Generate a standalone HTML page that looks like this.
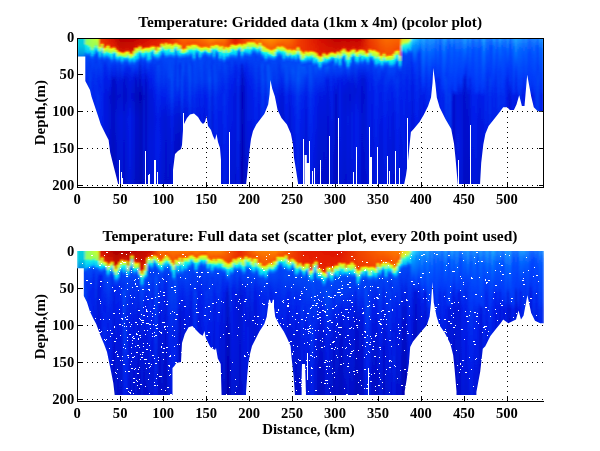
<!DOCTYPE html>
<html><head><meta charset="utf-8"><style>
html,body{margin:0;padding:0;background:#fff;width:600px;height:451px;overflow:hidden}
svg{display:block;will-change:transform}
text{font-family:"Liberation Serif",serif;font-weight:bold;fill:#000}
.t{font-size:14.6px}
.ti{font-size:15.3px}
.l{font-size:15px}
</style></head><body>
<svg width="600" height="451" viewBox="0 0 600 451">
<defs><linearGradient id="a0" gradientUnits="userSpaceOnUse" x1="0" y1="38.0" x2="0" y2="187.0"><stop offset="0.000" stop-color="#00d2dc"/><stop offset="0.054" stop-color="#00c8e1"/><stop offset="0.101" stop-color="#00a0e4"/><stop offset="0.124" stop-color="#0078eb"/><stop offset="0.148" stop-color="#003cfa"/><stop offset="0.188" stop-color="#0334f0"/><stop offset="0.282" stop-color="#042aee"/><stop offset="0.389" stop-color="#0421eb"/><stop offset="0.537" stop-color="#041ce7"/><stop offset="0.718" stop-color="#0419e0"/><stop offset="1.000" stop-color="#0315d7"/></linearGradient><linearGradient id="a1" gradientUnits="userSpaceOnUse" x1="0" y1="38.0" x2="0" y2="187.0"><stop offset="0.000" stop-color="#00d2dc"/><stop offset="0.054" stop-color="#00c8e1"/><stop offset="0.101" stop-color="#00a0e4"/><stop offset="0.124" stop-color="#0078eb"/><stop offset="0.148" stop-color="#003cfa"/><stop offset="0.188" stop-color="#0243f4"/><stop offset="0.282" stop-color="#0339f1"/><stop offset="0.389" stop-color="#0330ef"/><stop offset="0.537" stop-color="#0429ed"/><stop offset="0.718" stop-color="#0421eb"/><stop offset="1.000" stop-color="#041be4"/></linearGradient><linearGradient id="a2" gradientUnits="userSpaceOnUse" x1="0" y1="38.0" x2="0" y2="187.0"><stop offset="0.000" stop-color="#00d2dc"/><stop offset="0.054" stop-color="#00c8e1"/><stop offset="0.101" stop-color="#00a0e4"/><stop offset="0.124" stop-color="#0078eb"/><stop offset="0.148" stop-color="#003cfa"/><stop offset="0.188" stop-color="#032fef"/><stop offset="0.282" stop-color="#0425ec"/><stop offset="0.389" stop-color="#041de9"/><stop offset="0.537" stop-color="#041ae3"/><stop offset="0.718" stop-color="#0317dc"/><stop offset="1.000" stop-color="#0313d2"/></linearGradient><linearGradient id="a3" gradientUnits="userSpaceOnUse" x1="0" y1="38.0" x2="0" y2="187.0"><stop offset="0.000" stop-color="#00d2dc"/><stop offset="0.054" stop-color="#00c8e1"/><stop offset="0.101" stop-color="#00a0e4"/><stop offset="0.124" stop-color="#0078eb"/><stop offset="0.148" stop-color="#003cfa"/><stop offset="0.188" stop-color="#033df2"/><stop offset="0.282" stop-color="#0333f0"/><stop offset="0.389" stop-color="#042aee"/><stop offset="0.537" stop-color="#0423ec"/><stop offset="0.718" stop-color="#041de8"/><stop offset="1.000" stop-color="#0419df"/></linearGradient><linearGradient id="a4" gradientUnits="userSpaceOnUse" x1="0" y1="38.0" x2="0" y2="187.0"><stop offset="0.000" stop-color="#7fff71"/><stop offset="0.038" stop-color="#96ff5a"/><stop offset="0.051" stop-color="#14f0e6"/><stop offset="0.093" stop-color="#00beff"/><stop offset="0.103" stop-color="#0078ff"/><stop offset="0.120" stop-color="#0046f8"/><stop offset="0.295" stop-color="#0427ed"/><stop offset="0.389" stop-color="#0421eb"/><stop offset="0.537" stop-color="#041ce8"/><stop offset="0.718" stop-color="#0419e1"/><stop offset="1.000" stop-color="#0315d7"/></linearGradient><linearGradient id="a5" gradientUnits="userSpaceOnUse" x1="0" y1="38.0" x2="0" y2="187.0"><stop offset="0.000" stop-color="#8eff64"/><stop offset="0.043" stop-color="#96ff5a"/><stop offset="0.056" stop-color="#14f0e6"/><stop offset="0.101" stop-color="#00beff"/><stop offset="0.111" stop-color="#0078ff"/><stop offset="0.127" stop-color="#0046f8"/><stop offset="0.302" stop-color="#0426ed"/><stop offset="0.389" stop-color="#041dea"/><stop offset="0.537" stop-color="#041be4"/><stop offset="0.718" stop-color="#0418dd"/><stop offset="1.000" stop-color="#0314d4"/></linearGradient><linearGradient id="a6" gradientUnits="userSpaceOnUse" x1="0" y1="38.0" x2="0" y2="187.0"><stop offset="0.000" stop-color="#9cff56"/><stop offset="0.054" stop-color="#96ff5a"/><stop offset="0.067" stop-color="#14f0e6"/><stop offset="0.094" stop-color="#00beff"/><stop offset="0.104" stop-color="#0078ff"/><stop offset="0.121" stop-color="#0046f8"/><stop offset="0.174" stop-color="#0334f0"/><stop offset="0.282" stop-color="#023ff3"/><stop offset="0.389" stop-color="#0336f1"/><stop offset="0.537" stop-color="#032fef"/><stop offset="0.718" stop-color="#0427ed"/><stop offset="1.000" stop-color="#041dea"/></linearGradient><linearGradient id="a7" gradientUnits="userSpaceOnUse" x1="0" y1="38.0" x2="0" y2="187.0"><stop offset="0.000" stop-color="#abff49"/><stop offset="0.075" stop-color="#96ff5a"/><stop offset="0.088" stop-color="#14f0e6"/><stop offset="0.118" stop-color="#00beff"/><stop offset="0.128" stop-color="#0078ff"/><stop offset="0.145" stop-color="#0046f8"/><stop offset="0.319" stop-color="#0424ec"/><stop offset="0.389" stop-color="#042cee"/><stop offset="0.537" stop-color="#0426ed"/><stop offset="0.718" stop-color="#041eeb"/><stop offset="1.000" stop-color="#041ae1"/></linearGradient><linearGradient id="a8" gradientUnits="userSpaceOnUse" x1="0" y1="38.0" x2="0" y2="187.0"><stop offset="0.000" stop-color="#baff3c"/><stop offset="0.060" stop-color="#96ff5a"/><stop offset="0.073" stop-color="#14f0e6"/><stop offset="0.103" stop-color="#00beff"/><stop offset="0.113" stop-color="#0078ff"/><stop offset="0.130" stop-color="#0046f8"/><stop offset="0.251" stop-color="#042aee"/><stop offset="0.282" stop-color="#042dee"/><stop offset="0.389" stop-color="#0424ec"/><stop offset="0.537" stop-color="#041eeb"/><stop offset="0.718" stop-color="#041be4"/><stop offset="1.000" stop-color="#0317db"/></linearGradient><linearGradient id="a9" gradientUnits="userSpaceOnUse" x1="0" y1="38.0" x2="0" y2="187.0"><stop offset="0.000" stop-color="#c8ff2e"/><stop offset="0.044" stop-color="#96ff5a"/><stop offset="0.057" stop-color="#14f0e6"/><stop offset="0.080" stop-color="#00beff"/><stop offset="0.090" stop-color="#0078ff"/><stop offset="0.107" stop-color="#0046f8"/><stop offset="0.161" stop-color="#0335f0"/><stop offset="0.188" stop-color="#023ef3"/><stop offset="0.282" stop-color="#0332f0"/><stop offset="0.389" stop-color="#0429ed"/><stop offset="0.537" stop-color="#0424ec"/><stop offset="0.718" stop-color="#041dea"/><stop offset="1.000" stop-color="#0419e0"/></linearGradient><linearGradient id="a10" gradientUnits="userSpaceOnUse" x1="0" y1="38.0" x2="0" y2="187.0"><stop offset="0.000" stop-color="#d7ff21"/><stop offset="0.063" stop-color="#96ff5a"/><stop offset="0.077" stop-color="#14f0e6"/><stop offset="0.090" stop-color="#00beff"/><stop offset="0.100" stop-color="#0078ff"/><stop offset="0.117" stop-color="#0046f8"/><stop offset="0.292" stop-color="#0424ec"/><stop offset="0.389" stop-color="#0331ef"/><stop offset="0.537" stop-color="#042cee"/><stop offset="0.718" stop-color="#0425ec"/><stop offset="1.000" stop-color="#041ce8"/></linearGradient><linearGradient id="a11" gradientUnits="userSpaceOnUse" x1="0" y1="38.0" x2="0" y2="187.0"><stop offset="0.000" stop-color="#eb3c00"/><stop offset="0.047" stop-color="#ed3400"/><stop offset="0.057" stop-color="#ff8c00"/><stop offset="0.063" stop-color="#ebff14"/><stop offset="0.087" stop-color="#96ff64"/><stop offset="0.094" stop-color="#14ffe6"/><stop offset="0.121" stop-color="#00c8ff"/><stop offset="0.134" stop-color="#0078ff"/><stop offset="0.151" stop-color="#0046f8"/><stop offset="0.325" stop-color="#041feb"/><stop offset="0.389" stop-color="#0425ec"/><stop offset="0.537" stop-color="#0422ec"/><stop offset="0.718" stop-color="#041ce8"/><stop offset="1.000" stop-color="#0418de"/></linearGradient><linearGradient id="a12" gradientUnits="userSpaceOnUse" x1="0" y1="38.0" x2="0" y2="187.0"><stop offset="0.000" stop-color="#e73500"/><stop offset="0.028" stop-color="#eb3100"/><stop offset="0.038" stop-color="#ff8c00"/><stop offset="0.044" stop-color="#ebff14"/><stop offset="0.064" stop-color="#96ff64"/><stop offset="0.071" stop-color="#14ffe6"/><stop offset="0.087" stop-color="#00c8ff"/><stop offset="0.101" stop-color="#0078ff"/><stop offset="0.118" stop-color="#0046f8"/><stop offset="0.138" stop-color="#0337f1"/><stop offset="0.188" stop-color="#033df2"/><stop offset="0.282" stop-color="#032fef"/><stop offset="0.389" stop-color="#0426ed"/><stop offset="0.537" stop-color="#0424ec"/><stop offset="0.718" stop-color="#041dea"/><stop offset="1.000" stop-color="#0419e0"/></linearGradient><linearGradient id="a13" gradientUnits="userSpaceOnUse" x1="0" y1="38.0" x2="0" y2="187.0"><stop offset="0.000" stop-color="#e42e00"/><stop offset="0.059" stop-color="#ea2d00"/><stop offset="0.069" stop-color="#ff8c00"/><stop offset="0.076" stop-color="#ebff14"/><stop offset="0.100" stop-color="#96ff64"/><stop offset="0.106" stop-color="#14ffe6"/><stop offset="0.120" stop-color="#00c8ff"/><stop offset="0.134" stop-color="#0078ff"/><stop offset="0.150" stop-color="#0046f8"/><stop offset="0.164" stop-color="#0334f0"/><stop offset="0.188" stop-color="#042aee"/><stop offset="0.282" stop-color="#041de8"/><stop offset="0.389" stop-color="#0419e1"/><stop offset="0.537" stop-color="#0419e0"/><stop offset="0.718" stop-color="#0316d9"/><stop offset="1.000" stop-color="#0312d0"/></linearGradient><linearGradient id="a14" gradientUnits="userSpaceOnUse" x1="0" y1="38.0" x2="0" y2="187.0"><stop offset="0.000" stop-color="#e12800"/><stop offset="0.052" stop-color="#e82a00"/><stop offset="0.062" stop-color="#ff8c00"/><stop offset="0.069" stop-color="#ebff14"/><stop offset="0.088" stop-color="#96ff64"/><stop offset="0.094" stop-color="#14ffe6"/><stop offset="0.111" stop-color="#00c8ff"/><stop offset="0.124" stop-color="#0078ff"/><stop offset="0.141" stop-color="#0046f8"/><stop offset="0.161" stop-color="#0334f0"/><stop offset="0.188" stop-color="#0428ed"/><stop offset="0.282" stop-color="#041be5"/><stop offset="0.389" stop-color="#0418de"/><stop offset="0.537" stop-color="#0418de"/><stop offset="0.718" stop-color="#0316d8"/><stop offset="1.000" stop-color="#0312cf"/></linearGradient><linearGradient id="a15" gradientUnits="userSpaceOnUse" x1="0" y1="38.0" x2="0" y2="187.0"><stop offset="0.000" stop-color="#dd2100"/><stop offset="0.040" stop-color="#e62700"/><stop offset="0.050" stop-color="#ff8c00"/><stop offset="0.057" stop-color="#ebff14"/><stop offset="0.094" stop-color="#96ff64"/><stop offset="0.100" stop-color="#14ffe6"/><stop offset="0.114" stop-color="#00c8ff"/><stop offset="0.128" stop-color="#0078ff"/><stop offset="0.144" stop-color="#0046f8"/><stop offset="0.265" stop-color="#0420eb"/><stop offset="0.389" stop-color="#0317db"/><stop offset="0.537" stop-color="#0418dd"/><stop offset="0.718" stop-color="#0315d7"/><stop offset="1.000" stop-color="#0211cd"/></linearGradient><linearGradient id="a16" gradientUnits="userSpaceOnUse" x1="0" y1="38.0" x2="0" y2="187.0"><stop offset="0.000" stop-color="#da1a00"/><stop offset="0.057" stop-color="#e52300"/><stop offset="0.067" stop-color="#ff8c00"/><stop offset="0.074" stop-color="#ebff14"/><stop offset="0.097" stop-color="#96ff64"/><stop offset="0.104" stop-color="#14ffe6"/><stop offset="0.122" stop-color="#00c8ff"/><stop offset="0.135" stop-color="#0078ff"/><stop offset="0.152" stop-color="#0046f8"/><stop offset="0.326" stop-color="#041ae3"/><stop offset="0.389" stop-color="#0211ce"/><stop offset="0.537" stop-color="#0313d2"/><stop offset="0.718" stop-color="#0210cc"/><stop offset="1.000" stop-color="#020cc2"/></linearGradient><linearGradient id="a17" gradientUnits="userSpaceOnUse" x1="0" y1="38.0" x2="0" y2="187.0"><stop offset="0.000" stop-color="#d71400"/><stop offset="0.059" stop-color="#e32000"/><stop offset="0.069" stop-color="#ff8c00"/><stop offset="0.076" stop-color="#ebff14"/><stop offset="0.103" stop-color="#96ff64"/><stop offset="0.109" stop-color="#14ffe6"/><stop offset="0.136" stop-color="#00c8ff"/><stop offset="0.150" stop-color="#0078ff"/><stop offset="0.167" stop-color="#0046f8"/><stop offset="0.187" stop-color="#032fef"/><stop offset="0.282" stop-color="#0211cc"/><stop offset="0.389" stop-color="#020dc5"/><stop offset="0.537" stop-color="#0210ca"/><stop offset="0.718" stop-color="#020dc4"/><stop offset="1.000" stop-color="#0109bb"/></linearGradient><linearGradient id="a18" gradientUnits="userSpaceOnUse" x1="0" y1="38.0" x2="0" y2="187.0"><stop offset="0.000" stop-color="#ce0f00"/><stop offset="0.053" stop-color="#df1e00"/><stop offset="0.064" stop-color="#ff8c00"/><stop offset="0.070" stop-color="#ebff14"/><stop offset="0.090" stop-color="#96ff64"/><stop offset="0.097" stop-color="#14ffe6"/><stop offset="0.100" stop-color="#00c8ff"/><stop offset="0.114" stop-color="#0078ff"/><stop offset="0.130" stop-color="#0046f8"/><stop offset="0.251" stop-color="#041eeb"/><stop offset="0.282" stop-color="#020ec5"/><stop offset="0.389" stop-color="#010abe"/><stop offset="0.537" stop-color="#020ec5"/><stop offset="0.718" stop-color="#010bbf"/><stop offset="1.000" stop-color="#0107b6"/></linearGradient><linearGradient id="a19" gradientUnits="userSpaceOnUse" x1="0" y1="38.0" x2="0" y2="187.0"><stop offset="0.000" stop-color="#c50a00"/><stop offset="0.068" stop-color="#da1b00"/><stop offset="0.078" stop-color="#ff8c00"/><stop offset="0.084" stop-color="#ebff14"/><stop offset="0.099" stop-color="#96ff64"/><stop offset="0.106" stop-color="#14ffe6"/><stop offset="0.133" stop-color="#00c8ff"/><stop offset="0.146" stop-color="#0078ff"/><stop offset="0.163" stop-color="#0046f8"/><stop offset="0.183" stop-color="#032eef"/><stop offset="0.282" stop-color="#0312d0"/><stop offset="0.389" stop-color="#020fc9"/><stop offset="0.537" stop-color="#0313d2"/><stop offset="0.718" stop-color="#0211cc"/><stop offset="1.000" stop-color="#020dc3"/></linearGradient><linearGradient id="a20" gradientUnits="userSpaceOnUse" x1="0" y1="38.0" x2="0" y2="187.0"><stop offset="0.000" stop-color="#bc0500"/><stop offset="0.080" stop-color="#d61900"/><stop offset="0.090" stop-color="#ff8c00"/><stop offset="0.097" stop-color="#ebff14"/><stop offset="0.122" stop-color="#96ff64"/><stop offset="0.128" stop-color="#14ffe6"/><stop offset="0.140" stop-color="#00c8ff"/><stop offset="0.153" stop-color="#0078ff"/><stop offset="0.170" stop-color="#0046f8"/><stop offset="0.291" stop-color="#0419df"/><stop offset="0.389" stop-color="#0211ce"/><stop offset="0.537" stop-color="#0316d9"/><stop offset="0.718" stop-color="#0314d4"/><stop offset="1.000" stop-color="#0210ca"/></linearGradient><linearGradient id="a21" gradientUnits="userSpaceOnUse" x1="0" y1="38.0" x2="0" y2="187.0"><stop offset="0.000" stop-color="#b40000"/><stop offset="0.085" stop-color="#d21600"/><stop offset="0.095" stop-color="#ff8c00"/><stop offset="0.101" stop-color="#ebff14"/><stop offset="0.116" stop-color="#96ff64"/><stop offset="0.122" stop-color="#14ffe6"/><stop offset="0.127" stop-color="#00c8ff"/><stop offset="0.140" stop-color="#0078ff"/><stop offset="0.157" stop-color="#0046f8"/><stop offset="0.171" stop-color="#0330ef"/><stop offset="0.282" stop-color="#0315d6"/><stop offset="0.389" stop-color="#0211ce"/><stop offset="0.537" stop-color="#0317db"/><stop offset="0.718" stop-color="#0315d6"/><stop offset="1.000" stop-color="#0211cc"/></linearGradient><linearGradient id="a22" gradientUnits="userSpaceOnUse" x1="0" y1="38.0" x2="0" y2="187.0"><stop offset="0.000" stop-color="#b50000"/><stop offset="0.089" stop-color="#d21600"/><stop offset="0.099" stop-color="#ff8c00"/><stop offset="0.106" stop-color="#ebff14"/><stop offset="0.121" stop-color="#96ff64"/><stop offset="0.128" stop-color="#14ffe6"/><stop offset="0.152" stop-color="#00c8ff"/><stop offset="0.166" stop-color="#0078ff"/><stop offset="0.183" stop-color="#0046f8"/><stop offset="0.303" stop-color="#0316d9"/><stop offset="0.389" stop-color="#0313d2"/><stop offset="0.537" stop-color="#0419e0"/><stop offset="0.718" stop-color="#0317db"/><stop offset="1.000" stop-color="#0313d2"/></linearGradient><linearGradient id="a23" gradientUnits="userSpaceOnUse" x1="0" y1="38.0" x2="0" y2="187.0"><stop offset="0.000" stop-color="#b60000"/><stop offset="0.090" stop-color="#d31600"/><stop offset="0.100" stop-color="#ff8c00"/><stop offset="0.107" stop-color="#ebff14"/><stop offset="0.123" stop-color="#96ff64"/><stop offset="0.129" stop-color="#14ffe6"/><stop offset="0.133" stop-color="#00c8ff"/><stop offset="0.146" stop-color="#0078ff"/><stop offset="0.163" stop-color="#0046f8"/><stop offset="0.243" stop-color="#041ce7"/><stop offset="0.282" stop-color="#0210cb"/><stop offset="0.389" stop-color="#020dc3"/><stop offset="0.537" stop-color="#0313d3"/><stop offset="0.718" stop-color="#0211ce"/><stop offset="1.000" stop-color="#020dc5"/></linearGradient><linearGradient id="a24" gradientUnits="userSpaceOnUse" x1="0" y1="38.0" x2="0" y2="187.0"><stop offset="0.000" stop-color="#b70000"/><stop offset="0.082" stop-color="#d31600"/><stop offset="0.092" stop-color="#ff8c00"/><stop offset="0.099" stop-color="#ebff14"/><stop offset="0.127" stop-color="#96ff64"/><stop offset="0.134" stop-color="#14ffe6"/><stop offset="0.137" stop-color="#00c8ff"/><stop offset="0.150" stop-color="#0078ff"/><stop offset="0.167" stop-color="#0046f8"/><stop offset="0.201" stop-color="#0427ed"/><stop offset="0.282" stop-color="#0313d2"/><stop offset="0.389" stop-color="#020fca"/><stop offset="0.537" stop-color="#0317da"/><stop offset="0.718" stop-color="#0315d6"/><stop offset="1.000" stop-color="#0211cc"/></linearGradient><linearGradient id="a25" gradientUnits="userSpaceOnUse" x1="0" y1="38.0" x2="0" y2="187.0"><stop offset="0.000" stop-color="#b90000"/><stop offset="0.080" stop-color="#d41600"/><stop offset="0.090" stop-color="#ff8c00"/><stop offset="0.096" stop-color="#ebff14"/><stop offset="0.114" stop-color="#96ff64"/><stop offset="0.121" stop-color="#14ffe6"/><stop offset="0.131" stop-color="#00c8ff"/><stop offset="0.145" stop-color="#0078ff"/><stop offset="0.162" stop-color="#0046f8"/><stop offset="0.195" stop-color="#0428ed"/><stop offset="0.282" stop-color="#0316d8"/><stop offset="0.389" stop-color="#0312d0"/><stop offset="0.537" stop-color="#041ae1"/><stop offset="0.718" stop-color="#0418dd"/><stop offset="1.000" stop-color="#0314d4"/></linearGradient><linearGradient id="a26" gradientUnits="userSpaceOnUse" x1="0" y1="38.0" x2="0" y2="187.0"><stop offset="0.000" stop-color="#ba0000"/><stop offset="0.094" stop-color="#d51600"/><stop offset="0.104" stop-color="#ff8c00"/><stop offset="0.111" stop-color="#ebff14"/><stop offset="0.133" stop-color="#96ff64"/><stop offset="0.140" stop-color="#14ffe6"/><stop offset="0.154" stop-color="#00c8ff"/><stop offset="0.168" stop-color="#0078ff"/><stop offset="0.184" stop-color="#0046f8"/><stop offset="0.205" stop-color="#0426ed"/><stop offset="0.282" stop-color="#041ae1"/><stop offset="0.389" stop-color="#0316d9"/><stop offset="0.537" stop-color="#041dea"/><stop offset="0.718" stop-color="#041ce6"/><stop offset="1.000" stop-color="#0418dd"/></linearGradient><linearGradient id="a27" gradientUnits="userSpaceOnUse" x1="0" y1="38.0" x2="0" y2="187.0"><stop offset="0.000" stop-color="#bb0000"/><stop offset="0.097" stop-color="#d51600"/><stop offset="0.107" stop-color="#ff8c00"/><stop offset="0.114" stop-color="#ebff14"/><stop offset="0.128" stop-color="#96ff64"/><stop offset="0.135" stop-color="#14ffe6"/><stop offset="0.139" stop-color="#00c8ff"/><stop offset="0.152" stop-color="#0078ff"/><stop offset="0.169" stop-color="#0046f8"/><stop offset="0.290" stop-color="#0316d8"/><stop offset="0.389" stop-color="#0210cc"/><stop offset="0.537" stop-color="#0418dd"/><stop offset="0.718" stop-color="#0316d9"/><stop offset="1.000" stop-color="#0312d0"/></linearGradient><linearGradient id="a28" gradientUnits="userSpaceOnUse" x1="0" y1="38.0" x2="0" y2="187.0"><stop offset="0.000" stop-color="#bc0000"/><stop offset="0.077" stop-color="#d61600"/><stop offset="0.087" stop-color="#ff8c00"/><stop offset="0.093" stop-color="#ebff14"/><stop offset="0.117" stop-color="#96ff64"/><stop offset="0.123" stop-color="#14ffe6"/><stop offset="0.154" stop-color="#00c8ff"/><stop offset="0.167" stop-color="#0078ff"/><stop offset="0.184" stop-color="#0046f8"/><stop offset="0.265" stop-color="#0419df"/><stop offset="0.389" stop-color="#0210ca"/><stop offset="0.537" stop-color="#0317da"/><stop offset="0.718" stop-color="#0315d7"/><stop offset="1.000" stop-color="#0211ce"/></linearGradient><linearGradient id="a29" gradientUnits="userSpaceOnUse" x1="0" y1="38.0" x2="0" y2="187.0"><stop offset="0.000" stop-color="#be0000"/><stop offset="0.057" stop-color="#d71600"/><stop offset="0.067" stop-color="#ff8c00"/><stop offset="0.073" stop-color="#ebff14"/><stop offset="0.100" stop-color="#96ff64"/><stop offset="0.107" stop-color="#14ffe6"/><stop offset="0.139" stop-color="#00c8ff"/><stop offset="0.152" stop-color="#0078ff"/><stop offset="0.169" stop-color="#0046f8"/><stop offset="0.223" stop-color="#0421eb"/><stop offset="0.282" stop-color="#020cc1"/><stop offset="0.389" stop-color="#0108b8"/><stop offset="0.537" stop-color="#020ec7"/><stop offset="0.718" stop-color="#020dc4"/><stop offset="1.000" stop-color="#0109bb"/></linearGradient><linearGradient id="a30" gradientUnits="userSpaceOnUse" x1="0" y1="38.0" x2="0" y2="187.0"><stop offset="0.000" stop-color="#c10200"/><stop offset="0.058" stop-color="#d81700"/><stop offset="0.068" stop-color="#ff8c00"/><stop offset="0.075" stop-color="#ebff14"/><stop offset="0.095" stop-color="#96ff64"/><stop offset="0.101" stop-color="#14ffe6"/><stop offset="0.133" stop-color="#00c8ff"/><stop offset="0.147" stop-color="#0078ff"/><stop offset="0.164" stop-color="#0046f8"/><stop offset="0.284" stop-color="#0317dc"/><stop offset="0.389" stop-color="#010bc0"/><stop offset="0.537" stop-color="#0211cd"/><stop offset="0.718" stop-color="#0210cb"/><stop offset="1.000" stop-color="#020cc3"/></linearGradient><linearGradient id="a31" gradientUnits="userSpaceOnUse" x1="0" y1="38.0" x2="0" y2="187.0"><stop offset="0.000" stop-color="#c50400"/><stop offset="0.046" stop-color="#da1800"/><stop offset="0.056" stop-color="#ff8c00"/><stop offset="0.063" stop-color="#ebff14"/><stop offset="0.083" stop-color="#96ff64"/><stop offset="0.090" stop-color="#14ffe6"/><stop offset="0.093" stop-color="#00c8ff"/><stop offset="0.107" stop-color="#0078ff"/><stop offset="0.123" stop-color="#0046f8"/><stop offset="0.144" stop-color="#0335f0"/><stop offset="0.188" stop-color="#0314d5"/><stop offset="0.282" stop-color="#010abc"/><stop offset="0.389" stop-color="#0005b1"/><stop offset="0.537" stop-color="#010abd"/><stop offset="0.718" stop-color="#010abc"/><stop offset="1.000" stop-color="#0106b4"/></linearGradient><linearGradient id="a32" gradientUnits="userSpaceOnUse" x1="0" y1="38.0" x2="0" y2="187.0"><stop offset="0.000" stop-color="#c80600"/><stop offset="0.065" stop-color="#dc1900"/><stop offset="0.075" stop-color="#ff8c00"/><stop offset="0.082" stop-color="#ebff14"/><stop offset="0.099" stop-color="#96ff64"/><stop offset="0.105" stop-color="#14ffe6"/><stop offset="0.120" stop-color="#00c8ff"/><stop offset="0.134" stop-color="#0078ff"/><stop offset="0.151" stop-color="#0046f8"/><stop offset="0.271" stop-color="#041ae2"/><stop offset="0.389" stop-color="#0106b3"/><stop offset="0.537" stop-color="#010abc"/><stop offset="0.718" stop-color="#010abd"/><stop offset="1.000" stop-color="#0106b5"/></linearGradient><linearGradient id="a33" gradientUnits="userSpaceOnUse" x1="0" y1="38.0" x2="0" y2="187.0"><stop offset="0.000" stop-color="#cc0800"/><stop offset="0.060" stop-color="#de1a00"/><stop offset="0.070" stop-color="#ff8c00"/><stop offset="0.077" stop-color="#ebff14"/><stop offset="0.097" stop-color="#96ff64"/><stop offset="0.103" stop-color="#14ffe6"/><stop offset="0.122" stop-color="#00c8ff"/><stop offset="0.136" stop-color="#0078ff"/><stop offset="0.152" stop-color="#0046f8"/><stop offset="0.166" stop-color="#0332f0"/><stop offset="0.188" stop-color="#0429ed"/><stop offset="0.282" stop-color="#0418de"/><stop offset="0.389" stop-color="#0313d1"/><stop offset="0.537" stop-color="#0315d7"/><stop offset="0.718" stop-color="#0316d9"/><stop offset="1.000" stop-color="#0313d1"/></linearGradient><linearGradient id="a34" gradientUnits="userSpaceOnUse" x1="0" y1="38.0" x2="0" y2="187.0"><stop offset="0.000" stop-color="#cf0a00"/><stop offset="0.056" stop-color="#df1b00"/><stop offset="0.066" stop-color="#ff8c00"/><stop offset="0.072" stop-color="#ebff14"/><stop offset="0.086" stop-color="#96ff64"/><stop offset="0.093" stop-color="#14ffe6"/><stop offset="0.104" stop-color="#00c8ff"/><stop offset="0.118" stop-color="#0078ff"/><stop offset="0.134" stop-color="#0046f8"/><stop offset="0.188" stop-color="#032eef"/><stop offset="0.282" stop-color="#020fc9"/><stop offset="0.389" stop-color="#0109bc"/><stop offset="0.537" stop-color="#010bbf"/><stop offset="0.718" stop-color="#020cc2"/><stop offset="1.000" stop-color="#0109bb"/></linearGradient><linearGradient id="a35" gradientUnits="userSpaceOnUse" x1="0" y1="38.0" x2="0" y2="187.0"><stop offset="0.000" stop-color="#d30c00"/><stop offset="0.056" stop-color="#e11c00"/><stop offset="0.066" stop-color="#ff8c00"/><stop offset="0.073" stop-color="#ebff14"/><stop offset="0.095" stop-color="#96ff64"/><stop offset="0.102" stop-color="#14ffe6"/><stop offset="0.143" stop-color="#00c8ff"/><stop offset="0.156" stop-color="#0078ff"/><stop offset="0.173" stop-color="#0046f8"/><stop offset="0.254" stop-color="#0420eb"/><stop offset="0.282" stop-color="#041ae2"/><stop offset="0.389" stop-color="#0314d3"/><stop offset="0.537" stop-color="#0314d4"/><stop offset="0.718" stop-color="#0316d9"/><stop offset="1.000" stop-color="#0313d1"/></linearGradient><linearGradient id="a36" gradientUnits="userSpaceOnUse" x1="0" y1="38.0" x2="0" y2="187.0"><stop offset="0.000" stop-color="#d70f00"/><stop offset="0.054" stop-color="#e31e00"/><stop offset="0.065" stop-color="#ff8c00"/><stop offset="0.071" stop-color="#ebff14"/><stop offset="0.090" stop-color="#96ff64"/><stop offset="0.096" stop-color="#14ffe6"/><stop offset="0.138" stop-color="#00c8ff"/><stop offset="0.151" stop-color="#0078ff"/><stop offset="0.168" stop-color="#0046f8"/><stop offset="0.181" stop-color="#0332f0"/><stop offset="0.282" stop-color="#041dea"/><stop offset="0.389" stop-color="#0317db"/><stop offset="0.537" stop-color="#0316d9"/><stop offset="0.718" stop-color="#0418de"/><stop offset="1.000" stop-color="#0315d7"/></linearGradient><linearGradient id="a37" gradientUnits="userSpaceOnUse" x1="0" y1="38.0" x2="0" y2="187.0"><stop offset="0.000" stop-color="#d81100"/><stop offset="0.047" stop-color="#e41f00"/><stop offset="0.057" stop-color="#ff8c00"/><stop offset="0.064" stop-color="#ebff14"/><stop offset="0.080" stop-color="#96ff64"/><stop offset="0.086" stop-color="#14ffe6"/><stop offset="0.090" stop-color="#00c8ff"/><stop offset="0.104" stop-color="#0078ff"/><stop offset="0.121" stop-color="#0046f8"/><stop offset="0.174" stop-color="#0334f0"/><stop offset="0.282" stop-color="#041de9"/><stop offset="0.389" stop-color="#0316d9"/><stop offset="0.537" stop-color="#0314d5"/><stop offset="0.718" stop-color="#0316da"/><stop offset="1.000" stop-color="#0313d3"/></linearGradient><linearGradient id="a38" gradientUnits="userSpaceOnUse" x1="0" y1="38.0" x2="0" y2="187.0"><stop offset="0.000" stop-color="#da1400"/><stop offset="0.047" stop-color="#e52000"/><stop offset="0.057" stop-color="#ff8c00"/><stop offset="0.064" stop-color="#ebff14"/><stop offset="0.078" stop-color="#96ff64"/><stop offset="0.085" stop-color="#14ffe6"/><stop offset="0.114" stop-color="#00c8ff"/><stop offset="0.127" stop-color="#0078ff"/><stop offset="0.144" stop-color="#0046f8"/><stop offset="0.198" stop-color="#0332f0"/><stop offset="0.282" stop-color="#0427ed"/><stop offset="0.389" stop-color="#041ae3"/><stop offset="0.537" stop-color="#0317db"/><stop offset="0.718" stop-color="#0419e0"/><stop offset="1.000" stop-color="#0316d9"/></linearGradient><linearGradient id="a39" gradientUnits="userSpaceOnUse" x1="0" y1="38.0" x2="0" y2="187.0"><stop offset="0.000" stop-color="#dc1700"/><stop offset="0.073" stop-color="#e62200"/><stop offset="0.083" stop-color="#ff8c00"/><stop offset="0.089" stop-color="#ebff14"/><stop offset="0.105" stop-color="#96ff64"/><stop offset="0.112" stop-color="#14ffe6"/><stop offset="0.119" stop-color="#00c8ff"/><stop offset="0.133" stop-color="#0078ff"/><stop offset="0.149" stop-color="#0046f8"/><stop offset="0.183" stop-color="#0336f1"/><stop offset="0.282" stop-color="#0330ef"/><stop offset="0.389" stop-color="#041dea"/><stop offset="0.537" stop-color="#0419e0"/><stop offset="0.718" stop-color="#041be4"/><stop offset="1.000" stop-color="#0418dd"/></linearGradient><linearGradient id="a40" gradientUnits="userSpaceOnUse" x1="0" y1="38.0" x2="0" y2="187.0"><stop offset="0.000" stop-color="#dd1a00"/><stop offset="0.049" stop-color="#e62300"/><stop offset="0.059" stop-color="#ff8c00"/><stop offset="0.066" stop-color="#ebff14"/><stop offset="0.094" stop-color="#96ff64"/><stop offset="0.100" stop-color="#14ffe6"/><stop offset="0.123" stop-color="#00c8ff"/><stop offset="0.137" stop-color="#0078ff"/><stop offset="0.154" stop-color="#0046f8"/><stop offset="0.167" stop-color="#0339f1"/><stop offset="0.188" stop-color="#0249f5"/><stop offset="0.282" stop-color="#033df2"/><stop offset="0.389" stop-color="#042bee"/><stop offset="0.537" stop-color="#041de9"/><stop offset="0.718" stop-color="#041feb"/><stop offset="1.000" stop-color="#041be5"/></linearGradient><linearGradient id="a41" gradientUnits="userSpaceOnUse" x1="0" y1="38.0" x2="0" y2="187.0"><stop offset="0.000" stop-color="#df1c00"/><stop offset="0.054" stop-color="#e72400"/><stop offset="0.064" stop-color="#ff8c00"/><stop offset="0.070" stop-color="#ebff14"/><stop offset="0.084" stop-color="#96ff64"/><stop offset="0.091" stop-color="#14ffe6"/><stop offset="0.111" stop-color="#00c8ff"/><stop offset="0.125" stop-color="#0078ff"/><stop offset="0.141" stop-color="#0046f8"/><stop offset="0.155" stop-color="#033bf2"/><stop offset="0.188" stop-color="#023ff3"/><stop offset="0.282" stop-color="#0336f1"/><stop offset="0.389" stop-color="#0424ec"/><stop offset="0.537" stop-color="#0419e0"/><stop offset="0.718" stop-color="#041ae2"/><stop offset="1.000" stop-color="#0317db"/></linearGradient><linearGradient id="a42" gradientUnits="userSpaceOnUse" x1="0" y1="38.0" x2="0" y2="187.0"><stop offset="0.000" stop-color="#e11f00"/><stop offset="0.027" stop-color="#e82600"/><stop offset="0.037" stop-color="#ff8c00"/><stop offset="0.044" stop-color="#ebff14"/><stop offset="0.058" stop-color="#96ff64"/><stop offset="0.065" stop-color="#14ffe6"/><stop offset="0.085" stop-color="#00c8ff"/><stop offset="0.099" stop-color="#0078ff"/><stop offset="0.115" stop-color="#0046f8"/><stop offset="0.169" stop-color="#033cf2"/><stop offset="0.282" stop-color="#0330ef"/><stop offset="0.389" stop-color="#041feb"/><stop offset="0.537" stop-color="#0316d9"/><stop offset="0.718" stop-color="#0316d9"/><stop offset="1.000" stop-color="#0313d1"/></linearGradient><linearGradient id="a43" gradientUnits="userSpaceOnUse" x1="0" y1="38.0" x2="0" y2="187.0"><stop offset="0.000" stop-color="#e22200"/><stop offset="0.038" stop-color="#e92700"/><stop offset="0.048" stop-color="#ff8c00"/><stop offset="0.055" stop-color="#ebff14"/><stop offset="0.070" stop-color="#96ff64"/><stop offset="0.077" stop-color="#14ffe6"/><stop offset="0.093" stop-color="#00c8ff"/><stop offset="0.106" stop-color="#0078ff"/><stop offset="0.123" stop-color="#0046f8"/><stop offset="0.297" stop-color="#0338f1"/><stop offset="0.389" stop-color="#0420eb"/><stop offset="0.537" stop-color="#0315d7"/><stop offset="0.718" stop-color="#0314d5"/><stop offset="1.000" stop-color="#0211cd"/></linearGradient><linearGradient id="a44" gradientUnits="userSpaceOnUse" x1="0" y1="38.0" x2="0" y2="187.0"><stop offset="0.000" stop-color="#e42500"/><stop offset="0.023" stop-color="#ea2900"/><stop offset="0.033" stop-color="#ff8c00"/><stop offset="0.040" stop-color="#ebff14"/><stop offset="0.080" stop-color="#96ff64"/><stop offset="0.087" stop-color="#14ffe6"/><stop offset="0.110" stop-color="#00c8ff"/><stop offset="0.124" stop-color="#0078ff"/><stop offset="0.141" stop-color="#0046f8"/><stop offset="0.194" stop-color="#023ff3"/><stop offset="0.282" stop-color="#042dee"/><stop offset="0.389" stop-color="#041eeb"/><stop offset="0.537" stop-color="#0313d3"/><stop offset="0.718" stop-color="#0211ce"/><stop offset="1.000" stop-color="#020ec6"/></linearGradient><linearGradient id="a45" gradientUnits="userSpaceOnUse" x1="0" y1="38.0" x2="0" y2="187.0"><stop offset="0.000" stop-color="#e62800"/><stop offset="0.034" stop-color="#eb2a00"/><stop offset="0.045" stop-color="#ff8c00"/><stop offset="0.051" stop-color="#ebff14"/><stop offset="0.071" stop-color="#96ff64"/><stop offset="0.078" stop-color="#14ffe6"/><stop offset="0.107" stop-color="#00c8ff"/><stop offset="0.121" stop-color="#0078ff"/><stop offset="0.137" stop-color="#0046f8"/><stop offset="0.258" stop-color="#0242f4"/><stop offset="0.282" stop-color="#0339f1"/><stop offset="0.389" stop-color="#042cee"/><stop offset="0.537" stop-color="#0418dd"/><stop offset="0.718" stop-color="#0315d6"/><stop offset="1.000" stop-color="#0211cd"/></linearGradient><linearGradient id="a46" gradientUnits="userSpaceOnUse" x1="0" y1="38.0" x2="0" y2="187.0"><stop offset="0.000" stop-color="#e93200"/><stop offset="0.028" stop-color="#ec2f00"/><stop offset="0.038" stop-color="#ff8c00"/><stop offset="0.044" stop-color="#ebff14"/><stop offset="0.070" stop-color="#96ff64"/><stop offset="0.076" stop-color="#14ffe6"/><stop offset="0.103" stop-color="#00c8ff"/><stop offset="0.117" stop-color="#0078ff"/><stop offset="0.133" stop-color="#0046f8"/><stop offset="0.254" stop-color="#0246f5"/><stop offset="0.282" stop-color="#0337f1"/><stop offset="0.389" stop-color="#042bee"/><stop offset="0.537" stop-color="#0317da"/><stop offset="0.718" stop-color="#0313d1"/><stop offset="1.000" stop-color="#020fc9"/></linearGradient><linearGradient id="a47" gradientUnits="userSpaceOnUse" x1="0" y1="38.0" x2="0" y2="187.0"><stop offset="0.000" stop-color="#ec3c00"/><stop offset="0.039" stop-color="#ee3400"/><stop offset="0.049" stop-color="#ff8c00"/><stop offset="0.056" stop-color="#ebff14"/><stop offset="0.091" stop-color="#96ff64"/><stop offset="0.098" stop-color="#14ffe6"/><stop offset="0.105" stop-color="#00c8ff"/><stop offset="0.118" stop-color="#0078ff"/><stop offset="0.135" stop-color="#0046f8"/><stop offset="0.189" stop-color="#0244f4"/><stop offset="0.282" stop-color="#014ff7"/><stop offset="0.389" stop-color="#0244f4"/><stop offset="0.537" stop-color="#0422ec"/><stop offset="0.718" stop-color="#041be4"/><stop offset="1.000" stop-color="#0317db"/></linearGradient><linearGradient id="a48" gradientUnits="userSpaceOnUse" x1="0" y1="38.0" x2="0" y2="187.0"><stop offset="0.000" stop-color="#f04600"/><stop offset="0.031" stop-color="#f03900"/><stop offset="0.041" stop-color="#ff8c00"/><stop offset="0.048" stop-color="#ebff14"/><stop offset="0.069" stop-color="#96ff64"/><stop offset="0.076" stop-color="#14ffe6"/><stop offset="0.110" stop-color="#00c8ff"/><stop offset="0.124" stop-color="#0078ff"/><stop offset="0.141" stop-color="#0046f8"/><stop offset="0.194" stop-color="#0245f4"/><stop offset="0.282" stop-color="#0336f1"/><stop offset="0.389" stop-color="#042bee"/><stop offset="0.537" stop-color="#0316d9"/><stop offset="0.718" stop-color="#0211cc"/><stop offset="1.000" stop-color="#020dc3"/></linearGradient><linearGradient id="a49" gradientUnits="userSpaceOnUse" x1="0" y1="38.0" x2="0" y2="187.0"><stop offset="0.000" stop-color="#f35000"/><stop offset="0.024" stop-color="#f13e00"/><stop offset="0.034" stop-color="#ff8c00"/><stop offset="0.041" stop-color="#ebff14"/><stop offset="0.056" stop-color="#96ff64"/><stop offset="0.063" stop-color="#14ffe6"/><stop offset="0.074" stop-color="#00c8ff"/><stop offset="0.088" stop-color="#0078ff"/><stop offset="0.105" stop-color="#0046f8"/><stop offset="0.125" stop-color="#0241f3"/><stop offset="0.188" stop-color="#042dee"/><stop offset="0.282" stop-color="#0334f0"/><stop offset="0.389" stop-color="#0429ed"/><stop offset="0.537" stop-color="#0315d6"/><stop offset="0.718" stop-color="#020fc9"/><stop offset="1.000" stop-color="#010bc0"/></linearGradient><linearGradient id="a50" gradientUnits="userSpaceOnUse" x1="0" y1="38.0" x2="0" y2="187.0"><stop offset="0.000" stop-color="#f65a00"/><stop offset="0.033" stop-color="#f34300"/><stop offset="0.043" stop-color="#ff8c00"/><stop offset="0.050" stop-color="#ebff14"/><stop offset="0.082" stop-color="#96ff64"/><stop offset="0.089" stop-color="#14ffe6"/><stop offset="0.107" stop-color="#00c8ff"/><stop offset="0.120" stop-color="#0078ff"/><stop offset="0.137" stop-color="#0046f8"/><stop offset="0.311" stop-color="#024cf6"/><stop offset="0.389" stop-color="#0429ed"/><stop offset="0.537" stop-color="#0315d7"/><stop offset="0.718" stop-color="#020fc9"/><stop offset="1.000" stop-color="#010bc0"/></linearGradient><linearGradient id="a51" gradientUnits="userSpaceOnUse" x1="0" y1="38.0" x2="0" y2="187.0"><stop offset="0.000" stop-color="#fa6400"/><stop offset="0.037" stop-color="#f54800"/><stop offset="0.047" stop-color="#ff8c00"/><stop offset="0.053" stop-color="#ebff14"/><stop offset="0.071" stop-color="#96ff64"/><stop offset="0.077" stop-color="#14ffe6"/><stop offset="0.114" stop-color="#00c8ff"/><stop offset="0.127" stop-color="#0078ff"/><stop offset="0.144" stop-color="#0046f8"/><stop offset="0.158" stop-color="#0243f4"/><stop offset="0.188" stop-color="#041eeb"/><stop offset="0.282" stop-color="#0425ec"/><stop offset="0.389" stop-color="#041ce8"/><stop offset="0.537" stop-color="#0210cb"/><stop offset="0.718" stop-color="#010abd"/><stop offset="1.000" stop-color="#0106b3"/></linearGradient><linearGradient id="a52" gradientUnits="userSpaceOnUse" x1="0" y1="38.0" x2="0" y2="187.0"><stop offset="0.000" stop-color="#fa6500"/><stop offset="0.064" stop-color="#f54900"/><stop offset="0.074" stop-color="#ff8c00"/><stop offset="0.081" stop-color="#ebff14"/><stop offset="0.098" stop-color="#96ff64"/><stop offset="0.104" stop-color="#14ffe6"/><stop offset="0.108" stop-color="#00c8ff"/><stop offset="0.121" stop-color="#0078ff"/><stop offset="0.138" stop-color="#0046f8"/><stop offset="0.151" stop-color="#0242f4"/><stop offset="0.188" stop-color="#0249f5"/><stop offset="0.282" stop-color="#014ff7"/><stop offset="0.389" stop-color="#0244f4"/><stop offset="0.537" stop-color="#0425ec"/><stop offset="0.718" stop-color="#041ae3"/><stop offset="1.000" stop-color="#0316da"/></linearGradient><linearGradient id="a53" gradientUnits="userSpaceOnUse" x1="0" y1="38.0" x2="0" y2="187.0"><stop offset="0.000" stop-color="#fa6600"/><stop offset="0.064" stop-color="#f54900"/><stop offset="0.074" stop-color="#ff8c00"/><stop offset="0.081" stop-color="#ebff14"/><stop offset="0.099" stop-color="#96ff64"/><stop offset="0.106" stop-color="#14ffe6"/><stop offset="0.109" stop-color="#00c8ff"/><stop offset="0.123" stop-color="#0078ff"/><stop offset="0.139" stop-color="#0046f8"/><stop offset="0.220" stop-color="#0246f5"/><stop offset="0.282" stop-color="#042cee"/><stop offset="0.389" stop-color="#0421eb"/><stop offset="0.537" stop-color="#0314d3"/><stop offset="0.718" stop-color="#020ec6"/><stop offset="1.000" stop-color="#010abd"/></linearGradient><linearGradient id="a54" gradientUnits="userSpaceOnUse" x1="0" y1="38.0" x2="0" y2="187.0"><stop offset="0.000" stop-color="#fa6700"/><stop offset="0.059" stop-color="#f54a00"/><stop offset="0.069" stop-color="#ff8c00"/><stop offset="0.076" stop-color="#ebff14"/><stop offset="0.093" stop-color="#96ff64"/><stop offset="0.099" stop-color="#14ffe6"/><stop offset="0.103" stop-color="#00c8ff"/><stop offset="0.116" stop-color="#0078ff"/><stop offset="0.133" stop-color="#0046f8"/><stop offset="0.146" stop-color="#0241f3"/><stop offset="0.188" stop-color="#0332f0"/><stop offset="0.282" stop-color="#0335f0"/><stop offset="0.389" stop-color="#0429ed"/><stop offset="0.537" stop-color="#0317dc"/><stop offset="0.718" stop-color="#0312cf"/><stop offset="1.000" stop-color="#020ec6"/></linearGradient><linearGradient id="a55" gradientUnits="userSpaceOnUse" x1="0" y1="38.0" x2="0" y2="187.0"><stop offset="0.000" stop-color="#fa6800"/><stop offset="0.039" stop-color="#f54a00"/><stop offset="0.049" stop-color="#ff8c00"/><stop offset="0.056" stop-color="#ebff14"/><stop offset="0.079" stop-color="#96ff64"/><stop offset="0.085" stop-color="#14ffe6"/><stop offset="0.107" stop-color="#00c8ff"/><stop offset="0.120" stop-color="#0078ff"/><stop offset="0.137" stop-color="#0046f8"/><stop offset="0.217" stop-color="#0245f4"/><stop offset="0.282" stop-color="#0336f1"/><stop offset="0.389" stop-color="#0428ed"/><stop offset="0.537" stop-color="#0418dd"/><stop offset="0.718" stop-color="#0313d1"/><stop offset="1.000" stop-color="#020fc8"/></linearGradient><linearGradient id="a56" gradientUnits="userSpaceOnUse" x1="0" y1="38.0" x2="0" y2="187.0"><stop offset="0.000" stop-color="#fa6900"/><stop offset="0.044" stop-color="#f54b00"/><stop offset="0.054" stop-color="#ff8c00"/><stop offset="0.061" stop-color="#ebff14"/><stop offset="0.075" stop-color="#96ff64"/><stop offset="0.082" stop-color="#14ffe6"/><stop offset="0.097" stop-color="#00c8ff"/><stop offset="0.111" stop-color="#0078ff"/><stop offset="0.128" stop-color="#0046f8"/><stop offset="0.161" stop-color="#0241f3"/><stop offset="0.188" stop-color="#0150f7"/><stop offset="0.282" stop-color="#0151f7"/><stop offset="0.389" stop-color="#0242f4"/><stop offset="0.537" stop-color="#042bee"/><stop offset="0.718" stop-color="#041eeb"/><stop offset="1.000" stop-color="#041ae1"/></linearGradient><linearGradient id="a57" gradientUnits="userSpaceOnUse" x1="0" y1="38.0" x2="0" y2="187.0"><stop offset="0.000" stop-color="#fa6a00"/><stop offset="0.035" stop-color="#f54b00"/><stop offset="0.045" stop-color="#ff8c00"/><stop offset="0.052" stop-color="#ebff14"/><stop offset="0.073" stop-color="#96ff64"/><stop offset="0.079" stop-color="#14ffe6"/><stop offset="0.100" stop-color="#00c8ff"/><stop offset="0.113" stop-color="#0078ff"/><stop offset="0.130" stop-color="#0046f8"/><stop offset="0.150" stop-color="#0241f3"/><stop offset="0.188" stop-color="#0330ef"/><stop offset="0.282" stop-color="#0330ef"/><stop offset="0.389" stop-color="#041feb"/><stop offset="0.537" stop-color="#0316d9"/><stop offset="0.718" stop-color="#0312cf"/><stop offset="1.000" stop-color="#020dc5"/></linearGradient><linearGradient id="a58" gradientUnits="userSpaceOnUse" x1="0" y1="38.0" x2="0" y2="187.0"><stop offset="0.000" stop-color="#fa6b00"/><stop offset="0.034" stop-color="#f54c00"/><stop offset="0.044" stop-color="#ff8c00"/><stop offset="0.051" stop-color="#ebff14"/><stop offset="0.079" stop-color="#96ff64"/><stop offset="0.086" stop-color="#14ffe6"/><stop offset="0.130" stop-color="#00c8ff"/><stop offset="0.144" stop-color="#0078ff"/><stop offset="0.161" stop-color="#0046f8"/><stop offset="0.281" stop-color="#0242f4"/><stop offset="0.389" stop-color="#0333f0"/><stop offset="0.537" stop-color="#0420eb"/><stop offset="0.718" stop-color="#041ae3"/><stop offset="1.000" stop-color="#0316d9"/></linearGradient><linearGradient id="a59" gradientUnits="userSpaceOnUse" x1="0" y1="38.0" x2="0" y2="187.0"><stop offset="0.000" stop-color="#fa6c00"/><stop offset="0.035" stop-color="#f54c00"/><stop offset="0.045" stop-color="#ff8c00"/><stop offset="0.052" stop-color="#ebff14"/><stop offset="0.067" stop-color="#96ff64"/><stop offset="0.074" stop-color="#14ffe6"/><stop offset="0.090" stop-color="#00c8ff"/><stop offset="0.103" stop-color="#0078ff"/><stop offset="0.120" stop-color="#0046f8"/><stop offset="0.294" stop-color="#0240f3"/><stop offset="0.389" stop-color="#0425ec"/><stop offset="0.537" stop-color="#041ae2"/><stop offset="0.718" stop-color="#0316d9"/><stop offset="1.000" stop-color="#0312cf"/></linearGradient><linearGradient id="a60" gradientUnits="userSpaceOnUse" x1="0" y1="38.0" x2="0" y2="187.0"><stop offset="0.000" stop-color="#fa6d00"/><stop offset="0.044" stop-color="#f54d00"/><stop offset="0.054" stop-color="#ff8c00"/><stop offset="0.061" stop-color="#ebff14"/><stop offset="0.075" stop-color="#96ff64"/><stop offset="0.082" stop-color="#14ffe6"/><stop offset="0.088" stop-color="#00c8ff"/><stop offset="0.101" stop-color="#0078ff"/><stop offset="0.118" stop-color="#0046f8"/><stop offset="0.131" stop-color="#023ff3"/><stop offset="0.188" stop-color="#023ff3"/><stop offset="0.282" stop-color="#033cf2"/><stop offset="0.389" stop-color="#0425ec"/><stop offset="0.537" stop-color="#041ae3"/><stop offset="0.718" stop-color="#0316da"/><stop offset="1.000" stop-color="#0312d1"/></linearGradient><linearGradient id="a61" gradientUnits="userSpaceOnUse" x1="0" y1="38.0" x2="0" y2="187.0"><stop offset="0.000" stop-color="#fa6e00"/><stop offset="0.051" stop-color="#f54d00"/><stop offset="0.061" stop-color="#ff8c00"/><stop offset="0.068" stop-color="#ebff14"/><stop offset="0.084" stop-color="#96ff64"/><stop offset="0.091" stop-color="#14ffe6"/><stop offset="0.123" stop-color="#00c8ff"/><stop offset="0.136" stop-color="#0078ff"/><stop offset="0.153" stop-color="#0046f8"/><stop offset="0.186" stop-color="#0245f4"/><stop offset="0.282" stop-color="#0336f1"/><stop offset="0.389" stop-color="#041dea"/><stop offset="0.537" stop-color="#0418dd"/><stop offset="0.718" stop-color="#0314d5"/><stop offset="1.000" stop-color="#0210cc"/></linearGradient><linearGradient id="a62" gradientUnits="userSpaceOnUse" x1="0" y1="38.0" x2="0" y2="187.0"><stop offset="0.000" stop-color="#fa7400"/><stop offset="0.054" stop-color="#f55000"/><stop offset="0.064" stop-color="#ff8c00"/><stop offset="0.071" stop-color="#ebff14"/><stop offset="0.092" stop-color="#96ff64"/><stop offset="0.098" stop-color="#14ffe6"/><stop offset="0.102" stop-color="#00c8ff"/><stop offset="0.115" stop-color="#0078ff"/><stop offset="0.132" stop-color="#0046f8"/><stop offset="0.253" stop-color="#0246f5"/><stop offset="0.282" stop-color="#0244f4"/><stop offset="0.389" stop-color="#042aee"/><stop offset="0.537" stop-color="#041de9"/><stop offset="0.718" stop-color="#0419e1"/><stop offset="1.000" stop-color="#0315d8"/></linearGradient><linearGradient id="a63" gradientUnits="userSpaceOnUse" x1="0" y1="38.0" x2="0" y2="187.0"><stop offset="0.000" stop-color="#fb7b00"/><stop offset="0.050" stop-color="#f55400"/><stop offset="0.060" stop-color="#ff8c00"/><stop offset="0.067" stop-color="#ebff14"/><stop offset="0.081" stop-color="#96ff64"/><stop offset="0.087" stop-color="#14ffe6"/><stop offset="0.091" stop-color="#00c8ff"/><stop offset="0.104" stop-color="#0078ff"/><stop offset="0.121" stop-color="#0046f8"/><stop offset="0.154" stop-color="#0241f3"/><stop offset="0.188" stop-color="#0338f1"/><stop offset="0.282" stop-color="#0334f0"/><stop offset="0.389" stop-color="#041ce7"/><stop offset="0.537" stop-color="#0317db"/><stop offset="0.718" stop-color="#0314d3"/><stop offset="1.000" stop-color="#0210ca"/></linearGradient><linearGradient id="a64" gradientUnits="userSpaceOnUse" x1="0" y1="38.0" x2="0" y2="187.0"><stop offset="0.000" stop-color="#fc8200"/><stop offset="0.048" stop-color="#f65700"/><stop offset="0.058" stop-color="#ff8c00"/><stop offset="0.065" stop-color="#ebff14"/><stop offset="0.079" stop-color="#96ff64"/><stop offset="0.086" stop-color="#14ffe6"/><stop offset="0.089" stop-color="#00c8ff"/><stop offset="0.102" stop-color="#0078ff"/><stop offset="0.119" stop-color="#0046f8"/><stop offset="0.132" stop-color="#023ff3"/><stop offset="0.188" stop-color="#033df2"/><stop offset="0.282" stop-color="#0338f1"/><stop offset="0.389" stop-color="#041eeb"/><stop offset="0.537" stop-color="#0419e0"/><stop offset="0.718" stop-color="#0316d8"/><stop offset="1.000" stop-color="#0312cf"/></linearGradient><linearGradient id="a65" gradientUnits="userSpaceOnUse" x1="0" y1="38.0" x2="0" y2="187.0"><stop offset="0.000" stop-color="#fd8800"/><stop offset="0.054" stop-color="#f65a00"/><stop offset="0.064" stop-color="#ff8c00"/><stop offset="0.071" stop-color="#ebff14"/><stop offset="0.092" stop-color="#96ff64"/><stop offset="0.098" stop-color="#14ffe6"/><stop offset="0.102" stop-color="#00c8ff"/><stop offset="0.115" stop-color="#0078ff"/><stop offset="0.132" stop-color="#0046f8"/><stop offset="0.145" stop-color="#0240f3"/><stop offset="0.188" stop-color="#0244f4"/><stop offset="0.282" stop-color="#023ff3"/><stop offset="0.389" stop-color="#0425ec"/><stop offset="0.537" stop-color="#041ce7"/><stop offset="0.718" stop-color="#0419df"/><stop offset="1.000" stop-color="#0315d6"/></linearGradient><linearGradient id="a66" gradientUnits="userSpaceOnUse" x1="0" y1="38.0" x2="0" y2="187.0"><stop offset="0.000" stop-color="#fe8f00"/><stop offset="0.055" stop-color="#f75e00"/><stop offset="0.065" stop-color="#ff8c00"/><stop offset="0.072" stop-color="#ebff14"/><stop offset="0.095" stop-color="#96ff64"/><stop offset="0.102" stop-color="#14ffe6"/><stop offset="0.105" stop-color="#00c8ff"/><stop offset="0.119" stop-color="#0078ff"/><stop offset="0.136" stop-color="#0046f8"/><stop offset="0.189" stop-color="#0242f4"/><stop offset="0.282" stop-color="#0155f8"/><stop offset="0.389" stop-color="#033cf2"/><stop offset="0.537" stop-color="#0330ef"/><stop offset="0.718" stop-color="#0428ed"/><stop offset="1.000" stop-color="#041dea"/></linearGradient><linearGradient id="a67" gradientUnits="userSpaceOnUse" x1="0" y1="38.0" x2="0" y2="187.0"><stop offset="0.000" stop-color="#ff9600"/><stop offset="0.039" stop-color="#f76100"/><stop offset="0.049" stop-color="#ff8c00"/><stop offset="0.056" stop-color="#ebff14"/><stop offset="0.069" stop-color="#96ff64"/><stop offset="0.076" stop-color="#14ffe6"/><stop offset="0.080" stop-color="#00c8ff"/><stop offset="0.094" stop-color="#0078ff"/><stop offset="0.111" stop-color="#0046f8"/><stop offset="0.131" stop-color="#033df2"/><stop offset="0.188" stop-color="#032eef"/><stop offset="0.282" stop-color="#0428ed"/><stop offset="0.389" stop-color="#0419df"/><stop offset="0.537" stop-color="#0314d5"/><stop offset="0.718" stop-color="#0211ce"/><stop offset="1.000" stop-color="#020dc5"/></linearGradient><linearGradient id="a68" gradientUnits="userSpaceOnUse" x1="0" y1="38.0" x2="0" y2="187.0"><stop offset="0.000" stop-color="#fe9100"/><stop offset="0.042" stop-color="#f75f00"/><stop offset="0.052" stop-color="#ff8c00"/><stop offset="0.059" stop-color="#ebff14"/><stop offset="0.074" stop-color="#96ff64"/><stop offset="0.080" stop-color="#14ffe6"/><stop offset="0.119" stop-color="#00c8ff"/><stop offset="0.133" stop-color="#0078ff"/><stop offset="0.150" stop-color="#0046f8"/><stop offset="0.163" stop-color="#023ef3"/><stop offset="0.188" stop-color="#0249f5"/><stop offset="0.282" stop-color="#0242f4"/><stop offset="0.389" stop-color="#042dee"/><stop offset="0.537" stop-color="#0422ec"/><stop offset="0.718" stop-color="#041ce8"/><stop offset="1.000" stop-color="#0418de"/></linearGradient><linearGradient id="a69" gradientUnits="userSpaceOnUse" x1="0" y1="38.0" x2="0" y2="187.0"><stop offset="0.000" stop-color="#fd8c00"/><stop offset="0.034" stop-color="#f65c00"/><stop offset="0.044" stop-color="#ff8c00"/><stop offset="0.050" stop-color="#ebff14"/><stop offset="0.066" stop-color="#96ff64"/><stop offset="0.073" stop-color="#14ffe6"/><stop offset="0.084" stop-color="#00c8ff"/><stop offset="0.098" stop-color="#0078ff"/><stop offset="0.114" stop-color="#0046f8"/><stop offset="0.195" stop-color="#033cf2"/><stop offset="0.282" stop-color="#0246f5"/><stop offset="0.389" stop-color="#0333f0"/><stop offset="0.537" stop-color="#0429ed"/><stop offset="0.718" stop-color="#0421eb"/><stop offset="1.000" stop-color="#041be5"/></linearGradient><linearGradient id="a70" gradientUnits="userSpaceOnUse" x1="0" y1="38.0" x2="0" y2="187.0"><stop offset="0.000" stop-color="#fc8800"/><stop offset="0.038" stop-color="#f65a00"/><stop offset="0.048" stop-color="#ff8c00"/><stop offset="0.054" stop-color="#ebff14"/><stop offset="0.079" stop-color="#96ff64"/><stop offset="0.085" stop-color="#14ffe6"/><stop offset="0.089" stop-color="#00c8ff"/><stop offset="0.102" stop-color="#0078ff"/><stop offset="0.119" stop-color="#0046f8"/><stop offset="0.152" stop-color="#033bf2"/><stop offset="0.188" stop-color="#033df2"/><stop offset="0.282" stop-color="#0335f0"/><stop offset="0.389" stop-color="#0424ec"/><stop offset="0.537" stop-color="#041ce8"/><stop offset="0.718" stop-color="#0419e1"/><stop offset="1.000" stop-color="#0315d8"/></linearGradient><linearGradient id="a71" gradientUnits="userSpaceOnUse" x1="0" y1="38.0" x2="0" y2="187.0"><stop offset="0.000" stop-color="#fb8300"/><stop offset="0.048" stop-color="#f55800"/><stop offset="0.058" stop-color="#ff8c00"/><stop offset="0.065" stop-color="#ebff14"/><stop offset="0.091" stop-color="#96ff64"/><stop offset="0.097" stop-color="#14ffe6"/><stop offset="0.131" stop-color="#00c8ff"/><stop offset="0.144" stop-color="#0078ff"/><stop offset="0.161" stop-color="#0046f8"/><stop offset="0.242" stop-color="#0335f0"/><stop offset="0.282" stop-color="#0335f0"/><stop offset="0.389" stop-color="#0426ed"/><stop offset="0.537" stop-color="#041dea"/><stop offset="0.718" stop-color="#041ae3"/><stop offset="1.000" stop-color="#0316da"/></linearGradient><linearGradient id="a72" gradientUnits="userSpaceOnUse" x1="0" y1="38.0" x2="0" y2="187.0"><stop offset="0.000" stop-color="#fb7e00"/><stop offset="0.042" stop-color="#f55500"/><stop offset="0.052" stop-color="#ff8c00"/><stop offset="0.059" stop-color="#ebff14"/><stop offset="0.080" stop-color="#96ff64"/><stop offset="0.087" stop-color="#14ffe6"/><stop offset="0.114" stop-color="#00c8ff"/><stop offset="0.127" stop-color="#0078ff"/><stop offset="0.144" stop-color="#0046f8"/><stop offset="0.158" stop-color="#0339f1"/><stop offset="0.188" stop-color="#0334f0"/><stop offset="0.282" stop-color="#042bee"/><stop offset="0.389" stop-color="#041dea"/><stop offset="0.537" stop-color="#041ae3"/><stop offset="0.718" stop-color="#0317dc"/><stop offset="1.000" stop-color="#0313d3"/></linearGradient><linearGradient id="a73" gradientUnits="userSpaceOnUse" x1="0" y1="38.0" x2="0" y2="187.0"><stop offset="0.000" stop-color="#fa7a00"/><stop offset="0.062" stop-color="#f55300"/><stop offset="0.073" stop-color="#ff8c00"/><stop offset="0.079" stop-color="#ebff14"/><stop offset="0.098" stop-color="#96ff64"/><stop offset="0.105" stop-color="#14ffe6"/><stop offset="0.139" stop-color="#00c8ff"/><stop offset="0.152" stop-color="#0078ff"/><stop offset="0.169" stop-color="#0046f8"/><stop offset="0.343" stop-color="#0424ec"/><stop offset="0.389" stop-color="#0333f0"/><stop offset="0.537" stop-color="#042bee"/><stop offset="0.718" stop-color="#0424ec"/><stop offset="1.000" stop-color="#041ce6"/></linearGradient><linearGradient id="a74" gradientUnits="userSpaceOnUse" x1="0" y1="38.0" x2="0" y2="187.0"><stop offset="0.000" stop-color="#f76e00"/><stop offset="0.048" stop-color="#f34d00"/><stop offset="0.058" stop-color="#ff8c00"/><stop offset="0.065" stop-color="#ebff14"/><stop offset="0.079" stop-color="#96ff64"/><stop offset="0.086" stop-color="#14ffe6"/><stop offset="0.117" stop-color="#00c8ff"/><stop offset="0.131" stop-color="#0078ff"/><stop offset="0.147" stop-color="#0046f8"/><stop offset="0.161" stop-color="#0337f1"/><stop offset="0.188" stop-color="#0241f3"/><stop offset="0.282" stop-color="#0336f1"/><stop offset="0.389" stop-color="#042aee"/><stop offset="0.537" stop-color="#0424ec"/><stop offset="0.718" stop-color="#041dea"/><stop offset="1.000" stop-color="#0419e0"/></linearGradient><linearGradient id="a75" gradientUnits="userSpaceOnUse" x1="0" y1="38.0" x2="0" y2="187.0"><stop offset="0.000" stop-color="#f15a00"/><stop offset="0.055" stop-color="#f04300"/><stop offset="0.066" stop-color="#ff8c00"/><stop offset="0.072" stop-color="#ebff14"/><stop offset="0.097" stop-color="#96ff64"/><stop offset="0.104" stop-color="#14ffe6"/><stop offset="0.119" stop-color="#00c8ff"/><stop offset="0.132" stop-color="#0078ff"/><stop offset="0.149" stop-color="#0046f8"/><stop offset="0.162" stop-color="#0336f1"/><stop offset="0.188" stop-color="#0337f1"/><stop offset="0.282" stop-color="#042bee"/><stop offset="0.389" stop-color="#0420eb"/><stop offset="0.537" stop-color="#041de8"/><stop offset="0.718" stop-color="#041ae2"/><stop offset="1.000" stop-color="#0316d8"/></linearGradient><linearGradient id="a76" gradientUnits="userSpaceOnUse" x1="0" y1="38.0" x2="0" y2="187.0"><stop offset="0.000" stop-color="#eb4600"/><stop offset="0.047" stop-color="#ed3900"/><stop offset="0.057" stop-color="#ff8c00"/><stop offset="0.064" stop-color="#ebff14"/><stop offset="0.090" stop-color="#96ff64"/><stop offset="0.096" stop-color="#14ffe6"/><stop offset="0.104" stop-color="#00c8ff"/><stop offset="0.118" stop-color="#0078ff"/><stop offset="0.135" stop-color="#0046f8"/><stop offset="0.155" stop-color="#0336f1"/><stop offset="0.188" stop-color="#0331ef"/><stop offset="0.282" stop-color="#0424ec"/><stop offset="0.389" stop-color="#041ce7"/><stop offset="0.537" stop-color="#041be4"/><stop offset="0.718" stop-color="#0418de"/><stop offset="1.000" stop-color="#0314d4"/></linearGradient><linearGradient id="a77" gradientUnits="userSpaceOnUse" x1="0" y1="38.0" x2="0" y2="187.0"><stop offset="0.000" stop-color="#e53200"/><stop offset="0.033" stop-color="#ea2f00"/><stop offset="0.043" stop-color="#ff8c00"/><stop offset="0.050" stop-color="#ebff14"/><stop offset="0.071" stop-color="#96ff64"/><stop offset="0.077" stop-color="#14ffe6"/><stop offset="0.107" stop-color="#00c8ff"/><stop offset="0.120" stop-color="#0078ff"/><stop offset="0.137" stop-color="#0046f8"/><stop offset="0.312" stop-color="#041feb"/><stop offset="0.389" stop-color="#041ae3"/><stop offset="0.537" stop-color="#041ae2"/><stop offset="0.718" stop-color="#0317dc"/><stop offset="1.000" stop-color="#0313d3"/></linearGradient><linearGradient id="a78" gradientUnits="userSpaceOnUse" x1="0" y1="38.0" x2="0" y2="187.0"><stop offset="0.000" stop-color="#df1e00"/><stop offset="0.037" stop-color="#e72500"/><stop offset="0.047" stop-color="#ff8c00"/><stop offset="0.053" stop-color="#ebff14"/><stop offset="0.073" stop-color="#96ff64"/><stop offset="0.079" stop-color="#14ffe6"/><stop offset="0.105" stop-color="#00c8ff"/><stop offset="0.118" stop-color="#0078ff"/><stop offset="0.135" stop-color="#0046f8"/><stop offset="0.155" stop-color="#0335f0"/><stop offset="0.188" stop-color="#042dee"/><stop offset="0.282" stop-color="#041dea"/><stop offset="0.389" stop-color="#0419e0"/><stop offset="0.537" stop-color="#0419e1"/><stop offset="0.718" stop-color="#0317dc"/><stop offset="1.000" stop-color="#0313d2"/></linearGradient><linearGradient id="a79" gradientUnits="userSpaceOnUse" x1="0" y1="38.0" x2="0" y2="187.0"><stop offset="0.000" stop-color="#de1a00"/><stop offset="0.039" stop-color="#e72300"/><stop offset="0.049" stop-color="#ff8c00"/><stop offset="0.056" stop-color="#ebff14"/><stop offset="0.081" stop-color="#96ff64"/><stop offset="0.088" stop-color="#14ffe6"/><stop offset="0.111" stop-color="#00c8ff"/><stop offset="0.125" stop-color="#0078ff"/><stop offset="0.141" stop-color="#0046f8"/><stop offset="0.161" stop-color="#0334f0"/><stop offset="0.188" stop-color="#0423ec"/><stop offset="0.282" stop-color="#0419e0"/><stop offset="0.389" stop-color="#0315d6"/><stop offset="0.537" stop-color="#0316d9"/><stop offset="0.718" stop-color="#0314d3"/><stop offset="1.000" stop-color="#0210ca"/></linearGradient><linearGradient id="a80" gradientUnits="userSpaceOnUse" x1="0" y1="38.0" x2="0" y2="187.0"><stop offset="0.000" stop-color="#e22600"/><stop offset="0.035" stop-color="#e92900"/><stop offset="0.045" stop-color="#ff8c00"/><stop offset="0.052" stop-color="#ebff14"/><stop offset="0.068" stop-color="#96ff64"/><stop offset="0.075" stop-color="#14ffe6"/><stop offset="0.078" stop-color="#00c8ff"/><stop offset="0.092" stop-color="#0078ff"/><stop offset="0.108" stop-color="#0046f8"/><stop offset="0.229" stop-color="#0428ed"/><stop offset="0.282" stop-color="#0331ef"/><stop offset="0.389" stop-color="#0425ec"/><stop offset="0.537" stop-color="#042aee"/><stop offset="0.718" stop-color="#0424ec"/><stop offset="1.000" stop-color="#041ce7"/></linearGradient><linearGradient id="a81" gradientUnits="userSpaceOnUse" x1="0" y1="38.0" x2="0" y2="187.0"><stop offset="0.000" stop-color="#e63200"/><stop offset="0.029" stop-color="#eb2f00"/><stop offset="0.039" stop-color="#ff8c00"/><stop offset="0.046" stop-color="#ebff14"/><stop offset="0.060" stop-color="#96ff64"/><stop offset="0.066" stop-color="#14ffe6"/><stop offset="0.072" stop-color="#00c8ff"/><stop offset="0.085" stop-color="#0078ff"/><stop offset="0.102" stop-color="#0046f8"/><stop offset="0.276" stop-color="#041eeb"/><stop offset="0.389" stop-color="#0313d3"/><stop offset="0.537" stop-color="#0315d7"/><stop offset="0.718" stop-color="#0313d2"/><stop offset="1.000" stop-color="#020fc9"/></linearGradient><linearGradient id="a82" gradientUnits="userSpaceOnUse" x1="0" y1="38.0" x2="0" y2="187.0"><stop offset="0.000" stop-color="#ea3e00"/><stop offset="0.038" stop-color="#ed3500"/><stop offset="0.048" stop-color="#ff8c00"/><stop offset="0.055" stop-color="#ebff14"/><stop offset="0.088" stop-color="#96ff64"/><stop offset="0.094" stop-color="#14ffe6"/><stop offset="0.113" stop-color="#00c8ff"/><stop offset="0.126" stop-color="#0078ff"/><stop offset="0.143" stop-color="#0046f8"/><stop offset="0.163" stop-color="#0334f0"/><stop offset="0.188" stop-color="#0210cc"/><stop offset="0.282" stop-color="#0109bb"/><stop offset="0.389" stop-color="#0005b1"/><stop offset="0.537" stop-color="#0107b5"/><stop offset="0.718" stop-color="#0004b0"/><stop offset="1.000" stop-color="#0000a7"/></linearGradient><linearGradient id="a83" gradientUnits="userSpaceOnUse" x1="0" y1="38.0" x2="0" y2="187.0"><stop offset="0.000" stop-color="#ee4a00"/><stop offset="0.028" stop-color="#ef3b00"/><stop offset="0.038" stop-color="#ff8c00"/><stop offset="0.045" stop-color="#ebff14"/><stop offset="0.069" stop-color="#96ff64"/><stop offset="0.076" stop-color="#14ffe6"/><stop offset="0.089" stop-color="#00c8ff"/><stop offset="0.102" stop-color="#0078ff"/><stop offset="0.119" stop-color="#0046f8"/><stop offset="0.199" stop-color="#032eef"/><stop offset="0.282" stop-color="#0313d3"/><stop offset="0.389" stop-color="#020fc9"/><stop offset="0.537" stop-color="#0210cb"/><stop offset="0.718" stop-color="#020ec6"/><stop offset="1.000" stop-color="#010abd"/></linearGradient><linearGradient id="a84" gradientUnits="userSpaceOnUse" x1="0" y1="38.0" x2="0" y2="187.0"><stop offset="0.000" stop-color="#f15500"/><stop offset="0.030" stop-color="#f04100"/><stop offset="0.040" stop-color="#ff8c00"/><stop offset="0.047" stop-color="#ebff14"/><stop offset="0.071" stop-color="#96ff64"/><stop offset="0.078" stop-color="#14ffe6"/><stop offset="0.092" stop-color="#00c8ff"/><stop offset="0.106" stop-color="#0078ff"/><stop offset="0.123" stop-color="#0046f8"/><stop offset="0.156" stop-color="#0335f0"/><stop offset="0.188" stop-color="#0421eb"/><stop offset="0.282" stop-color="#0419e0"/><stop offset="0.389" stop-color="#0315d6"/><stop offset="0.537" stop-color="#0315d6"/><stop offset="0.718" stop-color="#0313d1"/><stop offset="1.000" stop-color="#020ec7"/></linearGradient><linearGradient id="a85" gradientUnits="userSpaceOnUse" x1="0" y1="38.0" x2="0" y2="187.0"><stop offset="0.000" stop-color="#f46000"/><stop offset="0.017" stop-color="#f24600"/><stop offset="0.027" stop-color="#ff8c00"/><stop offset="0.034" stop-color="#ebff14"/><stop offset="0.055" stop-color="#96ff64"/><stop offset="0.062" stop-color="#14ffe6"/><stop offset="0.095" stop-color="#00c8ff"/><stop offset="0.108" stop-color="#0078ff"/><stop offset="0.125" stop-color="#0046f8"/><stop offset="0.158" stop-color="#0336f1"/><stop offset="0.188" stop-color="#032fef"/><stop offset="0.282" stop-color="#0420eb"/><stop offset="0.389" stop-color="#041ae3"/><stop offset="0.537" stop-color="#041ae2"/><stop offset="0.718" stop-color="#0317dc"/><stop offset="1.000" stop-color="#0313d3"/></linearGradient><linearGradient id="a86" gradientUnits="userSpaceOnUse" x1="0" y1="38.0" x2="0" y2="187.0"><stop offset="0.000" stop-color="#f66b00"/><stop offset="0.017" stop-color="#f34c00"/><stop offset="0.027" stop-color="#ff8c00"/><stop offset="0.034" stop-color="#ebff14"/><stop offset="0.073" stop-color="#96ff64"/><stop offset="0.079" stop-color="#14ffe6"/><stop offset="0.101" stop-color="#00c8ff"/><stop offset="0.114" stop-color="#0078ff"/><stop offset="0.131" stop-color="#0046f8"/><stop offset="0.211" stop-color="#0330ef"/><stop offset="0.282" stop-color="#0422ec"/><stop offset="0.389" stop-color="#041be4"/><stop offset="0.537" stop-color="#041ae1"/><stop offset="0.718" stop-color="#0317db"/><stop offset="1.000" stop-color="#0313d2"/></linearGradient><linearGradient id="a87" gradientUnits="userSpaceOnUse" x1="0" y1="38.0" x2="0" y2="187.0"><stop offset="0.000" stop-color="#f97600"/><stop offset="0.017" stop-color="#f45100"/><stop offset="0.027" stop-color="#ff8c00"/><stop offset="0.034" stop-color="#ebff14"/><stop offset="0.057" stop-color="#96ff64"/><stop offset="0.063" stop-color="#14ffe6"/><stop offset="0.079" stop-color="#00c8ff"/><stop offset="0.092" stop-color="#0078ff"/><stop offset="0.109" stop-color="#0046f8"/><stop offset="0.189" stop-color="#0334f0"/><stop offset="0.282" stop-color="#0424ec"/><stop offset="0.389" stop-color="#041ce6"/><stop offset="0.537" stop-color="#041ae2"/><stop offset="0.718" stop-color="#0317db"/><stop offset="1.000" stop-color="#0313d2"/></linearGradient><linearGradient id="a88" gradientUnits="userSpaceOnUse" x1="0" y1="38.0" x2="0" y2="187.0"><stop offset="0.000" stop-color="#fc8100"/><stop offset="0.017" stop-color="#f65700"/><stop offset="0.027" stop-color="#ff8c00"/><stop offset="0.034" stop-color="#ebff14"/><stop offset="0.059" stop-color="#96ff64"/><stop offset="0.066" stop-color="#14ffe6"/><stop offset="0.073" stop-color="#00c8ff"/><stop offset="0.086" stop-color="#0078ff"/><stop offset="0.103" stop-color="#0046f8"/><stop offset="0.278" stop-color="#042bee"/><stop offset="0.389" stop-color="#0420eb"/><stop offset="0.537" stop-color="#041ce7"/><stop offset="0.718" stop-color="#0419e1"/><stop offset="1.000" stop-color="#0315d7"/></linearGradient><linearGradient id="a89" gradientUnits="userSpaceOnUse" x1="0" y1="38.0" x2="0" y2="187.0"><stop offset="0.000" stop-color="#ff8c00"/><stop offset="0.028" stop-color="#f75c00"/><stop offset="0.038" stop-color="#ff8c00"/><stop offset="0.045" stop-color="#ebff14"/><stop offset="0.062" stop-color="#96ff64"/><stop offset="0.069" stop-color="#14ffe6"/><stop offset="0.081" stop-color="#00c8ff"/><stop offset="0.094" stop-color="#0078ff"/><stop offset="0.111" stop-color="#0046f8"/><stop offset="0.125" stop-color="#033af2"/><stop offset="0.188" stop-color="#0243f4"/><stop offset="0.282" stop-color="#0339f1"/><stop offset="0.389" stop-color="#042dee"/><stop offset="0.537" stop-color="#0425ec"/><stop offset="0.718" stop-color="#041eeb"/><stop offset="1.000" stop-color="#041ae1"/></linearGradient><linearGradient id="a90" gradientUnits="userSpaceOnUse" x1="0" y1="38.0" x2="0" y2="187.0"><stop offset="0.000" stop-color="#ff8d00"/><stop offset="0.037" stop-color="#f75d00"/><stop offset="0.047" stop-color="#ff8c00"/><stop offset="0.053" stop-color="#ebff14"/><stop offset="0.071" stop-color="#96ff64"/><stop offset="0.078" stop-color="#14ffe6"/><stop offset="0.090" stop-color="#00c8ff"/><stop offset="0.104" stop-color="#0078ff"/><stop offset="0.121" stop-color="#0046f8"/><stop offset="0.201" stop-color="#0336f1"/><stop offset="0.282" stop-color="#032fef"/><stop offset="0.389" stop-color="#0421eb"/><stop offset="0.537" stop-color="#041ce7"/><stop offset="0.718" stop-color="#0419e0"/><stop offset="1.000" stop-color="#0315d6"/></linearGradient><linearGradient id="a91" gradientUnits="userSpaceOnUse" x1="0" y1="38.0" x2="0" y2="187.0"><stop offset="0.000" stop-color="#ff8e00"/><stop offset="0.018" stop-color="#f75d00"/><stop offset="0.029" stop-color="#ff8c00"/><stop offset="0.035" stop-color="#ebff14"/><stop offset="0.055" stop-color="#96ff64"/><stop offset="0.062" stop-color="#14ffe6"/><stop offset="0.072" stop-color="#00c8ff"/><stop offset="0.085" stop-color="#0078ff"/><stop offset="0.102" stop-color="#0046f8"/><stop offset="0.182" stop-color="#0338f1"/><stop offset="0.282" stop-color="#042bee"/><stop offset="0.389" stop-color="#041de9"/><stop offset="0.537" stop-color="#041ae2"/><stop offset="0.718" stop-color="#0317db"/><stop offset="1.000" stop-color="#0313d2"/></linearGradient><linearGradient id="a92" gradientUnits="userSpaceOnUse" x1="0" y1="38.0" x2="0" y2="187.0"><stop offset="0.000" stop-color="#ff9000"/><stop offset="0.038" stop-color="#f75e00"/><stop offset="0.048" stop-color="#ff8c00"/><stop offset="0.055" stop-color="#ebff14"/><stop offset="0.085" stop-color="#96ff64"/><stop offset="0.092" stop-color="#14ffe6"/><stop offset="0.102" stop-color="#00c8ff"/><stop offset="0.115" stop-color="#0078ff"/><stop offset="0.132" stop-color="#0046f8"/><stop offset="0.145" stop-color="#033bf2"/><stop offset="0.188" stop-color="#0150f7"/><stop offset="0.282" stop-color="#0247f5"/><stop offset="0.389" stop-color="#0338f1"/><stop offset="0.537" stop-color="#032fef"/><stop offset="0.718" stop-color="#0427ed"/><stop offset="1.000" stop-color="#041de9"/></linearGradient><linearGradient id="a93" gradientUnits="userSpaceOnUse" x1="0" y1="38.0" x2="0" y2="187.0"><stop offset="0.000" stop-color="#ff9100"/><stop offset="0.045" stop-color="#f75f00"/><stop offset="0.055" stop-color="#ff8c00"/><stop offset="0.062" stop-color="#ebff14"/><stop offset="0.091" stop-color="#96ff64"/><stop offset="0.097" stop-color="#14ffe6"/><stop offset="0.111" stop-color="#00c8ff"/><stop offset="0.125" stop-color="#0078ff"/><stop offset="0.142" stop-color="#0046f8"/><stop offset="0.222" stop-color="#0339f1"/><stop offset="0.282" stop-color="#0244f4"/><stop offset="0.389" stop-color="#0333f0"/><stop offset="0.537" stop-color="#042aee"/><stop offset="0.718" stop-color="#0422ec"/><stop offset="1.000" stop-color="#041be5"/></linearGradient><linearGradient id="a94" gradientUnits="userSpaceOnUse" x1="0" y1="38.0" x2="0" y2="187.0"><stop offset="0.000" stop-color="#ff9300"/><stop offset="0.056" stop-color="#f76000"/><stop offset="0.066" stop-color="#ff8c00"/><stop offset="0.073" stop-color="#ebff14"/><stop offset="0.092" stop-color="#96ff64"/><stop offset="0.099" stop-color="#14ffe6"/><stop offset="0.132" stop-color="#00c8ff"/><stop offset="0.145" stop-color="#0078ff"/><stop offset="0.162" stop-color="#0046f8"/><stop offset="0.175" stop-color="#033cf2"/><stop offset="0.282" stop-color="#0330ef"/><stop offset="0.389" stop-color="#041eeb"/><stop offset="0.537" stop-color="#041ae3"/><stop offset="0.718" stop-color="#0317dc"/><stop offset="1.000" stop-color="#0313d2"/></linearGradient><linearGradient id="a95" gradientUnits="userSpaceOnUse" x1="0" y1="38.0" x2="0" y2="187.0"><stop offset="0.000" stop-color="#ff9400"/><stop offset="0.062" stop-color="#f76000"/><stop offset="0.072" stop-color="#ff8c00"/><stop offset="0.079" stop-color="#ebff14"/><stop offset="0.093" stop-color="#96ff64"/><stop offset="0.100" stop-color="#14ffe6"/><stop offset="0.115" stop-color="#00c8ff"/><stop offset="0.128" stop-color="#0078ff"/><stop offset="0.145" stop-color="#0046f8"/><stop offset="0.165" stop-color="#033df2"/><stop offset="0.188" stop-color="#0159f9"/><stop offset="0.282" stop-color="#0152f8"/><stop offset="0.389" stop-color="#023ef3"/><stop offset="0.537" stop-color="#0334f0"/><stop offset="0.718" stop-color="#042cee"/><stop offset="1.000" stop-color="#0421eb"/></linearGradient><linearGradient id="a96" gradientUnits="userSpaceOnUse" x1="0" y1="38.0" x2="0" y2="187.0"><stop offset="0.000" stop-color="#ff9600"/><stop offset="0.069" stop-color="#f76100"/><stop offset="0.079" stop-color="#ff8c00"/><stop offset="0.086" stop-color="#ebff14"/><stop offset="0.104" stop-color="#96ff64"/><stop offset="0.111" stop-color="#14ffe6"/><stop offset="0.119" stop-color="#00c8ff"/><stop offset="0.133" stop-color="#0078ff"/><stop offset="0.149" stop-color="#0046f8"/><stop offset="0.169" stop-color="#023ef3"/><stop offset="0.282" stop-color="#014ff7"/><stop offset="0.389" stop-color="#033af2"/><stop offset="0.537" stop-color="#0330ef"/><stop offset="0.718" stop-color="#0428ed"/><stop offset="1.000" stop-color="#041dea"/></linearGradient><linearGradient id="a97" gradientUnits="userSpaceOnUse" x1="0" y1="38.0" x2="0" y2="187.0"><stop offset="0.000" stop-color="#fe9200"/><stop offset="0.071" stop-color="#f75f00"/><stop offset="0.081" stop-color="#ff8c00"/><stop offset="0.088" stop-color="#ebff14"/><stop offset="0.108" stop-color="#96ff64"/><stop offset="0.115" stop-color="#14ffe6"/><stop offset="0.123" stop-color="#00c8ff"/><stop offset="0.137" stop-color="#0078ff"/><stop offset="0.153" stop-color="#0046f8"/><stop offset="0.234" stop-color="#0241f3"/><stop offset="0.282" stop-color="#023ef3"/><stop offset="0.389" stop-color="#0427ed"/><stop offset="0.537" stop-color="#041dea"/><stop offset="0.718" stop-color="#041ae3"/><stop offset="1.000" stop-color="#0316d9"/></linearGradient><linearGradient id="a98" gradientUnits="userSpaceOnUse" x1="0" y1="38.0" x2="0" y2="187.0"><stop offset="0.000" stop-color="#fe8e00"/><stop offset="0.065" stop-color="#f75d00"/><stop offset="0.075" stop-color="#ff8c00"/><stop offset="0.081" stop-color="#ebff14"/><stop offset="0.117" stop-color="#96ff64"/><stop offset="0.123" stop-color="#14ffe6"/><stop offset="0.127" stop-color="#00c8ff"/><stop offset="0.140" stop-color="#0078ff"/><stop offset="0.157" stop-color="#0046f8"/><stop offset="0.177" stop-color="#0242f4"/><stop offset="0.282" stop-color="#032fef"/><stop offset="0.389" stop-color="#041be4"/><stop offset="0.537" stop-color="#0317db"/><stop offset="0.718" stop-color="#0314d4"/><stop offset="1.000" stop-color="#0210ca"/></linearGradient><linearGradient id="a99" gradientUnits="userSpaceOnUse" x1="0" y1="38.0" x2="0" y2="187.0"><stop offset="0.000" stop-color="#fd8a00"/><stop offset="0.059" stop-color="#f65b00"/><stop offset="0.069" stop-color="#ff8c00"/><stop offset="0.076" stop-color="#ebff14"/><stop offset="0.090" stop-color="#96ff64"/><stop offset="0.097" stop-color="#14ffe6"/><stop offset="0.117" stop-color="#00c8ff"/><stop offset="0.131" stop-color="#0078ff"/><stop offset="0.147" stop-color="#0046f8"/><stop offset="0.201" stop-color="#0245f4"/><stop offset="0.282" stop-color="#033bf2"/><stop offset="0.389" stop-color="#0420eb"/><stop offset="0.537" stop-color="#041be4"/><stop offset="0.718" stop-color="#0418dd"/><stop offset="1.000" stop-color="#0314d3"/></linearGradient><linearGradient id="a100" gradientUnits="userSpaceOnUse" x1="0" y1="38.0" x2="0" y2="187.0"><stop offset="0.000" stop-color="#fd8600"/><stop offset="0.045" stop-color="#f65900"/><stop offset="0.055" stop-color="#ff8c00"/><stop offset="0.061" stop-color="#ebff14"/><stop offset="0.075" stop-color="#96ff64"/><stop offset="0.082" stop-color="#14ffe6"/><stop offset="0.096" stop-color="#00c8ff"/><stop offset="0.109" stop-color="#0078ff"/><stop offset="0.126" stop-color="#0046f8"/><stop offset="0.139" stop-color="#0240f3"/><stop offset="0.188" stop-color="#033af2"/><stop offset="0.282" stop-color="#0333f0"/><stop offset="0.389" stop-color="#041be5"/><stop offset="0.537" stop-color="#0317db"/><stop offset="0.718" stop-color="#0314d4"/><stop offset="1.000" stop-color="#0210cb"/></linearGradient><linearGradient id="a101" gradientUnits="userSpaceOnUse" x1="0" y1="38.0" x2="0" y2="187.0"><stop offset="0.000" stop-color="#fc8200"/><stop offset="0.050" stop-color="#f65700"/><stop offset="0.060" stop-color="#ff8c00"/><stop offset="0.067" stop-color="#ebff14"/><stop offset="0.082" stop-color="#96ff64"/><stop offset="0.089" stop-color="#14ffe6"/><stop offset="0.097" stop-color="#00c8ff"/><stop offset="0.110" stop-color="#0078ff"/><stop offset="0.127" stop-color="#0046f8"/><stop offset="0.147" stop-color="#0243f4"/><stop offset="0.188" stop-color="#0335f0"/><stop offset="0.282" stop-color="#042dee"/><stop offset="0.389" stop-color="#0418df"/><stop offset="0.537" stop-color="#0314d5"/><stop offset="0.718" stop-color="#0211ce"/><stop offset="1.000" stop-color="#020dc4"/></linearGradient><linearGradient id="a102" gradientUnits="userSpaceOnUse" x1="0" y1="38.0" x2="0" y2="187.0"><stop offset="0.000" stop-color="#fc7e00"/><stop offset="0.044" stop-color="#f65500"/><stop offset="0.054" stop-color="#ff8c00"/><stop offset="0.061" stop-color="#ebff14"/><stop offset="0.087" stop-color="#96ff64"/><stop offset="0.093" stop-color="#14ffe6"/><stop offset="0.106" stop-color="#00c8ff"/><stop offset="0.120" stop-color="#0078ff"/><stop offset="0.136" stop-color="#0046f8"/><stop offset="0.190" stop-color="#024af6"/><stop offset="0.282" stop-color="#0428ed"/><stop offset="0.389" stop-color="#0316d9"/><stop offset="0.537" stop-color="#0312cf"/><stop offset="0.718" stop-color="#020fc8"/><stop offset="1.000" stop-color="#010bbe"/></linearGradient><linearGradient id="a103" gradientUnits="userSpaceOnUse" x1="0" y1="38.0" x2="0" y2="187.0"><stop offset="0.000" stop-color="#fb7a00"/><stop offset="0.052" stop-color="#f55300"/><stop offset="0.062" stop-color="#ff8c00"/><stop offset="0.068" stop-color="#ebff14"/><stop offset="0.085" stop-color="#96ff64"/><stop offset="0.092" stop-color="#14ffe6"/><stop offset="0.133" stop-color="#00c8ff"/><stop offset="0.146" stop-color="#0078ff"/><stop offset="0.163" stop-color="#0046f8"/><stop offset="0.177" stop-color="#024af6"/><stop offset="0.282" stop-color="#0330ef"/><stop offset="0.389" stop-color="#0419df"/><stop offset="0.537" stop-color="#0314d5"/><stop offset="0.718" stop-color="#0211ce"/><stop offset="1.000" stop-color="#020dc4"/></linearGradient><linearGradient id="a104" gradientUnits="userSpaceOnUse" x1="0" y1="38.0" x2="0" y2="187.0"><stop offset="0.000" stop-color="#fb7600"/><stop offset="0.063" stop-color="#f55100"/><stop offset="0.073" stop-color="#ff8c00"/><stop offset="0.080" stop-color="#ebff14"/><stop offset="0.094" stop-color="#96ff64"/><stop offset="0.101" stop-color="#14ffe6"/><stop offset="0.112" stop-color="#00c8ff"/><stop offset="0.126" stop-color="#0078ff"/><stop offset="0.142" stop-color="#0046f8"/><stop offset="0.163" stop-color="#0248f5"/><stop offset="0.188" stop-color="#0151f7"/><stop offset="0.282" stop-color="#0249f5"/><stop offset="0.389" stop-color="#0428ed"/><stop offset="0.537" stop-color="#041dea"/><stop offset="0.718" stop-color="#041ae3"/><stop offset="1.000" stop-color="#0316d9"/></linearGradient><linearGradient id="a105" gradientUnits="userSpaceOnUse" x1="0" y1="38.0" x2="0" y2="187.0"><stop offset="0.000" stop-color="#fa7200"/><stop offset="0.069" stop-color="#f54f00"/><stop offset="0.079" stop-color="#ff8c00"/><stop offset="0.086" stop-color="#ebff14"/><stop offset="0.115" stop-color="#96ff64"/><stop offset="0.122" stop-color="#14ffe6"/><stop offset="0.126" stop-color="#00c8ff"/><stop offset="0.140" stop-color="#0078ff"/><stop offset="0.157" stop-color="#0046f8"/><stop offset="0.277" stop-color="#0246f5"/><stop offset="0.389" stop-color="#0421eb"/><stop offset="0.537" stop-color="#041ae3"/><stop offset="0.718" stop-color="#0317dc"/><stop offset="1.000" stop-color="#0313d3"/></linearGradient><linearGradient id="a106" gradientUnits="userSpaceOnUse" x1="0" y1="38.0" x2="0" y2="187.0"><stop offset="0.000" stop-color="#fa6e00"/><stop offset="0.065" stop-color="#f54d00"/><stop offset="0.075" stop-color="#ff8c00"/><stop offset="0.082" stop-color="#ebff14"/><stop offset="0.100" stop-color="#96ff64"/><stop offset="0.106" stop-color="#14ffe6"/><stop offset="0.110" stop-color="#00c8ff"/><stop offset="0.123" stop-color="#0078ff"/><stop offset="0.140" stop-color="#0046f8"/><stop offset="0.173" stop-color="#024df6"/><stop offset="0.282" stop-color="#0331ef"/><stop offset="0.389" stop-color="#0418df"/><stop offset="0.537" stop-color="#0314d4"/><stop offset="0.718" stop-color="#0211cd"/><stop offset="1.000" stop-color="#020dc4"/></linearGradient><linearGradient id="a107" gradientUnits="userSpaceOnUse" x1="0" y1="38.0" x2="0" y2="187.0"><stop offset="0.000" stop-color="#f86400"/><stop offset="0.075" stop-color="#f44800"/><stop offset="0.085" stop-color="#ff8c00"/><stop offset="0.092" stop-color="#ebff14"/><stop offset="0.112" stop-color="#96ff64"/><stop offset="0.119" stop-color="#14ffe6"/><stop offset="0.132" stop-color="#00c8ff"/><stop offset="0.145" stop-color="#0078ff"/><stop offset="0.162" stop-color="#0046f8"/><stop offset="0.215" stop-color="#0152f8"/><stop offset="0.282" stop-color="#0244f4"/><stop offset="0.389" stop-color="#0423ec"/><stop offset="0.537" stop-color="#041be4"/><stop offset="0.718" stop-color="#0418de"/><stop offset="1.000" stop-color="#0314d4"/></linearGradient><linearGradient id="a108" gradientUnits="userSpaceOnUse" x1="0" y1="38.0" x2="0" y2="187.0"><stop offset="0.000" stop-color="#f65a00"/><stop offset="0.067" stop-color="#f34300"/><stop offset="0.077" stop-color="#ff8c00"/><stop offset="0.084" stop-color="#ebff14"/><stop offset="0.109" stop-color="#96ff64"/><stop offset="0.116" stop-color="#14ffe6"/><stop offset="0.120" stop-color="#00c8ff"/><stop offset="0.133" stop-color="#0078ff"/><stop offset="0.150" stop-color="#0046f8"/><stop offset="0.230" stop-color="#0151f7"/><stop offset="0.282" stop-color="#0245f4"/><stop offset="0.389" stop-color="#0424ec"/><stop offset="0.537" stop-color="#041ce6"/><stop offset="0.718" stop-color="#0419df"/><stop offset="1.000" stop-color="#0315d6"/></linearGradient><linearGradient id="a109" gradientUnits="userSpaceOnUse" x1="0" y1="38.0" x2="0" y2="187.0"><stop offset="0.000" stop-color="#f45000"/><stop offset="0.074" stop-color="#f23e00"/><stop offset="0.084" stop-color="#ff8c00"/><stop offset="0.091" stop-color="#ebff14"/><stop offset="0.107" stop-color="#96ff64"/><stop offset="0.113" stop-color="#14ffe6"/><stop offset="0.135" stop-color="#00c8ff"/><stop offset="0.149" stop-color="#0078ff"/><stop offset="0.166" stop-color="#0046f8"/><stop offset="0.286" stop-color="#0243f4"/><stop offset="0.389" stop-color="#032fef"/><stop offset="0.537" stop-color="#0423ec"/><stop offset="0.718" stop-color="#041de8"/><stop offset="1.000" stop-color="#0419df"/></linearGradient><linearGradient id="a110" gradientUnits="userSpaceOnUse" x1="0" y1="38.0" x2="0" y2="187.0"><stop offset="0.000" stop-color="#f24600"/><stop offset="0.051" stop-color="#f13900"/><stop offset="0.061" stop-color="#ff8c00"/><stop offset="0.068" stop-color="#ebff14"/><stop offset="0.087" stop-color="#96ff64"/><stop offset="0.093" stop-color="#14ffe6"/><stop offset="0.110" stop-color="#00c8ff"/><stop offset="0.123" stop-color="#0078ff"/><stop offset="0.140" stop-color="#0046f8"/><stop offset="0.194" stop-color="#0154f8"/><stop offset="0.282" stop-color="#0158f9"/><stop offset="0.389" stop-color="#0339f1"/><stop offset="0.537" stop-color="#042dee"/><stop offset="0.718" stop-color="#0425ec"/><stop offset="1.000" stop-color="#041ce8"/></linearGradient><linearGradient id="a111" gradientUnits="userSpaceOnUse" x1="0" y1="38.0" x2="0" y2="187.0"><stop offset="0.000" stop-color="#f03c00"/><stop offset="0.072" stop-color="#f03400"/><stop offset="0.082" stop-color="#ff8c00"/><stop offset="0.089" stop-color="#ebff14"/><stop offset="0.109" stop-color="#96ff64"/><stop offset="0.115" stop-color="#14ffe6"/><stop offset="0.132" stop-color="#00c8ff"/><stop offset="0.145" stop-color="#0078ff"/><stop offset="0.162" stop-color="#0046f8"/><stop offset="0.182" stop-color="#0153f8"/><stop offset="0.282" stop-color="#024af6"/><stop offset="0.389" stop-color="#042cee"/><stop offset="0.537" stop-color="#0420eb"/><stop offset="0.718" stop-color="#041ce6"/><stop offset="1.000" stop-color="#0418dd"/></linearGradient><linearGradient id="a112" gradientUnits="userSpaceOnUse" x1="0" y1="38.0" x2="0" y2="187.0"><stop offset="0.000" stop-color="#ed3700"/><stop offset="0.083" stop-color="#ee3200"/><stop offset="0.093" stop-color="#ff8c00"/><stop offset="0.100" stop-color="#ebff14"/><stop offset="0.142" stop-color="#96ff64"/><stop offset="0.149" stop-color="#14ffe6"/><stop offset="0.152" stop-color="#00c8ff"/><stop offset="0.165" stop-color="#0078ff"/><stop offset="0.182" stop-color="#0046f8"/><stop offset="0.196" stop-color="#0155f8"/><stop offset="0.282" stop-color="#0242f4"/><stop offset="0.389" stop-color="#0426ed"/><stop offset="0.537" stop-color="#041ce8"/><stop offset="0.718" stop-color="#0419e1"/><stop offset="1.000" stop-color="#0315d7"/></linearGradient><linearGradient id="a113" gradientUnits="userSpaceOnUse" x1="0" y1="38.0" x2="0" y2="187.0"><stop offset="0.000" stop-color="#eb3300"/><stop offset="0.094" stop-color="#ed3000"/><stop offset="0.104" stop-color="#ff8c00"/><stop offset="0.110" stop-color="#ebff14"/><stop offset="0.133" stop-color="#96ff64"/><stop offset="0.139" stop-color="#14ffe6"/><stop offset="0.148" stop-color="#00c8ff"/><stop offset="0.161" stop-color="#0078ff"/><stop offset="0.178" stop-color="#0046f8"/><stop offset="0.198" stop-color="#0156f9"/><stop offset="0.282" stop-color="#023ff3"/><stop offset="0.389" stop-color="#0424ec"/><stop offset="0.537" stop-color="#041ce6"/><stop offset="0.718" stop-color="#0419df"/><stop offset="1.000" stop-color="#0315d6"/></linearGradient><linearGradient id="a114" gradientUnits="userSpaceOnUse" x1="0" y1="38.0" x2="0" y2="187.0"><stop offset="0.000" stop-color="#e82e00"/><stop offset="0.079" stop-color="#ec2d00"/><stop offset="0.089" stop-color="#ff8c00"/><stop offset="0.096" stop-color="#ebff14"/><stop offset="0.115" stop-color="#96ff64"/><stop offset="0.122" stop-color="#14ffe6"/><stop offset="0.146" stop-color="#00c8ff"/><stop offset="0.160" stop-color="#0078ff"/><stop offset="0.176" stop-color="#0046f8"/><stop offset="0.230" stop-color="#014ef7"/><stop offset="0.282" stop-color="#032eef"/><stop offset="0.389" stop-color="#041ae3"/><stop offset="0.537" stop-color="#0316d9"/><stop offset="0.718" stop-color="#0313d2"/><stop offset="1.000" stop-color="#020fc9"/></linearGradient><linearGradient id="a115" gradientUnits="userSpaceOnUse" x1="0" y1="38.0" x2="0" y2="187.0"><stop offset="0.000" stop-color="#e62a00"/><stop offset="0.086" stop-color="#eb2b00"/><stop offset="0.096" stop-color="#ff8c00"/><stop offset="0.103" stop-color="#ebff14"/><stop offset="0.121" stop-color="#96ff64"/><stop offset="0.128" stop-color="#14ffe6"/><stop offset="0.137" stop-color="#00c8ff"/><stop offset="0.150" stop-color="#0078ff"/><stop offset="0.167" stop-color="#0046f8"/><stop offset="0.341" stop-color="#042cee"/><stop offset="0.389" stop-color="#0424ec"/><stop offset="0.537" stop-color="#041ce7"/><stop offset="0.718" stop-color="#0419e0"/><stop offset="1.000" stop-color="#0315d7"/></linearGradient><linearGradient id="a116" gradientUnits="userSpaceOnUse" x1="0" y1="38.0" x2="0" y2="187.0"><stop offset="0.000" stop-color="#e32500"/><stop offset="0.080" stop-color="#e92900"/><stop offset="0.090" stop-color="#ff8c00"/><stop offset="0.097" stop-color="#ebff14"/><stop offset="0.119" stop-color="#96ff64"/><stop offset="0.126" stop-color="#14ffe6"/><stop offset="0.142" stop-color="#00c8ff"/><stop offset="0.156" stop-color="#0078ff"/><stop offset="0.173" stop-color="#0046f8"/><stop offset="0.186" stop-color="#0158f9"/><stop offset="0.282" stop-color="#024bf6"/><stop offset="0.389" stop-color="#0334f0"/><stop offset="0.537" stop-color="#042aee"/><stop offset="0.718" stop-color="#0423ec"/><stop offset="1.000" stop-color="#041be5"/></linearGradient><linearGradient id="a117" gradientUnits="userSpaceOnUse" x1="0" y1="38.0" x2="0" y2="187.0"><stop offset="0.000" stop-color="#e12100"/><stop offset="0.081" stop-color="#e82700"/><stop offset="0.091" stop-color="#ff8c00"/><stop offset="0.098" stop-color="#ebff14"/><stop offset="0.113" stop-color="#96ff64"/><stop offset="0.120" stop-color="#14ffe6"/><stop offset="0.131" stop-color="#00c8ff"/><stop offset="0.144" stop-color="#0078ff"/><stop offset="0.161" stop-color="#0046f8"/><stop offset="0.242" stop-color="#0245f4"/><stop offset="0.282" stop-color="#0242f4"/><stop offset="0.389" stop-color="#042dee"/><stop offset="0.537" stop-color="#0423ec"/><stop offset="0.718" stop-color="#041de9"/><stop offset="1.000" stop-color="#0419df"/></linearGradient><linearGradient id="a118" gradientUnits="userSpaceOnUse" x1="0" y1="38.0" x2="0" y2="187.0"><stop offset="0.000" stop-color="#de1c00"/><stop offset="0.084" stop-color="#e72400"/><stop offset="0.094" stop-color="#ff8c00"/><stop offset="0.100" stop-color="#ebff14"/><stop offset="0.127" stop-color="#96ff64"/><stop offset="0.134" stop-color="#14ffe6"/><stop offset="0.162" stop-color="#00c8ff"/><stop offset="0.175" stop-color="#0078ff"/><stop offset="0.192" stop-color="#0046f8"/><stop offset="0.272" stop-color="#0338f1"/><stop offset="0.389" stop-color="#0424ec"/><stop offset="0.537" stop-color="#041ce8"/><stop offset="0.718" stop-color="#041ae1"/><stop offset="1.000" stop-color="#0315d8"/></linearGradient><linearGradient id="a119" gradientUnits="userSpaceOnUse" x1="0" y1="38.0" x2="0" y2="187.0"><stop offset="0.000" stop-color="#dc1800"/><stop offset="0.091" stop-color="#e62200"/><stop offset="0.101" stop-color="#ff8c00"/><stop offset="0.108" stop-color="#ebff14"/><stop offset="0.128" stop-color="#96ff64"/><stop offset="0.135" stop-color="#14ffe6"/><stop offset="0.154" stop-color="#00c8ff"/><stop offset="0.167" stop-color="#0078ff"/><stop offset="0.184" stop-color="#0046f8"/><stop offset="0.198" stop-color="#0159f9"/><stop offset="0.282" stop-color="#0332f0"/><stop offset="0.389" stop-color="#041feb"/><stop offset="0.537" stop-color="#041be4"/><stop offset="0.718" stop-color="#0418dd"/><stop offset="1.000" stop-color="#0314d4"/></linearGradient><linearGradient id="a120" gradientUnits="userSpaceOnUse" x1="0" y1="38.0" x2="0" y2="187.0"><stop offset="0.000" stop-color="#d91300"/><stop offset="0.108" stop-color="#e42000"/><stop offset="0.118" stop-color="#ff8c00"/><stop offset="0.125" stop-color="#ebff14"/><stop offset="0.139" stop-color="#96ff64"/><stop offset="0.146" stop-color="#14ffe6"/><stop offset="0.165" stop-color="#00c8ff"/><stop offset="0.178" stop-color="#0078ff"/><stop offset="0.195" stop-color="#0046f8"/><stop offset="0.316" stop-color="#042cee"/><stop offset="0.389" stop-color="#041be4"/><stop offset="0.537" stop-color="#0317dc"/><stop offset="0.718" stop-color="#0314d5"/><stop offset="1.000" stop-color="#0210cc"/></linearGradient><linearGradient id="a121" gradientUnits="userSpaceOnUse" x1="0" y1="38.0" x2="0" y2="187.0"><stop offset="0.000" stop-color="#d70f00"/><stop offset="0.116" stop-color="#e31e00"/><stop offset="0.126" stop-color="#ff8c00"/><stop offset="0.133" stop-color="#ebff14"/><stop offset="0.157" stop-color="#96ff64"/><stop offset="0.164" stop-color="#14ffe6"/><stop offset="0.191" stop-color="#00c8ff"/><stop offset="0.204" stop-color="#0078ff"/><stop offset="0.221" stop-color="#0046f8"/><stop offset="0.302" stop-color="#042dee"/><stop offset="0.389" stop-color="#0419df"/><stop offset="0.537" stop-color="#0316d8"/><stop offset="0.718" stop-color="#0313d1"/><stop offset="1.000" stop-color="#020fc8"/></linearGradient><linearGradient id="a122" gradientUnits="userSpaceOnUse" x1="0" y1="38.0" x2="0" y2="187.0"><stop offset="0.000" stop-color="#d30d00"/><stop offset="0.112" stop-color="#e11d00"/><stop offset="0.122" stop-color="#ff8c00"/><stop offset="0.128" stop-color="#ebff14"/><stop offset="0.153" stop-color="#96ff64"/><stop offset="0.160" stop-color="#14ffe6"/><stop offset="0.163" stop-color="#00c8ff"/><stop offset="0.176" stop-color="#0078ff"/><stop offset="0.193" stop-color="#0046f8"/><stop offset="0.274" stop-color="#0332f0"/><stop offset="0.389" stop-color="#041ae2"/><stop offset="0.537" stop-color="#0317da"/><stop offset="0.718" stop-color="#0314d3"/><stop offset="1.000" stop-color="#0210ca"/></linearGradient><linearGradient id="a123" gradientUnits="userSpaceOnUse" x1="0" y1="38.0" x2="0" y2="187.0"><stop offset="0.000" stop-color="#d00b00"/><stop offset="0.093" stop-color="#e01c00"/><stop offset="0.103" stop-color="#ff8c00"/><stop offset="0.110" stop-color="#ebff14"/><stop offset="0.128" stop-color="#96ff64"/><stop offset="0.135" stop-color="#14ffe6"/><stop offset="0.154" stop-color="#00c8ff"/><stop offset="0.168" stop-color="#0078ff"/><stop offset="0.185" stop-color="#0046f8"/><stop offset="0.265" stop-color="#0333f0"/><stop offset="0.389" stop-color="#0418de"/><stop offset="0.537" stop-color="#0315d7"/><stop offset="0.718" stop-color="#0312d0"/><stop offset="1.000" stop-color="#020ec6"/></linearGradient><linearGradient id="a124" gradientUnits="userSpaceOnUse" x1="0" y1="38.0" x2="0" y2="187.0"><stop offset="0.000" stop-color="#cd0900"/><stop offset="0.105" stop-color="#de1b00"/><stop offset="0.115" stop-color="#ff8c00"/><stop offset="0.122" stop-color="#ebff14"/><stop offset="0.135" stop-color="#96ff64"/><stop offset="0.142" stop-color="#14ffe6"/><stop offset="0.159" stop-color="#00c8ff"/><stop offset="0.172" stop-color="#0078ff"/><stop offset="0.189" stop-color="#0046f8"/><stop offset="0.202" stop-color="#0158f9"/><stop offset="0.282" stop-color="#041feb"/><stop offset="0.389" stop-color="#0419e0"/><stop offset="0.537" stop-color="#0316d9"/><stop offset="0.718" stop-color="#0313d2"/><stop offset="1.000" stop-color="#020fc9"/></linearGradient><linearGradient id="a125" gradientUnits="userSpaceOnUse" x1="0" y1="38.0" x2="0" y2="187.0"><stop offset="0.000" stop-color="#c90700"/><stop offset="0.103" stop-color="#dc1a00"/><stop offset="0.113" stop-color="#ff8c00"/><stop offset="0.120" stop-color="#ebff14"/><stop offset="0.137" stop-color="#96ff64"/><stop offset="0.144" stop-color="#14ffe6"/><stop offset="0.150" stop-color="#00c8ff"/><stop offset="0.164" stop-color="#0078ff"/><stop offset="0.180" stop-color="#0046f8"/><stop offset="0.194" stop-color="#015bfa"/><stop offset="0.282" stop-color="#0419df"/><stop offset="0.389" stop-color="#0314d4"/><stop offset="0.537" stop-color="#0211ce"/><stop offset="0.718" stop-color="#020ec7"/><stop offset="1.000" stop-color="#010abe"/></linearGradient><linearGradient id="a126" gradientUnits="userSpaceOnUse" x1="0" y1="38.0" x2="0" y2="187.0"><stop offset="0.000" stop-color="#c60500"/><stop offset="0.092" stop-color="#db1900"/><stop offset="0.102" stop-color="#ff8c00"/><stop offset="0.109" stop-color="#ebff14"/><stop offset="0.124" stop-color="#96ff64"/><stop offset="0.131" stop-color="#14ffe6"/><stop offset="0.143" stop-color="#00c8ff"/><stop offset="0.157" stop-color="#0078ff"/><stop offset="0.173" stop-color="#0046f8"/><stop offset="0.294" stop-color="#0429ed"/><stop offset="0.389" stop-color="#041ae3"/><stop offset="0.537" stop-color="#0418dd"/><stop offset="0.718" stop-color="#0315d7"/><stop offset="1.000" stop-color="#0211cd"/></linearGradient><linearGradient id="a127" gradientUnits="userSpaceOnUse" x1="0" y1="38.0" x2="0" y2="187.0"><stop offset="0.000" stop-color="#c30300"/><stop offset="0.087" stop-color="#d91800"/><stop offset="0.097" stop-color="#ff8c00"/><stop offset="0.104" stop-color="#ebff14"/><stop offset="0.123" stop-color="#96ff64"/><stop offset="0.130" stop-color="#14ffe6"/><stop offset="0.133" stop-color="#00c8ff"/><stop offset="0.146" stop-color="#0078ff"/><stop offset="0.163" stop-color="#0046f8"/><stop offset="0.284" stop-color="#0429ed"/><stop offset="0.389" stop-color="#041ce7"/><stop offset="0.537" stop-color="#041ae2"/><stop offset="0.718" stop-color="#0317db"/><stop offset="1.000" stop-color="#0313d2"/></linearGradient><linearGradient id="a128" gradientUnits="userSpaceOnUse" x1="0" y1="38.0" x2="0" y2="187.0"><stop offset="0.000" stop-color="#bf0100"/><stop offset="0.092" stop-color="#d71700"/><stop offset="0.102" stop-color="#ff8c00"/><stop offset="0.108" stop-color="#ebff14"/><stop offset="0.122" stop-color="#96ff64"/><stop offset="0.129" stop-color="#14ffe6"/><stop offset="0.132" stop-color="#00c8ff"/><stop offset="0.146" stop-color="#0078ff"/><stop offset="0.162" stop-color="#0046f8"/><stop offset="0.176" stop-color="#0158f9"/><stop offset="0.282" stop-color="#041be5"/><stop offset="0.389" stop-color="#0317db"/><stop offset="0.537" stop-color="#0315d6"/><stop offset="0.718" stop-color="#0312d0"/><stop offset="1.000" stop-color="#020ec7"/></linearGradient><linearGradient id="a129" gradientUnits="userSpaceOnUse" x1="0" y1="38.0" x2="0" y2="187.0"><stop offset="0.000" stop-color="#be0000"/><stop offset="0.095" stop-color="#d71600"/><stop offset="0.105" stop-color="#ff8c00"/><stop offset="0.112" stop-color="#ebff14"/><stop offset="0.132" stop-color="#96ff64"/><stop offset="0.138" stop-color="#14ffe6"/><stop offset="0.161" stop-color="#00c8ff"/><stop offset="0.175" stop-color="#0078ff"/><stop offset="0.191" stop-color="#0046f8"/><stop offset="0.312" stop-color="#0421eb"/><stop offset="0.389" stop-color="#020ec7"/><stop offset="0.537" stop-color="#020dc3"/><stop offset="0.718" stop-color="#010abe"/><stop offset="1.000" stop-color="#0106b4"/></linearGradient><linearGradient id="a130" gradientUnits="userSpaceOnUse" x1="0" y1="38.0" x2="0" y2="187.0"><stop offset="0.000" stop-color="#be0000"/><stop offset="0.082" stop-color="#d71600"/><stop offset="0.092" stop-color="#ff8c00"/><stop offset="0.099" stop-color="#ebff14"/><stop offset="0.113" stop-color="#96ff64"/><stop offset="0.120" stop-color="#14ffe6"/><stop offset="0.137" stop-color="#00c8ff"/><stop offset="0.151" stop-color="#0078ff"/><stop offset="0.167" stop-color="#0046f8"/><stop offset="0.248" stop-color="#0331ef"/><stop offset="0.282" stop-color="#0418df"/><stop offset="0.389" stop-color="#0314d5"/><stop offset="0.537" stop-color="#0314d3"/><stop offset="0.718" stop-color="#0211ce"/><stop offset="1.000" stop-color="#020dc5"/></linearGradient><linearGradient id="a131" gradientUnits="userSpaceOnUse" x1="0" y1="38.0" x2="0" y2="187.0"><stop offset="0.000" stop-color="#bf0000"/><stop offset="0.091" stop-color="#d71600"/><stop offset="0.101" stop-color="#ff8c00"/><stop offset="0.108" stop-color="#ebff14"/><stop offset="0.135" stop-color="#96ff64"/><stop offset="0.142" stop-color="#14ffe6"/><stop offset="0.176" stop-color="#00c8ff"/><stop offset="0.189" stop-color="#0078ff"/><stop offset="0.206" stop-color="#0046f8"/><stop offset="0.286" stop-color="#041feb"/><stop offset="0.389" stop-color="#041ce7"/><stop offset="0.537" stop-color="#041ce7"/><stop offset="0.718" stop-color="#041ae3"/><stop offset="1.000" stop-color="#0316da"/></linearGradient><linearGradient id="a132" gradientUnits="userSpaceOnUse" x1="0" y1="38.0" x2="0" y2="187.0"><stop offset="0.000" stop-color="#bf0000"/><stop offset="0.073" stop-color="#d71600"/><stop offset="0.083" stop-color="#ff8c00"/><stop offset="0.089" stop-color="#ebff14"/><stop offset="0.117" stop-color="#96ff64"/><stop offset="0.123" stop-color="#14ffe6"/><stop offset="0.127" stop-color="#00c8ff"/><stop offset="0.140" stop-color="#0078ff"/><stop offset="0.157" stop-color="#0046f8"/><stop offset="0.211" stop-color="#0244f4"/><stop offset="0.282" stop-color="#041ae3"/><stop offset="0.389" stop-color="#0316da"/><stop offset="0.537" stop-color="#0317dc"/><stop offset="0.718" stop-color="#0316d9"/><stop offset="1.000" stop-color="#0312cf"/></linearGradient><linearGradient id="a133" gradientUnits="userSpaceOnUse" x1="0" y1="38.0" x2="0" y2="187.0"><stop offset="0.000" stop-color="#bf0000"/><stop offset="0.063" stop-color="#d71600"/><stop offset="0.073" stop-color="#ff8c00"/><stop offset="0.080" stop-color="#ebff14"/><stop offset="0.102" stop-color="#96ff64"/><stop offset="0.109" stop-color="#14ffe6"/><stop offset="0.116" stop-color="#00c8ff"/><stop offset="0.129" stop-color="#0078ff"/><stop offset="0.146" stop-color="#0046f8"/><stop offset="0.321" stop-color="#0419e1"/><stop offset="0.389" stop-color="#0314d5"/><stop offset="0.537" stop-color="#0316d9"/><stop offset="0.718" stop-color="#0315d6"/><stop offset="1.000" stop-color="#0211cd"/></linearGradient><linearGradient id="a134" gradientUnits="userSpaceOnUse" x1="0" y1="38.0" x2="0" y2="187.0"><stop offset="0.000" stop-color="#c00000"/><stop offset="0.078" stop-color="#d81600"/><stop offset="0.088" stop-color="#ff8c00"/><stop offset="0.095" stop-color="#ebff14"/><stop offset="0.113" stop-color="#96ff64"/><stop offset="0.120" stop-color="#14ffe6"/><stop offset="0.152" stop-color="#00c8ff"/><stop offset="0.165" stop-color="#0078ff"/><stop offset="0.182" stop-color="#0046f8"/><stop offset="0.262" stop-color="#041de9"/><stop offset="0.389" stop-color="#0312d0"/><stop offset="0.537" stop-color="#0315d6"/><stop offset="0.718" stop-color="#0314d4"/><stop offset="1.000" stop-color="#0210cb"/></linearGradient><linearGradient id="a135" gradientUnits="userSpaceOnUse" x1="0" y1="38.0" x2="0" y2="187.0"><stop offset="0.000" stop-color="#c00000"/><stop offset="0.085" stop-color="#d81600"/><stop offset="0.095" stop-color="#ff8c00"/><stop offset="0.102" stop-color="#ebff14"/><stop offset="0.143" stop-color="#96ff64"/><stop offset="0.150" stop-color="#14ffe6"/><stop offset="0.186" stop-color="#00c8ff"/><stop offset="0.200" stop-color="#0078ff"/><stop offset="0.216" stop-color="#0046f8"/><stop offset="0.297" stop-color="#0418dd"/><stop offset="0.389" stop-color="#0316d9"/><stop offset="0.537" stop-color="#041ae2"/><stop offset="0.718" stop-color="#0419e1"/><stop offset="1.000" stop-color="#0315d8"/></linearGradient><linearGradient id="a136" gradientUnits="userSpaceOnUse" x1="0" y1="38.0" x2="0" y2="187.0"><stop offset="0.000" stop-color="#c10000"/><stop offset="0.082" stop-color="#d81600"/><stop offset="0.092" stop-color="#ff8c00"/><stop offset="0.098" stop-color="#ebff14"/><stop offset="0.125" stop-color="#96ff64"/><stop offset="0.132" stop-color="#14ffe6"/><stop offset="0.159" stop-color="#00c8ff"/><stop offset="0.173" stop-color="#0078ff"/><stop offset="0.190" stop-color="#0046f8"/><stop offset="0.310" stop-color="#0316d9"/><stop offset="0.389" stop-color="#0210cc"/><stop offset="0.537" stop-color="#0315d6"/><stop offset="0.718" stop-color="#0314d5"/><stop offset="1.000" stop-color="#0211cc"/></linearGradient><linearGradient id="a137" gradientUnits="userSpaceOnUse" x1="0" y1="38.0" x2="0" y2="187.0"><stop offset="0.000" stop-color="#c10000"/><stop offset="0.071" stop-color="#d81600"/><stop offset="0.081" stop-color="#ff8c00"/><stop offset="0.087" stop-color="#ebff14"/><stop offset="0.107" stop-color="#96ff64"/><stop offset="0.114" stop-color="#14ffe6"/><stop offset="0.122" stop-color="#00c8ff"/><stop offset="0.135" stop-color="#0078ff"/><stop offset="0.152" stop-color="#0046f8"/><stop offset="0.186" stop-color="#033cf2"/><stop offset="0.282" stop-color="#041ae3"/><stop offset="0.389" stop-color="#0316da"/><stop offset="0.537" stop-color="#041be6"/><stop offset="0.718" stop-color="#041be5"/><stop offset="1.000" stop-color="#0317dc"/></linearGradient><linearGradient id="a138" gradientUnits="userSpaceOnUse" x1="0" y1="38.0" x2="0" y2="187.0"><stop offset="0.000" stop-color="#c10000"/><stop offset="0.067" stop-color="#d81600"/><stop offset="0.077" stop-color="#ff8c00"/><stop offset="0.084" stop-color="#ebff14"/><stop offset="0.102" stop-color="#96ff64"/><stop offset="0.109" stop-color="#14ffe6"/><stop offset="0.118" stop-color="#00c8ff"/><stop offset="0.131" stop-color="#0078ff"/><stop offset="0.148" stop-color="#0046f8"/><stop offset="0.322" stop-color="#0314d5"/><stop offset="0.389" stop-color="#0313d3"/><stop offset="0.537" stop-color="#0419df"/><stop offset="0.718" stop-color="#0418df"/><stop offset="1.000" stop-color="#0314d5"/></linearGradient><linearGradient id="a139" gradientUnits="userSpaceOnUse" x1="0" y1="38.0" x2="0" y2="187.0"><stop offset="0.000" stop-color="#c20000"/><stop offset="0.085" stop-color="#d91600"/><stop offset="0.095" stop-color="#ff8c00"/><stop offset="0.102" stop-color="#ebff14"/><stop offset="0.119" stop-color="#96ff64"/><stop offset="0.126" stop-color="#14ffe6"/><stop offset="0.151" stop-color="#00c8ff"/><stop offset="0.164" stop-color="#0078ff"/><stop offset="0.181" stop-color="#0046f8"/><stop offset="0.355" stop-color="#0314d4"/><stop offset="0.389" stop-color="#0418de"/><stop offset="0.537" stop-color="#041dea"/><stop offset="0.718" stop-color="#041de9"/><stop offset="1.000" stop-color="#0419e0"/></linearGradient><linearGradient id="a140" gradientUnits="userSpaceOnUse" x1="0" y1="38.0" x2="0" y2="187.0"><stop offset="0.000" stop-color="#c20000"/><stop offset="0.080" stop-color="#d91600"/><stop offset="0.090" stop-color="#ff8c00"/><stop offset="0.097" stop-color="#ebff14"/><stop offset="0.124" stop-color="#96ff64"/><stop offset="0.131" stop-color="#14ffe6"/><stop offset="0.156" stop-color="#00c8ff"/><stop offset="0.169" stop-color="#0078ff"/><stop offset="0.186" stop-color="#0046f8"/><stop offset="0.220" stop-color="#0429ed"/><stop offset="0.282" stop-color="#041ae3"/><stop offset="0.389" stop-color="#0317db"/><stop offset="0.537" stop-color="#041be5"/><stop offset="0.718" stop-color="#041be4"/><stop offset="1.000" stop-color="#0317db"/></linearGradient><linearGradient id="a141" gradientUnits="userSpaceOnUse" x1="0" y1="38.0" x2="0" y2="187.0"><stop offset="0.000" stop-color="#c30000"/><stop offset="0.070" stop-color="#d91600"/><stop offset="0.080" stop-color="#ff8c00"/><stop offset="0.087" stop-color="#ebff14"/><stop offset="0.105" stop-color="#96ff64"/><stop offset="0.112" stop-color="#14ffe6"/><stop offset="0.116" stop-color="#00c8ff"/><stop offset="0.129" stop-color="#0078ff"/><stop offset="0.146" stop-color="#0046f8"/><stop offset="0.267" stop-color="#041ae3"/><stop offset="0.389" stop-color="#0315d8"/><stop offset="0.537" stop-color="#0419e0"/><stop offset="0.718" stop-color="#0419df"/><stop offset="1.000" stop-color="#0315d6"/></linearGradient><linearGradient id="a142" gradientUnits="userSpaceOnUse" x1="0" y1="38.0" x2="0" y2="187.0"><stop offset="0.000" stop-color="#cb0c00"/><stop offset="0.070" stop-color="#dd1c00"/><stop offset="0.080" stop-color="#ff8c00"/><stop offset="0.087" stop-color="#ebff14"/><stop offset="0.117" stop-color="#96ff64"/><stop offset="0.124" stop-color="#14ffe6"/><stop offset="0.149" stop-color="#00c8ff"/><stop offset="0.163" stop-color="#0078ff"/><stop offset="0.179" stop-color="#0046f8"/><stop offset="0.200" stop-color="#0332f0"/><stop offset="0.282" stop-color="#0313d2"/><stop offset="0.389" stop-color="#020fca"/><stop offset="0.537" stop-color="#0312d1"/><stop offset="0.718" stop-color="#0211ce"/><stop offset="1.000" stop-color="#020dc5"/></linearGradient><linearGradient id="a143" gradientUnits="userSpaceOnUse" x1="0" y1="38.0" x2="0" y2="187.0"><stop offset="0.000" stop-color="#d31800"/><stop offset="0.075" stop-color="#e12200"/><stop offset="0.085" stop-color="#ff8c00"/><stop offset="0.092" stop-color="#ebff14"/><stop offset="0.112" stop-color="#96ff64"/><stop offset="0.118" stop-color="#14ffe6"/><stop offset="0.135" stop-color="#00c8ff"/><stop offset="0.148" stop-color="#0078ff"/><stop offset="0.165" stop-color="#0046f8"/><stop offset="0.199" stop-color="#0332f0"/><stop offset="0.282" stop-color="#0314d5"/><stop offset="0.389" stop-color="#0211cd"/><stop offset="0.537" stop-color="#0313d2"/><stop offset="0.718" stop-color="#0312cf"/><stop offset="1.000" stop-color="#020ec6"/></linearGradient><linearGradient id="a144" gradientUnits="userSpaceOnUse" x1="0" y1="38.0" x2="0" y2="187.0"><stop offset="0.000" stop-color="#db2400"/><stop offset="0.091" stop-color="#e52800"/><stop offset="0.102" stop-color="#ff8c00"/><stop offset="0.108" stop-color="#ebff14"/><stop offset="0.122" stop-color="#96ff64"/><stop offset="0.128" stop-color="#14ffe6"/><stop offset="0.137" stop-color="#00c8ff"/><stop offset="0.150" stop-color="#0078ff"/><stop offset="0.167" stop-color="#0046f8"/><stop offset="0.201" stop-color="#0332f0"/><stop offset="0.282" stop-color="#0418dd"/><stop offset="0.389" stop-color="#0314d5"/><stop offset="0.537" stop-color="#0315d8"/><stop offset="0.718" stop-color="#0314d4"/><stop offset="1.000" stop-color="#0210cb"/></linearGradient><linearGradient id="a145" gradientUnits="userSpaceOnUse" x1="0" y1="38.0" x2="0" y2="187.0"><stop offset="0.000" stop-color="#e33000"/><stop offset="0.090" stop-color="#e92e00"/><stop offset="0.100" stop-color="#ff8c00"/><stop offset="0.107" stop-color="#ebff14"/><stop offset="0.123" stop-color="#96ff64"/><stop offset="0.129" stop-color="#14ffe6"/><stop offset="0.155" stop-color="#00c8ff"/><stop offset="0.169" stop-color="#0078ff"/><stop offset="0.186" stop-color="#0046f8"/><stop offset="0.239" stop-color="#0428ed"/><stop offset="0.282" stop-color="#0420eb"/><stop offset="0.389" stop-color="#041be5"/><stop offset="0.537" stop-color="#041be5"/><stop offset="0.718" stop-color="#0419e1"/><stop offset="1.000" stop-color="#0315d7"/></linearGradient><linearGradient id="a146" gradientUnits="userSpaceOnUse" x1="0" y1="38.0" x2="0" y2="187.0"><stop offset="0.000" stop-color="#eb3c00"/><stop offset="0.066" stop-color="#ed3400"/><stop offset="0.077" stop-color="#ff8c00"/><stop offset="0.083" stop-color="#ebff14"/><stop offset="0.100" stop-color="#96ff64"/><stop offset="0.106" stop-color="#14ffe6"/><stop offset="0.122" stop-color="#00c8ff"/><stop offset="0.135" stop-color="#0078ff"/><stop offset="0.152" stop-color="#0046f8"/><stop offset="0.186" stop-color="#0336f1"/><stop offset="0.282" stop-color="#0425ec"/><stop offset="0.389" stop-color="#041de9"/><stop offset="0.537" stop-color="#041ce8"/><stop offset="0.718" stop-color="#041ae3"/><stop offset="1.000" stop-color="#0316d9"/></linearGradient><linearGradient id="a147" gradientUnits="userSpaceOnUse" x1="0" y1="38.0" x2="0" y2="187.0"><stop offset="0.000" stop-color="#ed4200"/><stop offset="0.075" stop-color="#ee3700"/><stop offset="0.085" stop-color="#ff8c00"/><stop offset="0.092" stop-color="#ebff14"/><stop offset="0.116" stop-color="#96ff64"/><stop offset="0.123" stop-color="#14ffe6"/><stop offset="0.126" stop-color="#00c8ff"/><stop offset="0.140" stop-color="#0078ff"/><stop offset="0.156" stop-color="#0046f8"/><stop offset="0.176" stop-color="#0337f1"/><stop offset="0.282" stop-color="#041de9"/><stop offset="0.389" stop-color="#041ae2"/><stop offset="0.537" stop-color="#0418df"/><stop offset="0.718" stop-color="#0316d9"/><stop offset="1.000" stop-color="#0312d0"/></linearGradient><linearGradient id="a148" gradientUnits="userSpaceOnUse" x1="0" y1="38.0" x2="0" y2="187.0"><stop offset="0.000" stop-color="#ef4900"/><stop offset="0.071" stop-color="#ef3b00"/><stop offset="0.081" stop-color="#ff8c00"/><stop offset="0.088" stop-color="#ebff14"/><stop offset="0.120" stop-color="#96ff64"/><stop offset="0.126" stop-color="#14ffe6"/><stop offset="0.142" stop-color="#00c8ff"/><stop offset="0.155" stop-color="#0078ff"/><stop offset="0.172" stop-color="#0046f8"/><stop offset="0.346" stop-color="#041feb"/><stop offset="0.389" stop-color="#041eeb"/><stop offset="0.537" stop-color="#041ce7"/><stop offset="0.718" stop-color="#0419e0"/><stop offset="1.000" stop-color="#0315d7"/></linearGradient><linearGradient id="a149" gradientUnits="userSpaceOnUse" x1="0" y1="38.0" x2="0" y2="187.0"><stop offset="0.000" stop-color="#f15000"/><stop offset="0.079" stop-color="#f03e00"/><stop offset="0.089" stop-color="#ff8c00"/><stop offset="0.096" stop-color="#ebff14"/><stop offset="0.135" stop-color="#96ff64"/><stop offset="0.142" stop-color="#14ffe6"/><stop offset="0.172" stop-color="#00c8ff"/><stop offset="0.185" stop-color="#0078ff"/><stop offset="0.202" stop-color="#0046f8"/><stop offset="0.215" stop-color="#0331ef"/><stop offset="0.282" stop-color="#0334f0"/><stop offset="0.389" stop-color="#042bee"/><stop offset="0.537" stop-color="#0425ec"/><stop offset="0.718" stop-color="#041eeb"/><stop offset="1.000" stop-color="#041ae1"/></linearGradient><linearGradient id="a150" gradientUnits="userSpaceOnUse" x1="0" y1="38.0" x2="0" y2="187.0"><stop offset="0.000" stop-color="#f35600"/><stop offset="0.085" stop-color="#f14100"/><stop offset="0.095" stop-color="#ff8c00"/><stop offset="0.101" stop-color="#ebff14"/><stop offset="0.123" stop-color="#96ff64"/><stop offset="0.130" stop-color="#14ffe6"/><stop offset="0.165" stop-color="#00c8ff"/><stop offset="0.178" stop-color="#0078ff"/><stop offset="0.195" stop-color="#0046f8"/><stop offset="0.316" stop-color="#0424ec"/><stop offset="0.389" stop-color="#0423ec"/><stop offset="0.537" stop-color="#041dea"/><stop offset="0.718" stop-color="#041ae3"/><stop offset="1.000" stop-color="#0316da"/></linearGradient><linearGradient id="a151" gradientUnits="userSpaceOnUse" x1="0" y1="38.0" x2="0" y2="187.0"><stop offset="0.000" stop-color="#f55d00"/><stop offset="0.108" stop-color="#f24500"/><stop offset="0.118" stop-color="#ff8c00"/><stop offset="0.125" stop-color="#ebff14"/><stop offset="0.141" stop-color="#96ff64"/><stop offset="0.148" stop-color="#14ffe6"/><stop offset="0.161" stop-color="#00c8ff"/><stop offset="0.174" stop-color="#0078ff"/><stop offset="0.191" stop-color="#0046f8"/><stop offset="0.312" stop-color="#0425ec"/><stop offset="0.389" stop-color="#041de9"/><stop offset="0.537" stop-color="#041ae3"/><stop offset="0.718" stop-color="#0317dc"/><stop offset="1.000" stop-color="#0313d3"/></linearGradient><linearGradient id="a152" gradientUnits="userSpaceOnUse" x1="0" y1="38.0" x2="0" y2="187.0"><stop offset="0.000" stop-color="#f76400"/><stop offset="0.109" stop-color="#f34800"/><stop offset="0.119" stop-color="#ff8c00"/><stop offset="0.126" stop-color="#ebff14"/><stop offset="0.152" stop-color="#96ff64"/><stop offset="0.159" stop-color="#14ffe6"/><stop offset="0.178" stop-color="#00c8ff"/><stop offset="0.191" stop-color="#0078ff"/><stop offset="0.208" stop-color="#0046f8"/><stop offset="0.228" stop-color="#032fef"/><stop offset="0.282" stop-color="#0421eb"/><stop offset="0.389" stop-color="#041ce6"/><stop offset="0.537" stop-color="#0419e0"/><stop offset="0.718" stop-color="#0316d9"/><stop offset="1.000" stop-color="#0312d0"/></linearGradient><linearGradient id="a153" gradientUnits="userSpaceOnUse" x1="0" y1="38.0" x2="0" y2="187.0"><stop offset="0.000" stop-color="#f96a00"/><stop offset="0.093" stop-color="#f44b00"/><stop offset="0.103" stop-color="#ff8c00"/><stop offset="0.109" stop-color="#ebff14"/><stop offset="0.129" stop-color="#96ff64"/><stop offset="0.136" stop-color="#14ffe6"/><stop offset="0.157" stop-color="#00c8ff"/><stop offset="0.170" stop-color="#0078ff"/><stop offset="0.187" stop-color="#0046f8"/><stop offset="0.241" stop-color="#042dee"/><stop offset="0.282" stop-color="#032fef"/><stop offset="0.389" stop-color="#0426ed"/><stop offset="0.537" stop-color="#041feb"/><stop offset="0.718" stop-color="#041be5"/><stop offset="1.000" stop-color="#0317dc"/></linearGradient><linearGradient id="a154" gradientUnits="userSpaceOnUse" x1="0" y1="38.0" x2="0" y2="187.0"><stop offset="0.000" stop-color="#fa6d00"/><stop offset="0.112" stop-color="#f54d00"/><stop offset="0.122" stop-color="#ff8c00"/><stop offset="0.129" stop-color="#ebff14"/><stop offset="0.148" stop-color="#96ff64"/><stop offset="0.155" stop-color="#14ffe6"/><stop offset="0.160" stop-color="#00c8ff"/><stop offset="0.173" stop-color="#0078ff"/><stop offset="0.190" stop-color="#0046f8"/><stop offset="0.204" stop-color="#0332f0"/><stop offset="0.282" stop-color="#0333f0"/><stop offset="0.389" stop-color="#042aee"/><stop offset="0.537" stop-color="#0422ec"/><stop offset="0.718" stop-color="#041ce8"/><stop offset="1.000" stop-color="#0418df"/></linearGradient><linearGradient id="a155" gradientUnits="userSpaceOnUse" x1="0" y1="38.0" x2="0" y2="187.0"><stop offset="0.000" stop-color="#fa6c00"/><stop offset="0.109" stop-color="#f54c00"/><stop offset="0.119" stop-color="#ff8c00"/><stop offset="0.126" stop-color="#ebff14"/><stop offset="0.146" stop-color="#96ff64"/><stop offset="0.153" stop-color="#14ffe6"/><stop offset="0.156" stop-color="#00c8ff"/><stop offset="0.169" stop-color="#0078ff"/><stop offset="0.186" stop-color="#0046f8"/><stop offset="0.361" stop-color="#0422ec"/><stop offset="0.389" stop-color="#041ce6"/><stop offset="0.537" stop-color="#0419e0"/><stop offset="0.718" stop-color="#0316d9"/><stop offset="1.000" stop-color="#0312d0"/></linearGradient><linearGradient id="a156" gradientUnits="userSpaceOnUse" x1="0" y1="38.0" x2="0" y2="187.0"><stop offset="0.000" stop-color="#fa6b00"/><stop offset="0.107" stop-color="#f54c00"/><stop offset="0.117" stop-color="#ff8c00"/><stop offset="0.124" stop-color="#ebff14"/><stop offset="0.147" stop-color="#96ff64"/><stop offset="0.154" stop-color="#14ffe6"/><stop offset="0.175" stop-color="#00c8ff"/><stop offset="0.188" stop-color="#0078ff"/><stop offset="0.205" stop-color="#0046f8"/><stop offset="0.326" stop-color="#0425ec"/><stop offset="0.389" stop-color="#0421eb"/><stop offset="0.537" stop-color="#041ce7"/><stop offset="0.718" stop-color="#0419e0"/><stop offset="1.000" stop-color="#0315d7"/></linearGradient><linearGradient id="a157" gradientUnits="userSpaceOnUse" x1="0" y1="38.0" x2="0" y2="187.0"><stop offset="0.000" stop-color="#fa6900"/><stop offset="0.107" stop-color="#f54b00"/><stop offset="0.117" stop-color="#ff8c00"/><stop offset="0.124" stop-color="#ebff14"/><stop offset="0.145" stop-color="#96ff64"/><stop offset="0.151" stop-color="#14ffe6"/><stop offset="0.175" stop-color="#00c8ff"/><stop offset="0.189" stop-color="#0078ff"/><stop offset="0.205" stop-color="#0046f8"/><stop offset="0.286" stop-color="#0428ed"/><stop offset="0.389" stop-color="#041ce8"/><stop offset="0.537" stop-color="#0419e1"/><stop offset="0.718" stop-color="#0316da"/><stop offset="1.000" stop-color="#0312d1"/></linearGradient><linearGradient id="a158" gradientUnits="userSpaceOnUse" x1="0" y1="38.0" x2="0" y2="187.0"><stop offset="0.000" stop-color="#fa6800"/><stop offset="0.093" stop-color="#f54a00"/><stop offset="0.103" stop-color="#ff8c00"/><stop offset="0.109" stop-color="#ebff14"/><stop offset="0.136" stop-color="#96ff64"/><stop offset="0.142" stop-color="#14ffe6"/><stop offset="0.169" stop-color="#00c8ff"/><stop offset="0.183" stop-color="#0078ff"/><stop offset="0.200" stop-color="#0046f8"/><stop offset="0.374" stop-color="#0421eb"/><stop offset="0.537" stop-color="#0317db"/><stop offset="0.718" stop-color="#0314d4"/><stop offset="1.000" stop-color="#0210cb"/></linearGradient><linearGradient id="a159" gradientUnits="userSpaceOnUse" x1="0" y1="38.0" x2="0" y2="187.0"><stop offset="0.000" stop-color="#fa6700"/><stop offset="0.077" stop-color="#f54a00"/><stop offset="0.087" stop-color="#ff8c00"/><stop offset="0.093" stop-color="#ebff14"/><stop offset="0.112" stop-color="#96ff64"/><stop offset="0.119" stop-color="#14ffe6"/><stop offset="0.149" stop-color="#00c8ff"/><stop offset="0.162" stop-color="#0078ff"/><stop offset="0.179" stop-color="#0046f8"/><stop offset="0.260" stop-color="#042bee"/><stop offset="0.282" stop-color="#0332f0"/><stop offset="0.389" stop-color="#0429ed"/><stop offset="0.537" stop-color="#0422ec"/><stop offset="0.718" stop-color="#041ce7"/><stop offset="1.000" stop-color="#0418de"/></linearGradient><linearGradient id="a160" gradientUnits="userSpaceOnUse" x1="0" y1="38.0" x2="0" y2="187.0"><stop offset="0.000" stop-color="#fa6600"/><stop offset="0.073" stop-color="#f54900"/><stop offset="0.083" stop-color="#ff8c00"/><stop offset="0.090" stop-color="#ebff14"/><stop offset="0.109" stop-color="#96ff64"/><stop offset="0.115" stop-color="#14ffe6"/><stop offset="0.138" stop-color="#00c8ff"/><stop offset="0.152" stop-color="#0078ff"/><stop offset="0.168" stop-color="#0046f8"/><stop offset="0.222" stop-color="#032fef"/><stop offset="0.282" stop-color="#0338f1"/><stop offset="0.389" stop-color="#032fef"/><stop offset="0.537" stop-color="#0427ed"/><stop offset="0.718" stop-color="#0420eb"/><stop offset="1.000" stop-color="#041ae3"/></linearGradient><linearGradient id="a161" gradientUnits="userSpaceOnUse" x1="0" y1="38.0" x2="0" y2="187.0"><stop offset="0.000" stop-color="#fa6500"/><stop offset="0.108" stop-color="#f54900"/><stop offset="0.118" stop-color="#ff8c00"/><stop offset="0.125" stop-color="#ebff14"/><stop offset="0.152" stop-color="#96ff64"/><stop offset="0.159" stop-color="#14ffe6"/><stop offset="0.182" stop-color="#00c8ff"/><stop offset="0.195" stop-color="#0078ff"/><stop offset="0.212" stop-color="#0046f8"/><stop offset="0.232" stop-color="#032eef"/><stop offset="0.282" stop-color="#0427ed"/><stop offset="0.389" stop-color="#041eeb"/><stop offset="0.537" stop-color="#041be4"/><stop offset="0.718" stop-color="#0418dd"/><stop offset="1.000" stop-color="#0314d4"/></linearGradient><linearGradient id="a162" gradientUnits="userSpaceOnUse" x1="0" y1="38.0" x2="0" y2="187.0"><stop offset="0.000" stop-color="#ffc814"/><stop offset="0.038" stop-color="#c8ff3c"/><stop offset="0.058" stop-color="#28fadc"/><stop offset="0.086" stop-color="#00beff"/><stop offset="0.096" stop-color="#0078ff"/><stop offset="0.113" stop-color="#0046f8"/><stop offset="0.234" stop-color="#042dee"/><stop offset="0.282" stop-color="#0429ed"/><stop offset="0.389" stop-color="#0420eb"/><stop offset="0.537" stop-color="#041ce6"/><stop offset="0.718" stop-color="#0419df"/><stop offset="1.000" stop-color="#0315d6"/></linearGradient><linearGradient id="a163" gradientUnits="userSpaceOnUse" x1="0" y1="38.0" x2="0" y2="187.0"><stop offset="0.000" stop-color="#f7d320"/><stop offset="0.030" stop-color="#c8ff3c"/><stop offset="0.050" stop-color="#28fadc"/><stop offset="0.080" stop-color="#00beff"/><stop offset="0.090" stop-color="#0078ff"/><stop offset="0.107" stop-color="#0046f8"/><stop offset="0.120" stop-color="#0241f3"/><stop offset="0.188" stop-color="#033af2"/><stop offset="0.282" stop-color="#032fef"/><stop offset="0.389" stop-color="#0426ed"/><stop offset="0.537" stop-color="#041feb"/><stop offset="0.718" stop-color="#041be5"/><stop offset="1.000" stop-color="#0317db"/></linearGradient><linearGradient id="a164" gradientUnits="userSpaceOnUse" x1="0" y1="38.0" x2="0" y2="187.0"><stop offset="0.000" stop-color="#efde2c"/><stop offset="0.028" stop-color="#c8ff3c"/><stop offset="0.048" stop-color="#28fadc"/><stop offset="0.093" stop-color="#00beff"/><stop offset="0.103" stop-color="#0078ff"/><stop offset="0.120" stop-color="#0046f8"/><stop offset="0.240" stop-color="#042dee"/><stop offset="0.282" stop-color="#0423ec"/><stop offset="0.389" stop-color="#041ce8"/><stop offset="0.537" stop-color="#041ae1"/><stop offset="0.718" stop-color="#0317db"/><stop offset="1.000" stop-color="#0313d1"/></linearGradient><linearGradient id="a165" gradientUnits="userSpaceOnUse" x1="0" y1="38.0" x2="0" y2="187.0"><stop offset="0.000" stop-color="#e7e938"/><stop offset="0.025" stop-color="#c8ff3c"/><stop offset="0.045" stop-color="#28fadc"/><stop offset="0.068" stop-color="#00beff"/><stop offset="0.078" stop-color="#0078ff"/><stop offset="0.095" stop-color="#0046f8"/><stop offset="0.148" stop-color="#033cf2"/><stop offset="0.188" stop-color="#0330ef"/><stop offset="0.282" stop-color="#0424ec"/><stop offset="0.389" stop-color="#041de9"/><stop offset="0.537" stop-color="#041ae2"/><stop offset="0.718" stop-color="#0317db"/><stop offset="1.000" stop-color="#0313d2"/></linearGradient><linearGradient id="a166" gradientUnits="userSpaceOnUse" x1="0" y1="38.0" x2="0" y2="187.0"><stop offset="0.000" stop-color="#dff444"/><stop offset="0.013" stop-color="#c8ff3c"/><stop offset="0.033" stop-color="#28fadc"/><stop offset="0.080" stop-color="#00beff"/><stop offset="0.090" stop-color="#0078ff"/><stop offset="0.107" stop-color="#0046f8"/><stop offset="0.161" stop-color="#0339f1"/><stop offset="0.188" stop-color="#033af2"/><stop offset="0.282" stop-color="#032fef"/><stop offset="0.389" stop-color="#0426ed"/><stop offset="0.537" stop-color="#041feb"/><stop offset="0.718" stop-color="#041be5"/><stop offset="1.000" stop-color="#0317db"/></linearGradient><linearGradient id="a167" gradientUnits="userSpaceOnUse" x1="0" y1="38.0" x2="0" y2="187.0"><stop offset="0.000" stop-color="#3cebff"/><stop offset="0.053" stop-color="#00a0ff"/><stop offset="0.104" stop-color="#003cfa"/><stop offset="0.188" stop-color="#0420eb"/><stop offset="0.282" stop-color="#041ae3"/><stop offset="0.389" stop-color="#0317db"/><stop offset="0.537" stop-color="#0314d5"/><stop offset="0.718" stop-color="#0211ce"/><stop offset="1.000" stop-color="#020dc4"/></linearGradient><linearGradient id="a168" gradientUnits="userSpaceOnUse" x1="0" y1="38.0" x2="0" y2="187.0"><stop offset="0.000" stop-color="#32d9ff"/><stop offset="0.053" stop-color="#0096ff"/><stop offset="0.174" stop-color="#003cfa"/><stop offset="0.282" stop-color="#0423ec"/><stop offset="0.389" stop-color="#041ce7"/><stop offset="0.537" stop-color="#0419e1"/><stop offset="0.718" stop-color="#0316da"/><stop offset="1.000" stop-color="#0312d1"/></linearGradient><linearGradient id="a169" gradientUnits="userSpaceOnUse" x1="0" y1="38.0" x2="0" y2="187.0"><stop offset="0.000" stop-color="#28c7ff"/><stop offset="0.049" stop-color="#008cff"/><stop offset="0.169" stop-color="#003cfa"/><stop offset="0.282" stop-color="#032fef"/><stop offset="0.389" stop-color="#0426ed"/><stop offset="0.537" stop-color="#041feb"/><stop offset="0.718" stop-color="#041be5"/><stop offset="1.000" stop-color="#0317db"/></linearGradient><linearGradient id="a170" gradientUnits="userSpaceOnUse" x1="0" y1="38.0" x2="0" y2="187.0"><stop offset="0.000" stop-color="#1eb5ff"/><stop offset="0.065" stop-color="#0082ff"/><stop offset="0.109" stop-color="#003cfa"/><stop offset="0.188" stop-color="#023ef3"/><stop offset="0.282" stop-color="#0332f0"/><stop offset="0.389" stop-color="#0429ed"/><stop offset="0.537" stop-color="#0422ec"/><stop offset="0.718" stop-color="#041ce7"/><stop offset="1.000" stop-color="#0418de"/></linearGradient><linearGradient id="a171" gradientUnits="userSpaceOnUse" x1="0" y1="38.0" x2="0" y2="187.0"><stop offset="0.000" stop-color="#14a3ff"/><stop offset="0.049" stop-color="#0078ff"/><stop offset="0.093" stop-color="#003cfa"/><stop offset="0.188" stop-color="#0428ed"/><stop offset="0.282" stop-color="#041de9"/><stop offset="0.389" stop-color="#041ae2"/><stop offset="0.537" stop-color="#0317db"/><stop offset="0.718" stop-color="#0314d4"/><stop offset="1.000" stop-color="#0210cb"/></linearGradient><linearGradient id="a172" gradientUnits="userSpaceOnUse" x1="0" y1="38.0" x2="0" y2="187.0"><stop offset="0.000" stop-color="#1f9fff"/><stop offset="0.096" stop-color="#0067ff"/><stop offset="0.294" stop-color="#0037f8"/><stop offset="0.389" stop-color="#041eeb"/><stop offset="0.537" stop-color="#041be4"/><stop offset="0.718" stop-color="#0418dd"/><stop offset="1.000" stop-color="#0314d4"/></linearGradient><linearGradient id="a173" gradientUnits="userSpaceOnUse" x1="0" y1="38.0" x2="0" y2="187.0"><stop offset="0.000" stop-color="#22aeff"/><stop offset="0.105" stop-color="#0071ff"/><stop offset="0.310" stop-color="#0037f8"/><stop offset="0.389" stop-color="#041ae2"/><stop offset="0.537" stop-color="#0317db"/><stop offset="0.718" stop-color="#0314d4"/><stop offset="1.000" stop-color="#0210cb"/></linearGradient><linearGradient id="a174" gradientUnits="userSpaceOnUse" x1="0" y1="38.0" x2="0" y2="187.0"><stop offset="0.000" stop-color="#1c8eff"/><stop offset="0.086" stop-color="#005cff"/><stop offset="0.199" stop-color="#0037f8"/><stop offset="0.282" stop-color="#042aee"/><stop offset="0.389" stop-color="#0421eb"/><stop offset="0.537" stop-color="#041ce7"/><stop offset="0.718" stop-color="#0419e0"/><stop offset="1.000" stop-color="#0315d7"/></linearGradient><linearGradient id="a175" gradientUnits="userSpaceOnUse" x1="0" y1="38.0" x2="0" y2="187.0"><stop offset="0.000" stop-color="#1c8fff"/><stop offset="0.111" stop-color="#005dff"/><stop offset="0.272" stop-color="#0037f8"/><stop offset="0.389" stop-color="#0428ed"/><stop offset="0.537" stop-color="#0420eb"/><stop offset="0.718" stop-color="#041ce6"/><stop offset="1.000" stop-color="#0418dd"/></linearGradient><linearGradient id="a176" gradientUnits="userSpaceOnUse" x1="0" y1="38.0" x2="0" y2="187.0"><stop offset="0.000" stop-color="#1f9cff"/><stop offset="0.109" stop-color="#0065ff"/><stop offset="0.293" stop-color="#0037f8"/><stop offset="0.389" stop-color="#0427ed"/><stop offset="0.537" stop-color="#041feb"/><stop offset="0.718" stop-color="#041be5"/><stop offset="1.000" stop-color="#0317dc"/></linearGradient><linearGradient id="a177" gradientUnits="userSpaceOnUse" x1="0" y1="38.0" x2="0" y2="187.0"><stop offset="0.000" stop-color="#1d92ff"/><stop offset="0.098" stop-color="#005fff"/><stop offset="0.207" stop-color="#0037f8"/><stop offset="0.282" stop-color="#0422ec"/><stop offset="0.389" stop-color="#041ce7"/><stop offset="0.537" stop-color="#0419e0"/><stop offset="0.718" stop-color="#0316d9"/><stop offset="1.000" stop-color="#0312d0"/></linearGradient><linearGradient id="a178" gradientUnits="userSpaceOnUse" x1="0" y1="38.0" x2="0" y2="187.0"><stop offset="0.000" stop-color="#1f9eff"/><stop offset="0.082" stop-color="#0067ff"/><stop offset="0.228" stop-color="#0037f8"/><stop offset="0.282" stop-color="#041eeb"/><stop offset="0.389" stop-color="#041ae3"/><stop offset="0.537" stop-color="#0317dc"/><stop offset="0.718" stop-color="#0314d5"/><stop offset="1.000" stop-color="#0210cc"/></linearGradient><linearGradient id="a179" gradientUnits="userSpaceOnUse" x1="0" y1="38.0" x2="0" y2="187.0"><stop offset="0.000" stop-color="#1671ff"/><stop offset="0.100" stop-color="#0049ff"/><stop offset="0.201" stop-color="#0037f8"/><stop offset="0.282" stop-color="#032eef"/><stop offset="0.389" stop-color="#0425ec"/><stop offset="0.537" stop-color="#041eeb"/><stop offset="0.718" stop-color="#041be4"/><stop offset="1.000" stop-color="#0317da"/></linearGradient><linearGradient id="a180" gradientUnits="userSpaceOnUse" x1="0" y1="38.0" x2="0" y2="187.0"><stop offset="0.000" stop-color="#1d92ff"/><stop offset="0.109" stop-color="#005fff"/><stop offset="0.252" stop-color="#0037f8"/><stop offset="0.282" stop-color="#0420eb"/><stop offset="0.389" stop-color="#041be5"/><stop offset="0.537" stop-color="#0418de"/><stop offset="0.718" stop-color="#0315d7"/><stop offset="1.000" stop-color="#0211ce"/></linearGradient><linearGradient id="a181" gradientUnits="userSpaceOnUse" x1="0" y1="38.0" x2="0" y2="187.0"><stop offset="0.000" stop-color="#156cff"/><stop offset="0.065" stop-color="#0046ff"/><stop offset="0.212" stop-color="#0037f8"/><stop offset="0.282" stop-color="#042bee"/><stop offset="0.389" stop-color="#0422ec"/><stop offset="0.537" stop-color="#041ce8"/><stop offset="0.718" stop-color="#0419e1"/><stop offset="1.000" stop-color="#0315d7"/></linearGradient><linearGradient id="a182" gradientUnits="userSpaceOnUse" x1="0" y1="38.0" x2="0" y2="187.0"><stop offset="0.000" stop-color="#1a82ff"/><stop offset="0.111" stop-color="#0054ff"/><stop offset="0.301" stop-color="#0037f8"/><stop offset="0.389" stop-color="#0427ed"/><stop offset="0.537" stop-color="#0420eb"/><stop offset="0.718" stop-color="#041be5"/><stop offset="1.000" stop-color="#0317dc"/></linearGradient><linearGradient id="a183" gradientUnits="userSpaceOnUse" x1="0" y1="38.0" x2="0" y2="187.0"><stop offset="0.000" stop-color="#20a0ff"/><stop offset="0.113" stop-color="#0068ff"/><stop offset="0.333" stop-color="#0037f8"/><stop offset="0.389" stop-color="#0420eb"/><stop offset="0.537" stop-color="#041ce6"/><stop offset="0.718" stop-color="#0419df"/><stop offset="1.000" stop-color="#0315d6"/></linearGradient><linearGradient id="a184" gradientUnits="userSpaceOnUse" x1="0" y1="38.0" x2="0" y2="187.0"><stop offset="0.000" stop-color="#20a0ff"/><stop offset="0.065" stop-color="#0068ff"/><stop offset="0.247" stop-color="#0037f8"/><stop offset="0.282" stop-color="#0247f5"/><stop offset="0.389" stop-color="#023ef3"/><stop offset="0.537" stop-color="#0337f1"/><stop offset="0.718" stop-color="#032fef"/><stop offset="1.000" stop-color="#0424ec"/></linearGradient><linearGradient id="a185" gradientUnits="userSpaceOnUse" x1="0" y1="38.0" x2="0" y2="187.0"><stop offset="0.000" stop-color="#156cff"/><stop offset="0.113" stop-color="#0046ff"/><stop offset="0.295" stop-color="#0037f8"/><stop offset="0.389" stop-color="#032fef"/><stop offset="0.537" stop-color="#0428ed"/><stop offset="0.718" stop-color="#0420eb"/><stop offset="1.000" stop-color="#041be4"/></linearGradient><linearGradient id="a186" gradientUnits="userSpaceOnUse" x1="0" y1="38.0" x2="0" y2="187.0"><stop offset="0.000" stop-color="#1b87ff"/><stop offset="0.054" stop-color="#0057ff"/><stop offset="0.357" stop-color="#0037f8"/><stop offset="0.389" stop-color="#0240f3"/><stop offset="0.537" stop-color="#033af2"/><stop offset="0.718" stop-color="#0334f0"/><stop offset="1.000" stop-color="#0429ed"/></linearGradient><linearGradient id="a187" gradientUnits="userSpaceOnUse" x1="0" y1="38.0" x2="0" y2="187.0"><stop offset="0.000" stop-color="#1f9bff"/><stop offset="0.075" stop-color="#0065ff"/><stop offset="0.293" stop-color="#0037f8"/><stop offset="0.389" stop-color="#0419e0"/><stop offset="0.537" stop-color="#0317dc"/><stop offset="0.718" stop-color="#0315d8"/><stop offset="1.000" stop-color="#0211ce"/></linearGradient><linearGradient id="a188" gradientUnits="userSpaceOnUse" x1="0" y1="38.0" x2="0" y2="187.0"><stop offset="0.000" stop-color="#187aff"/><stop offset="0.058" stop-color="#004fff"/><stop offset="0.346" stop-color="#0037f8"/><stop offset="0.389" stop-color="#020ec6"/><stop offset="0.537" stop-color="#020dc4"/><stop offset="0.718" stop-color="#020cc2"/><stop offset="1.000" stop-color="#0108b9"/></linearGradient><linearGradient id="a189" gradientUnits="userSpaceOnUse" x1="0" y1="38.0" x2="0" y2="187.0"><stop offset="0.000" stop-color="#1a86ff"/><stop offset="0.098" stop-color="#0057ff"/><stop offset="0.353" stop-color="#0037f8"/><stop offset="0.389" stop-color="#0316da"/><stop offset="0.537" stop-color="#0316da"/><stop offset="0.718" stop-color="#0317db"/><stop offset="1.000" stop-color="#0313d2"/></linearGradient><linearGradient id="a190" gradientUnits="userSpaceOnUse" x1="0" y1="38.0" x2="0" y2="187.0"><stop offset="0.000" stop-color="#1a85ff"/><stop offset="0.103" stop-color="#0057ff"/><stop offset="0.263" stop-color="#0037f8"/><stop offset="0.389" stop-color="#0418df"/><stop offset="0.537" stop-color="#0419e0"/><stop offset="0.718" stop-color="#041ae3"/><stop offset="1.000" stop-color="#0317db"/></linearGradient><linearGradient id="a191" gradientUnits="userSpaceOnUse" x1="0" y1="38.0" x2="0" y2="187.0"><stop offset="0.000" stop-color="#187aff"/><stop offset="0.101" stop-color="#004fff"/><stop offset="0.297" stop-color="#0037f8"/><stop offset="0.389" stop-color="#0315d7"/><stop offset="0.537" stop-color="#0316d9"/><stop offset="0.718" stop-color="#0418dd"/><stop offset="1.000" stop-color="#0314d5"/></linearGradient><linearGradient id="a192" gradientUnits="userSpaceOnUse" x1="0" y1="38.0" x2="0" y2="187.0"><stop offset="0.000" stop-color="#1a86ff"/><stop offset="0.092" stop-color="#0057ff"/><stop offset="0.299" stop-color="#0037f8"/><stop offset="0.389" stop-color="#0316d8"/><stop offset="0.537" stop-color="#0316da"/><stop offset="0.718" stop-color="#0418dd"/><stop offset="1.000" stop-color="#0314d5"/></linearGradient><linearGradient id="a193" gradientUnits="userSpaceOnUse" x1="0" y1="38.0" x2="0" y2="187.0"><stop offset="0.000" stop-color="#1f9bff"/><stop offset="0.093" stop-color="#0064ff"/><stop offset="0.240" stop-color="#0037f8"/><stop offset="0.282" stop-color="#0314d4"/><stop offset="0.389" stop-color="#020fc8"/><stop offset="0.537" stop-color="#020fc8"/><stop offset="0.718" stop-color="#020fc8"/><stop offset="1.000" stop-color="#010bc0"/></linearGradient><linearGradient id="a194" gradientUnits="userSpaceOnUse" x1="0" y1="38.0" x2="0" y2="187.0"><stop offset="0.000" stop-color="#20a4ff"/><stop offset="0.083" stop-color="#006aff"/><stop offset="0.191" stop-color="#0037f8"/><stop offset="0.282" stop-color="#0317dc"/><stop offset="0.389" stop-color="#0312d1"/><stop offset="0.537" stop-color="#0211ce"/><stop offset="0.718" stop-color="#0211cc"/><stop offset="1.000" stop-color="#020dc4"/></linearGradient><linearGradient id="a195" gradientUnits="userSpaceOnUse" x1="0" y1="38.0" x2="0" y2="187.0"><stop offset="0.000" stop-color="#1671ff"/><stop offset="0.079" stop-color="#0049ff"/><stop offset="0.311" stop-color="#0037f8"/><stop offset="0.389" stop-color="#0313d2"/><stop offset="0.537" stop-color="#0211ce"/><stop offset="0.718" stop-color="#0210ca"/><stop offset="1.000" stop-color="#020cc1"/></linearGradient><linearGradient id="a196" gradientUnits="userSpaceOnUse" x1="0" y1="38.0" x2="0" y2="187.0"><stop offset="0.000" stop-color="#20a3ff"/><stop offset="0.072" stop-color="#006aff"/><stop offset="0.248" stop-color="#0037f8"/><stop offset="0.282" stop-color="#041ce7"/><stop offset="0.389" stop-color="#0418dd"/><stop offset="0.537" stop-color="#0315d8"/><stop offset="0.718" stop-color="#0313d2"/><stop offset="1.000" stop-color="#020fc9"/></linearGradient><linearGradient id="a197" gradientUnits="userSpaceOnUse" x1="0" y1="38.0" x2="0" y2="187.0"><stop offset="0.000" stop-color="#156aff"/><stop offset="0.109" stop-color="#0045ff"/><stop offset="0.293" stop-color="#0037f8"/><stop offset="0.389" stop-color="#0423ec"/><stop offset="0.537" stop-color="#041de9"/><stop offset="0.718" stop-color="#041ae2"/><stop offset="1.000" stop-color="#0316d9"/></linearGradient><linearGradient id="a198" gradientUnits="userSpaceOnUse" x1="0" y1="38.0" x2="0" y2="187.0"><stop offset="0.000" stop-color="#1776ff"/><stop offset="0.083" stop-color="#004dff"/><stop offset="0.279" stop-color="#0037f8"/><stop offset="0.389" stop-color="#0422ec"/><stop offset="0.537" stop-color="#041ce8"/><stop offset="0.718" stop-color="#041ae1"/><stop offset="1.000" stop-color="#0316d8"/></linearGradient><linearGradient id="a199" gradientUnits="userSpaceOnUse" x1="0" y1="38.0" x2="0" y2="187.0"><stop offset="0.000" stop-color="#1c8dff"/><stop offset="0.081" stop-color="#005bff"/><stop offset="0.360" stop-color="#0037f8"/><stop offset="0.389" stop-color="#0426ed"/><stop offset="0.537" stop-color="#041eeb"/><stop offset="0.718" stop-color="#041be4"/><stop offset="1.000" stop-color="#0317db"/></linearGradient><linearGradient id="a200" gradientUnits="userSpaceOnUse" x1="0" y1="38.0" x2="0" y2="187.0"><stop offset="0.000" stop-color="#197eff"/><stop offset="0.091" stop-color="#0052ff"/><stop offset="0.351" stop-color="#0037f8"/><stop offset="0.389" stop-color="#041ce8"/><stop offset="0.537" stop-color="#0419e1"/><stop offset="0.718" stop-color="#0316da"/><stop offset="1.000" stop-color="#0312d0"/></linearGradient><linearGradient id="a201" gradientUnits="userSpaceOnUse" x1="0" y1="38.0" x2="0" y2="187.0"><stop offset="0.000" stop-color="#156dff"/><stop offset="0.091" stop-color="#0047ff"/><stop offset="0.301" stop-color="#0037f8"/><stop offset="0.389" stop-color="#041be5"/><stop offset="0.537" stop-color="#0418de"/><stop offset="0.718" stop-color="#0315d7"/><stop offset="1.000" stop-color="#0211ce"/></linearGradient><linearGradient id="a202" gradientUnits="userSpaceOnUse" x1="0" y1="38.0" x2="0" y2="187.0"><stop offset="0.000" stop-color="#1d94ff"/><stop offset="0.065" stop-color="#0060ff"/><stop offset="0.365" stop-color="#0037f8"/><stop offset="0.389" stop-color="#041dea"/><stop offset="0.537" stop-color="#041ae3"/><stop offset="0.718" stop-color="#0317dc"/><stop offset="1.000" stop-color="#0313d3"/></linearGradient><linearGradient id="a203" gradientUnits="userSpaceOnUse" x1="0" y1="38.0" x2="0" y2="187.0"><stop offset="0.000" stop-color="#22aeff"/><stop offset="0.107" stop-color="#0071ff"/><stop offset="0.325" stop-color="#0037f8"/><stop offset="0.389" stop-color="#041de8"/><stop offset="0.537" stop-color="#041ae1"/><stop offset="0.718" stop-color="#0317da"/><stop offset="1.000" stop-color="#0313d1"/></linearGradient><linearGradient id="a204" gradientUnits="userSpaceOnUse" x1="0" y1="38.0" x2="0" y2="187.0"><stop offset="0.000" stop-color="#197fff"/><stop offset="0.090" stop-color="#0053ff"/><stop offset="0.249" stop-color="#0037f8"/><stop offset="0.282" stop-color="#033bf2"/><stop offset="0.389" stop-color="#032eef"/><stop offset="0.537" stop-color="#0426ed"/><stop offset="0.718" stop-color="#041eeb"/><stop offset="1.000" stop-color="#041ae1"/></linearGradient><linearGradient id="a205" gradientUnits="userSpaceOnUse" x1="0" y1="38.0" x2="0" y2="187.0"><stop offset="0.000" stop-color="#1777ff"/><stop offset="0.116" stop-color="#004dff"/><stop offset="0.229" stop-color="#0037f8"/><stop offset="0.282" stop-color="#0429ed"/><stop offset="0.389" stop-color="#041de9"/><stop offset="0.537" stop-color="#041ae2"/><stop offset="0.718" stop-color="#0317db"/><stop offset="1.000" stop-color="#0313d2"/></linearGradient><linearGradient id="a206" gradientUnits="userSpaceOnUse" x1="0" y1="38.0" x2="0" y2="187.0"><stop offset="0.000" stop-color="#197dff"/><stop offset="0.064" stop-color="#0051ff"/><stop offset="0.248" stop-color="#0037f8"/><stop offset="0.282" stop-color="#0244f4"/><stop offset="0.389" stop-color="#0336f1"/><stop offset="0.537" stop-color="#032eef"/><stop offset="0.718" stop-color="#0426ed"/><stop offset="1.000" stop-color="#041de9"/></linearGradient><linearGradient id="a207" gradientUnits="userSpaceOnUse" x1="0" y1="38.0" x2="0" y2="187.0"><stop offset="0.000" stop-color="#156dff"/><stop offset="0.064" stop-color="#0047ff"/><stop offset="0.283" stop-color="#0037f8"/><stop offset="0.389" stop-color="#041feb"/><stop offset="0.537" stop-color="#041be4"/><stop offset="0.718" stop-color="#0418de"/><stop offset="1.000" stop-color="#0314d4"/></linearGradient><linearGradient id="a208" gradientUnits="userSpaceOnUse" x1="0" y1="38.0" x2="0" y2="187.0"><stop offset="0.000" stop-color="#22adff"/><stop offset="0.062" stop-color="#0070ff"/><stop offset="0.291" stop-color="#0037f8"/><stop offset="0.389" stop-color="#042dee"/><stop offset="0.537" stop-color="#0425ec"/><stop offset="0.718" stop-color="#041dea"/><stop offset="1.000" stop-color="#0419e1"/></linearGradient><linearGradient id="a209" gradientUnits="userSpaceOnUse" x1="0" y1="38.0" x2="0" y2="187.0"><stop offset="0.000" stop-color="#1879ff"/><stop offset="0.107" stop-color="#004eff"/><stop offset="0.202" stop-color="#0037f8"/><stop offset="0.282" stop-color="#042bee"/><stop offset="0.389" stop-color="#041dea"/><stop offset="0.537" stop-color="#041ae3"/><stop offset="0.718" stop-color="#0317dc"/><stop offset="1.000" stop-color="#0313d2"/></linearGradient><linearGradient id="a210" gradientUnits="userSpaceOnUse" x1="0" y1="38.0" x2="0" y2="187.0"><stop offset="0.000" stop-color="#187cff"/><stop offset="0.082" stop-color="#0051ff"/><stop offset="0.363" stop-color="#0037f8"/><stop offset="0.389" stop-color="#0334f0"/><stop offset="0.537" stop-color="#042bee"/><stop offset="0.718" stop-color="#0424ec"/><stop offset="1.000" stop-color="#041ce6"/></linearGradient><linearGradient id="a211" gradientUnits="userSpaceOnUse" x1="0" y1="38.0" x2="0" y2="187.0"><stop offset="0.000" stop-color="#21a7ff"/><stop offset="0.077" stop-color="#006dff"/><stop offset="0.228" stop-color="#0037f8"/><stop offset="0.282" stop-color="#033af2"/><stop offset="0.389" stop-color="#042cee"/><stop offset="0.537" stop-color="#0424ec"/><stop offset="0.718" stop-color="#041de9"/><stop offset="1.000" stop-color="#0419df"/></linearGradient><linearGradient id="a212" gradientUnits="userSpaceOnUse" x1="0" y1="38.0" x2="0" y2="187.0"><stop offset="0.000" stop-color="#1b87ff"/><stop offset="0.060" stop-color="#0058ff"/><stop offset="0.327" stop-color="#0037f8"/><stop offset="0.389" stop-color="#042bee"/><stop offset="0.537" stop-color="#0423ec"/><stop offset="0.718" stop-color="#041de8"/><stop offset="1.000" stop-color="#0419df"/></linearGradient><linearGradient id="a213" gradientUnits="userSpaceOnUse" x1="0" y1="38.0" x2="0" y2="187.0"><stop offset="0.000" stop-color="#1a85ff"/><stop offset="0.085" stop-color="#0056ff"/><stop offset="0.299" stop-color="#0037f8"/><stop offset="0.389" stop-color="#032fef"/><stop offset="0.537" stop-color="#0427ed"/><stop offset="0.718" stop-color="#041feb"/><stop offset="1.000" stop-color="#041ae3"/></linearGradient><linearGradient id="a214" gradientUnits="userSpaceOnUse" x1="0" y1="38.0" x2="0" y2="187.0"><stop offset="0.000" stop-color="#1776ff"/><stop offset="0.089" stop-color="#004dff"/><stop offset="0.245" stop-color="#0037f8"/><stop offset="0.282" stop-color="#042dee"/><stop offset="0.389" stop-color="#0420eb"/><stop offset="0.537" stop-color="#041be5"/><stop offset="0.718" stop-color="#0418de"/><stop offset="1.000" stop-color="#0314d5"/></linearGradient><linearGradient id="a215" gradientUnits="userSpaceOnUse" x1="0" y1="38.0" x2="0" y2="187.0"><stop offset="0.000" stop-color="#20a1ff"/><stop offset="0.084" stop-color="#0069ff"/><stop offset="0.203" stop-color="#0037f8"/><stop offset="0.282" stop-color="#0420eb"/><stop offset="0.389" stop-color="#0419e1"/><stop offset="0.537" stop-color="#0316da"/><stop offset="0.718" stop-color="#0313d3"/><stop offset="1.000" stop-color="#020fca"/></linearGradient><linearGradient id="a216" gradientUnits="userSpaceOnUse" x1="0" y1="38.0" x2="0" y2="187.0"><stop offset="0.000" stop-color="#1468ff"/><stop offset="0.055" stop-color="#0044ff"/><stop offset="0.288" stop-color="#0037f8"/><stop offset="0.389" stop-color="#0312d0"/><stop offset="0.537" stop-color="#020fc9"/><stop offset="0.718" stop-color="#020cc2"/><stop offset="1.000" stop-color="#0108b9"/></linearGradient><linearGradient id="a217" gradientUnits="userSpaceOnUse" x1="0" y1="38.0" x2="0" y2="187.0"><stop offset="0.000" stop-color="#1a86ff"/><stop offset="0.096" stop-color="#0057ff"/><stop offset="0.197" stop-color="#0037f8"/><stop offset="0.282" stop-color="#042dee"/><stop offset="0.389" stop-color="#041feb"/><stop offset="0.537" stop-color="#041be5"/><stop offset="0.718" stop-color="#0418de"/><stop offset="1.000" stop-color="#0314d5"/></linearGradient><linearGradient id="a218" gradientUnits="userSpaceOnUse" x1="0" y1="38.0" x2="0" y2="187.0"><stop offset="0.000" stop-color="#1f9dff"/><stop offset="0.071" stop-color="#0066ff"/><stop offset="0.360" stop-color="#0037f8"/><stop offset="0.389" stop-color="#041be5"/><stop offset="0.537" stop-color="#0418de"/><stop offset="0.718" stop-color="#0315d7"/><stop offset="1.000" stop-color="#0211cd"/></linearGradient><linearGradient id="a219" gradientUnits="userSpaceOnUse" x1="0" y1="38.0" x2="0" y2="187.0"><stop offset="0.000" stop-color="#22adff"/><stop offset="0.117" stop-color="#0070ff"/><stop offset="0.212" stop-color="#0037f8"/><stop offset="0.282" stop-color="#0421eb"/><stop offset="0.389" stop-color="#041ae2"/><stop offset="0.537" stop-color="#0317db"/><stop offset="0.718" stop-color="#0314d4"/><stop offset="1.000" stop-color="#0210cb"/></linearGradient><linearGradient id="a220" gradientUnits="userSpaceOnUse" x1="0" y1="38.0" x2="0" y2="187.0"><stop offset="0.000" stop-color="#1e96ff"/><stop offset="0.097" stop-color="#0061ff"/><stop offset="0.344" stop-color="#0037f8"/><stop offset="0.389" stop-color="#041ce7"/><stop offset="0.537" stop-color="#0419e0"/><stop offset="0.718" stop-color="#0316d9"/><stop offset="1.000" stop-color="#0312d0"/></linearGradient><linearGradient id="a221" gradientUnits="userSpaceOnUse" x1="0" y1="38.0" x2="0" y2="187.0"><stop offset="0.000" stop-color="#1f9eff"/><stop offset="0.077" stop-color="#0067ff"/><stop offset="0.292" stop-color="#0037f8"/><stop offset="0.389" stop-color="#0336f1"/><stop offset="0.537" stop-color="#032eef"/><stop offset="0.718" stop-color="#0426ed"/><stop offset="1.000" stop-color="#041de9"/></linearGradient><linearGradient id="a222" gradientUnits="userSpaceOnUse" x1="0" y1="38.0" x2="0" y2="187.0"><stop offset="0.000" stop-color="#1c90ff"/><stop offset="0.085" stop-color="#005eff"/><stop offset="0.314" stop-color="#0037f8"/><stop offset="0.389" stop-color="#041ae3"/><stop offset="0.537" stop-color="#0317dc"/><stop offset="0.718" stop-color="#0314d5"/><stop offset="1.000" stop-color="#0210cc"/></linearGradient><linearGradient id="a223" gradientUnits="userSpaceOnUse" x1="0" y1="38.0" x2="0" y2="187.0"><stop offset="0.000" stop-color="#197eff"/><stop offset="0.116" stop-color="#0052ff"/><stop offset="0.253" stop-color="#0037f8"/><stop offset="0.282" stop-color="#0429ed"/><stop offset="0.389" stop-color="#041eeb"/><stop offset="0.537" stop-color="#041be4"/><stop offset="0.718" stop-color="#0418dd"/><stop offset="1.000" stop-color="#0314d3"/></linearGradient><linearGradient id="a224" gradientUnits="userSpaceOnUse" x1="0" y1="38.0" x2="0" y2="187.0"><stop offset="0.000" stop-color="#1e99ff"/><stop offset="0.075" stop-color="#0063ff"/><stop offset="0.327" stop-color="#0037f8"/><stop offset="0.389" stop-color="#041ce7"/><stop offset="0.537" stop-color="#0419e0"/><stop offset="0.718" stop-color="#0316d9"/><stop offset="1.000" stop-color="#0312d0"/></linearGradient><linearGradient id="a225" gradientUnits="userSpaceOnUse" x1="0" y1="38.0" x2="0" y2="187.0"><stop offset="0.000" stop-color="#1775ff"/><stop offset="0.108" stop-color="#004cff"/><stop offset="0.260" stop-color="#0037f8"/><stop offset="0.282" stop-color="#032fef"/><stop offset="0.389" stop-color="#0424ec"/><stop offset="0.537" stop-color="#041de9"/><stop offset="0.718" stop-color="#041ae2"/><stop offset="1.000" stop-color="#0316d9"/></linearGradient><linearGradient id="a226" gradientUnits="userSpaceOnUse" x1="0" y1="38.0" x2="0" y2="187.0"><stop offset="0.000" stop-color="#156dff"/><stop offset="0.106" stop-color="#0047ff"/><stop offset="0.356" stop-color="#0037f8"/><stop offset="0.389" stop-color="#0316da"/><stop offset="0.537" stop-color="#0314d3"/><stop offset="0.718" stop-color="#0211cc"/><stop offset="1.000" stop-color="#020dc3"/></linearGradient><linearGradient id="a227" gradientUnits="userSpaceOnUse" x1="0" y1="38.0" x2="0" y2="187.0"><stop offset="0.000" stop-color="#1a83ff"/><stop offset="0.079" stop-color="#0055ff"/><stop offset="0.273" stop-color="#0037f8"/><stop offset="0.389" stop-color="#0419df"/><stop offset="0.537" stop-color="#0316d8"/><stop offset="0.718" stop-color="#0313d1"/><stop offset="1.000" stop-color="#020fc8"/></linearGradient><linearGradient id="a228" gradientUnits="userSpaceOnUse" x1="0" y1="38.0" x2="0" y2="187.0"><stop offset="0.000" stop-color="#1980ff"/><stop offset="0.117" stop-color="#0053ff"/><stop offset="0.342" stop-color="#0037f8"/><stop offset="0.389" stop-color="#0423ec"/><stop offset="0.537" stop-color="#041de8"/><stop offset="0.718" stop-color="#041ae1"/><stop offset="1.000" stop-color="#0316d8"/></linearGradient><linearGradient id="a229" gradientUnits="userSpaceOnUse" x1="0" y1="38.0" x2="0" y2="187.0"><stop offset="0.000" stop-color="#1c90ff"/><stop offset="0.062" stop-color="#005eff"/><stop offset="0.298" stop-color="#0037f8"/><stop offset="0.389" stop-color="#0335f0"/><stop offset="0.537" stop-color="#032eef"/><stop offset="0.718" stop-color="#0426ed"/><stop offset="1.000" stop-color="#041de8"/></linearGradient><linearGradient id="a230" gradientUnits="userSpaceOnUse" x1="0" y1="38.0" x2="0" y2="187.0"><stop offset="0.000" stop-color="#1569ff"/><stop offset="0.071" stop-color="#0044ff"/><stop offset="0.202" stop-color="#0037f8"/><stop offset="0.282" stop-color="#0249f5"/><stop offset="0.389" stop-color="#023ff3"/><stop offset="0.537" stop-color="#0337f1"/><stop offset="0.718" stop-color="#032fef"/><stop offset="1.000" stop-color="#0425ec"/></linearGradient><linearGradient id="a231" gradientUnits="userSpaceOnUse" x1="0" y1="38.0" x2="0" y2="187.0"><stop offset="0.000" stop-color="#20a4ff"/><stop offset="0.075" stop-color="#006bff"/><stop offset="0.296" stop-color="#0037f8"/><stop offset="0.389" stop-color="#0424ec"/><stop offset="0.537" stop-color="#041dea"/><stop offset="0.718" stop-color="#041ae3"/><stop offset="1.000" stop-color="#0316da"/></linearGradient><linearGradient id="a232" gradientUnits="userSpaceOnUse" x1="0" y1="38.0" x2="0" y2="187.0"><stop offset="0.000" stop-color="#197fff"/><stop offset="0.093" stop-color="#0053ff"/><stop offset="0.341" stop-color="#0037f8"/><stop offset="0.389" stop-color="#0423ec"/><stop offset="0.537" stop-color="#041de8"/><stop offset="0.718" stop-color="#041ae2"/><stop offset="1.000" stop-color="#0316d8"/></linearGradient><linearGradient id="a233" gradientUnits="userSpaceOnUse" x1="0" y1="38.0" x2="0" y2="187.0"><stop offset="0.000" stop-color="#22aaff"/><stop offset="0.105" stop-color="#006fff"/><stop offset="0.283" stop-color="#0037f8"/><stop offset="0.389" stop-color="#0420eb"/><stop offset="0.537" stop-color="#041ce6"/><stop offset="0.718" stop-color="#0419df"/><stop offset="1.000" stop-color="#0315d6"/></linearGradient><linearGradient id="b0" gradientUnits="userSpaceOnUse" x1="0" y1="38.0" x2="0" y2="187.0"><stop offset="0.000" stop-color="#00d2dc"/><stop offset="0.054" stop-color="#00c8e1"/><stop offset="0.101" stop-color="#00a0e4"/><stop offset="0.124" stop-color="#0078eb"/><stop offset="0.148" stop-color="#003cfa"/><stop offset="0.188" stop-color="#0335f0"/><stop offset="0.282" stop-color="#042bee"/><stop offset="0.389" stop-color="#0421eb"/><stop offset="0.537" stop-color="#041be4"/><stop offset="0.718" stop-color="#0316da"/><stop offset="1.000" stop-color="#0210cc"/></linearGradient><linearGradient id="b1" gradientUnits="userSpaceOnUse" x1="0" y1="38.0" x2="0" y2="187.0"><stop offset="0.000" stop-color="#00d2dc"/><stop offset="0.054" stop-color="#00c8e1"/><stop offset="0.101" stop-color="#00a0e4"/><stop offset="0.124" stop-color="#0078eb"/><stop offset="0.148" stop-color="#003cfa"/><stop offset="0.188" stop-color="#0152f8"/><stop offset="0.282" stop-color="#0248f5"/><stop offset="0.389" stop-color="#023ff3"/><stop offset="0.537" stop-color="#0334f0"/><stop offset="0.718" stop-color="#0429ed"/><stop offset="1.000" stop-color="#041ce6"/></linearGradient><linearGradient id="b2" gradientUnits="userSpaceOnUse" x1="0" y1="38.0" x2="0" y2="187.0"><stop offset="0.000" stop-color="#00d2dc"/><stop offset="0.054" stop-color="#00c8e1"/><stop offset="0.101" stop-color="#00a0e4"/><stop offset="0.124" stop-color="#0078eb"/><stop offset="0.148" stop-color="#003cfa"/><stop offset="0.188" stop-color="#024df6"/><stop offset="0.282" stop-color="#0244f4"/><stop offset="0.389" stop-color="#033bf2"/><stop offset="0.537" stop-color="#0331ef"/><stop offset="0.718" stop-color="#0425ec"/><stop offset="1.000" stop-color="#041ae3"/></linearGradient><linearGradient id="b3" gradientUnits="userSpaceOnUse" x1="0" y1="38.0" x2="0" y2="187.0"><stop offset="0.000" stop-color="#00d2dc"/><stop offset="0.054" stop-color="#00c8e1"/><stop offset="0.101" stop-color="#00a0e4"/><stop offset="0.124" stop-color="#0078eb"/><stop offset="0.148" stop-color="#003cfa"/><stop offset="0.188" stop-color="#024af6"/><stop offset="0.282" stop-color="#0242f4"/><stop offset="0.389" stop-color="#033af2"/><stop offset="0.537" stop-color="#0330ef"/><stop offset="0.718" stop-color="#0424ec"/><stop offset="1.000" stop-color="#041ae2"/></linearGradient><linearGradient id="b4" gradientUnits="userSpaceOnUse" x1="0" y1="38.0" x2="0" y2="187.0"><stop offset="0.000" stop-color="#7fff71"/><stop offset="0.053" stop-color="#96ff5a"/><stop offset="0.066" stop-color="#14f0e6"/><stop offset="0.111" stop-color="#00beff"/><stop offset="0.121" stop-color="#0078ff"/><stop offset="0.138" stop-color="#0046f8"/><stop offset="0.205" stop-color="#0428ed"/><stop offset="0.282" stop-color="#033bf2"/><stop offset="0.389" stop-color="#0333f0"/><stop offset="0.537" stop-color="#0429ed"/><stop offset="0.718" stop-color="#041dea"/><stop offset="1.000" stop-color="#0317dc"/></linearGradient><linearGradient id="b5" gradientUnits="userSpaceOnUse" x1="0" y1="38.0" x2="0" y2="187.0"><stop offset="0.000" stop-color="#8eff64"/><stop offset="0.048" stop-color="#96ff5a"/><stop offset="0.062" stop-color="#14f0e6"/><stop offset="0.103" stop-color="#00beff"/><stop offset="0.113" stop-color="#0078ff"/><stop offset="0.130" stop-color="#0046f8"/><stop offset="0.372" stop-color="#041dea"/><stop offset="0.537" stop-color="#0422ec"/><stop offset="0.718" stop-color="#041be4"/><stop offset="1.000" stop-color="#0315d6"/></linearGradient><linearGradient id="b6" gradientUnits="userSpaceOnUse" x1="0" y1="38.0" x2="0" y2="187.0"><stop offset="0.000" stop-color="#9cff56"/><stop offset="0.054" stop-color="#96ff5a"/><stop offset="0.067" stop-color="#14f0e6"/><stop offset="0.100" stop-color="#00beff"/><stop offset="0.110" stop-color="#0078ff"/><stop offset="0.127" stop-color="#0046f8"/><stop offset="0.288" stop-color="#0421eb"/><stop offset="0.389" stop-color="#042dee"/><stop offset="0.537" stop-color="#0423ec"/><stop offset="0.718" stop-color="#041be5"/><stop offset="1.000" stop-color="#0315d6"/></linearGradient><linearGradient id="b7" gradientUnits="userSpaceOnUse" x1="0" y1="38.0" x2="0" y2="187.0"><stop offset="0.000" stop-color="#abff49"/><stop offset="0.052" stop-color="#96ff5a"/><stop offset="0.066" stop-color="#14f0e6"/><stop offset="0.095" stop-color="#00beff"/><stop offset="0.105" stop-color="#0078ff"/><stop offset="0.122" stop-color="#0046f8"/><stop offset="0.283" stop-color="#0420eb"/><stop offset="0.389" stop-color="#0424ec"/><stop offset="0.537" stop-color="#041ce7"/><stop offset="0.718" stop-color="#0418dd"/><stop offset="1.000" stop-color="#0312cf"/></linearGradient><linearGradient id="b8" gradientUnits="userSpaceOnUse" x1="0" y1="38.0" x2="0" y2="187.0"><stop offset="0.000" stop-color="#baff3c"/><stop offset="0.046" stop-color="#96ff5a"/><stop offset="0.059" stop-color="#14f0e6"/><stop offset="0.092" stop-color="#00beff"/><stop offset="0.102" stop-color="#0078ff"/><stop offset="0.119" stop-color="#0046f8"/><stop offset="0.159" stop-color="#0422ec"/><stop offset="0.188" stop-color="#041de8"/><stop offset="0.282" stop-color="#041de8"/><stop offset="0.389" stop-color="#041be5"/><stop offset="0.537" stop-color="#0317dc"/><stop offset="0.718" stop-color="#0313d2"/><stop offset="1.000" stop-color="#020dc3"/></linearGradient><linearGradient id="b9" gradientUnits="userSpaceOnUse" x1="0" y1="38.0" x2="0" y2="187.0"><stop offset="0.000" stop-color="#c8ff2e"/><stop offset="0.057" stop-color="#96ff5a"/><stop offset="0.070" stop-color="#14f0e6"/><stop offset="0.104" stop-color="#00beff"/><stop offset="0.114" stop-color="#0078ff"/><stop offset="0.131" stop-color="#0046f8"/><stop offset="0.480" stop-color="#041ae3"/><stop offset="0.537" stop-color="#0314d4"/><stop offset="0.718" stop-color="#0210ca"/><stop offset="1.000" stop-color="#0109bc"/></linearGradient><linearGradient id="b10" gradientUnits="userSpaceOnUse" x1="0" y1="38.0" x2="0" y2="187.0"><stop offset="0.000" stop-color="#d7ff21"/><stop offset="0.058" stop-color="#96ff5a"/><stop offset="0.071" stop-color="#14f0e6"/><stop offset="0.103" stop-color="#00beff"/><stop offset="0.113" stop-color="#0078ff"/><stop offset="0.130" stop-color="#0046f8"/><stop offset="0.197" stop-color="#041dea"/><stop offset="0.282" stop-color="#0316d9"/><stop offset="0.389" stop-color="#0315d6"/><stop offset="0.537" stop-color="#0211ce"/><stop offset="0.718" stop-color="#020dc4"/><stop offset="1.000" stop-color="#0107b5"/></linearGradient><linearGradient id="b11" gradientUnits="userSpaceOnUse" x1="0" y1="38.0" x2="0" y2="187.0"><stop offset="0.000" stop-color="#dc1400"/><stop offset="0.051" stop-color="#e62000"/><stop offset="0.061" stop-color="#ff8c00"/><stop offset="0.068" stop-color="#ebff14"/><stop offset="0.091" stop-color="#96ff64"/><stop offset="0.098" stop-color="#14ffe6"/><stop offset="0.112" stop-color="#00c8ff"/><stop offset="0.125" stop-color="#0078ff"/><stop offset="0.142" stop-color="#0046f8"/><stop offset="0.169" stop-color="#041dea"/><stop offset="0.282" stop-color="#041be6"/><stop offset="0.389" stop-color="#041ae3"/><stop offset="0.537" stop-color="#0317db"/><stop offset="0.718" stop-color="#0312d1"/><stop offset="1.000" stop-color="#020cc2"/></linearGradient><linearGradient id="b12" gradientUnits="userSpaceOnUse" x1="0" y1="38.0" x2="0" y2="187.0"><stop offset="0.000" stop-color="#d51100"/><stop offset="0.032" stop-color="#e21f00"/><stop offset="0.042" stop-color="#ff8c00"/><stop offset="0.048" stop-color="#ebff14"/><stop offset="0.081" stop-color="#96ff64"/><stop offset="0.087" stop-color="#14ffe6"/><stop offset="0.114" stop-color="#00c8ff"/><stop offset="0.127" stop-color="#0078ff"/><stop offset="0.144" stop-color="#0046f8"/><stop offset="0.171" stop-color="#041eeb"/><stop offset="0.282" stop-color="#0424ec"/><stop offset="0.389" stop-color="#0421eb"/><stop offset="0.537" stop-color="#041be5"/><stop offset="0.718" stop-color="#0317db"/><stop offset="1.000" stop-color="#0211cc"/></linearGradient><linearGradient id="b13" gradientUnits="userSpaceOnUse" x1="0" y1="38.0" x2="0" y2="187.0"><stop offset="0.000" stop-color="#cf0f00"/><stop offset="0.060" stop-color="#df1e00"/><stop offset="0.070" stop-color="#ff8c00"/><stop offset="0.076" stop-color="#ebff14"/><stop offset="0.093" stop-color="#96ff64"/><stop offset="0.100" stop-color="#14ffe6"/><stop offset="0.105" stop-color="#00c8ff"/><stop offset="0.118" stop-color="#0078ff"/><stop offset="0.135" stop-color="#0046f8"/><stop offset="0.376" stop-color="#041de9"/><stop offset="0.537" stop-color="#042bee"/><stop offset="0.718" stop-color="#041feb"/><stop offset="1.000" stop-color="#0418de"/></linearGradient><linearGradient id="b14" gradientUnits="userSpaceOnUse" x1="0" y1="38.0" x2="0" y2="187.0"><stop offset="0.000" stop-color="#c90c00"/><stop offset="0.065" stop-color="#dc1c00"/><stop offset="0.075" stop-color="#ff8c00"/><stop offset="0.082" stop-color="#ebff14"/><stop offset="0.097" stop-color="#96ff64"/><stop offset="0.104" stop-color="#14ffe6"/><stop offset="0.109" stop-color="#00c8ff"/><stop offset="0.122" stop-color="#0078ff"/><stop offset="0.139" stop-color="#0046f8"/><stop offset="0.381" stop-color="#041de9"/><stop offset="0.537" stop-color="#0426ed"/><stop offset="0.718" stop-color="#041ce8"/><stop offset="1.000" stop-color="#0316d9"/></linearGradient><linearGradient id="b15" gradientUnits="userSpaceOnUse" x1="0" y1="38.0" x2="0" y2="187.0"><stop offset="0.000" stop-color="#c30a00"/><stop offset="0.088" stop-color="#d91b00"/><stop offset="0.098" stop-color="#ff8c00"/><stop offset="0.104" stop-color="#ebff14"/><stop offset="0.126" stop-color="#96ff64"/><stop offset="0.133" stop-color="#14ffe6"/><stop offset="0.153" stop-color="#00c8ff"/><stop offset="0.166" stop-color="#0078ff"/><stop offset="0.183" stop-color="#0046f8"/><stop offset="0.532" stop-color="#0419e0"/><stop offset="0.718" stop-color="#041ae3"/><stop offset="1.000" stop-color="#0314d5"/></linearGradient><linearGradient id="b16" gradientUnits="userSpaceOnUse" x1="0" y1="38.0" x2="0" y2="187.0"><stop offset="0.000" stop-color="#bc0700"/><stop offset="0.074" stop-color="#d61a00"/><stop offset="0.084" stop-color="#ff8c00"/><stop offset="0.091" stop-color="#ebff14"/><stop offset="0.111" stop-color="#96ff64"/><stop offset="0.118" stop-color="#14ffe6"/><stop offset="0.131" stop-color="#00c8ff"/><stop offset="0.144" stop-color="#0078ff"/><stop offset="0.161" stop-color="#0046f8"/><stop offset="0.402" stop-color="#041ce8"/><stop offset="0.537" stop-color="#0423ec"/><stop offset="0.718" stop-color="#041be5"/><stop offset="1.000" stop-color="#0315d7"/></linearGradient><linearGradient id="b17" gradientUnits="userSpaceOnUse" x1="0" y1="38.0" x2="0" y2="187.0"><stop offset="0.000" stop-color="#b60500"/><stop offset="0.062" stop-color="#d31900"/><stop offset="0.072" stop-color="#ff8c00"/><stop offset="0.079" stop-color="#ebff14"/><stop offset="0.094" stop-color="#96ff64"/><stop offset="0.101" stop-color="#14ffe6"/><stop offset="0.112" stop-color="#00c8ff"/><stop offset="0.126" stop-color="#0078ff"/><stop offset="0.142" stop-color="#0046f8"/><stop offset="0.183" stop-color="#0427ed"/><stop offset="0.282" stop-color="#042cee"/><stop offset="0.389" stop-color="#0426ed"/><stop offset="0.537" stop-color="#041de9"/><stop offset="0.718" stop-color="#0418df"/><stop offset="1.000" stop-color="#0312d0"/></linearGradient><linearGradient id="b18" gradientUnits="userSpaceOnUse" x1="0" y1="38.0" x2="0" y2="187.0"><stop offset="0.000" stop-color="#b00200"/><stop offset="0.089" stop-color="#d01700"/><stop offset="0.099" stop-color="#ff8c00"/><stop offset="0.106" stop-color="#ebff14"/><stop offset="0.135" stop-color="#96ff64"/><stop offset="0.142" stop-color="#14ffe6"/><stop offset="0.145" stop-color="#00c8ff"/><stop offset="0.159" stop-color="#0078ff"/><stop offset="0.176" stop-color="#0046f8"/><stop offset="0.243" stop-color="#0426ed"/><stop offset="0.282" stop-color="#0419e0"/><stop offset="0.389" stop-color="#0316d9"/><stop offset="0.537" stop-color="#0312d0"/><stop offset="0.718" stop-color="#020ec6"/><stop offset="1.000" stop-color="#0108b8"/></linearGradient><linearGradient id="b19" gradientUnits="userSpaceOnUse" x1="0" y1="38.0" x2="0" y2="187.0"><stop offset="0.000" stop-color="#aa0000"/><stop offset="0.110" stop-color="#cd1600"/><stop offset="0.120" stop-color="#ff8c00"/><stop offset="0.127" stop-color="#ebff14"/><stop offset="0.158" stop-color="#96ff64"/><stop offset="0.165" stop-color="#14ffe6"/><stop offset="0.184" stop-color="#00c8ff"/><stop offset="0.197" stop-color="#0078ff"/><stop offset="0.214" stop-color="#0046f8"/><stop offset="0.241" stop-color="#0427ed"/><stop offset="0.282" stop-color="#042aee"/><stop offset="0.389" stop-color="#0422ec"/><stop offset="0.537" stop-color="#041be5"/><stop offset="0.718" stop-color="#0317db"/><stop offset="1.000" stop-color="#0211cd"/></linearGradient><linearGradient id="b20" gradientUnits="userSpaceOnUse" x1="0" y1="38.0" x2="0" y2="187.0"><stop offset="0.000" stop-color="#ab0000"/><stop offset="0.082" stop-color="#cd1600"/><stop offset="0.092" stop-color="#ff8c00"/><stop offset="0.099" stop-color="#ebff14"/><stop offset="0.130" stop-color="#96ff64"/><stop offset="0.136" stop-color="#14ffe6"/><stop offset="0.173" stop-color="#00c8ff"/><stop offset="0.186" stop-color="#0078ff"/><stop offset="0.203" stop-color="#0046f8"/><stop offset="0.230" stop-color="#042aee"/><stop offset="0.282" stop-color="#0423ec"/><stop offset="0.389" stop-color="#041ce8"/><stop offset="0.537" stop-color="#0418df"/><stop offset="0.718" stop-color="#0314d5"/><stop offset="1.000" stop-color="#020ec6"/></linearGradient><linearGradient id="b21" gradientUnits="userSpaceOnUse" x1="0" y1="38.0" x2="0" y2="187.0"><stop offset="0.000" stop-color="#ad0100"/><stop offset="0.064" stop-color="#ce1700"/><stop offset="0.074" stop-color="#ff8c00"/><stop offset="0.081" stop-color="#ebff14"/><stop offset="0.108" stop-color="#96ff64"/><stop offset="0.115" stop-color="#14ffe6"/><stop offset="0.126" stop-color="#00c8ff"/><stop offset="0.139" stop-color="#0078ff"/><stop offset="0.156" stop-color="#0046f8"/><stop offset="0.183" stop-color="#032fef"/><stop offset="0.282" stop-color="#0429ed"/><stop offset="0.389" stop-color="#0420eb"/><stop offset="0.537" stop-color="#041ae3"/><stop offset="0.718" stop-color="#0316d9"/><stop offset="1.000" stop-color="#0210cb"/></linearGradient><linearGradient id="b22" gradientUnits="userSpaceOnUse" x1="0" y1="38.0" x2="0" y2="187.0"><stop offset="0.000" stop-color="#af0100"/><stop offset="0.050" stop-color="#cf1700"/><stop offset="0.060" stop-color="#ff8c00"/><stop offset="0.067" stop-color="#ebff14"/><stop offset="0.092" stop-color="#96ff64"/><stop offset="0.098" stop-color="#14ffe6"/><stop offset="0.112" stop-color="#00c8ff"/><stop offset="0.126" stop-color="#0078ff"/><stop offset="0.142" stop-color="#0046f8"/><stop offset="0.384" stop-color="#041dea"/><stop offset="0.537" stop-color="#0419e0"/><stop offset="0.718" stop-color="#0315d6"/><stop offset="1.000" stop-color="#020ec7"/></linearGradient><linearGradient id="b23" gradientUnits="userSpaceOnUse" x1="0" y1="38.0" x2="0" y2="187.0"><stop offset="0.000" stop-color="#b10200"/><stop offset="0.060" stop-color="#d01700"/><stop offset="0.070" stop-color="#ff8c00"/><stop offset="0.076" stop-color="#ebff14"/><stop offset="0.094" stop-color="#96ff64"/><stop offset="0.101" stop-color="#14ffe6"/><stop offset="0.137" stop-color="#00c8ff"/><stop offset="0.151" stop-color="#0078ff"/><stop offset="0.167" stop-color="#0046f8"/><stop offset="0.235" stop-color="#042cee"/><stop offset="0.282" stop-color="#014ef7"/><stop offset="0.389" stop-color="#0243f4"/><stop offset="0.537" stop-color="#0339f1"/><stop offset="0.718" stop-color="#042dee"/><stop offset="1.000" stop-color="#041dea"/></linearGradient><linearGradient id="b24" gradientUnits="userSpaceOnUse" x1="0" y1="38.0" x2="0" y2="187.0"><stop offset="0.000" stop-color="#b20200"/><stop offset="0.055" stop-color="#d11700"/><stop offset="0.065" stop-color="#ff8c00"/><stop offset="0.072" stop-color="#ebff14"/><stop offset="0.091" stop-color="#96ff64"/><stop offset="0.098" stop-color="#14ffe6"/><stop offset="0.117" stop-color="#00c8ff"/><stop offset="0.130" stop-color="#0078ff"/><stop offset="0.147" stop-color="#0046f8"/><stop offset="0.496" stop-color="#041ae2"/><stop offset="0.537" stop-color="#0336f1"/><stop offset="0.718" stop-color="#042aee"/><stop offset="1.000" stop-color="#041ce7"/></linearGradient><linearGradient id="b25" gradientUnits="userSpaceOnUse" x1="0" y1="38.0" x2="0" y2="187.0"><stop offset="0.000" stop-color="#b40300"/><stop offset="0.089" stop-color="#d21800"/><stop offset="0.099" stop-color="#ff8c00"/><stop offset="0.106" stop-color="#ebff14"/><stop offset="0.133" stop-color="#96ff64"/><stop offset="0.140" stop-color="#14ffe6"/><stop offset="0.153" stop-color="#00c8ff"/><stop offset="0.166" stop-color="#0078ff"/><stop offset="0.183" stop-color="#0046f8"/><stop offset="0.532" stop-color="#0419e0"/><stop offset="0.718" stop-color="#041feb"/><stop offset="1.000" stop-color="#0418dd"/></linearGradient><linearGradient id="b26" gradientUnits="userSpaceOnUse" x1="0" y1="38.0" x2="0" y2="187.0"><stop offset="0.000" stop-color="#b60400"/><stop offset="0.058" stop-color="#d31800"/><stop offset="0.068" stop-color="#ff8c00"/><stop offset="0.075" stop-color="#ebff14"/><stop offset="0.096" stop-color="#96ff64"/><stop offset="0.102" stop-color="#14ffe6"/><stop offset="0.106" stop-color="#00c8ff"/><stop offset="0.119" stop-color="#0078ff"/><stop offset="0.136" stop-color="#0046f8"/><stop offset="0.297" stop-color="#0425ec"/><stop offset="0.389" stop-color="#041de8"/><stop offset="0.537" stop-color="#0419df"/><stop offset="0.718" stop-color="#0314d5"/><stop offset="1.000" stop-color="#020ec7"/></linearGradient><linearGradient id="b27" gradientUnits="userSpaceOnUse" x1="0" y1="38.0" x2="0" y2="187.0"><stop offset="0.000" stop-color="#b80400"/><stop offset="0.020" stop-color="#d41800"/><stop offset="0.030" stop-color="#ff8c00"/><stop offset="0.037" stop-color="#ebff14"/><stop offset="0.052" stop-color="#96ff64"/><stop offset="0.058" stop-color="#14ffe6"/><stop offset="0.093" stop-color="#00c8ff"/><stop offset="0.106" stop-color="#0078ff"/><stop offset="0.123" stop-color="#0046f8"/><stop offset="0.472" stop-color="#041be4"/><stop offset="0.537" stop-color="#041eeb"/><stop offset="0.718" stop-color="#0419e1"/><stop offset="1.000" stop-color="#0313d3"/></linearGradient><linearGradient id="b28" gradientUnits="userSpaceOnUse" x1="0" y1="38.0" x2="0" y2="187.0"><stop offset="0.000" stop-color="#b90500"/><stop offset="0.063" stop-color="#d41900"/><stop offset="0.073" stop-color="#ff8c00"/><stop offset="0.080" stop-color="#ebff14"/><stop offset="0.113" stop-color="#96ff64"/><stop offset="0.119" stop-color="#14ffe6"/><stop offset="0.135" stop-color="#00c8ff"/><stop offset="0.148" stop-color="#0078ff"/><stop offset="0.165" stop-color="#0046f8"/><stop offset="0.192" stop-color="#0332f0"/><stop offset="0.282" stop-color="#0423ec"/><stop offset="0.389" stop-color="#041be6"/><stop offset="0.537" stop-color="#0317dc"/><stop offset="0.718" stop-color="#0313d2"/><stop offset="1.000" stop-color="#020dc4"/></linearGradient><linearGradient id="b29" gradientUnits="userSpaceOnUse" x1="0" y1="38.0" x2="0" y2="187.0"><stop offset="0.000" stop-color="#bb0500"/><stop offset="0.073" stop-color="#d51900"/><stop offset="0.083" stop-color="#ff8c00"/><stop offset="0.090" stop-color="#ebff14"/><stop offset="0.113" stop-color="#96ff64"/><stop offset="0.120" stop-color="#14ffe6"/><stop offset="0.126" stop-color="#00c8ff"/><stop offset="0.140" stop-color="#0078ff"/><stop offset="0.157" stop-color="#0046f8"/><stop offset="0.506" stop-color="#041ae2"/><stop offset="0.537" stop-color="#0420eb"/><stop offset="0.718" stop-color="#041ae3"/><stop offset="1.000" stop-color="#0314d4"/></linearGradient><linearGradient id="b30" gradientUnits="userSpaceOnUse" x1="0" y1="38.0" x2="0" y2="187.0"><stop offset="0.000" stop-color="#bd0600"/><stop offset="0.069" stop-color="#d61900"/><stop offset="0.079" stop-color="#ff8c00"/><stop offset="0.086" stop-color="#ebff14"/><stop offset="0.108" stop-color="#96ff64"/><stop offset="0.114" stop-color="#14ffe6"/><stop offset="0.132" stop-color="#00c8ff"/><stop offset="0.145" stop-color="#0078ff"/><stop offset="0.162" stop-color="#0046f8"/><stop offset="0.189" stop-color="#0332f0"/><stop offset="0.282" stop-color="#041de9"/><stop offset="0.389" stop-color="#0419df"/><stop offset="0.537" stop-color="#0315d6"/><stop offset="0.718" stop-color="#0210cc"/><stop offset="1.000" stop-color="#010abe"/></linearGradient><linearGradient id="b31" gradientUnits="userSpaceOnUse" x1="0" y1="38.0" x2="0" y2="187.0"><stop offset="0.000" stop-color="#bf0700"/><stop offset="0.121" stop-color="#d71a00"/><stop offset="0.131" stop-color="#ff8c00"/><stop offset="0.137" stop-color="#ebff14"/><stop offset="0.155" stop-color="#96ff64"/><stop offset="0.162" stop-color="#14ffe6"/><stop offset="0.165" stop-color="#00c8ff"/><stop offset="0.178" stop-color="#0078ff"/><stop offset="0.195" stop-color="#0046f8"/><stop offset="0.437" stop-color="#041be6"/><stop offset="0.537" stop-color="#0317db"/><stop offset="0.718" stop-color="#0313d1"/><stop offset="1.000" stop-color="#020dc3"/></linearGradient><linearGradient id="b32" gradientUnits="userSpaceOnUse" x1="0" y1="38.0" x2="0" y2="187.0"><stop offset="0.000" stop-color="#c00700"/><stop offset="0.139" stop-color="#d81a00"/><stop offset="0.149" stop-color="#ff8c00"/><stop offset="0.156" stop-color="#ebff14"/><stop offset="0.174" stop-color="#96ff64"/><stop offset="0.181" stop-color="#14ffe6"/><stop offset="0.219" stop-color="#00c8ff"/><stop offset="0.232" stop-color="#0078ff"/><stop offset="0.249" stop-color="#0046f8"/><stop offset="0.598" stop-color="#0418dd"/><stop offset="0.718" stop-color="#0419e0"/><stop offset="1.000" stop-color="#0313d1"/></linearGradient><linearGradient id="b33" gradientUnits="userSpaceOnUse" x1="0" y1="38.0" x2="0" y2="187.0"><stop offset="0.000" stop-color="#c20800"/><stop offset="0.117" stop-color="#d91a00"/><stop offset="0.127" stop-color="#ff8c00"/><stop offset="0.134" stop-color="#ebff14"/><stop offset="0.158" stop-color="#96ff64"/><stop offset="0.165" stop-color="#14ffe6"/><stop offset="0.174" stop-color="#00c8ff"/><stop offset="0.188" stop-color="#0078ff"/><stop offset="0.204" stop-color="#0046f8"/><stop offset="0.366" stop-color="#041feb"/><stop offset="0.389" stop-color="#041be6"/><stop offset="0.537" stop-color="#0317dc"/><stop offset="0.718" stop-color="#0313d2"/><stop offset="1.000" stop-color="#020dc4"/></linearGradient><linearGradient id="b34" gradientUnits="userSpaceOnUse" x1="0" y1="38.0" x2="0" y2="187.0"><stop offset="0.000" stop-color="#c40800"/><stop offset="0.081" stop-color="#da1a00"/><stop offset="0.091" stop-color="#ff8c00"/><stop offset="0.098" stop-color="#ebff14"/><stop offset="0.132" stop-color="#96ff64"/><stop offset="0.139" stop-color="#14ffe6"/><stop offset="0.163" stop-color="#00c8ff"/><stop offset="0.177" stop-color="#0078ff"/><stop offset="0.193" stop-color="#0046f8"/><stop offset="0.301" stop-color="#0425ec"/><stop offset="0.389" stop-color="#041dea"/><stop offset="0.537" stop-color="#0419e1"/><stop offset="0.718" stop-color="#0315d7"/><stop offset="1.000" stop-color="#020fc8"/></linearGradient><linearGradient id="b35" gradientUnits="userSpaceOnUse" x1="0" y1="38.0" x2="0" y2="187.0"><stop offset="0.000" stop-color="#c60900"/><stop offset="0.036" stop-color="#db1b00"/><stop offset="0.046" stop-color="#ff8c00"/><stop offset="0.053" stop-color="#ebff14"/><stop offset="0.079" stop-color="#96ff64"/><stop offset="0.086" stop-color="#14ffe6"/><stop offset="0.089" stop-color="#00c8ff"/><stop offset="0.103" stop-color="#0078ff"/><stop offset="0.119" stop-color="#0046f8"/><stop offset="0.361" stop-color="#041feb"/><stop offset="0.389" stop-color="#0420eb"/><stop offset="0.537" stop-color="#041be4"/><stop offset="0.718" stop-color="#0316d9"/><stop offset="1.000" stop-color="#0210cb"/></linearGradient><linearGradient id="b36" gradientUnits="userSpaceOnUse" x1="0" y1="38.0" x2="0" y2="187.0"><stop offset="0.000" stop-color="#c80a00"/><stop offset="0.029" stop-color="#dc1b00"/><stop offset="0.039" stop-color="#ff8c00"/><stop offset="0.046" stop-color="#ebff14"/><stop offset="0.061" stop-color="#96ff64"/><stop offset="0.067" stop-color="#14ffe6"/><stop offset="0.090" stop-color="#00c8ff"/><stop offset="0.103" stop-color="#0078ff"/><stop offset="0.120" stop-color="#0046f8"/><stop offset="0.147" stop-color="#0337f1"/><stop offset="0.188" stop-color="#0243f4"/><stop offset="0.282" stop-color="#0337f1"/><stop offset="0.389" stop-color="#042cee"/><stop offset="0.537" stop-color="#0422ec"/><stop offset="0.718" stop-color="#041be4"/><stop offset="1.000" stop-color="#0314d5"/></linearGradient><linearGradient id="b37" gradientUnits="userSpaceOnUse" x1="0" y1="38.0" x2="0" y2="187.0"><stop offset="0.000" stop-color="#d21e00"/><stop offset="0.040" stop-color="#e12500"/><stop offset="0.050" stop-color="#ff8c00"/><stop offset="0.057" stop-color="#ebff14"/><stop offset="0.079" stop-color="#96ff64"/><stop offset="0.085" stop-color="#14ffe6"/><stop offset="0.101" stop-color="#00c8ff"/><stop offset="0.114" stop-color="#0078ff"/><stop offset="0.131" stop-color="#0046f8"/><stop offset="0.292" stop-color="#0426ed"/><stop offset="0.389" stop-color="#041feb"/><stop offset="0.537" stop-color="#041ae3"/><stop offset="0.718" stop-color="#0316d9"/><stop offset="1.000" stop-color="#0210ca"/></linearGradient><linearGradient id="b38" gradientUnits="userSpaceOnUse" x1="0" y1="38.0" x2="0" y2="187.0"><stop offset="0.000" stop-color="#dc3200"/><stop offset="0.019" stop-color="#e62f00"/><stop offset="0.029" stop-color="#ff8c00"/><stop offset="0.036" stop-color="#ebff14"/><stop offset="0.052" stop-color="#96ff64"/><stop offset="0.058" stop-color="#14ffe6"/><stop offset="0.062" stop-color="#00c8ff"/><stop offset="0.075" stop-color="#0078ff"/><stop offset="0.092" stop-color="#0046f8"/><stop offset="0.333" stop-color="#0422ec"/><stop offset="0.389" stop-color="#0428ed"/><stop offset="0.537" stop-color="#041eeb"/><stop offset="0.718" stop-color="#0419e1"/><stop offset="1.000" stop-color="#0313d2"/></linearGradient><linearGradient id="b39" gradientUnits="userSpaceOnUse" x1="0" y1="38.0" x2="0" y2="187.0"><stop offset="0.000" stop-color="#e64600"/><stop offset="0.025" stop-color="#eb3900"/><stop offset="0.035" stop-color="#ff8c00"/><stop offset="0.042" stop-color="#ebff14"/><stop offset="0.065" stop-color="#96ff64"/><stop offset="0.071" stop-color="#14ffe6"/><stop offset="0.081" stop-color="#00c8ff"/><stop offset="0.094" stop-color="#0078ff"/><stop offset="0.111" stop-color="#0046f8"/><stop offset="0.138" stop-color="#0338f1"/><stop offset="0.188" stop-color="#0156f9"/><stop offset="0.282" stop-color="#024af6"/><stop offset="0.389" stop-color="#023ff3"/><stop offset="0.537" stop-color="#0335f0"/><stop offset="0.718" stop-color="#0429ed"/><stop offset="1.000" stop-color="#041ce6"/></linearGradient><linearGradient id="b40" gradientUnits="userSpaceOnUse" x1="0" y1="38.0" x2="0" y2="187.0"><stop offset="0.000" stop-color="#f05a00"/><stop offset="0.042" stop-color="#f04300"/><stop offset="0.052" stop-color="#ff8c00"/><stop offset="0.058" stop-color="#ebff14"/><stop offset="0.078" stop-color="#96ff64"/><stop offset="0.085" stop-color="#14ffe6"/><stop offset="0.099" stop-color="#00c8ff"/><stop offset="0.112" stop-color="#0078ff"/><stop offset="0.129" stop-color="#0046f8"/><stop offset="0.478" stop-color="#041ae3"/><stop offset="0.537" stop-color="#0419df"/><stop offset="0.718" stop-color="#0314d5"/><stop offset="1.000" stop-color="#020ec7"/></linearGradient><linearGradient id="b41" gradientUnits="userSpaceOnUse" x1="0" y1="38.0" x2="0" y2="187.0"><stop offset="0.000" stop-color="#fa6e00"/><stop offset="0.059" stop-color="#f54d00"/><stop offset="0.069" stop-color="#ff8c00"/><stop offset="0.075" stop-color="#ebff14"/><stop offset="0.092" stop-color="#96ff64"/><stop offset="0.099" stop-color="#14ffe6"/><stop offset="0.113" stop-color="#00c8ff"/><stop offset="0.127" stop-color="#0078ff"/><stop offset="0.143" stop-color="#0046f8"/><stop offset="0.184" stop-color="#0333f0"/><stop offset="0.282" stop-color="#041dea"/><stop offset="0.389" stop-color="#0419e0"/><stop offset="0.537" stop-color="#0315d7"/><stop offset="0.718" stop-color="#0211cd"/><stop offset="1.000" stop-color="#010bbf"/></linearGradient><linearGradient id="b42" gradientUnits="userSpaceOnUse" x1="0" y1="38.0" x2="0" y2="187.0"><stop offset="0.000" stop-color="#fa6e00"/><stop offset="0.054" stop-color="#f54d00"/><stop offset="0.064" stop-color="#ff8c00"/><stop offset="0.071" stop-color="#ebff14"/><stop offset="0.092" stop-color="#96ff64"/><stop offset="0.099" stop-color="#14ffe6"/><stop offset="0.123" stop-color="#00c8ff"/><stop offset="0.137" stop-color="#0078ff"/><stop offset="0.153" stop-color="#0046f8"/><stop offset="0.395" stop-color="#041de9"/><stop offset="0.537" stop-color="#041ae2"/><stop offset="0.718" stop-color="#0316d8"/><stop offset="1.000" stop-color="#020fca"/></linearGradient><linearGradient id="b43" gradientUnits="userSpaceOnUse" x1="0" y1="38.0" x2="0" y2="187.0"><stop offset="0.000" stop-color="#fa6f00"/><stop offset="0.038" stop-color="#f54e00"/><stop offset="0.048" stop-color="#ff8c00"/><stop offset="0.054" stop-color="#ebff14"/><stop offset="0.074" stop-color="#96ff64"/><stop offset="0.081" stop-color="#14ffe6"/><stop offset="0.084" stop-color="#00c8ff"/><stop offset="0.097" stop-color="#0078ff"/><stop offset="0.114" stop-color="#0046f8"/><stop offset="0.154" stop-color="#0336f1"/><stop offset="0.188" stop-color="#042dee"/><stop offset="0.282" stop-color="#0421eb"/><stop offset="0.389" stop-color="#041be4"/><stop offset="0.537" stop-color="#0317db"/><stop offset="0.718" stop-color="#0312d1"/><stop offset="1.000" stop-color="#020cc2"/></linearGradient><linearGradient id="b44" gradientUnits="userSpaceOnUse" x1="0" y1="38.0" x2="0" y2="187.0"><stop offset="0.000" stop-color="#fa7000"/><stop offset="0.017" stop-color="#f54e00"/><stop offset="0.027" stop-color="#ff8c00"/><stop offset="0.034" stop-color="#ebff14"/><stop offset="0.062" stop-color="#96ff64"/><stop offset="0.069" stop-color="#14ffe6"/><stop offset="0.099" stop-color="#00c8ff"/><stop offset="0.113" stop-color="#0078ff"/><stop offset="0.130" stop-color="#0046f8"/><stop offset="0.170" stop-color="#0335f0"/><stop offset="0.282" stop-color="#041ae2"/><stop offset="0.389" stop-color="#0316d8"/><stop offset="0.537" stop-color="#0312cf"/><stop offset="0.718" stop-color="#020dc5"/><stop offset="1.000" stop-color="#0107b7"/></linearGradient><linearGradient id="b45" gradientUnits="userSpaceOnUse" x1="0" y1="38.0" x2="0" y2="187.0"><stop offset="0.000" stop-color="#fa7000"/><stop offset="0.030" stop-color="#f54e00"/><stop offset="0.040" stop-color="#ff8c00"/><stop offset="0.047" stop-color="#ebff14"/><stop offset="0.064" stop-color="#96ff64"/><stop offset="0.070" stop-color="#14ffe6"/><stop offset="0.080" stop-color="#00c8ff"/><stop offset="0.094" stop-color="#0078ff"/><stop offset="0.111" stop-color="#0046f8"/><stop offset="0.218" stop-color="#032fef"/><stop offset="0.282" stop-color="#0332f0"/><stop offset="0.389" stop-color="#0427ed"/><stop offset="0.537" stop-color="#041dea"/><stop offset="0.718" stop-color="#0419df"/><stop offset="1.000" stop-color="#0313d1"/></linearGradient><linearGradient id="b46" gradientUnits="userSpaceOnUse" x1="0" y1="38.0" x2="0" y2="187.0"><stop offset="0.000" stop-color="#fa7100"/><stop offset="0.047" stop-color="#f54f00"/><stop offset="0.057" stop-color="#ff8c00"/><stop offset="0.063" stop-color="#ebff14"/><stop offset="0.081" stop-color="#96ff64"/><stop offset="0.088" stop-color="#14ffe6"/><stop offset="0.091" stop-color="#00c8ff"/><stop offset="0.105" stop-color="#0078ff"/><stop offset="0.122" stop-color="#0046f8"/><stop offset="0.148" stop-color="#0337f1"/><stop offset="0.188" stop-color="#0246f5"/><stop offset="0.282" stop-color="#033bf2"/><stop offset="0.389" stop-color="#0330ef"/><stop offset="0.537" stop-color="#0425ec"/><stop offset="0.718" stop-color="#041ce7"/><stop offset="1.000" stop-color="#0316d9"/></linearGradient><linearGradient id="b47" gradientUnits="userSpaceOnUse" x1="0" y1="38.0" x2="0" y2="187.0"><stop offset="0.000" stop-color="#fb7200"/><stop offset="0.066" stop-color="#f54f00"/><stop offset="0.076" stop-color="#ff8c00"/><stop offset="0.082" stop-color="#ebff14"/><stop offset="0.099" stop-color="#96ff64"/><stop offset="0.105" stop-color="#14ffe6"/><stop offset="0.131" stop-color="#00c8ff"/><stop offset="0.145" stop-color="#0078ff"/><stop offset="0.161" stop-color="#0046f8"/><stop offset="0.229" stop-color="#032eef"/><stop offset="0.282" stop-color="#0241f3"/><stop offset="0.389" stop-color="#0336f1"/><stop offset="0.537" stop-color="#042cee"/><stop offset="0.718" stop-color="#0420eb"/><stop offset="1.000" stop-color="#0418de"/></linearGradient><linearGradient id="b48" gradientUnits="userSpaceOnUse" x1="0" y1="38.0" x2="0" y2="187.0"><stop offset="0.000" stop-color="#fb7200"/><stop offset="0.081" stop-color="#f54f00"/><stop offset="0.091" stop-color="#ff8c00"/><stop offset="0.097" stop-color="#ebff14"/><stop offset="0.124" stop-color="#96ff64"/><stop offset="0.131" stop-color="#14ffe6"/><stop offset="0.173" stop-color="#00c8ff"/><stop offset="0.186" stop-color="#0078ff"/><stop offset="0.203" stop-color="#0046f8"/><stop offset="0.552" stop-color="#0419df"/><stop offset="0.718" stop-color="#0423ec"/><stop offset="1.000" stop-color="#0419e1"/></linearGradient><linearGradient id="b49" gradientUnits="userSpaceOnUse" x1="0" y1="38.0" x2="0" y2="187.0"><stop offset="0.000" stop-color="#fb7300"/><stop offset="0.046" stop-color="#f55000"/><stop offset="0.056" stop-color="#ff8c00"/><stop offset="0.063" stop-color="#ebff14"/><stop offset="0.087" stop-color="#96ff64"/><stop offset="0.093" stop-color="#14ffe6"/><stop offset="0.097" stop-color="#00c8ff"/><stop offset="0.110" stop-color="#0078ff"/><stop offset="0.127" stop-color="#0046f8"/><stop offset="0.167" stop-color="#0335f0"/><stop offset="0.188" stop-color="#024cf6"/><stop offset="0.282" stop-color="#0241f3"/><stop offset="0.389" stop-color="#0336f1"/><stop offset="0.537" stop-color="#042bee"/><stop offset="0.718" stop-color="#0420eb"/><stop offset="1.000" stop-color="#0418de"/></linearGradient><linearGradient id="b50" gradientUnits="userSpaceOnUse" x1="0" y1="38.0" x2="0" y2="187.0"><stop offset="0.000" stop-color="#fb7400"/><stop offset="0.054" stop-color="#f55000"/><stop offset="0.064" stop-color="#ff8c00"/><stop offset="0.071" stop-color="#ebff14"/><stop offset="0.098" stop-color="#96ff64"/><stop offset="0.104" stop-color="#14ffe6"/><stop offset="0.135" stop-color="#00c8ff"/><stop offset="0.148" stop-color="#0078ff"/><stop offset="0.165" stop-color="#0046f8"/><stop offset="0.192" stop-color="#0332f0"/><stop offset="0.282" stop-color="#042bee"/><stop offset="0.389" stop-color="#0420eb"/><stop offset="0.537" stop-color="#041ae3"/><stop offset="0.718" stop-color="#0316d9"/><stop offset="1.000" stop-color="#0210cb"/></linearGradient><linearGradient id="b51" gradientUnits="userSpaceOnUse" x1="0" y1="38.0" x2="0" y2="187.0"><stop offset="0.000" stop-color="#fb7400"/><stop offset="0.032" stop-color="#f55000"/><stop offset="0.042" stop-color="#ff8c00"/><stop offset="0.049" stop-color="#ebff14"/><stop offset="0.070" stop-color="#96ff64"/><stop offset="0.076" stop-color="#14ffe6"/><stop offset="0.091" stop-color="#00c8ff"/><stop offset="0.104" stop-color="#0078ff"/><stop offset="0.121" stop-color="#0046f8"/><stop offset="0.363" stop-color="#041feb"/><stop offset="0.389" stop-color="#0312d1"/><stop offset="0.537" stop-color="#020ec7"/><stop offset="0.718" stop-color="#010abd"/><stop offset="1.000" stop-color="#0004af"/></linearGradient><linearGradient id="b52" gradientUnits="userSpaceOnUse" x1="0" y1="38.0" x2="0" y2="187.0"><stop offset="0.000" stop-color="#fb7500"/><stop offset="0.059" stop-color="#f55100"/><stop offset="0.069" stop-color="#ff8c00"/><stop offset="0.076" stop-color="#ebff14"/><stop offset="0.091" stop-color="#96ff64"/><stop offset="0.098" stop-color="#14ffe6"/><stop offset="0.129" stop-color="#00c8ff"/><stop offset="0.142" stop-color="#0078ff"/><stop offset="0.159" stop-color="#0046f8"/><stop offset="0.226" stop-color="#032eef"/><stop offset="0.282" stop-color="#0421eb"/><stop offset="0.389" stop-color="#041be4"/><stop offset="0.537" stop-color="#0317db"/><stop offset="0.718" stop-color="#0313d1"/><stop offset="1.000" stop-color="#020cc3"/></linearGradient><linearGradient id="b53" gradientUnits="userSpaceOnUse" x1="0" y1="38.0" x2="0" y2="187.0"><stop offset="0.000" stop-color="#fc7600"/><stop offset="0.034" stop-color="#f65100"/><stop offset="0.044" stop-color="#ff8c00"/><stop offset="0.051" stop-color="#ebff14"/><stop offset="0.071" stop-color="#96ff64"/><stop offset="0.078" stop-color="#14ffe6"/><stop offset="0.108" stop-color="#00c8ff"/><stop offset="0.121" stop-color="#0078ff"/><stop offset="0.138" stop-color="#0046f8"/><stop offset="0.299" stop-color="#0425ec"/><stop offset="0.389" stop-color="#0317dc"/><stop offset="0.537" stop-color="#0313d3"/><stop offset="0.718" stop-color="#020fc8"/><stop offset="1.000" stop-color="#0109ba"/></linearGradient><linearGradient id="b54" gradientUnits="userSpaceOnUse" x1="0" y1="38.0" x2="0" y2="187.0"><stop offset="0.000" stop-color="#fc7600"/><stop offset="0.035" stop-color="#f65100"/><stop offset="0.045" stop-color="#ff8c00"/><stop offset="0.052" stop-color="#ebff14"/><stop offset="0.066" stop-color="#96ff64"/><stop offset="0.072" stop-color="#14ffe6"/><stop offset="0.113" stop-color="#00c8ff"/><stop offset="0.127" stop-color="#0078ff"/><stop offset="0.144" stop-color="#0046f8"/><stop offset="0.385" stop-color="#041dea"/><stop offset="0.537" stop-color="#0317db"/><stop offset="0.718" stop-color="#0313d1"/><stop offset="1.000" stop-color="#020cc3"/></linearGradient><linearGradient id="b55" gradientUnits="userSpaceOnUse" x1="0" y1="38.0" x2="0" y2="187.0"><stop offset="0.000" stop-color="#fc7700"/><stop offset="0.035" stop-color="#f65200"/><stop offset="0.045" stop-color="#ff8c00"/><stop offset="0.052" stop-color="#ebff14"/><stop offset="0.071" stop-color="#96ff64"/><stop offset="0.078" stop-color="#14ffe6"/><stop offset="0.091" stop-color="#00c8ff"/><stop offset="0.105" stop-color="#0078ff"/><stop offset="0.121" stop-color="#0046f8"/><stop offset="0.470" stop-color="#041be4"/><stop offset="0.537" stop-color="#041be4"/><stop offset="0.718" stop-color="#0316da"/><stop offset="1.000" stop-color="#0210cb"/></linearGradient><linearGradient id="b56" gradientUnits="userSpaceOnUse" x1="0" y1="38.0" x2="0" y2="187.0"><stop offset="0.000" stop-color="#fc7800"/><stop offset="0.021" stop-color="#f65200"/><stop offset="0.031" stop-color="#ff8c00"/><stop offset="0.038" stop-color="#ebff14"/><stop offset="0.054" stop-color="#96ff64"/><stop offset="0.061" stop-color="#14ffe6"/><stop offset="0.086" stop-color="#00c8ff"/><stop offset="0.100" stop-color="#0078ff"/><stop offset="0.117" stop-color="#0046f8"/><stop offset="0.278" stop-color="#0427ed"/><stop offset="0.389" stop-color="#0418de"/><stop offset="0.537" stop-color="#0314d5"/><stop offset="0.718" stop-color="#0210cb"/><stop offset="1.000" stop-color="#010abc"/></linearGradient><linearGradient id="b57" gradientUnits="userSpaceOnUse" x1="0" y1="38.0" x2="0" y2="187.0"><stop offset="0.000" stop-color="#fc7800"/><stop offset="0.017" stop-color="#f65200"/><stop offset="0.027" stop-color="#ff8c00"/><stop offset="0.034" stop-color="#ebff14"/><stop offset="0.052" stop-color="#96ff64"/><stop offset="0.059" stop-color="#14ffe6"/><stop offset="0.062" stop-color="#00c8ff"/><stop offset="0.075" stop-color="#0078ff"/><stop offset="0.092" stop-color="#0046f8"/><stop offset="0.253" stop-color="#042aee"/><stop offset="0.282" stop-color="#041eeb"/><stop offset="0.389" stop-color="#041ae1"/><stop offset="0.537" stop-color="#0316d8"/><stop offset="0.718" stop-color="#0211ce"/><stop offset="1.000" stop-color="#010bbf"/></linearGradient><linearGradient id="b58" gradientUnits="userSpaceOnUse" x1="0" y1="38.0" x2="0" y2="187.0"><stop offset="0.000" stop-color="#fc7900"/><stop offset="0.027" stop-color="#f65300"/><stop offset="0.037" stop-color="#ff8c00"/><stop offset="0.043" stop-color="#ebff14"/><stop offset="0.069" stop-color="#96ff64"/><stop offset="0.076" stop-color="#14ffe6"/><stop offset="0.079" stop-color="#00c8ff"/><stop offset="0.092" stop-color="#0078ff"/><stop offset="0.109" stop-color="#0046f8"/><stop offset="0.176" stop-color="#0334f0"/><stop offset="0.282" stop-color="#033bf2"/><stop offset="0.389" stop-color="#0330ef"/><stop offset="0.537" stop-color="#0426ed"/><stop offset="0.718" stop-color="#041ce8"/><stop offset="1.000" stop-color="#0316d9"/></linearGradient><linearGradient id="b59" gradientUnits="userSpaceOnUse" x1="0" y1="38.0" x2="0" y2="187.0"><stop offset="0.000" stop-color="#fd7a00"/><stop offset="0.038" stop-color="#f65300"/><stop offset="0.048" stop-color="#ff8c00"/><stop offset="0.055" stop-color="#ebff14"/><stop offset="0.076" stop-color="#96ff64"/><stop offset="0.083" stop-color="#14ffe6"/><stop offset="0.119" stop-color="#00c8ff"/><stop offset="0.132" stop-color="#0078ff"/><stop offset="0.149" stop-color="#0046f8"/><stop offset="0.256" stop-color="#042aee"/><stop offset="0.282" stop-color="#033df2"/><stop offset="0.389" stop-color="#0332f0"/><stop offset="0.537" stop-color="#0428ed"/><stop offset="0.718" stop-color="#041de9"/><stop offset="1.000" stop-color="#0317db"/></linearGradient><linearGradient id="b60" gradientUnits="userSpaceOnUse" x1="0" y1="38.0" x2="0" y2="187.0"><stop offset="0.000" stop-color="#fd7a00"/><stop offset="0.035" stop-color="#f65300"/><stop offset="0.045" stop-color="#ff8c00"/><stop offset="0.052" stop-color="#ebff14"/><stop offset="0.072" stop-color="#96ff64"/><stop offset="0.078" stop-color="#14ffe6"/><stop offset="0.089" stop-color="#00c8ff"/><stop offset="0.103" stop-color="#0078ff"/><stop offset="0.120" stop-color="#0046f8"/><stop offset="0.227" stop-color="#032eef"/><stop offset="0.282" stop-color="#041eeb"/><stop offset="0.389" stop-color="#041ae2"/><stop offset="0.537" stop-color="#0316d8"/><stop offset="0.718" stop-color="#0211ce"/><stop offset="1.000" stop-color="#010bc0"/></linearGradient><linearGradient id="b61" gradientUnits="userSpaceOnUse" x1="0" y1="38.0" x2="0" y2="187.0"><stop offset="0.000" stop-color="#fd7b00"/><stop offset="0.021" stop-color="#f65400"/><stop offset="0.031" stop-color="#ff8c00"/><stop offset="0.038" stop-color="#ebff14"/><stop offset="0.054" stop-color="#96ff64"/><stop offset="0.061" stop-color="#14ffe6"/><stop offset="0.073" stop-color="#00c8ff"/><stop offset="0.086" stop-color="#0078ff"/><stop offset="0.103" stop-color="#0046f8"/><stop offset="0.170" stop-color="#0335f0"/><stop offset="0.282" stop-color="#0422ec"/><stop offset="0.389" stop-color="#041be5"/><stop offset="0.537" stop-color="#0317db"/><stop offset="0.718" stop-color="#0313d1"/><stop offset="1.000" stop-color="#020dc3"/></linearGradient><linearGradient id="b62" gradientUnits="userSpaceOnUse" x1="0" y1="38.0" x2="0" y2="187.0"><stop offset="0.000" stop-color="#fd7c00"/><stop offset="0.017" stop-color="#f65400"/><stop offset="0.027" stop-color="#ff8c00"/><stop offset="0.034" stop-color="#ebff14"/><stop offset="0.056" stop-color="#96ff64"/><stop offset="0.063" stop-color="#14ffe6"/><stop offset="0.068" stop-color="#00c8ff"/><stop offset="0.082" stop-color="#0078ff"/><stop offset="0.098" stop-color="#0046f8"/><stop offset="0.125" stop-color="#0339f1"/><stop offset="0.188" stop-color="#0332f0"/><stop offset="0.282" stop-color="#0426ed"/><stop offset="0.389" stop-color="#041de9"/><stop offset="0.537" stop-color="#0419df"/><stop offset="0.718" stop-color="#0314d5"/><stop offset="1.000" stop-color="#020ec7"/></linearGradient><linearGradient id="b63" gradientUnits="userSpaceOnUse" x1="0" y1="38.0" x2="0" y2="187.0"><stop offset="0.000" stop-color="#fd7c00"/><stop offset="0.017" stop-color="#f65400"/><stop offset="0.027" stop-color="#ff8c00"/><stop offset="0.034" stop-color="#ebff14"/><stop offset="0.057" stop-color="#96ff64"/><stop offset="0.064" stop-color="#14ffe6"/><stop offset="0.080" stop-color="#00c8ff"/><stop offset="0.093" stop-color="#0078ff"/><stop offset="0.110" stop-color="#0046f8"/><stop offset="0.352" stop-color="#0420eb"/><stop offset="0.389" stop-color="#0425ec"/><stop offset="0.537" stop-color="#041ce8"/><stop offset="0.718" stop-color="#0418de"/><stop offset="1.000" stop-color="#0312cf"/></linearGradient><linearGradient id="b64" gradientUnits="userSpaceOnUse" x1="0" y1="38.0" x2="0" y2="187.0"><stop offset="0.000" stop-color="#fd7d00"/><stop offset="0.017" stop-color="#f65500"/><stop offset="0.027" stop-color="#ff8c00"/><stop offset="0.034" stop-color="#ebff14"/><stop offset="0.055" stop-color="#96ff64"/><stop offset="0.062" stop-color="#14ffe6"/><stop offset="0.068" stop-color="#00c8ff"/><stop offset="0.081" stop-color="#0078ff"/><stop offset="0.098" stop-color="#0046f8"/><stop offset="0.259" stop-color="#0429ed"/><stop offset="0.282" stop-color="#0337f1"/><stop offset="0.389" stop-color="#042cee"/><stop offset="0.537" stop-color="#0422ec"/><stop offset="0.718" stop-color="#041be4"/><stop offset="1.000" stop-color="#0315d6"/></linearGradient><linearGradient id="b65" gradientUnits="userSpaceOnUse" x1="0" y1="38.0" x2="0" y2="187.0"><stop offset="0.000" stop-color="#fe7e00"/><stop offset="0.037" stop-color="#f75500"/><stop offset="0.048" stop-color="#ff8c00"/><stop offset="0.054" stop-color="#ebff14"/><stop offset="0.085" stop-color="#96ff64"/><stop offset="0.092" stop-color="#14ffe6"/><stop offset="0.110" stop-color="#00c8ff"/><stop offset="0.123" stop-color="#0078ff"/><stop offset="0.140" stop-color="#0046f8"/><stop offset="0.180" stop-color="#0333f0"/><stop offset="0.282" stop-color="#0330ef"/><stop offset="0.389" stop-color="#0425ec"/><stop offset="0.537" stop-color="#041ce8"/><stop offset="0.718" stop-color="#0418de"/><stop offset="1.000" stop-color="#0312cf"/></linearGradient><linearGradient id="b66" gradientUnits="userSpaceOnUse" x1="0" y1="38.0" x2="0" y2="187.0"><stop offset="0.000" stop-color="#fe7e00"/><stop offset="0.047" stop-color="#f75500"/><stop offset="0.057" stop-color="#ff8c00"/><stop offset="0.064" stop-color="#ebff14"/><stop offset="0.079" stop-color="#96ff64"/><stop offset="0.085" stop-color="#14ffe6"/><stop offset="0.089" stop-color="#00c8ff"/><stop offset="0.102" stop-color="#0078ff"/><stop offset="0.119" stop-color="#0046f8"/><stop offset="0.468" stop-color="#041be4"/><stop offset="0.537" stop-color="#041ae3"/><stop offset="0.718" stop-color="#0316d9"/><stop offset="1.000" stop-color="#0210ca"/></linearGradient><linearGradient id="b67" gradientUnits="userSpaceOnUse" x1="0" y1="38.0" x2="0" y2="187.0"><stop offset="0.000" stop-color="#fe7f00"/><stop offset="0.054" stop-color="#f75600"/><stop offset="0.064" stop-color="#ff8c00"/><stop offset="0.071" stop-color="#ebff14"/><stop offset="0.086" stop-color="#96ff64"/><stop offset="0.092" stop-color="#14ffe6"/><stop offset="0.125" stop-color="#00c8ff"/><stop offset="0.138" stop-color="#0078ff"/><stop offset="0.155" stop-color="#0046f8"/><stop offset="0.182" stop-color="#0333f0"/><stop offset="0.282" stop-color="#0335f0"/><stop offset="0.389" stop-color="#042aee"/><stop offset="0.537" stop-color="#0420eb"/><stop offset="0.718" stop-color="#041ae3"/><stop offset="1.000" stop-color="#0314d5"/></linearGradient><linearGradient id="b68" gradientUnits="userSpaceOnUse" x1="0" y1="38.0" x2="0" y2="187.0"><stop offset="0.000" stop-color="#fe8000"/><stop offset="0.039" stop-color="#f75600"/><stop offset="0.050" stop-color="#ff8c00"/><stop offset="0.056" stop-color="#ebff14"/><stop offset="0.081" stop-color="#96ff64"/><stop offset="0.088" stop-color="#14ffe6"/><stop offset="0.104" stop-color="#00c8ff"/><stop offset="0.117" stop-color="#0078ff"/><stop offset="0.134" stop-color="#0046f8"/><stop offset="0.241" stop-color="#042bee"/><stop offset="0.282" stop-color="#041de9"/><stop offset="0.389" stop-color="#0419e0"/><stop offset="0.537" stop-color="#0315d7"/><stop offset="0.718" stop-color="#0211cd"/><stop offset="1.000" stop-color="#010bbf"/></linearGradient><linearGradient id="b69" gradientUnits="userSpaceOnUse" x1="0" y1="38.0" x2="0" y2="187.0"><stop offset="0.000" stop-color="#fe8000"/><stop offset="0.055" stop-color="#f75600"/><stop offset="0.065" stop-color="#ff8c00"/><stop offset="0.072" stop-color="#ebff14"/><stop offset="0.088" stop-color="#96ff64"/><stop offset="0.095" stop-color="#14ffe6"/><stop offset="0.099" stop-color="#00c8ff"/><stop offset="0.112" stop-color="#0078ff"/><stop offset="0.129" stop-color="#0046f8"/><stop offset="0.371" stop-color="#041de9"/><stop offset="0.537" stop-color="#041dea"/><stop offset="0.718" stop-color="#0419e0"/><stop offset="1.000" stop-color="#0313d2"/></linearGradient><linearGradient id="b70" gradientUnits="userSpaceOnUse" x1="0" y1="38.0" x2="0" y2="187.0"><stop offset="0.000" stop-color="#fe8100"/><stop offset="0.039" stop-color="#f75700"/><stop offset="0.049" stop-color="#ff8c00"/><stop offset="0.055" stop-color="#ebff14"/><stop offset="0.080" stop-color="#96ff64"/><stop offset="0.086" stop-color="#14ffe6"/><stop offset="0.108" stop-color="#00c8ff"/><stop offset="0.121" stop-color="#0078ff"/><stop offset="0.138" stop-color="#0046f8"/><stop offset="0.205" stop-color="#032fef"/><stop offset="0.282" stop-color="#0330ef"/><stop offset="0.389" stop-color="#0426ed"/><stop offset="0.537" stop-color="#041dea"/><stop offset="0.718" stop-color="#0419e0"/><stop offset="1.000" stop-color="#0313d2"/></linearGradient><linearGradient id="b71" gradientUnits="userSpaceOnUse" x1="0" y1="38.0" x2="0" y2="187.0"><stop offset="0.000" stop-color="#ff8200"/><stop offset="0.041" stop-color="#f75700"/><stop offset="0.051" stop-color="#ff8c00"/><stop offset="0.057" stop-color="#ebff14"/><stop offset="0.082" stop-color="#96ff64"/><stop offset="0.088" stop-color="#14ffe6"/><stop offset="0.103" stop-color="#00c8ff"/><stop offset="0.116" stop-color="#0078ff"/><stop offset="0.133" stop-color="#0046f8"/><stop offset="0.482" stop-color="#0419e1"/><stop offset="0.537" stop-color="#0419e0"/><stop offset="0.718" stop-color="#0315d7"/><stop offset="1.000" stop-color="#020fc8"/></linearGradient><linearGradient id="b72" gradientUnits="userSpaceOnUse" x1="0" y1="38.0" x2="0" y2="187.0"><stop offset="0.000" stop-color="#fc7900"/><stop offset="0.044" stop-color="#f65300"/><stop offset="0.054" stop-color="#ff8c00"/><stop offset="0.061" stop-color="#ebff14"/><stop offset="0.082" stop-color="#96ff64"/><stop offset="0.089" stop-color="#14ffe6"/><stop offset="0.111" stop-color="#00c8ff"/><stop offset="0.125" stop-color="#0078ff"/><stop offset="0.141" stop-color="#0046f8"/><stop offset="0.182" stop-color="#0331ef"/><stop offset="0.282" stop-color="#041de9"/><stop offset="0.389" stop-color="#0419e0"/><stop offset="0.537" stop-color="#0316d9"/><stop offset="0.718" stop-color="#0312d1"/><stop offset="1.000" stop-color="#020cc3"/></linearGradient><linearGradient id="b73" gradientUnits="userSpaceOnUse" x1="0" y1="38.0" x2="0" y2="187.0"><stop offset="0.000" stop-color="#fa7000"/><stop offset="0.057" stop-color="#f54e00"/><stop offset="0.067" stop-color="#ff8c00"/><stop offset="0.074" stop-color="#ebff14"/><stop offset="0.104" stop-color="#96ff64"/><stop offset="0.111" stop-color="#14ffe6"/><stop offset="0.117" stop-color="#00c8ff"/><stop offset="0.130" stop-color="#0078ff"/><stop offset="0.147" stop-color="#0046f8"/><stop offset="0.174" stop-color="#0331ef"/><stop offset="0.282" stop-color="#0421eb"/><stop offset="0.389" stop-color="#041be5"/><stop offset="0.537" stop-color="#0419df"/><stop offset="0.718" stop-color="#0315d7"/><stop offset="1.000" stop-color="#020fc9"/></linearGradient><linearGradient id="b74" gradientUnits="userSpaceOnUse" x1="0" y1="38.0" x2="0" y2="187.0"><stop offset="0.000" stop-color="#f76700"/><stop offset="0.066" stop-color="#f34a00"/><stop offset="0.076" stop-color="#ff8c00"/><stop offset="0.082" stop-color="#ebff14"/><stop offset="0.106" stop-color="#96ff64"/><stop offset="0.113" stop-color="#14ffe6"/><stop offset="0.123" stop-color="#00c8ff"/><stop offset="0.136" stop-color="#0078ff"/><stop offset="0.153" stop-color="#0046f8"/><stop offset="0.260" stop-color="#0420eb"/><stop offset="0.282" stop-color="#0317db"/><stop offset="0.389" stop-color="#0313d3"/><stop offset="0.537" stop-color="#0211ce"/><stop offset="0.718" stop-color="#020ec6"/><stop offset="1.000" stop-color="#0108b9"/></linearGradient><linearGradient id="b75" gradientUnits="userSpaceOnUse" x1="0" y1="38.0" x2="0" y2="187.0"><stop offset="0.000" stop-color="#f55e00"/><stop offset="0.076" stop-color="#f24500"/><stop offset="0.086" stop-color="#ff8c00"/><stop offset="0.093" stop-color="#ebff14"/><stop offset="0.117" stop-color="#96ff64"/><stop offset="0.124" stop-color="#14ffe6"/><stop offset="0.158" stop-color="#00c8ff"/><stop offset="0.171" stop-color="#0078ff"/><stop offset="0.188" stop-color="#0046f8"/><stop offset="0.215" stop-color="#0426ed"/><stop offset="0.282" stop-color="#020ec6"/><stop offset="0.389" stop-color="#010bbe"/><stop offset="0.537" stop-color="#0109ba"/><stop offset="0.718" stop-color="#0106b4"/><stop offset="1.000" stop-color="#0000a6"/></linearGradient><linearGradient id="b76" gradientUnits="userSpaceOnUse" x1="0" y1="38.0" x2="0" y2="187.0"><stop offset="0.000" stop-color="#f25500"/><stop offset="0.071" stop-color="#f14100"/><stop offset="0.081" stop-color="#ff8c00"/><stop offset="0.088" stop-color="#ebff14"/><stop offset="0.107" stop-color="#96ff64"/><stop offset="0.114" stop-color="#14ffe6"/><stop offset="0.127" stop-color="#00c8ff"/><stop offset="0.140" stop-color="#0078ff"/><stop offset="0.157" stop-color="#0046f8"/><stop offset="0.506" stop-color="#0317db"/><stop offset="0.537" stop-color="#0312d0"/><stop offset="0.718" stop-color="#0210ca"/><stop offset="1.000" stop-color="#010abc"/></linearGradient><linearGradient id="b77" gradientUnits="userSpaceOnUse" x1="0" y1="38.0" x2="0" y2="187.0"><stop offset="0.000" stop-color="#f04c00"/><stop offset="0.062" stop-color="#f03c00"/><stop offset="0.072" stop-color="#ff8c00"/><stop offset="0.078" stop-color="#ebff14"/><stop offset="0.108" stop-color="#96ff64"/><stop offset="0.115" stop-color="#14ffe6"/><stop offset="0.136" stop-color="#00c8ff"/><stop offset="0.149" stop-color="#0078ff"/><stop offset="0.166" stop-color="#0046f8"/><stop offset="0.274" stop-color="#041be4"/><stop offset="0.389" stop-color="#041de9"/><stop offset="0.537" stop-color="#041ce6"/><stop offset="0.718" stop-color="#041ae1"/><stop offset="1.000" stop-color="#0314d4"/></linearGradient><linearGradient id="b78" gradientUnits="userSpaceOnUse" x1="0" y1="38.0" x2="0" y2="187.0"><stop offset="0.000" stop-color="#ed4300"/><stop offset="0.042" stop-color="#ee3800"/><stop offset="0.052" stop-color="#ff8c00"/><stop offset="0.059" stop-color="#ebff14"/><stop offset="0.078" stop-color="#96ff64"/><stop offset="0.085" stop-color="#14ffe6"/><stop offset="0.099" stop-color="#00c8ff"/><stop offset="0.112" stop-color="#0078ff"/><stop offset="0.129" stop-color="#0046f8"/><stop offset="0.156" stop-color="#0332f0"/><stop offset="0.188" stop-color="#0330ef"/><stop offset="0.282" stop-color="#041ce7"/><stop offset="0.389" stop-color="#0419e0"/><stop offset="0.537" stop-color="#0418df"/><stop offset="0.718" stop-color="#0317da"/><stop offset="1.000" stop-color="#0211cd"/></linearGradient><linearGradient id="b79" gradientUnits="userSpaceOnUse" x1="0" y1="38.0" x2="0" y2="187.0"><stop offset="0.000" stop-color="#eb3a00"/><stop offset="0.051" stop-color="#ed3300"/><stop offset="0.061" stop-color="#ff8c00"/><stop offset="0.068" stop-color="#ebff14"/><stop offset="0.091" stop-color="#96ff64"/><stop offset="0.097" stop-color="#14ffe6"/><stop offset="0.109" stop-color="#00c8ff"/><stop offset="0.122" stop-color="#0078ff"/><stop offset="0.139" stop-color="#0046f8"/><stop offset="0.300" stop-color="#0418de"/><stop offset="0.389" stop-color="#0418dd"/><stop offset="0.537" stop-color="#0418dd"/><stop offset="0.718" stop-color="#0316d9"/><stop offset="1.000" stop-color="#0210cc"/></linearGradient><linearGradient id="b80" gradientUnits="userSpaceOnUse" x1="0" y1="38.0" x2="0" y2="187.0"><stop offset="0.000" stop-color="#e83100"/><stop offset="0.037" stop-color="#ec2f00"/><stop offset="0.048" stop-color="#ff8c00"/><stop offset="0.054" stop-color="#ebff14"/><stop offset="0.083" stop-color="#96ff64"/><stop offset="0.090" stop-color="#14ffe6"/><stop offset="0.108" stop-color="#00c8ff"/><stop offset="0.121" stop-color="#0078ff"/><stop offset="0.138" stop-color="#0046f8"/><stop offset="0.380" stop-color="#0316d8"/><stop offset="0.537" stop-color="#0317db"/><stop offset="0.718" stop-color="#0315d8"/><stop offset="1.000" stop-color="#0210cb"/></linearGradient><linearGradient id="b81" gradientUnits="userSpaceOnUse" x1="0" y1="38.0" x2="0" y2="187.0"><stop offset="0.000" stop-color="#e62800"/><stop offset="0.032" stop-color="#eb2a00"/><stop offset="0.042" stop-color="#ff8c00"/><stop offset="0.049" stop-color="#ebff14"/><stop offset="0.072" stop-color="#96ff64"/><stop offset="0.079" stop-color="#14ffe6"/><stop offset="0.099" stop-color="#00c8ff"/><stop offset="0.112" stop-color="#0078ff"/><stop offset="0.129" stop-color="#0046f8"/><stop offset="0.156" stop-color="#0335f0"/><stop offset="0.188" stop-color="#0421eb"/><stop offset="0.282" stop-color="#0315d6"/><stop offset="0.389" stop-color="#0312cf"/><stop offset="0.537" stop-color="#0312cf"/><stop offset="0.718" stop-color="#0210cc"/><stop offset="1.000" stop-color="#010bbf"/></linearGradient><linearGradient id="b82" gradientUnits="userSpaceOnUse" x1="0" y1="38.0" x2="0" y2="187.0"><stop offset="0.000" stop-color="#e83200"/><stop offset="0.049" stop-color="#ec2f00"/><stop offset="0.059" stop-color="#ff8c00"/><stop offset="0.065" stop-color="#ebff14"/><stop offset="0.092" stop-color="#96ff64"/><stop offset="0.098" stop-color="#14ffe6"/><stop offset="0.116" stop-color="#00c8ff"/><stop offset="0.129" stop-color="#0078ff"/><stop offset="0.146" stop-color="#0046f8"/><stop offset="0.307" stop-color="#0317dc"/><stop offset="0.389" stop-color="#0316d9"/><stop offset="0.537" stop-color="#0316d9"/><stop offset="0.718" stop-color="#0315d6"/><stop offset="1.000" stop-color="#020fc9"/></linearGradient><linearGradient id="b83" gradientUnits="userSpaceOnUse" x1="0" y1="38.0" x2="0" y2="187.0"><stop offset="0.000" stop-color="#eb3c00"/><stop offset="0.041" stop-color="#ed3400"/><stop offset="0.051" stop-color="#ff8c00"/><stop offset="0.057" stop-color="#ebff14"/><stop offset="0.100" stop-color="#96ff64"/><stop offset="0.107" stop-color="#14ffe6"/><stop offset="0.132" stop-color="#00c8ff"/><stop offset="0.146" stop-color="#0078ff"/><stop offset="0.163" stop-color="#0046f8"/><stop offset="0.270" stop-color="#0419e1"/><stop offset="0.389" stop-color="#041be4"/><stop offset="0.537" stop-color="#041ae3"/><stop offset="0.718" stop-color="#0419e0"/><stop offset="1.000" stop-color="#0313d3"/></linearGradient><linearGradient id="b84" gradientUnits="userSpaceOnUse" x1="0" y1="38.0" x2="0" y2="187.0"><stop offset="0.000" stop-color="#ed4600"/><stop offset="0.025" stop-color="#ee3900"/><stop offset="0.035" stop-color="#ff8c00"/><stop offset="0.042" stop-color="#ebff14"/><stop offset="0.057" stop-color="#96ff64"/><stop offset="0.064" stop-color="#14ffe6"/><stop offset="0.094" stop-color="#00c8ff"/><stop offset="0.108" stop-color="#0078ff"/><stop offset="0.125" stop-color="#0046f8"/><stop offset="0.165" stop-color="#033af2"/><stop offset="0.188" stop-color="#0339f1"/><stop offset="0.282" stop-color="#041de8"/><stop offset="0.389" stop-color="#0419e1"/><stop offset="0.537" stop-color="#0419e0"/><stop offset="0.718" stop-color="#0317dc"/><stop offset="1.000" stop-color="#0211ce"/></linearGradient><linearGradient id="b85" gradientUnits="userSpaceOnUse" x1="0" y1="38.0" x2="0" y2="187.0"><stop offset="0.000" stop-color="#f05000"/><stop offset="0.040" stop-color="#f03e00"/><stop offset="0.050" stop-color="#ff8c00"/><stop offset="0.056" stop-color="#ebff14"/><stop offset="0.072" stop-color="#96ff64"/><stop offset="0.079" stop-color="#14ffe6"/><stop offset="0.102" stop-color="#00c8ff"/><stop offset="0.115" stop-color="#0078ff"/><stop offset="0.132" stop-color="#0046f8"/><stop offset="0.481" stop-color="#0316da"/><stop offset="0.537" stop-color="#041de9"/><stop offset="0.718" stop-color="#041be4"/><stop offset="1.000" stop-color="#0315d6"/></linearGradient><linearGradient id="b86" gradientUnits="userSpaceOnUse" x1="0" y1="38.0" x2="0" y2="187.0"><stop offset="0.000" stop-color="#f25a00"/><stop offset="0.034" stop-color="#f14300"/><stop offset="0.044" stop-color="#ff8c00"/><stop offset="0.051" stop-color="#ebff14"/><stop offset="0.068" stop-color="#96ff64"/><stop offset="0.075" stop-color="#14ffe6"/><stop offset="0.096" stop-color="#00c8ff"/><stop offset="0.110" stop-color="#0078ff"/><stop offset="0.126" stop-color="#0046f8"/><stop offset="0.167" stop-color="#023ff3"/><stop offset="0.188" stop-color="#0332f0"/><stop offset="0.282" stop-color="#041ae2"/><stop offset="0.389" stop-color="#0317da"/><stop offset="0.537" stop-color="#0315d7"/><stop offset="0.718" stop-color="#0313d1"/><stop offset="1.000" stop-color="#020dc4"/></linearGradient><linearGradient id="b87" gradientUnits="userSpaceOnUse" x1="0" y1="38.0" x2="0" y2="187.0"><stop offset="0.000" stop-color="#f56400"/><stop offset="0.057" stop-color="#f24800"/><stop offset="0.067" stop-color="#ff8c00"/><stop offset="0.074" stop-color="#ebff14"/><stop offset="0.093" stop-color="#96ff64"/><stop offset="0.099" stop-color="#14ffe6"/><stop offset="0.122" stop-color="#00c8ff"/><stop offset="0.136" stop-color="#0078ff"/><stop offset="0.153" stop-color="#0046f8"/><stop offset="0.502" stop-color="#0317dc"/><stop offset="0.537" stop-color="#0418de"/><stop offset="0.718" stop-color="#0315d7"/><stop offset="1.000" stop-color="#020fca"/></linearGradient><linearGradient id="b88" gradientUnits="userSpaceOnUse" x1="0" y1="38.0" x2="0" y2="187.0"><stop offset="0.000" stop-color="#f76e00"/><stop offset="0.039" stop-color="#f34d00"/><stop offset="0.049" stop-color="#ff8c00"/><stop offset="0.056" stop-color="#ebff14"/><stop offset="0.103" stop-color="#96ff64"/><stop offset="0.109" stop-color="#14ffe6"/><stop offset="0.132" stop-color="#00c8ff"/><stop offset="0.145" stop-color="#0078ff"/><stop offset="0.162" stop-color="#0046f8"/><stop offset="0.229" stop-color="#042aee"/><stop offset="0.282" stop-color="#041be4"/><stop offset="0.389" stop-color="#0317db"/><stop offset="0.537" stop-color="#0315d6"/><stop offset="0.718" stop-color="#0211ce"/><stop offset="1.000" stop-color="#020cc1"/></linearGradient><linearGradient id="b89" gradientUnits="userSpaceOnUse" x1="0" y1="38.0" x2="0" y2="187.0"><stop offset="0.000" stop-color="#fa7800"/><stop offset="0.040" stop-color="#f55200"/><stop offset="0.050" stop-color="#ff8c00"/><stop offset="0.057" stop-color="#ebff14"/><stop offset="0.077" stop-color="#96ff64"/><stop offset="0.083" stop-color="#14ffe6"/><stop offset="0.108" stop-color="#00c8ff"/><stop offset="0.122" stop-color="#0078ff"/><stop offset="0.138" stop-color="#0046f8"/><stop offset="0.165" stop-color="#0244f4"/><stop offset="0.188" stop-color="#0333f0"/><stop offset="0.282" stop-color="#041be5"/><stop offset="0.389" stop-color="#0317db"/><stop offset="0.537" stop-color="#0314d5"/><stop offset="0.718" stop-color="#0211cd"/><stop offset="1.000" stop-color="#010bbf"/></linearGradient><linearGradient id="b90" gradientUnits="userSpaceOnUse" x1="0" y1="38.0" x2="0" y2="187.0"><stop offset="0.000" stop-color="#fa7900"/><stop offset="0.071" stop-color="#f55300"/><stop offset="0.081" stop-color="#ff8c00"/><stop offset="0.088" stop-color="#ebff14"/><stop offset="0.102" stop-color="#96ff64"/><stop offset="0.109" stop-color="#14ffe6"/><stop offset="0.122" stop-color="#00c8ff"/><stop offset="0.136" stop-color="#0078ff"/><stop offset="0.152" stop-color="#0046f8"/><stop offset="0.179" stop-color="#0240f3"/><stop offset="0.282" stop-color="#0422ec"/><stop offset="0.389" stop-color="#041be5"/><stop offset="0.537" stop-color="#0418de"/><stop offset="0.718" stop-color="#0314d5"/><stop offset="1.000" stop-color="#020ec7"/></linearGradient><linearGradient id="b91" gradientUnits="userSpaceOnUse" x1="0" y1="38.0" x2="0" y2="187.0"><stop offset="0.000" stop-color="#fb7a00"/><stop offset="0.068" stop-color="#f55300"/><stop offset="0.078" stop-color="#ff8c00"/><stop offset="0.085" stop-color="#ebff14"/><stop offset="0.109" stop-color="#96ff64"/><stop offset="0.116" stop-color="#14ffe6"/><stop offset="0.153" stop-color="#00c8ff"/><stop offset="0.167" stop-color="#0078ff"/><stop offset="0.183" stop-color="#0046f8"/><stop offset="0.251" stop-color="#0429ed"/><stop offset="0.282" stop-color="#0427ed"/><stop offset="0.389" stop-color="#041de9"/><stop offset="0.537" stop-color="#041ae1"/><stop offset="0.718" stop-color="#0316d8"/><stop offset="1.000" stop-color="#0210ca"/></linearGradient><linearGradient id="b92" gradientUnits="userSpaceOnUse" x1="0" y1="38.0" x2="0" y2="187.0"><stop offset="0.000" stop-color="#fb7b00"/><stop offset="0.089" stop-color="#f55400"/><stop offset="0.099" stop-color="#ff8c00"/><stop offset="0.106" stop-color="#ebff14"/><stop offset="0.120" stop-color="#96ff64"/><stop offset="0.126" stop-color="#14ffe6"/><stop offset="0.155" stop-color="#00c8ff"/><stop offset="0.169" stop-color="#0078ff"/><stop offset="0.186" stop-color="#0046f8"/><stop offset="0.293" stop-color="#0424ec"/><stop offset="0.389" stop-color="#0428ed"/><stop offset="0.537" stop-color="#041eeb"/><stop offset="0.718" stop-color="#041ae2"/><stop offset="1.000" stop-color="#0314d3"/></linearGradient><linearGradient id="b93" gradientUnits="userSpaceOnUse" x1="0" y1="38.0" x2="0" y2="187.0"><stop offset="0.000" stop-color="#fc7c00"/><stop offset="0.090" stop-color="#f65400"/><stop offset="0.100" stop-color="#ff8c00"/><stop offset="0.107" stop-color="#ebff14"/><stop offset="0.122" stop-color="#96ff64"/><stop offset="0.129" stop-color="#14ffe6"/><stop offset="0.148" stop-color="#00c8ff"/><stop offset="0.161" stop-color="#0078ff"/><stop offset="0.178" stop-color="#0046f8"/><stop offset="0.339" stop-color="#0420eb"/><stop offset="0.389" stop-color="#042cee"/><stop offset="0.537" stop-color="#0421eb"/><stop offset="0.718" stop-color="#041be4"/><stop offset="1.000" stop-color="#0315d6"/></linearGradient><linearGradient id="b94" gradientUnits="userSpaceOnUse" x1="0" y1="38.0" x2="0" y2="187.0"><stop offset="0.000" stop-color="#fc7d00"/><stop offset="0.090" stop-color="#f65500"/><stop offset="0.100" stop-color="#ff8c00"/><stop offset="0.107" stop-color="#ebff14"/><stop offset="0.129" stop-color="#96ff64"/><stop offset="0.136" stop-color="#14ffe6"/><stop offset="0.170" stop-color="#00c8ff"/><stop offset="0.184" stop-color="#0078ff"/><stop offset="0.201" stop-color="#0046f8"/><stop offset="0.268" stop-color="#0429ed"/><stop offset="0.389" stop-color="#041ae3"/><stop offset="0.537" stop-color="#0316da"/><stop offset="0.718" stop-color="#0312d0"/><stop offset="1.000" stop-color="#020cc2"/></linearGradient><linearGradient id="b95" gradientUnits="userSpaceOnUse" x1="0" y1="38.0" x2="0" y2="187.0"><stop offset="0.000" stop-color="#fd7e00"/><stop offset="0.079" stop-color="#f65500"/><stop offset="0.089" stop-color="#ff8c00"/><stop offset="0.096" stop-color="#ebff14"/><stop offset="0.117" stop-color="#96ff64"/><stop offset="0.123" stop-color="#14ffe6"/><stop offset="0.133" stop-color="#00c8ff"/><stop offset="0.146" stop-color="#0078ff"/><stop offset="0.163" stop-color="#0046f8"/><stop offset="0.230" stop-color="#0331ef"/><stop offset="0.282" stop-color="#0336f1"/><stop offset="0.389" stop-color="#042bee"/><stop offset="0.537" stop-color="#0420eb"/><stop offset="0.718" stop-color="#041ae3"/><stop offset="1.000" stop-color="#0314d4"/></linearGradient><linearGradient id="b96" gradientUnits="userSpaceOnUse" x1="0" y1="38.0" x2="0" y2="187.0"><stop offset="0.000" stop-color="#fd7f00"/><stop offset="0.069" stop-color="#f65600"/><stop offset="0.079" stop-color="#ff8c00"/><stop offset="0.086" stop-color="#ebff14"/><stop offset="0.105" stop-color="#96ff64"/><stop offset="0.112" stop-color="#14ffe6"/><stop offset="0.118" stop-color="#00c8ff"/><stop offset="0.132" stop-color="#0078ff"/><stop offset="0.148" stop-color="#0046f8"/><stop offset="0.189" stop-color="#033df2"/><stop offset="0.282" stop-color="#041de9"/><stop offset="0.389" stop-color="#0418df"/><stop offset="0.537" stop-color="#0314d5"/><stop offset="0.718" stop-color="#0210cb"/><stop offset="1.000" stop-color="#010abc"/></linearGradient><linearGradient id="b97" gradientUnits="userSpaceOnUse" x1="0" y1="38.0" x2="0" y2="187.0"><stop offset="0.000" stop-color="#fe8000"/><stop offset="0.081" stop-color="#f75600"/><stop offset="0.091" stop-color="#ff8c00"/><stop offset="0.097" stop-color="#ebff14"/><stop offset="0.118" stop-color="#96ff64"/><stop offset="0.125" stop-color="#14ffe6"/><stop offset="0.129" stop-color="#00c8ff"/><stop offset="0.142" stop-color="#0078ff"/><stop offset="0.159" stop-color="#0046f8"/><stop offset="0.186" stop-color="#023ef3"/><stop offset="0.282" stop-color="#0422ec"/><stop offset="0.389" stop-color="#041be4"/><stop offset="0.537" stop-color="#0316da"/><stop offset="0.718" stop-color="#0312d0"/><stop offset="1.000" stop-color="#020cc1"/></linearGradient><linearGradient id="b98" gradientUnits="userSpaceOnUse" x1="0" y1="38.0" x2="0" y2="187.0"><stop offset="0.000" stop-color="#fe8100"/><stop offset="0.058" stop-color="#f75700"/><stop offset="0.068" stop-color="#ff8c00"/><stop offset="0.074" stop-color="#ebff14"/><stop offset="0.103" stop-color="#96ff64"/><stop offset="0.110" stop-color="#14ffe6"/><stop offset="0.126" stop-color="#00c8ff"/><stop offset="0.139" stop-color="#0078ff"/><stop offset="0.156" stop-color="#0046f8"/><stop offset="0.317" stop-color="#0425ec"/><stop offset="0.389" stop-color="#041eeb"/><stop offset="0.537" stop-color="#0419e1"/><stop offset="0.718" stop-color="#0315d7"/><stop offset="1.000" stop-color="#020fc8"/></linearGradient><linearGradient id="b99" gradientUnits="userSpaceOnUse" x1="0" y1="38.0" x2="0" y2="187.0"><stop offset="0.000" stop-color="#ff8200"/><stop offset="0.056" stop-color="#f75700"/><stop offset="0.066" stop-color="#ff8c00"/><stop offset="0.073" stop-color="#ebff14"/><stop offset="0.092" stop-color="#96ff64"/><stop offset="0.099" stop-color="#14ffe6"/><stop offset="0.116" stop-color="#00c8ff"/><stop offset="0.129" stop-color="#0078ff"/><stop offset="0.146" stop-color="#0046f8"/><stop offset="0.173" stop-color="#0242f4"/><stop offset="0.282" stop-color="#042aee"/><stop offset="0.389" stop-color="#041eeb"/><stop offset="0.537" stop-color="#0419e0"/><stop offset="0.718" stop-color="#0315d6"/><stop offset="1.000" stop-color="#020ec7"/></linearGradient><linearGradient id="b100" gradientUnits="userSpaceOnUse" x1="0" y1="38.0" x2="0" y2="187.0"><stop offset="0.000" stop-color="#fd7a00"/><stop offset="0.026" stop-color="#f65300"/><stop offset="0.036" stop-color="#ff8c00"/><stop offset="0.043" stop-color="#ebff14"/><stop offset="0.067" stop-color="#96ff64"/><stop offset="0.074" stop-color="#14ffe6"/><stop offset="0.088" stop-color="#00c8ff"/><stop offset="0.101" stop-color="#0078ff"/><stop offset="0.118" stop-color="#0046f8"/><stop offset="0.279" stop-color="#042aee"/><stop offset="0.389" stop-color="#0425ec"/><stop offset="0.537" stop-color="#041ce6"/><stop offset="0.718" stop-color="#0317dc"/><stop offset="1.000" stop-color="#0211ce"/></linearGradient><linearGradient id="b101" gradientUnits="userSpaceOnUse" x1="0" y1="38.0" x2="0" y2="187.0"><stop offset="0.000" stop-color="#fb7300"/><stop offset="0.030" stop-color="#f55000"/><stop offset="0.040" stop-color="#ff8c00"/><stop offset="0.047" stop-color="#ebff14"/><stop offset="0.063" stop-color="#96ff64"/><stop offset="0.069" stop-color="#14ffe6"/><stop offset="0.073" stop-color="#00c8ff"/><stop offset="0.086" stop-color="#0078ff"/><stop offset="0.103" stop-color="#0046f8"/><stop offset="0.344" stop-color="#0423ec"/><stop offset="0.389" stop-color="#0422ec"/><stop offset="0.537" stop-color="#041be4"/><stop offset="0.718" stop-color="#0316da"/><stop offset="1.000" stop-color="#0210cb"/></linearGradient><linearGradient id="b102" gradientUnits="userSpaceOnUse" x1="0" y1="38.0" x2="0" y2="187.0"><stop offset="0.000" stop-color="#f96c00"/><stop offset="0.028" stop-color="#f44c00"/><stop offset="0.038" stop-color="#ff8c00"/><stop offset="0.044" stop-color="#ebff14"/><stop offset="0.068" stop-color="#96ff64"/><stop offset="0.075" stop-color="#14ffe6"/><stop offset="0.078" stop-color="#00c8ff"/><stop offset="0.092" stop-color="#0078ff"/><stop offset="0.108" stop-color="#0046f8"/><stop offset="0.457" stop-color="#041be6"/><stop offset="0.537" stop-color="#0315d7"/><stop offset="0.718" stop-color="#0211cd"/><stop offset="1.000" stop-color="#010bbe"/></linearGradient><linearGradient id="b103" gradientUnits="userSpaceOnUse" x1="0" y1="38.0" x2="0" y2="187.0"><stop offset="0.000" stop-color="#f76500"/><stop offset="0.031" stop-color="#f34900"/><stop offset="0.041" stop-color="#ff8c00"/><stop offset="0.048" stop-color="#ebff14"/><stop offset="0.065" stop-color="#96ff64"/><stop offset="0.072" stop-color="#14ffe6"/><stop offset="0.101" stop-color="#00c8ff"/><stop offset="0.115" stop-color="#0078ff"/><stop offset="0.132" stop-color="#0046f8"/><stop offset="0.199" stop-color="#023ff3"/><stop offset="0.282" stop-color="#0331ef"/><stop offset="0.389" stop-color="#0425ec"/><stop offset="0.537" stop-color="#041be6"/><stop offset="0.718" stop-color="#0317db"/><stop offset="1.000" stop-color="#0211cc"/></linearGradient><linearGradient id="b104" gradientUnits="userSpaceOnUse" x1="0" y1="38.0" x2="0" y2="187.0"><stop offset="0.000" stop-color="#f65e00"/><stop offset="0.017" stop-color="#f34500"/><stop offset="0.027" stop-color="#ff8c00"/><stop offset="0.034" stop-color="#ebff14"/><stop offset="0.051" stop-color="#96ff64"/><stop offset="0.057" stop-color="#14ffe6"/><stop offset="0.096" stop-color="#00c8ff"/><stop offset="0.109" stop-color="#0078ff"/><stop offset="0.126" stop-color="#0046f8"/><stop offset="0.166" stop-color="#0249f5"/><stop offset="0.188" stop-color="#0245f4"/><stop offset="0.282" stop-color="#032fef"/><stop offset="0.389" stop-color="#0422ec"/><stop offset="0.537" stop-color="#041ae3"/><stop offset="0.718" stop-color="#0316d8"/><stop offset="1.000" stop-color="#020fca"/></linearGradient><linearGradient id="b105" gradientUnits="userSpaceOnUse" x1="0" y1="38.0" x2="0" y2="187.0"><stop offset="0.000" stop-color="#f45700"/><stop offset="0.047" stop-color="#f24200"/><stop offset="0.057" stop-color="#ff8c00"/><stop offset="0.064" stop-color="#ebff14"/><stop offset="0.085" stop-color="#96ff64"/><stop offset="0.092" stop-color="#14ffe6"/><stop offset="0.111" stop-color="#00c8ff"/><stop offset="0.124" stop-color="#0078ff"/><stop offset="0.141" stop-color="#0046f8"/><stop offset="0.249" stop-color="#0333f0"/><stop offset="0.282" stop-color="#0422ec"/><stop offset="0.389" stop-color="#041ae3"/><stop offset="0.537" stop-color="#0315d7"/><stop offset="0.718" stop-color="#0211cd"/><stop offset="1.000" stop-color="#010abe"/></linearGradient><linearGradient id="b106" gradientUnits="userSpaceOnUse" x1="0" y1="38.0" x2="0" y2="187.0"><stop offset="0.000" stop-color="#f25000"/><stop offset="0.058" stop-color="#f13e00"/><stop offset="0.068" stop-color="#ff8c00"/><stop offset="0.075" stop-color="#ebff14"/><stop offset="0.093" stop-color="#96ff64"/><stop offset="0.100" stop-color="#14ffe6"/><stop offset="0.114" stop-color="#00c8ff"/><stop offset="0.127" stop-color="#0078ff"/><stop offset="0.144" stop-color="#0046f8"/><stop offset="0.211" stop-color="#023ef3"/><stop offset="0.282" stop-color="#0429ed"/><stop offset="0.389" stop-color="#041de9"/><stop offset="0.537" stop-color="#0418dd"/><stop offset="0.718" stop-color="#0313d2"/><stop offset="1.000" stop-color="#020dc4"/></linearGradient><linearGradient id="b107" gradientUnits="userSpaceOnUse" x1="0" y1="38.0" x2="0" y2="187.0"><stop offset="0.000" stop-color="#f04800"/><stop offset="0.040" stop-color="#f03a00"/><stop offset="0.050" stop-color="#ff8c00"/><stop offset="0.057" stop-color="#ebff14"/><stop offset="0.071" stop-color="#96ff64"/><stop offset="0.077" stop-color="#14ffe6"/><stop offset="0.086" stop-color="#00c8ff"/><stop offset="0.100" stop-color="#0078ff"/><stop offset="0.116" stop-color="#0046f8"/><stop offset="0.465" stop-color="#041ce6"/><stop offset="0.537" stop-color="#0418df"/><stop offset="0.718" stop-color="#0314d4"/><stop offset="1.000" stop-color="#020ec5"/></linearGradient><linearGradient id="b108" gradientUnits="userSpaceOnUse" x1="0" y1="38.0" x2="0" y2="187.0"><stop offset="0.000" stop-color="#ee4100"/><stop offset="0.050" stop-color="#ef3700"/><stop offset="0.060" stop-color="#ff8c00"/><stop offset="0.067" stop-color="#ebff14"/><stop offset="0.082" stop-color="#96ff64"/><stop offset="0.089" stop-color="#14ffe6"/><stop offset="0.102" stop-color="#00c8ff"/><stop offset="0.116" stop-color="#0078ff"/><stop offset="0.132" stop-color="#0046f8"/><stop offset="0.240" stop-color="#0338f1"/><stop offset="0.282" stop-color="#0332f0"/><stop offset="0.389" stop-color="#0425ec"/><stop offset="0.537" stop-color="#041be4"/><stop offset="0.718" stop-color="#0316d9"/><stop offset="1.000" stop-color="#0210ca"/></linearGradient><linearGradient id="b109" gradientUnits="userSpaceOnUse" x1="0" y1="38.0" x2="0" y2="187.0"><stop offset="0.000" stop-color="#ed3a00"/><stop offset="0.063" stop-color="#ee3300"/><stop offset="0.073" stop-color="#ff8c00"/><stop offset="0.079" stop-color="#ebff14"/><stop offset="0.110" stop-color="#96ff64"/><stop offset="0.117" stop-color="#14ffe6"/><stop offset="0.148" stop-color="#00c8ff"/><stop offset="0.162" stop-color="#0078ff"/><stop offset="0.178" stop-color="#0046f8"/><stop offset="0.205" stop-color="#0243f4"/><stop offset="0.282" stop-color="#042aee"/><stop offset="0.389" stop-color="#041de9"/><stop offset="0.537" stop-color="#0317dc"/><stop offset="0.718" stop-color="#0312d1"/><stop offset="1.000" stop-color="#020cc2"/></linearGradient><linearGradient id="b110" gradientUnits="userSpaceOnUse" x1="0" y1="38.0" x2="0" y2="187.0"><stop offset="0.000" stop-color="#eb3300"/><stop offset="0.085" stop-color="#ed3000"/><stop offset="0.095" stop-color="#ff8c00"/><stop offset="0.101" stop-color="#ebff14"/><stop offset="0.116" stop-color="#96ff64"/><stop offset="0.123" stop-color="#14ffe6"/><stop offset="0.140" stop-color="#00c8ff"/><stop offset="0.154" stop-color="#0078ff"/><stop offset="0.170" stop-color="#0046f8"/><stop offset="0.278" stop-color="#0331ef"/><stop offset="0.389" stop-color="#0422ec"/><stop offset="0.537" stop-color="#0419e1"/><stop offset="0.718" stop-color="#0314d5"/><stop offset="1.000" stop-color="#020ec7"/></linearGradient><linearGradient id="b111" gradientUnits="userSpaceOnUse" x1="0" y1="38.0" x2="0" y2="187.0"><stop offset="0.000" stop-color="#e92c00"/><stop offset="0.071" stop-color="#ec2c00"/><stop offset="0.081" stop-color="#ff8c00"/><stop offset="0.087" stop-color="#ebff14"/><stop offset="0.103" stop-color="#96ff64"/><stop offset="0.110" stop-color="#14ffe6"/><stop offset="0.113" stop-color="#00c8ff"/><stop offset="0.127" stop-color="#0078ff"/><stop offset="0.144" stop-color="#0046f8"/><stop offset="0.211" stop-color="#0243f4"/><stop offset="0.282" stop-color="#032fef"/><stop offset="0.389" stop-color="#0421eb"/><stop offset="0.537" stop-color="#0419df"/><stop offset="0.718" stop-color="#0314d4"/><stop offset="1.000" stop-color="#020ec5"/></linearGradient><linearGradient id="b112" gradientUnits="userSpaceOnUse" x1="0" y1="38.0" x2="0" y2="187.0"><stop offset="0.000" stop-color="#e72500"/><stop offset="0.087" stop-color="#eb2900"/><stop offset="0.097" stop-color="#ff8c00"/><stop offset="0.103" stop-color="#ebff14"/><stop offset="0.122" stop-color="#96ff64"/><stop offset="0.128" stop-color="#14ffe6"/><stop offset="0.132" stop-color="#00c8ff"/><stop offset="0.145" stop-color="#0078ff"/><stop offset="0.162" stop-color="#0046f8"/><stop offset="0.323" stop-color="#042dee"/><stop offset="0.389" stop-color="#0338f1"/><stop offset="0.537" stop-color="#0427ed"/><stop offset="0.718" stop-color="#041ce7"/><stop offset="1.000" stop-color="#0316d9"/></linearGradient><linearGradient id="b113" gradientUnits="userSpaceOnUse" x1="0" y1="38.0" x2="0" y2="187.0"><stop offset="0.000" stop-color="#e61e00"/><stop offset="0.094" stop-color="#eb2500"/><stop offset="0.104" stop-color="#ff8c00"/><stop offset="0.110" stop-color="#ebff14"/><stop offset="0.133" stop-color="#96ff64"/><stop offset="0.140" stop-color="#14ffe6"/><stop offset="0.154" stop-color="#00c8ff"/><stop offset="0.168" stop-color="#0078ff"/><stop offset="0.185" stop-color="#0046f8"/><stop offset="0.225" stop-color="#023ff3"/><stop offset="0.282" stop-color="#0338f1"/><stop offset="0.389" stop-color="#042aee"/><stop offset="0.537" stop-color="#041ce6"/><stop offset="0.718" stop-color="#0317da"/><stop offset="1.000" stop-color="#0210cc"/></linearGradient><linearGradient id="b114" gradientUnits="userSpaceOnUse" x1="0" y1="38.0" x2="0" y2="187.0"><stop offset="0.000" stop-color="#e51d00"/><stop offset="0.075" stop-color="#ea2500"/><stop offset="0.085" stop-color="#ff8c00"/><stop offset="0.092" stop-color="#ebff14"/><stop offset="0.118" stop-color="#96ff64"/><stop offset="0.125" stop-color="#14ffe6"/><stop offset="0.128" stop-color="#00c8ff"/><stop offset="0.141" stop-color="#0078ff"/><stop offset="0.158" stop-color="#0046f8"/><stop offset="0.507" stop-color="#041be4"/><stop offset="0.537" stop-color="#0427ed"/><stop offset="0.718" stop-color="#041ce7"/><stop offset="1.000" stop-color="#0316d8"/></linearGradient><linearGradient id="b115" gradientUnits="userSpaceOnUse" x1="0" y1="38.0" x2="0" y2="187.0"><stop offset="0.000" stop-color="#e41c00"/><stop offset="0.074" stop-color="#ea2400"/><stop offset="0.085" stop-color="#ff8c00"/><stop offset="0.091" stop-color="#ebff14"/><stop offset="0.113" stop-color="#96ff64"/><stop offset="0.119" stop-color="#14ffe6"/><stop offset="0.129" stop-color="#00c8ff"/><stop offset="0.143" stop-color="#0078ff"/><stop offset="0.160" stop-color="#0046f8"/><stop offset="0.200" stop-color="#0247f5"/><stop offset="0.282" stop-color="#023ef3"/><stop offset="0.389" stop-color="#032fef"/><stop offset="0.537" stop-color="#041dea"/><stop offset="0.718" stop-color="#0418de"/><stop offset="1.000" stop-color="#0312cf"/></linearGradient><linearGradient id="b116" gradientUnits="userSpaceOnUse" x1="0" y1="38.0" x2="0" y2="187.0"><stop offset="0.000" stop-color="#e41c00"/><stop offset="0.122" stop-color="#ea2400"/><stop offset="0.132" stop-color="#ff8c00"/><stop offset="0.139" stop-color="#ebff14"/><stop offset="0.158" stop-color="#96ff64"/><stop offset="0.165" stop-color="#14ffe6"/><stop offset="0.175" stop-color="#00c8ff"/><stop offset="0.189" stop-color="#0078ff"/><stop offset="0.206" stop-color="#0046f8"/><stop offset="0.367" stop-color="#042bee"/><stop offset="0.389" stop-color="#033bf2"/><stop offset="0.537" stop-color="#0427ed"/><stop offset="0.718" stop-color="#041ce7"/><stop offset="1.000" stop-color="#0316d8"/></linearGradient><linearGradient id="b117" gradientUnits="userSpaceOnUse" x1="0" y1="38.0" x2="0" y2="187.0"><stop offset="0.000" stop-color="#e31b00"/><stop offset="0.117" stop-color="#e92400"/><stop offset="0.127" stop-color="#ff8c00"/><stop offset="0.134" stop-color="#ebff14"/><stop offset="0.148" stop-color="#96ff64"/><stop offset="0.154" stop-color="#14ffe6"/><stop offset="0.184" stop-color="#00c8ff"/><stop offset="0.198" stop-color="#0078ff"/><stop offset="0.215" stop-color="#0046f8"/><stop offset="0.456" stop-color="#041eeb"/><stop offset="0.537" stop-color="#033cf2"/><stop offset="0.718" stop-color="#032eef"/><stop offset="1.000" stop-color="#041eeb"/></linearGradient><linearGradient id="b118" gradientUnits="userSpaceOnUse" x1="0" y1="38.0" x2="0" y2="187.0"><stop offset="0.000" stop-color="#e31b00"/><stop offset="0.075" stop-color="#e92400"/><stop offset="0.085" stop-color="#ff8c00"/><stop offset="0.091" stop-color="#ebff14"/><stop offset="0.108" stop-color="#96ff64"/><stop offset="0.115" stop-color="#14ffe6"/><stop offset="0.140" stop-color="#00c8ff"/><stop offset="0.153" stop-color="#0078ff"/><stop offset="0.170" stop-color="#0046f8"/><stop offset="0.197" stop-color="#0247f5"/><stop offset="0.282" stop-color="#0247f5"/><stop offset="0.389" stop-color="#0338f1"/><stop offset="0.537" stop-color="#0423ec"/><stop offset="0.718" stop-color="#041ae3"/><stop offset="1.000" stop-color="#0314d5"/></linearGradient><linearGradient id="b119" gradientUnits="userSpaceOnUse" x1="0" y1="38.0" x2="0" y2="187.0"><stop offset="0.000" stop-color="#e21a00"/><stop offset="0.059" stop-color="#e92300"/><stop offset="0.070" stop-color="#ff8c00"/><stop offset="0.076" stop-color="#ebff14"/><stop offset="0.091" stop-color="#96ff64"/><stop offset="0.098" stop-color="#14ffe6"/><stop offset="0.127" stop-color="#00c8ff"/><stop offset="0.141" stop-color="#0078ff"/><stop offset="0.157" stop-color="#0046f8"/><stop offset="0.318" stop-color="#0334f0"/><stop offset="0.389" stop-color="#0333f0"/><stop offset="0.537" stop-color="#041eeb"/><stop offset="0.718" stop-color="#0418de"/><stop offset="1.000" stop-color="#0312d0"/></linearGradient><linearGradient id="b120" gradientUnits="userSpaceOnUse" x1="0" y1="38.0" x2="0" y2="187.0"><stop offset="0.000" stop-color="#e21a00"/><stop offset="0.106" stop-color="#e92300"/><stop offset="0.116" stop-color="#ff8c00"/><stop offset="0.123" stop-color="#ebff14"/><stop offset="0.146" stop-color="#96ff64"/><stop offset="0.152" stop-color="#14ffe6"/><stop offset="0.174" stop-color="#00c8ff"/><stop offset="0.187" stop-color="#0078ff"/><stop offset="0.204" stop-color="#0046f8"/><stop offset="0.553" stop-color="#041ae1"/><stop offset="0.718" stop-color="#0312d0"/><stop offset="1.000" stop-color="#020cc1"/></linearGradient><linearGradient id="b121" gradientUnits="userSpaceOnUse" x1="0" y1="38.0" x2="0" y2="187.0"><stop offset="0.000" stop-color="#e11900"/><stop offset="0.109" stop-color="#e82300"/><stop offset="0.119" stop-color="#ff8c00"/><stop offset="0.125" stop-color="#ebff14"/><stop offset="0.140" stop-color="#96ff64"/><stop offset="0.147" stop-color="#14ffe6"/><stop offset="0.166" stop-color="#00c8ff"/><stop offset="0.180" stop-color="#0078ff"/><stop offset="0.196" stop-color="#0046f8"/><stop offset="0.304" stop-color="#0338f1"/><stop offset="0.389" stop-color="#041feb"/><stop offset="0.537" stop-color="#0315d8"/><stop offset="0.718" stop-color="#0210cb"/><stop offset="1.000" stop-color="#010abc"/></linearGradient><linearGradient id="b122" gradientUnits="userSpaceOnUse" x1="0" y1="38.0" x2="0" y2="187.0"><stop offset="0.000" stop-color="#e11900"/><stop offset="0.130" stop-color="#e82300"/><stop offset="0.140" stop-color="#ff8c00"/><stop offset="0.146" stop-color="#ebff14"/><stop offset="0.160" stop-color="#96ff64"/><stop offset="0.167" stop-color="#14ffe6"/><stop offset="0.183" stop-color="#00c8ff"/><stop offset="0.196" stop-color="#0078ff"/><stop offset="0.213" stop-color="#0046f8"/><stop offset="0.280" stop-color="#033bf2"/><stop offset="0.389" stop-color="#041eeb"/><stop offset="0.537" stop-color="#0315d7"/><stop offset="0.718" stop-color="#0210ca"/><stop offset="1.000" stop-color="#0109bc"/></linearGradient><linearGradient id="b123" gradientUnits="userSpaceOnUse" x1="0" y1="38.0" x2="0" y2="187.0"><stop offset="0.000" stop-color="#e01800"/><stop offset="0.133" stop-color="#e82200"/><stop offset="0.143" stop-color="#ff8c00"/><stop offset="0.150" stop-color="#ebff14"/><stop offset="0.168" stop-color="#96ff64"/><stop offset="0.174" stop-color="#14ffe6"/><stop offset="0.212" stop-color="#00c8ff"/><stop offset="0.226" stop-color="#0078ff"/><stop offset="0.242" stop-color="#0046f8"/><stop offset="0.350" stop-color="#0334f0"/><stop offset="0.389" stop-color="#0427ed"/><stop offset="0.537" stop-color="#0418de"/><stop offset="0.718" stop-color="#0313d1"/><stop offset="1.000" stop-color="#020cc3"/></linearGradient><linearGradient id="b124" gradientUnits="userSpaceOnUse" x1="0" y1="38.0" x2="0" y2="187.0"><stop offset="0.000" stop-color="#df1700"/><stop offset="0.140" stop-color="#e72200"/><stop offset="0.150" stop-color="#ff8c00"/><stop offset="0.157" stop-color="#ebff14"/><stop offset="0.174" stop-color="#96ff64"/><stop offset="0.181" stop-color="#14ffe6"/><stop offset="0.184" stop-color="#00c8ff"/><stop offset="0.197" stop-color="#0078ff"/><stop offset="0.214" stop-color="#0046f8"/><stop offset="0.241" stop-color="#0240f3"/><stop offset="0.282" stop-color="#0245f4"/><stop offset="0.389" stop-color="#0337f1"/><stop offset="0.537" stop-color="#041eeb"/><stop offset="0.718" stop-color="#0418de"/><stop offset="1.000" stop-color="#0312d0"/></linearGradient><linearGradient id="b125" gradientUnits="userSpaceOnUse" x1="0" y1="38.0" x2="0" y2="187.0"><stop offset="0.000" stop-color="#df1700"/><stop offset="0.101" stop-color="#e72200"/><stop offset="0.111" stop-color="#ff8c00"/><stop offset="0.118" stop-color="#ebff14"/><stop offset="0.136" stop-color="#96ff64"/><stop offset="0.143" stop-color="#14ffe6"/><stop offset="0.146" stop-color="#00c8ff"/><stop offset="0.160" stop-color="#0078ff"/><stop offset="0.176" stop-color="#0046f8"/><stop offset="0.243" stop-color="#0240f3"/><stop offset="0.282" stop-color="#024df6"/><stop offset="0.389" stop-color="#023ef3"/><stop offset="0.537" stop-color="#0425ec"/><stop offset="0.718" stop-color="#041be4"/><stop offset="1.000" stop-color="#0315d6"/></linearGradient><linearGradient id="b126" gradientUnits="userSpaceOnUse" x1="0" y1="38.0" x2="0" y2="187.0"><stop offset="0.000" stop-color="#de1600"/><stop offset="0.100" stop-color="#e72100"/><stop offset="0.110" stop-color="#ff8c00"/><stop offset="0.116" stop-color="#ebff14"/><stop offset="0.135" stop-color="#96ff64"/><stop offset="0.142" stop-color="#14ffe6"/><stop offset="0.175" stop-color="#00c8ff"/><stop offset="0.189" stop-color="#0078ff"/><stop offset="0.205" stop-color="#0046f8"/><stop offset="0.246" stop-color="#023ff3"/><stop offset="0.282" stop-color="#023ef3"/><stop offset="0.389" stop-color="#0330ef"/><stop offset="0.537" stop-color="#041be5"/><stop offset="0.718" stop-color="#0315d8"/><stop offset="1.000" stop-color="#020fc9"/></linearGradient><linearGradient id="b127" gradientUnits="userSpaceOnUse" x1="0" y1="38.0" x2="0" y2="187.0"><stop offset="0.000" stop-color="#de1600"/><stop offset="0.130" stop-color="#e72100"/><stop offset="0.140" stop-color="#ff8c00"/><stop offset="0.147" stop-color="#ebff14"/><stop offset="0.163" stop-color="#96ff64"/><stop offset="0.170" stop-color="#14ffe6"/><stop offset="0.191" stop-color="#00c8ff"/><stop offset="0.204" stop-color="#0078ff"/><stop offset="0.221" stop-color="#0046f8"/><stop offset="0.382" stop-color="#032fef"/><stop offset="0.537" stop-color="#041be5"/><stop offset="0.718" stop-color="#0316d8"/><stop offset="1.000" stop-color="#0210ca"/></linearGradient><linearGradient id="b128" gradientUnits="userSpaceOnUse" x1="0" y1="38.0" x2="0" y2="187.0"><stop offset="0.000" stop-color="#dd1500"/><stop offset="0.098" stop-color="#e62100"/><stop offset="0.108" stop-color="#ff8c00"/><stop offset="0.114" stop-color="#ebff14"/><stop offset="0.140" stop-color="#96ff64"/><stop offset="0.146" stop-color="#14ffe6"/><stop offset="0.150" stop-color="#00c8ff"/><stop offset="0.163" stop-color="#0078ff"/><stop offset="0.180" stop-color="#0046f8"/><stop offset="0.247" stop-color="#023ff3"/><stop offset="0.282" stop-color="#042bee"/><stop offset="0.389" stop-color="#041de9"/><stop offset="0.537" stop-color="#0313d3"/><stop offset="0.718" stop-color="#020ec6"/><stop offset="1.000" stop-color="#0108b8"/></linearGradient><linearGradient id="b129" gradientUnits="userSpaceOnUse" x1="0" y1="38.0" x2="0" y2="187.0"><stop offset="0.000" stop-color="#dd1500"/><stop offset="0.088" stop-color="#e62100"/><stop offset="0.098" stop-color="#ff8c00"/><stop offset="0.104" stop-color="#ebff14"/><stop offset="0.119" stop-color="#96ff64"/><stop offset="0.125" stop-color="#14ffe6"/><stop offset="0.155" stop-color="#00c8ff"/><stop offset="0.168" stop-color="#0078ff"/><stop offset="0.185" stop-color="#0046f8"/><stop offset="0.292" stop-color="#033bf2"/><stop offset="0.389" stop-color="#042bee"/><stop offset="0.537" stop-color="#0419e1"/><stop offset="0.718" stop-color="#0314d5"/><stop offset="1.000" stop-color="#020ec6"/></linearGradient><linearGradient id="b130" gradientUnits="userSpaceOnUse" x1="0" y1="38.0" x2="0" y2="187.0"><stop offset="0.000" stop-color="#dc1400"/><stop offset="0.088" stop-color="#e62000"/><stop offset="0.098" stop-color="#ff8c00"/><stop offset="0.105" stop-color="#ebff14"/><stop offset="0.131" stop-color="#96ff64"/><stop offset="0.137" stop-color="#14ffe6"/><stop offset="0.165" stop-color="#00c8ff"/><stop offset="0.179" stop-color="#0078ff"/><stop offset="0.196" stop-color="#0046f8"/><stop offset="0.303" stop-color="#0339f1"/><stop offset="0.389" stop-color="#0427ed"/><stop offset="0.537" stop-color="#0418de"/><stop offset="0.718" stop-color="#0313d3"/><stop offset="1.000" stop-color="#020dc4"/></linearGradient><linearGradient id="b131" gradientUnits="userSpaceOnUse" x1="0" y1="38.0" x2="0" y2="187.0"><stop offset="0.000" stop-color="#dc1400"/><stop offset="0.070" stop-color="#e62000"/><stop offset="0.080" stop-color="#ff8c00"/><stop offset="0.086" stop-color="#ebff14"/><stop offset="0.107" stop-color="#96ff64"/><stop offset="0.114" stop-color="#14ffe6"/><stop offset="0.131" stop-color="#00c8ff"/><stop offset="0.144" stop-color="#0078ff"/><stop offset="0.161" stop-color="#0046f8"/><stop offset="0.322" stop-color="#0336f1"/><stop offset="0.389" stop-color="#041ce6"/><stop offset="0.537" stop-color="#0313d2"/><stop offset="0.718" stop-color="#020fc8"/><stop offset="1.000" stop-color="#0109ba"/></linearGradient><linearGradient id="b132" gradientUnits="userSpaceOnUse" x1="0" y1="38.0" x2="0" y2="187.0"><stop offset="0.000" stop-color="#de1900"/><stop offset="0.077" stop-color="#e72300"/><stop offset="0.087" stop-color="#ff8c00"/><stop offset="0.094" stop-color="#ebff14"/><stop offset="0.118" stop-color="#96ff64"/><stop offset="0.125" stop-color="#14ffe6"/><stop offset="0.151" stop-color="#00c8ff"/><stop offset="0.164" stop-color="#0078ff"/><stop offset="0.181" stop-color="#0046f8"/><stop offset="0.288" stop-color="#0338f1"/><stop offset="0.389" stop-color="#041ae3"/><stop offset="0.537" stop-color="#0312cf"/><stop offset="0.718" stop-color="#020ec6"/><stop offset="1.000" stop-color="#0108b8"/></linearGradient><linearGradient id="b133" gradientUnits="userSpaceOnUse" x1="0" y1="38.0" x2="0" y2="187.0"><stop offset="0.000" stop-color="#e01e00"/><stop offset="0.072" stop-color="#e82500"/><stop offset="0.082" stop-color="#ff8c00"/><stop offset="0.089" stop-color="#ebff14"/><stop offset="0.113" stop-color="#96ff64"/><stop offset="0.119" stop-color="#14ffe6"/><stop offset="0.144" stop-color="#00c8ff"/><stop offset="0.157" stop-color="#0078ff"/><stop offset="0.174" stop-color="#0046f8"/><stop offset="0.241" stop-color="#033cf2"/><stop offset="0.282" stop-color="#0336f1"/><stop offset="0.389" stop-color="#0423ec"/><stop offset="0.537" stop-color="#0317dc"/><stop offset="0.718" stop-color="#0314d4"/><stop offset="1.000" stop-color="#020ec6"/></linearGradient><linearGradient id="b134" gradientUnits="userSpaceOnUse" x1="0" y1="38.0" x2="0" y2="187.0"><stop offset="0.000" stop-color="#e22300"/><stop offset="0.100" stop-color="#e92800"/><stop offset="0.110" stop-color="#ff8c00"/><stop offset="0.116" stop-color="#ebff14"/><stop offset="0.135" stop-color="#96ff64"/><stop offset="0.142" stop-color="#14ffe6"/><stop offset="0.145" stop-color="#00c8ff"/><stop offset="0.159" stop-color="#0078ff"/><stop offset="0.175" stop-color="#0046f8"/><stop offset="0.283" stop-color="#0336f1"/><stop offset="0.389" stop-color="#0422ec"/><stop offset="0.537" stop-color="#0418dd"/><stop offset="0.718" stop-color="#0315d6"/><stop offset="1.000" stop-color="#020fc8"/></linearGradient><linearGradient id="b135" gradientUnits="userSpaceOnUse" x1="0" y1="38.0" x2="0" y2="187.0"><stop offset="0.000" stop-color="#e42800"/><stop offset="0.080" stop-color="#ea2a00"/><stop offset="0.090" stop-color="#ff8c00"/><stop offset="0.096" stop-color="#ebff14"/><stop offset="0.111" stop-color="#96ff64"/><stop offset="0.117" stop-color="#14ffe6"/><stop offset="0.151" stop-color="#00c8ff"/><stop offset="0.164" stop-color="#0078ff"/><stop offset="0.181" stop-color="#0046f8"/><stop offset="0.423" stop-color="#041be5"/><stop offset="0.537" stop-color="#041ae3"/><stop offset="0.718" stop-color="#0418dd"/><stop offset="1.000" stop-color="#0312cf"/></linearGradient><linearGradient id="b136" gradientUnits="userSpaceOnUse" x1="0" y1="38.0" x2="0" y2="187.0"><stop offset="0.000" stop-color="#e62d00"/><stop offset="0.080" stop-color="#eb2d00"/><stop offset="0.090" stop-color="#ff8c00"/><stop offset="0.097" stop-color="#ebff14"/><stop offset="0.128" stop-color="#96ff64"/><stop offset="0.135" stop-color="#14ffe6"/><stop offset="0.138" stop-color="#00c8ff"/><stop offset="0.151" stop-color="#0078ff"/><stop offset="0.168" stop-color="#0046f8"/><stop offset="0.235" stop-color="#0339f1"/><stop offset="0.282" stop-color="#0332f0"/><stop offset="0.389" stop-color="#041de9"/><stop offset="0.537" stop-color="#0316d9"/><stop offset="0.718" stop-color="#0314d4"/><stop offset="1.000" stop-color="#020ec6"/></linearGradient><linearGradient id="b137" gradientUnits="userSpaceOnUse" x1="0" y1="38.0" x2="0" y2="187.0"><stop offset="0.000" stop-color="#e83200"/><stop offset="0.065" stop-color="#ec2f00"/><stop offset="0.076" stop-color="#ff8c00"/><stop offset="0.082" stop-color="#ebff14"/><stop offset="0.123" stop-color="#96ff64"/><stop offset="0.129" stop-color="#14ffe6"/><stop offset="0.151" stop-color="#00c8ff"/><stop offset="0.164" stop-color="#0078ff"/><stop offset="0.181" stop-color="#0046f8"/><stop offset="0.208" stop-color="#033bf2"/><stop offset="0.282" stop-color="#0333f0"/><stop offset="0.389" stop-color="#041dea"/><stop offset="0.537" stop-color="#0317da"/><stop offset="0.718" stop-color="#0315d6"/><stop offset="1.000" stop-color="#020fc9"/></linearGradient><linearGradient id="b138" gradientUnits="userSpaceOnUse" x1="0" y1="38.0" x2="0" y2="187.0"><stop offset="0.000" stop-color="#ea3700"/><stop offset="0.080" stop-color="#ed3200"/><stop offset="0.090" stop-color="#ff8c00"/><stop offset="0.096" stop-color="#ebff14"/><stop offset="0.115" stop-color="#96ff64"/><stop offset="0.122" stop-color="#14ffe6"/><stop offset="0.147" stop-color="#00c8ff"/><stop offset="0.160" stop-color="#0078ff"/><stop offset="0.177" stop-color="#0046f8"/><stop offset="0.418" stop-color="#041ae2"/><stop offset="0.537" stop-color="#0315d7"/><stop offset="0.718" stop-color="#0313d3"/><stop offset="1.000" stop-color="#020ec5"/></linearGradient><linearGradient id="b139" gradientUnits="userSpaceOnUse" x1="0" y1="38.0" x2="0" y2="187.0"><stop offset="0.000" stop-color="#ec3c00"/><stop offset="0.109" stop-color="#ee3400"/><stop offset="0.119" stop-color="#ff8c00"/><stop offset="0.125" stop-color="#ebff14"/><stop offset="0.145" stop-color="#96ff64"/><stop offset="0.151" stop-color="#14ffe6"/><stop offset="0.155" stop-color="#00c8ff"/><stop offset="0.168" stop-color="#0078ff"/><stop offset="0.185" stop-color="#0046f8"/><stop offset="0.225" stop-color="#0338f1"/><stop offset="0.282" stop-color="#041de9"/><stop offset="0.389" stop-color="#0314d5"/><stop offset="0.537" stop-color="#020ec7"/><stop offset="0.718" stop-color="#020dc3"/><stop offset="1.000" stop-color="#0107b5"/></linearGradient><linearGradient id="b140" gradientUnits="userSpaceOnUse" x1="0" y1="38.0" x2="0" y2="187.0"><stop offset="0.000" stop-color="#ee4100"/><stop offset="0.122" stop-color="#ef3700"/><stop offset="0.132" stop-color="#ff8c00"/><stop offset="0.139" stop-color="#ebff14"/><stop offset="0.169" stop-color="#96ff64"/><stop offset="0.176" stop-color="#14ffe6"/><stop offset="0.209" stop-color="#00c8ff"/><stop offset="0.223" stop-color="#0078ff"/><stop offset="0.240" stop-color="#0046f8"/><stop offset="0.481" stop-color="#0317dc"/><stop offset="0.537" stop-color="#0211ce"/><stop offset="0.718" stop-color="#0210ca"/><stop offset="1.000" stop-color="#010abc"/></linearGradient><linearGradient id="b141" gradientUnits="userSpaceOnUse" x1="0" y1="38.0" x2="0" y2="187.0"><stop offset="0.000" stop-color="#f04600"/><stop offset="0.117" stop-color="#f03900"/><stop offset="0.127" stop-color="#ff8c00"/><stop offset="0.134" stop-color="#ebff14"/><stop offset="0.153" stop-color="#96ff64"/><stop offset="0.160" stop-color="#14ffe6"/><stop offset="0.177" stop-color="#00c8ff"/><stop offset="0.191" stop-color="#0078ff"/><stop offset="0.208" stop-color="#0046f8"/><stop offset="0.369" stop-color="#0420eb"/><stop offset="0.389" stop-color="#041ae2"/><stop offset="0.537" stop-color="#0313d3"/><stop offset="0.718" stop-color="#0211ce"/><stop offset="1.000" stop-color="#010bc0"/></linearGradient><linearGradient id="b142" gradientUnits="userSpaceOnUse" x1="0" y1="38.0" x2="0" y2="187.0"><stop offset="0.000" stop-color="#f14900"/><stop offset="0.097" stop-color="#f03b00"/><stop offset="0.107" stop-color="#ff8c00"/><stop offset="0.114" stop-color="#ebff14"/><stop offset="0.134" stop-color="#96ff64"/><stop offset="0.140" stop-color="#14ffe6"/><stop offset="0.144" stop-color="#00c8ff"/><stop offset="0.157" stop-color="#0078ff"/><stop offset="0.174" stop-color="#0046f8"/><stop offset="0.416" stop-color="#041be5"/><stop offset="0.537" stop-color="#0312d0"/><stop offset="0.718" stop-color="#0210ca"/><stop offset="1.000" stop-color="#010abc"/></linearGradient><linearGradient id="b143" gradientUnits="userSpaceOnUse" x1="0" y1="38.0" x2="0" y2="187.0"><stop offset="0.000" stop-color="#f24c00"/><stop offset="0.096" stop-color="#f13c00"/><stop offset="0.106" stop-color="#ff8c00"/><stop offset="0.112" stop-color="#ebff14"/><stop offset="0.133" stop-color="#96ff64"/><stop offset="0.140" stop-color="#14ffe6"/><stop offset="0.161" stop-color="#00c8ff"/><stop offset="0.174" stop-color="#0078ff"/><stop offset="0.191" stop-color="#0046f8"/><stop offset="0.352" stop-color="#0425ec"/><stop offset="0.389" stop-color="#0422ec"/><stop offset="0.537" stop-color="#0419e0"/><stop offset="0.718" stop-color="#0316d9"/><stop offset="1.000" stop-color="#0210cb"/></linearGradient><linearGradient id="b144" gradientUnits="userSpaceOnUse" x1="0" y1="38.0" x2="0" y2="187.0"><stop offset="0.000" stop-color="#f34f00"/><stop offset="0.093" stop-color="#f13e00"/><stop offset="0.103" stop-color="#ff8c00"/><stop offset="0.110" stop-color="#ebff14"/><stop offset="0.123" stop-color="#96ff64"/><stop offset="0.130" stop-color="#14ffe6"/><stop offset="0.133" stop-color="#00c8ff"/><stop offset="0.147" stop-color="#0078ff"/><stop offset="0.163" stop-color="#0046f8"/><stop offset="0.204" stop-color="#0339f1"/><stop offset="0.282" stop-color="#014ff7"/><stop offset="0.389" stop-color="#023ef3"/><stop offset="0.537" stop-color="#042cee"/><stop offset="0.718" stop-color="#0423ec"/><stop offset="1.000" stop-color="#041ae2"/></linearGradient><linearGradient id="b145" gradientUnits="userSpaceOnUse" x1="0" y1="38.0" x2="0" y2="187.0"><stop offset="0.000" stop-color="#f45200"/><stop offset="0.099" stop-color="#f23f00"/><stop offset="0.109" stop-color="#ff8c00"/><stop offset="0.116" stop-color="#ebff14"/><stop offset="0.133" stop-color="#96ff64"/><stop offset="0.140" stop-color="#14ffe6"/><stop offset="0.166" stop-color="#00c8ff"/><stop offset="0.179" stop-color="#0078ff"/><stop offset="0.196" stop-color="#0046f8"/><stop offset="0.304" stop-color="#032fef"/><stop offset="0.389" stop-color="#0243f4"/><stop offset="0.537" stop-color="#0331ef"/><stop offset="0.718" stop-color="#0427ed"/><stop offset="1.000" stop-color="#041be5"/></linearGradient><linearGradient id="b146" gradientUnits="userSpaceOnUse" x1="0" y1="38.0" x2="0" y2="187.0"><stop offset="0.000" stop-color="#f55500"/><stop offset="0.098" stop-color="#f24100"/><stop offset="0.108" stop-color="#ff8c00"/><stop offset="0.115" stop-color="#ebff14"/><stop offset="0.160" stop-color="#96ff64"/><stop offset="0.167" stop-color="#14ffe6"/><stop offset="0.170" stop-color="#00c8ff"/><stop offset="0.183" stop-color="#0078ff"/><stop offset="0.200" stop-color="#0046f8"/><stop offset="0.267" stop-color="#0333f0"/><stop offset="0.389" stop-color="#0333f0"/><stop offset="0.537" stop-color="#0422ec"/><stop offset="0.718" stop-color="#041be5"/><stop offset="1.000" stop-color="#0315d7"/></linearGradient><linearGradient id="b147" gradientUnits="userSpaceOnUse" x1="0" y1="38.0" x2="0" y2="187.0"><stop offset="0.000" stop-color="#f65800"/><stop offset="0.096" stop-color="#f34200"/><stop offset="0.106" stop-color="#ff8c00"/><stop offset="0.113" stop-color="#ebff14"/><stop offset="0.127" stop-color="#96ff64"/><stop offset="0.133" stop-color="#14ffe6"/><stop offset="0.165" stop-color="#00c8ff"/><stop offset="0.178" stop-color="#0078ff"/><stop offset="0.195" stop-color="#0046f8"/><stop offset="0.235" stop-color="#0336f1"/><stop offset="0.282" stop-color="#042bee"/><stop offset="0.389" stop-color="#041de9"/><stop offset="0.537" stop-color="#0317da"/><stop offset="0.718" stop-color="#0312d0"/><stop offset="1.000" stop-color="#020cc2"/></linearGradient><linearGradient id="b148" gradientUnits="userSpaceOnUse" x1="0" y1="38.0" x2="0" y2="187.0"><stop offset="0.000" stop-color="#f75b00"/><stop offset="0.099" stop-color="#f34400"/><stop offset="0.109" stop-color="#ff8c00"/><stop offset="0.116" stop-color="#ebff14"/><stop offset="0.134" stop-color="#96ff64"/><stop offset="0.141" stop-color="#14ffe6"/><stop offset="0.157" stop-color="#00c8ff"/><stop offset="0.170" stop-color="#0078ff"/><stop offset="0.187" stop-color="#0046f8"/><stop offset="0.214" stop-color="#0337f1"/><stop offset="0.282" stop-color="#042bee"/><stop offset="0.389" stop-color="#041eeb"/><stop offset="0.537" stop-color="#0317dc"/><stop offset="0.718" stop-color="#0313d1"/><stop offset="1.000" stop-color="#020cc3"/></linearGradient><linearGradient id="b149" gradientUnits="userSpaceOnUse" x1="0" y1="38.0" x2="0" y2="187.0"><stop offset="0.000" stop-color="#f85e00"/><stop offset="0.106" stop-color="#f44500"/><stop offset="0.116" stop-color="#ff8c00"/><stop offset="0.122" stop-color="#ebff14"/><stop offset="0.145" stop-color="#96ff64"/><stop offset="0.151" stop-color="#14ffe6"/><stop offset="0.170" stop-color="#00c8ff"/><stop offset="0.183" stop-color="#0078ff"/><stop offset="0.200" stop-color="#0046f8"/><stop offset="0.227" stop-color="#0336f1"/><stop offset="0.282" stop-color="#0425ec"/><stop offset="0.389" stop-color="#041ce6"/><stop offset="0.537" stop-color="#0315d7"/><stop offset="0.718" stop-color="#0211cc"/><stop offset="1.000" stop-color="#010abe"/></linearGradient><linearGradient id="b150" gradientUnits="userSpaceOnUse" x1="0" y1="38.0" x2="0" y2="187.0"><stop offset="0.000" stop-color="#f96100"/><stop offset="0.070" stop-color="#f44700"/><stop offset="0.080" stop-color="#ff8c00"/><stop offset="0.086" stop-color="#ebff14"/><stop offset="0.104" stop-color="#96ff64"/><stop offset="0.111" stop-color="#14ffe6"/><stop offset="0.139" stop-color="#00c8ff"/><stop offset="0.152" stop-color="#0078ff"/><stop offset="0.169" stop-color="#0046f8"/><stop offset="0.276" stop-color="#0330ef"/><stop offset="0.389" stop-color="#0420eb"/><stop offset="0.537" stop-color="#0418de"/><stop offset="0.718" stop-color="#0313d3"/><stop offset="1.000" stop-color="#020dc4"/></linearGradient><linearGradient id="b151" gradientUnits="userSpaceOnUse" x1="0" y1="38.0" x2="0" y2="187.0"><stop offset="0.000" stop-color="#fa6400"/><stop offset="0.090" stop-color="#f54800"/><stop offset="0.100" stop-color="#ff8c00"/><stop offset="0.107" stop-color="#ebff14"/><stop offset="0.125" stop-color="#96ff64"/><stop offset="0.132" stop-color="#14ffe6"/><stop offset="0.148" stop-color="#00c8ff"/><stop offset="0.162" stop-color="#0078ff"/><stop offset="0.178" stop-color="#0046f8"/><stop offset="0.205" stop-color="#0336f1"/><stop offset="0.282" stop-color="#033df2"/><stop offset="0.389" stop-color="#0331ef"/><stop offset="0.537" stop-color="#0420eb"/><stop offset="0.718" stop-color="#041ae2"/><stop offset="1.000" stop-color="#0314d4"/></linearGradient><linearGradient id="b152" gradientUnits="userSpaceOnUse" x1="0" y1="38.0" x2="0" y2="187.0"><stop offset="0.000" stop-color="#fa6600"/><stop offset="0.073" stop-color="#f54900"/><stop offset="0.083" stop-color="#ff8c00"/><stop offset="0.090" stop-color="#ebff14"/><stop offset="0.106" stop-color="#96ff64"/><stop offset="0.113" stop-color="#14ffe6"/><stop offset="0.116" stop-color="#00c8ff"/><stop offset="0.129" stop-color="#0078ff"/><stop offset="0.146" stop-color="#0046f8"/><stop offset="0.495" stop-color="#041be4"/><stop offset="0.537" stop-color="#041ce6"/><stop offset="0.718" stop-color="#0317db"/><stop offset="1.000" stop-color="#0211cd"/></linearGradient><linearGradient id="b153" gradientUnits="userSpaceOnUse" x1="0" y1="38.0" x2="0" y2="187.0"><stop offset="0.000" stop-color="#fa6900"/><stop offset="0.062" stop-color="#f54b00"/><stop offset="0.073" stop-color="#ff8c00"/><stop offset="0.079" stop-color="#ebff14"/><stop offset="0.100" stop-color="#96ff64"/><stop offset="0.107" stop-color="#14ffe6"/><stop offset="0.122" stop-color="#00c8ff"/><stop offset="0.135" stop-color="#0078ff"/><stop offset="0.152" stop-color="#0046f8"/><stop offset="0.219" stop-color="#0334f0"/><stop offset="0.282" stop-color="#041eeb"/><stop offset="0.389" stop-color="#0419e1"/><stop offset="0.537" stop-color="#0314d4"/><stop offset="0.718" stop-color="#020fc8"/><stop offset="1.000" stop-color="#0109ba"/></linearGradient><linearGradient id="b154" gradientUnits="userSpaceOnUse" x1="0" y1="38.0" x2="0" y2="187.0"><stop offset="0.000" stop-color="#fb6c00"/><stop offset="0.076" stop-color="#f54c00"/><stop offset="0.086" stop-color="#ff8c00"/><stop offset="0.092" stop-color="#ebff14"/><stop offset="0.117" stop-color="#96ff64"/><stop offset="0.124" stop-color="#14ffe6"/><stop offset="0.165" stop-color="#00c8ff"/><stop offset="0.178" stop-color="#0078ff"/><stop offset="0.195" stop-color="#0046f8"/><stop offset="0.544" stop-color="#0419e0"/><stop offset="0.718" stop-color="#0418df"/><stop offset="1.000" stop-color="#0312d0"/></linearGradient><linearGradient id="b155" gradientUnits="userSpaceOnUse" x1="0" y1="38.0" x2="0" y2="187.0"><stop offset="0.000" stop-color="#fb6e00"/><stop offset="0.064" stop-color="#f54d00"/><stop offset="0.074" stop-color="#ff8c00"/><stop offset="0.081" stop-color="#ebff14"/><stop offset="0.095" stop-color="#96ff64"/><stop offset="0.101" stop-color="#14ffe6"/><stop offset="0.128" stop-color="#00c8ff"/><stop offset="0.142" stop-color="#0078ff"/><stop offset="0.159" stop-color="#0046f8"/><stop offset="0.320" stop-color="#0429ed"/><stop offset="0.389" stop-color="#0426ed"/><stop offset="0.537" stop-color="#041ce6"/><stop offset="0.718" stop-color="#0317db"/><stop offset="1.000" stop-color="#0211cc"/></linearGradient><linearGradient id="b156" gradientUnits="userSpaceOnUse" x1="0" y1="38.0" x2="0" y2="187.0"><stop offset="0.000" stop-color="#fc7100"/><stop offset="0.077" stop-color="#f64f00"/><stop offset="0.087" stop-color="#ff8c00"/><stop offset="0.094" stop-color="#ebff14"/><stop offset="0.113" stop-color="#96ff64"/><stop offset="0.119" stop-color="#14ffe6"/><stop offset="0.133" stop-color="#00c8ff"/><stop offset="0.146" stop-color="#0078ff"/><stop offset="0.163" stop-color="#0046f8"/><stop offset="0.230" stop-color="#0331ef"/><stop offset="0.282" stop-color="#0240f3"/><stop offset="0.389" stop-color="#0335f0"/><stop offset="0.537" stop-color="#0427ed"/><stop offset="0.718" stop-color="#041ce8"/><stop offset="1.000" stop-color="#0316da"/></linearGradient><linearGradient id="b157" gradientUnits="userSpaceOnUse" x1="0" y1="38.0" x2="0" y2="187.0"><stop offset="0.000" stop-color="#fc7400"/><stop offset="0.080" stop-color="#f65000"/><stop offset="0.090" stop-color="#ff8c00"/><stop offset="0.097" stop-color="#ebff14"/><stop offset="0.116" stop-color="#96ff64"/><stop offset="0.122" stop-color="#14ffe6"/><stop offset="0.134" stop-color="#00c8ff"/><stop offset="0.147" stop-color="#0078ff"/><stop offset="0.164" stop-color="#0046f8"/><stop offset="0.231" stop-color="#0331ef"/><stop offset="0.282" stop-color="#042aee"/><stop offset="0.389" stop-color="#041feb"/><stop offset="0.537" stop-color="#0419e0"/><stop offset="0.718" stop-color="#0314d5"/><stop offset="1.000" stop-color="#020ec7"/></linearGradient><linearGradient id="b158" gradientUnits="userSpaceOnUse" x1="0" y1="38.0" x2="0" y2="187.0"><stop offset="0.000" stop-color="#fd7700"/><stop offset="0.101" stop-color="#f65200"/><stop offset="0.111" stop-color="#ff8c00"/><stop offset="0.118" stop-color="#ebff14"/><stop offset="0.145" stop-color="#96ff64"/><stop offset="0.151" stop-color="#14ffe6"/><stop offset="0.155" stop-color="#00c8ff"/><stop offset="0.168" stop-color="#0078ff"/><stop offset="0.185" stop-color="#0046f8"/><stop offset="0.534" stop-color="#0419e1"/><stop offset="0.718" stop-color="#0426ed"/><stop offset="1.000" stop-color="#041ae3"/></linearGradient><linearGradient id="b159" gradientUnits="userSpaceOnUse" x1="0" y1="38.0" x2="0" y2="187.0"><stop offset="0.000" stop-color="#fd7900"/><stop offset="0.090" stop-color="#f65300"/><stop offset="0.100" stop-color="#ff8c00"/><stop offset="0.107" stop-color="#ebff14"/><stop offset="0.130" stop-color="#96ff64"/><stop offset="0.137" stop-color="#14ffe6"/><stop offset="0.160" stop-color="#00c8ff"/><stop offset="0.173" stop-color="#0078ff"/><stop offset="0.190" stop-color="#0046f8"/><stop offset="0.297" stop-color="#0429ed"/><stop offset="0.389" stop-color="#041feb"/><stop offset="0.537" stop-color="#0419e1"/><stop offset="0.718" stop-color="#0315d6"/><stop offset="1.000" stop-color="#020fc8"/></linearGradient><linearGradient id="b160" gradientUnits="userSpaceOnUse" x1="0" y1="38.0" x2="0" y2="187.0"><stop offset="0.000" stop-color="#fe7c00"/><stop offset="0.065" stop-color="#f75400"/><stop offset="0.076" stop-color="#ff8c00"/><stop offset="0.082" stop-color="#ebff14"/><stop offset="0.099" stop-color="#96ff64"/><stop offset="0.106" stop-color="#14ffe6"/><stop offset="0.137" stop-color="#00c8ff"/><stop offset="0.151" stop-color="#0078ff"/><stop offset="0.168" stop-color="#0046f8"/><stop offset="0.409" stop-color="#041de9"/><stop offset="0.537" stop-color="#041ae2"/><stop offset="0.718" stop-color="#0315d7"/><stop offset="1.000" stop-color="#020fc9"/></linearGradient><linearGradient id="b161" gradientUnits="userSpaceOnUse" x1="0" y1="38.0" x2="0" y2="187.0"><stop offset="0.000" stop-color="#fe7f00"/><stop offset="0.046" stop-color="#f75600"/><stop offset="0.056" stop-color="#ff8c00"/><stop offset="0.062" stop-color="#ebff14"/><stop offset="0.083" stop-color="#96ff64"/><stop offset="0.090" stop-color="#14ffe6"/><stop offset="0.101" stop-color="#00c8ff"/><stop offset="0.114" stop-color="#0078ff"/><stop offset="0.131" stop-color="#0046f8"/><stop offset="0.198" stop-color="#0333f0"/><stop offset="0.282" stop-color="#0335f0"/><stop offset="0.389" stop-color="#042aee"/><stop offset="0.537" stop-color="#041dea"/><stop offset="0.718" stop-color="#0419e0"/><stop offset="1.000" stop-color="#0313d2"/></linearGradient><linearGradient id="b162" gradientUnits="userSpaceOnUse" x1="0" y1="38.0" x2="0" y2="187.0"><stop offset="0.000" stop-color="#ffc814"/><stop offset="0.036" stop-color="#c8ff3c"/><stop offset="0.056" stop-color="#28fadc"/><stop offset="0.093" stop-color="#00beff"/><stop offset="0.103" stop-color="#0078ff"/><stop offset="0.119" stop-color="#0046f8"/><stop offset="0.187" stop-color="#0335f0"/><stop offset="0.282" stop-color="#0317dc"/><stop offset="0.389" stop-color="#0313d3"/><stop offset="0.537" stop-color="#020fc8"/><stop offset="0.718" stop-color="#010abe"/><stop offset="1.000" stop-color="#0004af"/></linearGradient><linearGradient id="b163" gradientUnits="userSpaceOnUse" x1="0" y1="38.0" x2="0" y2="187.0"><stop offset="0.000" stop-color="#f7d320"/><stop offset="0.039" stop-color="#c8ff3c"/><stop offset="0.059" stop-color="#28fadc"/><stop offset="0.086" stop-color="#00beff"/><stop offset="0.096" stop-color="#0078ff"/><stop offset="0.113" stop-color="#0046f8"/><stop offset="0.354" stop-color="#0421eb"/><stop offset="0.389" stop-color="#0314d5"/><stop offset="0.537" stop-color="#0210cb"/><stop offset="0.718" stop-color="#020cc1"/><stop offset="1.000" stop-color="#0005b2"/></linearGradient><linearGradient id="b164" gradientUnits="userSpaceOnUse" x1="0" y1="38.0" x2="0" y2="187.0"><stop offset="0.000" stop-color="#efde2c"/><stop offset="0.025" stop-color="#c8ff3c"/><stop offset="0.045" stop-color="#28fadc"/><stop offset="0.088" stop-color="#00beff"/><stop offset="0.098" stop-color="#0078ff"/><stop offset="0.115" stop-color="#0046f8"/><stop offset="0.182" stop-color="#0335f0"/><stop offset="0.282" stop-color="#0315d7"/><stop offset="0.389" stop-color="#0211ce"/><stop offset="0.537" stop-color="#020dc4"/><stop offset="0.718" stop-color="#0108b9"/><stop offset="1.000" stop-color="#0002ab"/></linearGradient><linearGradient id="b165" gradientUnits="userSpaceOnUse" x1="0" y1="38.0" x2="0" y2="187.0"><stop offset="0.000" stop-color="#e7e938"/><stop offset="0.024" stop-color="#c8ff3c"/><stop offset="0.044" stop-color="#28fadc"/><stop offset="0.070" stop-color="#00beff"/><stop offset="0.080" stop-color="#0078ff"/><stop offset="0.097" stop-color="#0046f8"/><stop offset="0.164" stop-color="#0338f1"/><stop offset="0.188" stop-color="#033af2"/><stop offset="0.282" stop-color="#032eef"/><stop offset="0.389" stop-color="#0423ec"/><stop offset="0.537" stop-color="#041be5"/><stop offset="0.718" stop-color="#0317db"/><stop offset="1.000" stop-color="#0211cd"/></linearGradient><linearGradient id="b166" gradientUnits="userSpaceOnUse" x1="0" y1="38.0" x2="0" y2="187.0"><stop offset="0.000" stop-color="#dff444"/><stop offset="0.008" stop-color="#c8ff3c"/><stop offset="0.028" stop-color="#28fadc"/><stop offset="0.080" stop-color="#00beff"/><stop offset="0.090" stop-color="#0078ff"/><stop offset="0.107" stop-color="#0046f8"/><stop offset="0.456" stop-color="#041be5"/><stop offset="0.537" stop-color="#041eeb"/><stop offset="0.718" stop-color="#0419e0"/><stop offset="1.000" stop-color="#0313d2"/></linearGradient><linearGradient id="b167" gradientUnits="userSpaceOnUse" x1="0" y1="38.0" x2="0" y2="187.0"><stop offset="0.000" stop-color="#3cebff"/><stop offset="0.049" stop-color="#00a0ff"/><stop offset="0.204" stop-color="#003cfa"/><stop offset="0.282" stop-color="#0422ec"/><stop offset="0.389" stop-color="#041be4"/><stop offset="0.537" stop-color="#0317db"/><stop offset="0.718" stop-color="#0312d0"/><stop offset="1.000" stop-color="#020cc2"/></linearGradient><linearGradient id="b168" gradientUnits="userSpaceOnUse" x1="0" y1="38.0" x2="0" y2="187.0"><stop offset="0.000" stop-color="#32d9ff"/><stop offset="0.070" stop-color="#0096ff"/><stop offset="0.184" stop-color="#003cfa"/><stop offset="0.282" stop-color="#0418dd"/><stop offset="0.389" stop-color="#0314d3"/><stop offset="0.537" stop-color="#020fc9"/><stop offset="0.718" stop-color="#010bbf"/><stop offset="1.000" stop-color="#0005b1"/></linearGradient><linearGradient id="b169" gradientUnits="userSpaceOnUse" x1="0" y1="38.0" x2="0" y2="187.0"><stop offset="0.000" stop-color="#28c7ff"/><stop offset="0.035" stop-color="#008cff"/><stop offset="0.243" stop-color="#003cfa"/><stop offset="0.282" stop-color="#0314d4"/><stop offset="0.389" stop-color="#0210cb"/><stop offset="0.537" stop-color="#020cc1"/><stop offset="0.718" stop-color="#0107b7"/><stop offset="1.000" stop-color="#0001a8"/></linearGradient><linearGradient id="b170" gradientUnits="userSpaceOnUse" x1="0" y1="38.0" x2="0" y2="187.0"><stop offset="0.000" stop-color="#1eb5ff"/><stop offset="0.068" stop-color="#0082ff"/><stop offset="0.182" stop-color="#003cfa"/><stop offset="0.282" stop-color="#041be6"/><stop offset="0.389" stop-color="#0317dc"/><stop offset="0.537" stop-color="#0313d2"/><stop offset="0.718" stop-color="#020fc8"/><stop offset="1.000" stop-color="#0109ba"/></linearGradient><linearGradient id="b171" gradientUnits="userSpaceOnUse" x1="0" y1="38.0" x2="0" y2="187.0"><stop offset="0.000" stop-color="#14a3ff"/><stop offset="0.041" stop-color="#0078ff"/><stop offset="0.196" stop-color="#003cfa"/><stop offset="0.282" stop-color="#041ae3"/><stop offset="0.389" stop-color="#0316da"/><stop offset="0.537" stop-color="#0312d0"/><stop offset="0.718" stop-color="#020ec6"/><stop offset="1.000" stop-color="#0108b7"/></linearGradient><linearGradient id="b172" gradientUnits="userSpaceOnUse" x1="0" y1="38.0" x2="0" y2="187.0"><stop offset="0.000" stop-color="#22abff"/><stop offset="0.113" stop-color="#006fff"/><stop offset="0.273" stop-color="#0037f8"/><stop offset="0.389" stop-color="#041be6"/><stop offset="0.537" stop-color="#0317dc"/><stop offset="0.718" stop-color="#0313d2"/><stop offset="1.000" stop-color="#020dc4"/></linearGradient><linearGradient id="b173" gradientUnits="userSpaceOnUse" x1="0" y1="38.0" x2="0" y2="187.0"><stop offset="0.000" stop-color="#1b89ff"/><stop offset="0.101" stop-color="#0059ff"/><stop offset="0.248" stop-color="#0037f8"/><stop offset="0.282" stop-color="#041eeb"/><stop offset="0.389" stop-color="#041ae2"/><stop offset="0.537" stop-color="#0316d8"/><stop offset="0.718" stop-color="#0211ce"/><stop offset="1.000" stop-color="#010bbf"/></linearGradient><linearGradient id="b174" gradientUnits="userSpaceOnUse" x1="0" y1="38.0" x2="0" y2="187.0"><stop offset="0.000" stop-color="#21a5ff"/><stop offset="0.076" stop-color="#006bff"/><stop offset="0.243" stop-color="#0037f8"/><stop offset="0.282" stop-color="#0317dc"/><stop offset="0.389" stop-color="#0313d2"/><stop offset="0.537" stop-color="#020fc9"/><stop offset="0.718" stop-color="#010bbf"/><stop offset="1.000" stop-color="#0004b0"/></linearGradient><linearGradient id="b175" gradientUnits="userSpaceOnUse" x1="0" y1="38.0" x2="0" y2="187.0"><stop offset="0.000" stop-color="#22aaff"/><stop offset="0.101" stop-color="#006fff"/><stop offset="0.348" stop-color="#0037f8"/><stop offset="0.389" stop-color="#0426ed"/><stop offset="0.537" stop-color="#041de9"/><stop offset="0.718" stop-color="#0419df"/><stop offset="1.000" stop-color="#0312d0"/></linearGradient><linearGradient id="b176" gradientUnits="userSpaceOnUse" x1="0" y1="38.0" x2="0" y2="187.0"><stop offset="0.000" stop-color="#1775ff"/><stop offset="0.103" stop-color="#004cff"/><stop offset="0.363" stop-color="#0037f8"/><stop offset="0.389" stop-color="#0428ed"/><stop offset="0.537" stop-color="#041dea"/><stop offset="0.718" stop-color="#0419e0"/><stop offset="1.000" stop-color="#0313d2"/></linearGradient><linearGradient id="b177" gradientUnits="userSpaceOnUse" x1="0" y1="38.0" x2="0" y2="187.0"><stop offset="0.000" stop-color="#1e9aff"/><stop offset="0.120" stop-color="#0064ff"/><stop offset="0.270" stop-color="#0037f8"/><stop offset="0.389" stop-color="#041ce6"/><stop offset="0.537" stop-color="#0418dd"/><stop offset="0.718" stop-color="#0313d3"/><stop offset="1.000" stop-color="#020dc5"/></linearGradient><linearGradient id="b178" gradientUnits="userSpaceOnUse" x1="0" y1="38.0" x2="0" y2="187.0"><stop offset="0.000" stop-color="#1671ff"/><stop offset="0.073" stop-color="#0049ff"/><stop offset="0.243" stop-color="#0037f8"/><stop offset="0.282" stop-color="#0421eb"/><stop offset="0.389" stop-color="#041be4"/><stop offset="0.537" stop-color="#0317db"/><stop offset="0.718" stop-color="#0312d1"/><stop offset="1.000" stop-color="#020cc2"/></linearGradient><linearGradient id="b179" gradientUnits="userSpaceOnUse" x1="0" y1="38.0" x2="0" y2="187.0"><stop offset="0.000" stop-color="#1b87ff"/><stop offset="0.107" stop-color="#0058ff"/><stop offset="0.342" stop-color="#0037f8"/><stop offset="0.389" stop-color="#042aee"/><stop offset="0.537" stop-color="#0420eb"/><stop offset="0.718" stop-color="#041ae2"/><stop offset="1.000" stop-color="#0314d4"/></linearGradient><linearGradient id="b180" gradientUnits="userSpaceOnUse" x1="0" y1="38.0" x2="0" y2="187.0"><stop offset="0.000" stop-color="#1c8dff"/><stop offset="0.059" stop-color="#005cff"/><stop offset="0.267" stop-color="#0037f8"/><stop offset="0.389" stop-color="#032eef"/><stop offset="0.537" stop-color="#0423ec"/><stop offset="0.718" stop-color="#041be5"/><stop offset="1.000" stop-color="#0315d7"/></linearGradient><linearGradient id="b181" gradientUnits="userSpaceOnUse" x1="0" y1="38.0" x2="0" y2="187.0"><stop offset="0.000" stop-color="#1c8dff"/><stop offset="0.084" stop-color="#005bff"/><stop offset="0.243" stop-color="#0037f8"/><stop offset="0.282" stop-color="#0420eb"/><stop offset="0.389" stop-color="#041ae3"/><stop offset="0.537" stop-color="#0316da"/><stop offset="0.718" stop-color="#0312cf"/><stop offset="1.000" stop-color="#020cc1"/></linearGradient><linearGradient id="b182" gradientUnits="userSpaceOnUse" x1="0" y1="38.0" x2="0" y2="187.0"><stop offset="0.000" stop-color="#166eff"/><stop offset="0.092" stop-color="#0047ff"/><stop offset="0.262" stop-color="#0037f8"/><stop offset="0.389" stop-color="#042bee"/><stop offset="0.537" stop-color="#0421eb"/><stop offset="0.718" stop-color="#041ae3"/><stop offset="1.000" stop-color="#0314d5"/></linearGradient><linearGradient id="b183" gradientUnits="userSpaceOnUse" x1="0" y1="38.0" x2="0" y2="187.0"><stop offset="0.000" stop-color="#1b87ff"/><stop offset="0.101" stop-color="#0058ff"/><stop offset="0.256" stop-color="#0037f8"/><stop offset="0.282" stop-color="#0427ed"/><stop offset="0.389" stop-color="#041de9"/><stop offset="0.537" stop-color="#0419e0"/><stop offset="0.718" stop-color="#0315d6"/><stop offset="1.000" stop-color="#020ec7"/></linearGradient><linearGradient id="b184" gradientUnits="userSpaceOnUse" x1="0" y1="38.0" x2="0" y2="187.0"><stop offset="0.000" stop-color="#1f9dff"/><stop offset="0.105" stop-color="#0066ff"/><stop offset="0.247" stop-color="#0037f8"/><stop offset="0.282" stop-color="#032eef"/><stop offset="0.389" stop-color="#0423ec"/><stop offset="0.537" stop-color="#041ce6"/><stop offset="0.718" stop-color="#0317dc"/><stop offset="1.000" stop-color="#0211ce"/></linearGradient><linearGradient id="b185" gradientUnits="userSpaceOnUse" x1="0" y1="38.0" x2="0" y2="187.0"><stop offset="0.000" stop-color="#1773ff"/><stop offset="0.067" stop-color="#004bff"/><stop offset="0.341" stop-color="#0037f8"/><stop offset="0.389" stop-color="#0418de"/><stop offset="0.537" stop-color="#0314d5"/><stop offset="0.718" stop-color="#0210cb"/><stop offset="1.000" stop-color="#010abd"/></linearGradient><linearGradient id="b186" gradientUnits="userSpaceOnUse" x1="0" y1="38.0" x2="0" y2="187.0"><stop offset="0.000" stop-color="#1776ff"/><stop offset="0.080" stop-color="#004dff"/><stop offset="0.354" stop-color="#0037f8"/><stop offset="0.389" stop-color="#0317db"/><stop offset="0.537" stop-color="#0313d2"/><stop offset="0.718" stop-color="#020fc9"/><stop offset="1.000" stop-color="#0109bb"/></linearGradient><linearGradient id="b187" gradientUnits="userSpaceOnUse" x1="0" y1="38.0" x2="0" y2="187.0"><stop offset="0.000" stop-color="#22adff"/><stop offset="0.068" stop-color="#0070ff"/><stop offset="0.260" stop-color="#0037f8"/><stop offset="0.282" stop-color="#0427ed"/><stop offset="0.389" stop-color="#041ce8"/><stop offset="0.537" stop-color="#0419e0"/><stop offset="0.718" stop-color="#0316d8"/><stop offset="1.000" stop-color="#0210ca"/></linearGradient><linearGradient id="b188" gradientUnits="userSpaceOnUse" x1="0" y1="38.0" x2="0" y2="187.0"><stop offset="0.000" stop-color="#1775ff"/><stop offset="0.087" stop-color="#004cff"/><stop offset="0.188" stop-color="#0037f8"/><stop offset="0.282" stop-color="#041ae1"/><stop offset="0.389" stop-color="#0315d6"/><stop offset="0.537" stop-color="#0312d0"/><stop offset="0.718" stop-color="#020fc9"/><stop offset="1.000" stop-color="#0109bb"/></linearGradient><linearGradient id="b189" gradientUnits="userSpaceOnUse" x1="0" y1="38.0" x2="0" y2="187.0"><stop offset="0.000" stop-color="#1c8fff"/><stop offset="0.119" stop-color="#005dff"/><stop offset="0.271" stop-color="#0037f8"/><stop offset="0.389" stop-color="#0316da"/><stop offset="0.537" stop-color="#0314d5"/><stop offset="0.718" stop-color="#0312d0"/><stop offset="1.000" stop-color="#020cc2"/></linearGradient><linearGradient id="b190" gradientUnits="userSpaceOnUse" x1="0" y1="38.0" x2="0" y2="187.0"><stop offset="0.000" stop-color="#1c90ff"/><stop offset="0.100" stop-color="#005eff"/><stop offset="0.252" stop-color="#0037f8"/><stop offset="0.282" stop-color="#041eeb"/><stop offset="0.389" stop-color="#0418de"/><stop offset="0.537" stop-color="#0317db"/><stop offset="0.718" stop-color="#0315d7"/><stop offset="1.000" stop-color="#020fc9"/></linearGradient><linearGradient id="b191" gradientUnits="userSpaceOnUse" x1="0" y1="38.0" x2="0" y2="187.0"><stop offset="0.000" stop-color="#1467ff"/><stop offset="0.071" stop-color="#0043ff"/><stop offset="0.249" stop-color="#0037f8"/><stop offset="0.282" stop-color="#041ae1"/><stop offset="0.389" stop-color="#0314d5"/><stop offset="0.537" stop-color="#0313d2"/><stop offset="0.718" stop-color="#0211ce"/><stop offset="1.000" stop-color="#020cc1"/></linearGradient><linearGradient id="b192" gradientUnits="userSpaceOnUse" x1="0" y1="38.0" x2="0" y2="187.0"><stop offset="0.000" stop-color="#1980ff"/><stop offset="0.063" stop-color="#0053ff"/><stop offset="0.301" stop-color="#0037f8"/><stop offset="0.389" stop-color="#041dea"/><stop offset="0.537" stop-color="#041ce6"/><stop offset="0.718" stop-color="#041ae2"/><stop offset="1.000" stop-color="#0314d5"/></linearGradient><linearGradient id="b193" gradientUnits="userSpaceOnUse" x1="0" y1="38.0" x2="0" y2="187.0"><stop offset="0.000" stop-color="#1c8fff"/><stop offset="0.096" stop-color="#005dff"/><stop offset="0.229" stop-color="#0037f8"/><stop offset="0.282" stop-color="#032eef"/><stop offset="0.389" stop-color="#0421eb"/><stop offset="0.537" stop-color="#041de9"/><stop offset="0.718" stop-color="#041be4"/><stop offset="1.000" stop-color="#0315d6"/></linearGradient><linearGradient id="b194" gradientUnits="userSpaceOnUse" x1="0" y1="38.0" x2="0" y2="187.0"><stop offset="0.000" stop-color="#1b88ff"/><stop offset="0.082" stop-color="#0059ff"/><stop offset="0.235" stop-color="#0037f8"/><stop offset="0.282" stop-color="#0427ed"/><stop offset="0.389" stop-color="#041de8"/><stop offset="0.537" stop-color="#041ae2"/><stop offset="0.718" stop-color="#0317db"/><stop offset="1.000" stop-color="#0211cd"/></linearGradient><linearGradient id="b195" gradientUnits="userSpaceOnUse" x1="0" y1="38.0" x2="0" y2="187.0"><stop offset="0.000" stop-color="#21a6ff"/><stop offset="0.110" stop-color="#006bff"/><stop offset="0.215" stop-color="#0037f8"/><stop offset="0.282" stop-color="#0334f0"/><stop offset="0.389" stop-color="#0428ed"/><stop offset="0.537" stop-color="#0420eb"/><stop offset="0.718" stop-color="#041be4"/><stop offset="1.000" stop-color="#0315d6"/></linearGradient><linearGradient id="b196" gradientUnits="userSpaceOnUse" x1="0" y1="38.0" x2="0" y2="187.0"><stop offset="0.000" stop-color="#1776ff"/><stop offset="0.099" stop-color="#004cff"/><stop offset="0.322" stop-color="#0037f8"/><stop offset="0.389" stop-color="#0334f0"/><stop offset="0.537" stop-color="#042aee"/><stop offset="0.718" stop-color="#0420eb"/><stop offset="1.000" stop-color="#0418de"/></linearGradient><linearGradient id="b197" gradientUnits="userSpaceOnUse" x1="0" y1="38.0" x2="0" y2="187.0"><stop offset="0.000" stop-color="#1a86ff"/><stop offset="0.085" stop-color="#0057ff"/><stop offset="0.361" stop-color="#0037f8"/><stop offset="0.389" stop-color="#0338f1"/><stop offset="0.537" stop-color="#032eef"/><stop offset="0.718" stop-color="#0423ec"/><stop offset="1.000" stop-color="#0419e1"/></linearGradient><linearGradient id="b198" gradientUnits="userSpaceOnUse" x1="0" y1="38.0" x2="0" y2="187.0"><stop offset="0.000" stop-color="#1c8dff"/><stop offset="0.120" stop-color="#005cff"/><stop offset="0.287" stop-color="#0037f8"/><stop offset="0.389" stop-color="#0429ed"/><stop offset="0.537" stop-color="#041eeb"/><stop offset="0.718" stop-color="#041ae1"/><stop offset="1.000" stop-color="#0313d3"/></linearGradient><linearGradient id="b199" gradientUnits="userSpaceOnUse" x1="0" y1="38.0" x2="0" y2="187.0"><stop offset="0.000" stop-color="#1b8bff"/><stop offset="0.093" stop-color="#005aff"/><stop offset="0.352" stop-color="#0037f8"/><stop offset="0.389" stop-color="#042dee"/><stop offset="0.537" stop-color="#0422ec"/><stop offset="0.718" stop-color="#041be5"/><stop offset="1.000" stop-color="#0315d6"/></linearGradient><linearGradient id="b200" gradientUnits="userSpaceOnUse" x1="0" y1="38.0" x2="0" y2="187.0"><stop offset="0.000" stop-color="#1672ff"/><stop offset="0.059" stop-color="#004aff"/><stop offset="0.337" stop-color="#0037f8"/><stop offset="0.389" stop-color="#042aee"/><stop offset="0.537" stop-color="#041feb"/><stop offset="0.718" stop-color="#041ae2"/><stop offset="1.000" stop-color="#0314d3"/></linearGradient><linearGradient id="b201" gradientUnits="userSpaceOnUse" x1="0" y1="38.0" x2="0" y2="187.0"><stop offset="0.000" stop-color="#1f9bff"/><stop offset="0.097" stop-color="#0065ff"/><stop offset="0.342" stop-color="#0037f8"/><stop offset="0.389" stop-color="#041ae3"/><stop offset="0.537" stop-color="#0316d9"/><stop offset="0.718" stop-color="#0312cf"/><stop offset="1.000" stop-color="#020cc1"/></linearGradient><linearGradient id="b202" gradientUnits="userSpaceOnUse" x1="0" y1="38.0" x2="0" y2="187.0"><stop offset="0.000" stop-color="#1d92ff"/><stop offset="0.083" stop-color="#005eff"/><stop offset="0.364" stop-color="#0037f8"/><stop offset="0.389" stop-color="#041ae2"/><stop offset="0.537" stop-color="#0316d9"/><stop offset="0.718" stop-color="#0312cf"/><stop offset="1.000" stop-color="#010bc0"/></linearGradient><linearGradient id="b203" gradientUnits="userSpaceOnUse" x1="0" y1="38.0" x2="0" y2="187.0"><stop offset="0.000" stop-color="#1776ff"/><stop offset="0.111" stop-color="#004dff"/><stop offset="0.271" stop-color="#0037f8"/><stop offset="0.389" stop-color="#0332f0"/><stop offset="0.537" stop-color="#0428ed"/><stop offset="0.718" stop-color="#041de9"/><stop offset="1.000" stop-color="#0317db"/></linearGradient><linearGradient id="b204" gradientUnits="userSpaceOnUse" x1="0" y1="38.0" x2="0" y2="187.0"><stop offset="0.000" stop-color="#1f9bff"/><stop offset="0.093" stop-color="#0065ff"/><stop offset="0.228" stop-color="#0037f8"/><stop offset="0.282" stop-color="#0428ed"/><stop offset="0.389" stop-color="#041dea"/><stop offset="0.537" stop-color="#0419e1"/><stop offset="0.718" stop-color="#0315d7"/><stop offset="1.000" stop-color="#020fc8"/></linearGradient><linearGradient id="b205" gradientUnits="userSpaceOnUse" x1="0" y1="38.0" x2="0" y2="187.0"><stop offset="0.000" stop-color="#20a0ff"/><stop offset="0.106" stop-color="#0068ff"/><stop offset="0.236" stop-color="#0037f8"/><stop offset="0.282" stop-color="#032eef"/><stop offset="0.389" stop-color="#0423ec"/><stop offset="0.537" stop-color="#041ce6"/><stop offset="0.718" stop-color="#0317dc"/><stop offset="1.000" stop-color="#0211cd"/></linearGradient><linearGradient id="b206" gradientUnits="userSpaceOnUse" x1="0" y1="38.0" x2="0" y2="187.0"><stop offset="0.000" stop-color="#1672ff"/><stop offset="0.112" stop-color="#004aff"/><stop offset="0.360" stop-color="#0037f8"/><stop offset="0.389" stop-color="#0336f1"/><stop offset="0.537" stop-color="#042bee"/><stop offset="0.718" stop-color="#041feb"/><stop offset="1.000" stop-color="#0418de"/></linearGradient><linearGradient id="b207" gradientUnits="userSpaceOnUse" x1="0" y1="38.0" x2="0" y2="187.0"><stop offset="0.000" stop-color="#22aaff"/><stop offset="0.113" stop-color="#006eff"/><stop offset="0.300" stop-color="#0037f8"/><stop offset="0.389" stop-color="#0424ec"/><stop offset="0.537" stop-color="#041ce7"/><stop offset="0.718" stop-color="#0418dd"/><stop offset="1.000" stop-color="#0211ce"/></linearGradient><linearGradient id="b208" gradientUnits="userSpaceOnUse" x1="0" y1="38.0" x2="0" y2="187.0"><stop offset="0.000" stop-color="#21a8ff"/><stop offset="0.073" stop-color="#006dff"/><stop offset="0.248" stop-color="#0037f8"/><stop offset="0.282" stop-color="#042bee"/><stop offset="0.389" stop-color="#0420eb"/><stop offset="0.537" stop-color="#041ae3"/><stop offset="0.718" stop-color="#0316d9"/><stop offset="1.000" stop-color="#0210cb"/></linearGradient><linearGradient id="b209" gradientUnits="userSpaceOnUse" x1="0" y1="38.0" x2="0" y2="187.0"><stop offset="0.000" stop-color="#1b89ff"/><stop offset="0.094" stop-color="#0059ff"/><stop offset="0.257" stop-color="#0037f8"/><stop offset="0.282" stop-color="#041feb"/><stop offset="0.389" stop-color="#041ae2"/><stop offset="0.537" stop-color="#0316d9"/><stop offset="0.718" stop-color="#0312cf"/><stop offset="1.000" stop-color="#020cc1"/></linearGradient><linearGradient id="b210" gradientUnits="userSpaceOnUse" x1="0" y1="38.0" x2="0" y2="187.0"><stop offset="0.000" stop-color="#1981ff"/><stop offset="0.092" stop-color="#0053ff"/><stop offset="0.277" stop-color="#0037f8"/><stop offset="0.389" stop-color="#041feb"/><stop offset="0.537" stop-color="#041ae2"/><stop offset="0.718" stop-color="#0316d8"/><stop offset="1.000" stop-color="#0210ca"/></linearGradient><linearGradient id="b211" gradientUnits="userSpaceOnUse" x1="0" y1="38.0" x2="0" y2="187.0"><stop offset="0.000" stop-color="#1d93ff"/><stop offset="0.080" stop-color="#005fff"/><stop offset="0.251" stop-color="#0037f8"/><stop offset="0.282" stop-color="#041ce6"/><stop offset="0.389" stop-color="#0418dd"/><stop offset="0.537" stop-color="#0314d3"/><stop offset="0.718" stop-color="#020fc9"/><stop offset="1.000" stop-color="#0109bb"/></linearGradient><linearGradient id="b212" gradientUnits="userSpaceOnUse" x1="0" y1="38.0" x2="0" y2="187.0"><stop offset="0.000" stop-color="#187aff"/><stop offset="0.084" stop-color="#004fff"/><stop offset="0.311" stop-color="#0037f8"/><stop offset="0.389" stop-color="#041ce8"/><stop offset="0.537" stop-color="#0418df"/><stop offset="0.718" stop-color="#0314d5"/><stop offset="1.000" stop-color="#020ec6"/></linearGradient><linearGradient id="b213" gradientUnits="userSpaceOnUse" x1="0" y1="38.0" x2="0" y2="187.0"><stop offset="0.000" stop-color="#1671ff"/><stop offset="0.098" stop-color="#0049ff"/><stop offset="0.272" stop-color="#0037f8"/><stop offset="0.389" stop-color="#0419df"/><stop offset="0.537" stop-color="#0315d6"/><stop offset="0.718" stop-color="#0210cc"/><stop offset="1.000" stop-color="#010abd"/></linearGradient><linearGradient id="b214" gradientUnits="userSpaceOnUse" x1="0" y1="38.0" x2="0" y2="187.0"><stop offset="0.000" stop-color="#21a5ff"/><stop offset="0.106" stop-color="#006bff"/><stop offset="0.339" stop-color="#0037f8"/><stop offset="0.389" stop-color="#041ce8"/><stop offset="0.537" stop-color="#0419df"/><stop offset="0.718" stop-color="#0314d5"/><stop offset="1.000" stop-color="#020ec6"/></linearGradient><linearGradient id="b215" gradientUnits="userSpaceOnUse" x1="0" y1="38.0" x2="0" y2="187.0"><stop offset="0.000" stop-color="#1a85ff"/><stop offset="0.120" stop-color="#0056ff"/><stop offset="0.251" stop-color="#0037f8"/><stop offset="0.282" stop-color="#0418df"/><stop offset="0.389" stop-color="#0314d5"/><stop offset="0.537" stop-color="#0210cc"/><stop offset="0.718" stop-color="#020cc2"/><stop offset="1.000" stop-color="#0106b3"/></linearGradient><linearGradient id="b216" gradientUnits="userSpaceOnUse" x1="0" y1="38.0" x2="0" y2="187.0"><stop offset="0.000" stop-color="#21a6ff"/><stop offset="0.115" stop-color="#006cff"/><stop offset="0.339" stop-color="#0037f8"/><stop offset="0.389" stop-color="#0313d3"/><stop offset="0.537" stop-color="#020fca"/><stop offset="0.718" stop-color="#010bbf"/><stop offset="1.000" stop-color="#0005b1"/></linearGradient><linearGradient id="b217" gradientUnits="userSpaceOnUse" x1="0" y1="38.0" x2="0" y2="187.0"><stop offset="0.000" stop-color="#166fff"/><stop offset="0.110" stop-color="#0048ff"/><stop offset="0.344" stop-color="#0037f8"/><stop offset="0.389" stop-color="#041de9"/><stop offset="0.537" stop-color="#0419df"/><stop offset="0.718" stop-color="#0314d5"/><stop offset="1.000" stop-color="#020ec7"/></linearGradient><linearGradient id="b218" gradientUnits="userSpaceOnUse" x1="0" y1="38.0" x2="0" y2="187.0"><stop offset="0.000" stop-color="#1878ff"/><stop offset="0.056" stop-color="#004eff"/><stop offset="0.358" stop-color="#0037f8"/><stop offset="0.389" stop-color="#0423ec"/><stop offset="0.537" stop-color="#041ce6"/><stop offset="0.718" stop-color="#0317dc"/><stop offset="1.000" stop-color="#0211ce"/></linearGradient><linearGradient id="b219" gradientUnits="userSpaceOnUse" x1="0" y1="38.0" x2="0" y2="187.0"><stop offset="0.000" stop-color="#1777ff"/><stop offset="0.104" stop-color="#004dff"/><stop offset="0.240" stop-color="#0037f8"/><stop offset="0.282" stop-color="#0314d3"/><stop offset="0.389" stop-color="#020fca"/><stop offset="0.537" stop-color="#020cc1"/><stop offset="0.718" stop-color="#0107b6"/><stop offset="1.000" stop-color="#0001a8"/></linearGradient><linearGradient id="b220" gradientUnits="userSpaceOnUse" x1="0" y1="38.0" x2="0" y2="187.0"><stop offset="0.000" stop-color="#156cff"/><stop offset="0.055" stop-color="#0046ff"/><stop offset="0.338" stop-color="#0037f8"/><stop offset="0.389" stop-color="#041eeb"/><stop offset="0.537" stop-color="#041ae2"/><stop offset="0.718" stop-color="#0315d7"/><stop offset="1.000" stop-color="#020fc9"/></linearGradient><linearGradient id="b221" gradientUnits="userSpaceOnUse" x1="0" y1="38.0" x2="0" y2="187.0"><stop offset="0.000" stop-color="#1f9fff"/><stop offset="0.084" stop-color="#0067ff"/><stop offset="0.243" stop-color="#0037f8"/><stop offset="0.282" stop-color="#041dea"/><stop offset="0.389" stop-color="#0419e1"/><stop offset="0.537" stop-color="#0315d7"/><stop offset="0.718" stop-color="#0211cd"/><stop offset="1.000" stop-color="#010bbf"/></linearGradient><linearGradient id="b222" gradientUnits="userSpaceOnUse" x1="0" y1="38.0" x2="0" y2="187.0"><stop offset="0.000" stop-color="#1d92ff"/><stop offset="0.092" stop-color="#005fff"/><stop offset="0.259" stop-color="#0037f8"/><stop offset="0.282" stop-color="#032eef"/><stop offset="0.389" stop-color="#0423ec"/><stop offset="0.537" stop-color="#041be6"/><stop offset="0.718" stop-color="#0317dc"/><stop offset="1.000" stop-color="#0211cd"/></linearGradient><linearGradient id="b223" gradientUnits="userSpaceOnUse" x1="0" y1="38.0" x2="0" y2="187.0"><stop offset="0.000" stop-color="#20a3ff"/><stop offset="0.056" stop-color="#006aff"/><stop offset="0.206" stop-color="#0037f8"/><stop offset="0.282" stop-color="#0338f1"/><stop offset="0.389" stop-color="#042dee"/><stop offset="0.537" stop-color="#0422ec"/><stop offset="0.718" stop-color="#041be4"/><stop offset="1.000" stop-color="#0315d6"/></linearGradient><linearGradient id="b224" gradientUnits="userSpaceOnUse" x1="0" y1="38.0" x2="0" y2="187.0"><stop offset="0.000" stop-color="#1b87ff"/><stop offset="0.090" stop-color="#0058ff"/><stop offset="0.223" stop-color="#0037f8"/><stop offset="0.282" stop-color="#042dee"/><stop offset="0.389" stop-color="#0422ec"/><stop offset="0.537" stop-color="#041be5"/><stop offset="0.718" stop-color="#0317db"/><stop offset="1.000" stop-color="#0211cd"/></linearGradient><linearGradient id="b225" gradientUnits="userSpaceOnUse" x1="0" y1="38.0" x2="0" y2="187.0"><stop offset="0.000" stop-color="#1b88ff"/><stop offset="0.099" stop-color="#0058ff"/><stop offset="0.335" stop-color="#0037f8"/><stop offset="0.389" stop-color="#041ce8"/><stop offset="0.537" stop-color="#0418de"/><stop offset="0.718" stop-color="#0314d4"/><stop offset="1.000" stop-color="#020ec6"/></linearGradient><linearGradient id="b226" gradientUnits="userSpaceOnUse" x1="0" y1="38.0" x2="0" y2="187.0"><stop offset="0.000" stop-color="#156dff"/><stop offset="0.097" stop-color="#0047ff"/><stop offset="0.208" stop-color="#0037f8"/><stop offset="0.282" stop-color="#0317dc"/><stop offset="0.389" stop-color="#0313d2"/><stop offset="0.537" stop-color="#020fc9"/><stop offset="0.718" stop-color="#010bbf"/><stop offset="1.000" stop-color="#0005b1"/></linearGradient><linearGradient id="b227" gradientUnits="userSpaceOnUse" x1="0" y1="38.0" x2="0" y2="187.0"><stop offset="0.000" stop-color="#1464ff"/><stop offset="0.077" stop-color="#0041ff"/><stop offset="0.224" stop-color="#0037f8"/><stop offset="0.282" stop-color="#0420eb"/><stop offset="0.389" stop-color="#041ae3"/><stop offset="0.537" stop-color="#0316da"/><stop offset="0.718" stop-color="#0312d0"/><stop offset="1.000" stop-color="#020cc1"/></linearGradient><linearGradient id="b228" gradientUnits="userSpaceOnUse" x1="0" y1="38.0" x2="0" y2="187.0"><stop offset="0.000" stop-color="#156dff"/><stop offset="0.055" stop-color="#0047ff"/><stop offset="0.345" stop-color="#0037f8"/><stop offset="0.389" stop-color="#0331ef"/><stop offset="0.537" stop-color="#0426ed"/><stop offset="0.718" stop-color="#041ce8"/><stop offset="1.000" stop-color="#0316da"/></linearGradient><linearGradient id="b229" gradientUnits="userSpaceOnUse" x1="0" y1="38.0" x2="0" y2="187.0"><stop offset="0.000" stop-color="#187bff"/><stop offset="0.068" stop-color="#0050ff"/><stop offset="0.258" stop-color="#0037f8"/><stop offset="0.282" stop-color="#0421eb"/><stop offset="0.389" stop-color="#041be4"/><stop offset="0.537" stop-color="#0317db"/><stop offset="0.718" stop-color="#0312d1"/><stop offset="1.000" stop-color="#020cc2"/></linearGradient><linearGradient id="b230" gradientUnits="userSpaceOnUse" x1="0" y1="38.0" x2="0" y2="187.0"><stop offset="0.000" stop-color="#1464ff"/><stop offset="0.118" stop-color="#0041ff"/><stop offset="0.217" stop-color="#0037f8"/><stop offset="0.282" stop-color="#0333f0"/><stop offset="0.389" stop-color="#0428ed"/><stop offset="0.537" stop-color="#041dea"/><stop offset="0.718" stop-color="#0419e0"/><stop offset="1.000" stop-color="#0313d2"/></linearGradient><linearGradient id="b231" gradientUnits="userSpaceOnUse" x1="0" y1="38.0" x2="0" y2="187.0"><stop offset="0.000" stop-color="#1d92ff"/><stop offset="0.080" stop-color="#005fff"/><stop offset="0.360" stop-color="#0037f8"/><stop offset="0.389" stop-color="#042cee"/><stop offset="0.537" stop-color="#0421eb"/><stop offset="0.718" stop-color="#041ae3"/><stop offset="1.000" stop-color="#0314d5"/></linearGradient><linearGradient id="b232" gradientUnits="userSpaceOnUse" x1="0" y1="38.0" x2="0" y2="187.0"><stop offset="0.000" stop-color="#1775ff"/><stop offset="0.104" stop-color="#004cff"/><stop offset="0.315" stop-color="#0037f8"/><stop offset="0.389" stop-color="#0330ef"/><stop offset="0.537" stop-color="#0426ed"/><stop offset="0.718" stop-color="#041ce7"/><stop offset="1.000" stop-color="#0316d9"/></linearGradient><linearGradient id="b233" gradientUnits="userSpaceOnUse" x1="0" y1="38.0" x2="0" y2="187.0"><stop offset="0.000" stop-color="#21a7ff"/><stop offset="0.057" stop-color="#006cff"/><stop offset="0.346" stop-color="#0037f8"/><stop offset="0.389" stop-color="#041ce6"/><stop offset="0.537" stop-color="#0418dd"/><stop offset="0.718" stop-color="#0313d2"/><stop offset="1.000" stop-color="#020dc4"/></linearGradient>
<filter id="fb" x="0" y="0" width="1" height="1"><feGaussianBlur stdDeviation="0.8 0.5"/></filter>
</defs>
<clipPath id="cp0"><rect x="77" y="38" width="467" height="149"/></clipPath>
<clipPath id="w0"><polygon points="77.00,56.50 85.30,56.50 85.30,81.00 86.90,84.00 90.00,90.00 91.50,96.60 94.00,104.00 97.70,115.00 100.80,124.50 105.50,134.00 108.60,140.00 110.20,152.50 113.30,165.00 116.40,177.00 118.00,183.50 118.00,185.00 77.00,185.00"/><polygon points="173.00,185.00 173.00,170.00 175.00,153.90 178.00,150.90 181.00,149.00 182.00,145.00 183.00,130.00 184.00,124.00 187.00,118.00 190.00,114.40 194.00,113.60 198.00,117.00 201.00,122.00 203.00,124.00 205.00,122.00 206.50,116.00 208.00,126.00 211.00,130.00 213.00,136.00 215.00,140.00 216.50,134.00 218.00,142.00 220.00,148.00 221.00,160.00 221.00,185.00"/><polygon points="246.20,185.00 246.20,183.00 247.00,176.40 248.30,163.00 249.60,149.80 251.00,139.00 253.00,131.00 256.30,124.50 260.30,119.20 264.30,113.90 268.20,104.60 269.60,94.00 270.40,80.10 272.20,88.60 274.90,96.60 277.60,110.00 281.50,117.90 286.90,124.50 290.90,133.80 293.00,144.50 294.00,157.80 296.20,171.00 298.00,183.00 298.00,185.00"/><polygon points="304.50,185.00 304.50,155.00 306.80,155.00 306.80,163.00 309.00,163.00 309.00,185.00"/><polygon points="404.20,185.00 404.20,184.00 406.00,175.30 408.00,161.00 409.40,146.50 410.90,132.00 413.70,129.00 419.50,122.00 423.80,114.80 428.10,106.00 431.00,97.50 432.50,83.00 433.30,68.00 435.30,83.00 436.80,97.50 439.70,107.60 445.40,119.00 451.20,129.00 454.00,143.60 455.50,158.00 457.00,175.30 457.80,184.00 457.80,185.00"/><polygon points="480.10,185.00 480.10,183.00 481.20,163.00 483.30,144.50 485.40,133.80 488.60,125.90 494.00,119.20 499.30,112.60 503.20,107.20 507.20,107.20 509.90,110.00 513.90,110.00 516.50,104.60 519.20,95.30 521.90,106.00 524.50,106.00 527.20,74.80 531.20,96.60 533.80,107.20 537.80,111.20 544.00,111.20 544.00,185.00"/><polygon points="77.00,184.00 544.00,184.00 544.00,187.00 77.00,187.00"/></clipPath>
<g clip-path="url(#cp0)"><g transform="translate(0,0)" filter="url(#fb)"><rect x="77" y="38.0" width="2" height="149.0" fill="url(#a0)"/><rect x="79" y="38.0" width="2" height="149.0" fill="url(#a1)"/><rect x="81" y="38.0" width="2" height="149.0" fill="url(#a2)"/><rect x="83" y="38.0" width="2" height="149.0" fill="url(#a3)"/><rect x="85" y="38.0" width="2" height="149.0" fill="url(#a4)"/><rect x="87" y="38.0" width="2" height="149.0" fill="url(#a5)"/><rect x="89" y="38.0" width="2" height="149.0" fill="url(#a6)"/><rect x="91" y="38.0" width="2" height="149.0" fill="url(#a7)"/><rect x="93" y="38.0" width="2" height="149.0" fill="url(#a8)"/><rect x="95" y="38.0" width="2" height="149.0" fill="url(#a9)"/><rect x="97" y="38.0" width="2" height="149.0" fill="url(#a10)"/><rect x="99" y="38.0" width="2" height="149.0" fill="url(#a11)"/><rect x="101" y="38.0" width="2" height="149.0" fill="url(#a12)"/><rect x="103" y="38.0" width="2" height="149.0" fill="url(#a13)"/><rect x="105" y="38.0" width="2" height="149.0" fill="url(#a14)"/><rect x="107" y="38.0" width="2" height="149.0" fill="url(#a15)"/><rect x="109" y="38.0" width="2" height="149.0" fill="url(#a16)"/><rect x="111" y="38.0" width="2" height="149.0" fill="url(#a17)"/><rect x="113" y="38.0" width="2" height="149.0" fill="url(#a18)"/><rect x="115" y="38.0" width="2" height="149.0" fill="url(#a19)"/><rect x="117" y="38.0" width="2" height="149.0" fill="url(#a20)"/><rect x="119" y="38.0" width="2" height="149.0" fill="url(#a21)"/><rect x="121" y="38.0" width="2" height="149.0" fill="url(#a22)"/><rect x="123" y="38.0" width="2" height="149.0" fill="url(#a23)"/><rect x="125" y="38.0" width="2" height="149.0" fill="url(#a24)"/><rect x="127" y="38.0" width="2" height="149.0" fill="url(#a25)"/><rect x="129" y="38.0" width="2" height="149.0" fill="url(#a26)"/><rect x="131" y="38.0" width="2" height="149.0" fill="url(#a27)"/><rect x="133" y="38.0" width="2" height="149.0" fill="url(#a28)"/><rect x="135" y="38.0" width="2" height="149.0" fill="url(#a29)"/><rect x="137" y="38.0" width="2" height="149.0" fill="url(#a30)"/><rect x="139" y="38.0" width="2" height="149.0" fill="url(#a31)"/><rect x="141" y="38.0" width="2" height="149.0" fill="url(#a32)"/><rect x="143" y="38.0" width="2" height="149.0" fill="url(#a33)"/><rect x="145" y="38.0" width="2" height="149.0" fill="url(#a34)"/><rect x="147" y="38.0" width="2" height="149.0" fill="url(#a35)"/><rect x="149" y="38.0" width="2" height="149.0" fill="url(#a36)"/><rect x="151" y="38.0" width="2" height="149.0" fill="url(#a37)"/><rect x="153" y="38.0" width="2" height="149.0" fill="url(#a38)"/><rect x="155" y="38.0" width="2" height="149.0" fill="url(#a39)"/><rect x="157" y="38.0" width="2" height="149.0" fill="url(#a40)"/><rect x="159" y="38.0" width="2" height="149.0" fill="url(#a41)"/><rect x="161" y="38.0" width="2" height="149.0" fill="url(#a42)"/><rect x="163" y="38.0" width="2" height="149.0" fill="url(#a43)"/><rect x="165" y="38.0" width="2" height="149.0" fill="url(#a44)"/><rect x="167" y="38.0" width="2" height="149.0" fill="url(#a45)"/><rect x="169" y="38.0" width="2" height="149.0" fill="url(#a46)"/><rect x="171" y="38.0" width="2" height="149.0" fill="url(#a47)"/><rect x="173" y="38.0" width="2" height="149.0" fill="url(#a48)"/><rect x="175" y="38.0" width="2" height="149.0" fill="url(#a49)"/><rect x="177" y="38.0" width="2" height="149.0" fill="url(#a50)"/><rect x="179" y="38.0" width="2" height="149.0" fill="url(#a51)"/><rect x="181" y="38.0" width="2" height="149.0" fill="url(#a52)"/><rect x="183" y="38.0" width="2" height="149.0" fill="url(#a53)"/><rect x="185" y="38.0" width="2" height="149.0" fill="url(#a54)"/><rect x="187" y="38.0" width="2" height="149.0" fill="url(#a55)"/><rect x="189" y="38.0" width="2" height="149.0" fill="url(#a56)"/><rect x="191" y="38.0" width="2" height="149.0" fill="url(#a57)"/><rect x="193" y="38.0" width="2" height="149.0" fill="url(#a58)"/><rect x="195" y="38.0" width="2" height="149.0" fill="url(#a59)"/><rect x="197" y="38.0" width="2" height="149.0" fill="url(#a60)"/><rect x="199" y="38.0" width="2" height="149.0" fill="url(#a61)"/><rect x="201" y="38.0" width="2" height="149.0" fill="url(#a62)"/><rect x="203" y="38.0" width="2" height="149.0" fill="url(#a63)"/><rect x="205" y="38.0" width="2" height="149.0" fill="url(#a64)"/><rect x="207" y="38.0" width="2" height="149.0" fill="url(#a65)"/><rect x="209" y="38.0" width="2" height="149.0" fill="url(#a66)"/><rect x="211" y="38.0" width="2" height="149.0" fill="url(#a67)"/><rect x="213" y="38.0" width="2" height="149.0" fill="url(#a68)"/><rect x="215" y="38.0" width="2" height="149.0" fill="url(#a69)"/><rect x="217" y="38.0" width="2" height="149.0" fill="url(#a70)"/><rect x="219" y="38.0" width="2" height="149.0" fill="url(#a71)"/><rect x="221" y="38.0" width="2" height="149.0" fill="url(#a72)"/><rect x="223" y="38.0" width="2" height="149.0" fill="url(#a73)"/><rect x="225" y="38.0" width="2" height="149.0" fill="url(#a74)"/><rect x="227" y="38.0" width="2" height="149.0" fill="url(#a75)"/><rect x="229" y="38.0" width="2" height="149.0" fill="url(#a76)"/><rect x="231" y="38.0" width="2" height="149.0" fill="url(#a77)"/><rect x="233" y="38.0" width="2" height="149.0" fill="url(#a78)"/><rect x="235" y="38.0" width="2" height="149.0" fill="url(#a79)"/><rect x="237" y="38.0" width="2" height="149.0" fill="url(#a80)"/><rect x="239" y="38.0" width="2" height="149.0" fill="url(#a81)"/><rect x="241" y="38.0" width="2" height="149.0" fill="url(#a82)"/><rect x="243" y="38.0" width="2" height="149.0" fill="url(#a83)"/><rect x="245" y="38.0" width="2" height="149.0" fill="url(#a84)"/><rect x="247" y="38.0" width="2" height="149.0" fill="url(#a85)"/><rect x="249" y="38.0" width="2" height="149.0" fill="url(#a86)"/><rect x="251" y="38.0" width="2" height="149.0" fill="url(#a87)"/><rect x="253" y="38.0" width="2" height="149.0" fill="url(#a88)"/><rect x="255" y="38.0" width="2" height="149.0" fill="url(#a89)"/><rect x="257" y="38.0" width="2" height="149.0" fill="url(#a90)"/><rect x="259" y="38.0" width="2" height="149.0" fill="url(#a91)"/><rect x="261" y="38.0" width="2" height="149.0" fill="url(#a92)"/><rect x="263" y="38.0" width="2" height="149.0" fill="url(#a93)"/><rect x="265" y="38.0" width="2" height="149.0" fill="url(#a94)"/><rect x="267" y="38.0" width="2" height="149.0" fill="url(#a95)"/><rect x="269" y="38.0" width="2" height="149.0" fill="url(#a96)"/><rect x="271" y="38.0" width="2" height="149.0" fill="url(#a97)"/><rect x="273" y="38.0" width="2" height="149.0" fill="url(#a98)"/><rect x="275" y="38.0" width="2" height="149.0" fill="url(#a99)"/><rect x="277" y="38.0" width="2" height="149.0" fill="url(#a100)"/><rect x="279" y="38.0" width="2" height="149.0" fill="url(#a101)"/><rect x="281" y="38.0" width="2" height="149.0" fill="url(#a102)"/><rect x="283" y="38.0" width="2" height="149.0" fill="url(#a103)"/><rect x="285" y="38.0" width="2" height="149.0" fill="url(#a104)"/><rect x="287" y="38.0" width="2" height="149.0" fill="url(#a105)"/><rect x="289" y="38.0" width="2" height="149.0" fill="url(#a106)"/><rect x="291" y="38.0" width="2" height="149.0" fill="url(#a107)"/><rect x="293" y="38.0" width="2" height="149.0" fill="url(#a108)"/><rect x="295" y="38.0" width="2" height="149.0" fill="url(#a109)"/><rect x="297" y="38.0" width="2" height="149.0" fill="url(#a110)"/><rect x="299" y="38.0" width="2" height="149.0" fill="url(#a111)"/><rect x="301" y="38.0" width="2" height="149.0" fill="url(#a112)"/><rect x="303" y="38.0" width="2" height="149.0" fill="url(#a113)"/><rect x="305" y="38.0" width="2" height="149.0" fill="url(#a114)"/><rect x="307" y="38.0" width="2" height="149.0" fill="url(#a115)"/><rect x="309" y="38.0" width="2" height="149.0" fill="url(#a116)"/><rect x="311" y="38.0" width="2" height="149.0" fill="url(#a117)"/><rect x="313" y="38.0" width="2" height="149.0" fill="url(#a118)"/><rect x="315" y="38.0" width="2" height="149.0" fill="url(#a119)"/><rect x="317" y="38.0" width="2" height="149.0" fill="url(#a120)"/><rect x="319" y="38.0" width="2" height="149.0" fill="url(#a121)"/><rect x="321" y="38.0" width="2" height="149.0" fill="url(#a122)"/><rect x="323" y="38.0" width="2" height="149.0" fill="url(#a123)"/><rect x="325" y="38.0" width="2" height="149.0" fill="url(#a124)"/><rect x="327" y="38.0" width="2" height="149.0" fill="url(#a125)"/><rect x="329" y="38.0" width="2" height="149.0" fill="url(#a126)"/><rect x="331" y="38.0" width="2" height="149.0" fill="url(#a127)"/><rect x="333" y="38.0" width="2" height="149.0" fill="url(#a128)"/><rect x="335" y="38.0" width="2" height="149.0" fill="url(#a129)"/><rect x="337" y="38.0" width="2" height="149.0" fill="url(#a130)"/><rect x="339" y="38.0" width="2" height="149.0" fill="url(#a131)"/><rect x="341" y="38.0" width="2" height="149.0" fill="url(#a132)"/><rect x="343" y="38.0" width="2" height="149.0" fill="url(#a133)"/><rect x="345" y="38.0" width="2" height="149.0" fill="url(#a134)"/><rect x="347" y="38.0" width="2" height="149.0" fill="url(#a135)"/><rect x="349" y="38.0" width="2" height="149.0" fill="url(#a136)"/><rect x="351" y="38.0" width="2" height="149.0" fill="url(#a137)"/><rect x="353" y="38.0" width="2" height="149.0" fill="url(#a138)"/><rect x="355" y="38.0" width="2" height="149.0" fill="url(#a139)"/><rect x="357" y="38.0" width="2" height="149.0" fill="url(#a140)"/><rect x="359" y="38.0" width="2" height="149.0" fill="url(#a141)"/><rect x="361" y="38.0" width="2" height="149.0" fill="url(#a142)"/><rect x="363" y="38.0" width="2" height="149.0" fill="url(#a143)"/><rect x="365" y="38.0" width="2" height="149.0" fill="url(#a144)"/><rect x="367" y="38.0" width="2" height="149.0" fill="url(#a145)"/><rect x="369" y="38.0" width="2" height="149.0" fill="url(#a146)"/><rect x="371" y="38.0" width="2" height="149.0" fill="url(#a147)"/><rect x="373" y="38.0" width="2" height="149.0" fill="url(#a148)"/><rect x="375" y="38.0" width="2" height="149.0" fill="url(#a149)"/><rect x="377" y="38.0" width="2" height="149.0" fill="url(#a150)"/><rect x="379" y="38.0" width="2" height="149.0" fill="url(#a151)"/><rect x="381" y="38.0" width="2" height="149.0" fill="url(#a152)"/><rect x="383" y="38.0" width="2" height="149.0" fill="url(#a153)"/><rect x="385" y="38.0" width="2" height="149.0" fill="url(#a154)"/><rect x="387" y="38.0" width="2" height="149.0" fill="url(#a155)"/><rect x="389" y="38.0" width="2" height="149.0" fill="url(#a156)"/><rect x="391" y="38.0" width="2" height="149.0" fill="url(#a157)"/><rect x="393" y="38.0" width="2" height="149.0" fill="url(#a158)"/><rect x="395" y="38.0" width="2" height="149.0" fill="url(#a159)"/><rect x="397" y="38.0" width="2" height="149.0" fill="url(#a160)"/><rect x="399" y="38.0" width="2" height="149.0" fill="url(#a161)"/><rect x="401" y="38.0" width="2" height="149.0" fill="url(#a162)"/><rect x="403" y="38.0" width="2" height="149.0" fill="url(#a163)"/><rect x="405" y="38.0" width="2" height="149.0" fill="url(#a164)"/><rect x="407" y="38.0" width="2" height="149.0" fill="url(#a165)"/><rect x="409" y="38.0" width="2" height="149.0" fill="url(#a166)"/><rect x="411" y="38.0" width="2" height="149.0" fill="url(#a167)"/><rect x="413" y="38.0" width="2" height="149.0" fill="url(#a168)"/><rect x="415" y="38.0" width="2" height="149.0" fill="url(#a169)"/><rect x="417" y="38.0" width="2" height="149.0" fill="url(#a170)"/><rect x="419" y="38.0" width="2" height="149.0" fill="url(#a171)"/><rect x="421" y="38.0" width="2" height="149.0" fill="url(#a172)"/><rect x="423" y="38.0" width="2" height="149.0" fill="url(#a173)"/><rect x="425" y="38.0" width="2" height="149.0" fill="url(#a174)"/><rect x="427" y="38.0" width="2" height="149.0" fill="url(#a175)"/><rect x="429" y="38.0" width="2" height="149.0" fill="url(#a176)"/><rect x="431" y="38.0" width="2" height="149.0" fill="url(#a177)"/><rect x="433" y="38.0" width="2" height="149.0" fill="url(#a178)"/><rect x="435" y="38.0" width="2" height="149.0" fill="url(#a179)"/><rect x="437" y="38.0" width="2" height="149.0" fill="url(#a180)"/><rect x="439" y="38.0" width="2" height="149.0" fill="url(#a181)"/><rect x="441" y="38.0" width="2" height="149.0" fill="url(#a182)"/><rect x="443" y="38.0" width="2" height="149.0" fill="url(#a183)"/><rect x="445" y="38.0" width="2" height="149.0" fill="url(#a184)"/><rect x="447" y="38.0" width="2" height="149.0" fill="url(#a185)"/><rect x="449" y="38.0" width="2" height="149.0" fill="url(#a186)"/><rect x="451" y="38.0" width="2" height="149.0" fill="url(#a187)"/><rect x="453" y="38.0" width="2" height="149.0" fill="url(#a188)"/><rect x="455" y="38.0" width="2" height="149.0" fill="url(#a189)"/><rect x="457" y="38.0" width="2" height="149.0" fill="url(#a190)"/><rect x="459" y="38.0" width="2" height="149.0" fill="url(#a191)"/><rect x="461" y="38.0" width="2" height="149.0" fill="url(#a192)"/><rect x="463" y="38.0" width="2" height="149.0" fill="url(#a193)"/><rect x="465" y="38.0" width="2" height="149.0" fill="url(#a194)"/><rect x="467" y="38.0" width="2" height="149.0" fill="url(#a195)"/><rect x="469" y="38.0" width="2" height="149.0" fill="url(#a196)"/><rect x="471" y="38.0" width="2" height="149.0" fill="url(#a197)"/><rect x="473" y="38.0" width="2" height="149.0" fill="url(#a198)"/><rect x="475" y="38.0" width="2" height="149.0" fill="url(#a199)"/><rect x="477" y="38.0" width="2" height="149.0" fill="url(#a200)"/><rect x="479" y="38.0" width="2" height="149.0" fill="url(#a201)"/><rect x="481" y="38.0" width="2" height="149.0" fill="url(#a202)"/><rect x="483" y="38.0" width="2" height="149.0" fill="url(#a203)"/><rect x="485" y="38.0" width="2" height="149.0" fill="url(#a204)"/><rect x="487" y="38.0" width="2" height="149.0" fill="url(#a205)"/><rect x="489" y="38.0" width="2" height="149.0" fill="url(#a206)"/><rect x="491" y="38.0" width="2" height="149.0" fill="url(#a207)"/><rect x="493" y="38.0" width="2" height="149.0" fill="url(#a208)"/><rect x="495" y="38.0" width="2" height="149.0" fill="url(#a209)"/><rect x="497" y="38.0" width="2" height="149.0" fill="url(#a210)"/><rect x="499" y="38.0" width="2" height="149.0" fill="url(#a211)"/><rect x="501" y="38.0" width="2" height="149.0" fill="url(#a212)"/><rect x="503" y="38.0" width="2" height="149.0" fill="url(#a213)"/><rect x="505" y="38.0" width="2" height="149.0" fill="url(#a214)"/><rect x="507" y="38.0" width="2" height="149.0" fill="url(#a215)"/><rect x="509" y="38.0" width="2" height="149.0" fill="url(#a216)"/><rect x="511" y="38.0" width="2" height="149.0" fill="url(#a217)"/><rect x="513" y="38.0" width="2" height="149.0" fill="url(#a218)"/><rect x="515" y="38.0" width="2" height="149.0" fill="url(#a219)"/><rect x="517" y="38.0" width="2" height="149.0" fill="url(#a220)"/><rect x="519" y="38.0" width="2" height="149.0" fill="url(#a221)"/><rect x="521" y="38.0" width="2" height="149.0" fill="url(#a222)"/><rect x="523" y="38.0" width="2" height="149.0" fill="url(#a223)"/><rect x="525" y="38.0" width="2" height="149.0" fill="url(#a224)"/><rect x="527" y="38.0" width="2" height="149.0" fill="url(#a225)"/><rect x="529" y="38.0" width="2" height="149.0" fill="url(#a226)"/><rect x="531" y="38.0" width="2" height="149.0" fill="url(#a227)"/><rect x="533" y="38.0" width="2" height="149.0" fill="url(#a228)"/><rect x="535" y="38.0" width="2" height="149.0" fill="url(#a229)"/><rect x="537" y="38.0" width="2" height="149.0" fill="url(#a230)"/><rect x="539" y="38.0" width="2" height="149.0" fill="url(#a231)"/><rect x="541" y="38.0" width="2" height="149.0" fill="url(#a232)"/><rect x="543" y="38.0" width="1" height="149.0" fill="url(#a233)"/></g></g>
<polygon points="77.00,56.50 85.30,56.50 85.30,81.00 86.90,84.00 90.00,90.00 91.50,96.60 94.00,104.00 97.70,115.00 100.80,124.50 105.50,134.00 108.60,140.00 110.20,152.50 113.30,165.00 116.40,177.00 118.00,183.50 118.00,185.00 77.00,185.00" fill="#fff"/>
<polygon points="173.00,185.00 173.00,170.00 175.00,153.90 178.00,150.90 181.00,149.00 182.00,145.00 183.00,130.00 184.00,124.00 187.00,118.00 190.00,114.40 194.00,113.60 198.00,117.00 201.00,122.00 203.00,124.00 205.00,122.00 206.50,116.00 208.00,126.00 211.00,130.00 213.00,136.00 215.00,140.00 216.50,134.00 218.00,142.00 220.00,148.00 221.00,160.00 221.00,185.00" fill="#fff"/>
<polygon points="246.20,185.00 246.20,183.00 247.00,176.40 248.30,163.00 249.60,149.80 251.00,139.00 253.00,131.00 256.30,124.50 260.30,119.20 264.30,113.90 268.20,104.60 269.60,94.00 270.40,80.10 272.20,88.60 274.90,96.60 277.60,110.00 281.50,117.90 286.90,124.50 290.90,133.80 293.00,144.50 294.00,157.80 296.20,171.00 298.00,183.00 298.00,185.00" fill="#fff"/>
<polygon points="304.50,185.00 304.50,155.00 306.80,155.00 306.80,163.00 309.00,163.00 309.00,185.00" fill="#fff"/>
<polygon points="404.20,185.00 404.20,184.00 406.00,175.30 408.00,161.00 409.40,146.50 410.90,132.00 413.70,129.00 419.50,122.00 423.80,114.80 428.10,106.00 431.00,97.50 432.50,83.00 433.30,68.00 435.30,83.00 436.80,97.50 439.70,107.60 445.40,119.00 451.20,129.00 454.00,143.60 455.50,158.00 457.00,175.30 457.80,184.00 457.80,185.00" fill="#fff"/>
<polygon points="480.10,185.00 480.10,183.00 481.20,163.00 483.30,144.50 485.40,133.80 488.60,125.90 494.00,119.20 499.30,112.60 503.20,107.20 507.20,107.20 509.90,110.00 513.90,110.00 516.50,104.60 519.20,95.30 521.90,106.00 524.50,106.00 527.20,74.80 531.20,96.60 533.80,107.20 537.80,111.20 544.00,111.20 544.00,185.00" fill="#fff"/>
<polygon points="77.00,184.00 544.00,184.00 544.00,187.00 77.00,187.00" fill="#fff"/>
<rect x="370" y="157" width="1" height="27" fill="#fff"/>
<rect x="371" y="157" width="1" height="27" fill="#fff"/>
<rect x="122" y="178" width="1" height="6" fill="#fff"/>
<rect x="149" y="174" width="1" height="10" fill="#fff"/>
<rect x="155" y="160" width="1" height="24" fill="#fff"/>
<rect x="303" y="139" width="1" height="45" fill="#fff"/>
<rect x="309" y="141" width="1" height="43" fill="#fff"/>
<rect x="312" y="171" width="1" height="13" fill="#fff"/>
<rect x="119" y="160" width="1" height="24" fill="#fff"/>
<rect x="121" y="172" width="1" height="12" fill="#fff"/>
<rect x="145" y="151" width="1" height="33" fill="#fff"/>
<rect x="148" y="175" width="1" height="9" fill="#fff"/>
<rect x="154" y="160" width="1" height="24" fill="#fff"/>
<rect x="157" y="172" width="1" height="12" fill="#fff"/>
<rect x="183" y="113" width="1" height="71" fill="#fff"/>
<rect x="229" y="132" width="1" height="52" fill="#fff"/>
<rect x="314" y="168" width="1" height="16" fill="#fff"/>
<rect x="320" y="160" width="1" height="24" fill="#fff"/>
<rect x="329" y="136" width="1" height="48" fill="#fff"/>
<rect x="338" y="118" width="1" height="66" fill="#fff"/>
<rect x="353" y="172" width="1" height="12" fill="#fff"/>
<rect x="356" y="147" width="1" height="37" fill="#fff"/>
<rect x="369" y="127" width="1" height="57" fill="#fff"/>
<rect x="377" y="147" width="1" height="37" fill="#fff"/>
<rect x="387" y="156" width="1" height="28" fill="#fff"/>
<rect x="389" y="171" width="1" height="13" fill="#fff"/>
<rect x="395" y="151" width="1" height="33" fill="#fff"/>
<rect x="399" y="168" width="1" height="16" fill="#fff"/>
<rect x="407" y="118" width="1" height="66" fill="#fff"/>
<rect x="458" y="160" width="1" height="24" fill="#fff"/>
<rect x="470" y="125" width="1" height="59" fill="#fff"/>
<g clip-path="url(#w0)" stroke="#000" stroke-width="1" stroke-dasharray="1 4" shape-rendering="crispEdges"><line x1="120.5" y1="42" x2="120.5" y2="186"/><line x1="163.5" y1="42" x2="163.5" y2="186"/><line x1="206.5" y1="42" x2="206.5" y2="186"/><line x1="249.5" y1="42" x2="249.5" y2="186"/><line x1="292.5" y1="42" x2="292.5" y2="186"/><line x1="335.5" y1="42" x2="335.5" y2="186"/><line x1="378.5" y1="42" x2="378.5" y2="186"/><line x1="421.5" y1="42" x2="421.5" y2="186"/><line x1="464.5" y1="42" x2="464.5" y2="186"/><line x1="507.5" y1="42" x2="507.5" y2="186"/><line x1="77" y1="74.5" x2="543" y2="74.5"/><line x1="77" y1="111.5" x2="543" y2="111.5"/><line x1="77" y1="148.5" x2="543" y2="148.5"/><line x1="77" y1="185.5" x2="543" y2="185.5"/></g>
<g clip-path="url(#w0)" stroke="#000" stroke-width="1" shape-rendering="crispEdges"><line x1="77.5" y1="187" x2="77.5" y2="183"/><line x1="77.5" y1="39" x2="77.5" y2="43"/><line x1="120.5" y1="187" x2="120.5" y2="183"/><line x1="120.5" y1="39" x2="120.5" y2="43"/><line x1="163.5" y1="187" x2="163.5" y2="183"/><line x1="163.5" y1="39" x2="163.5" y2="43"/><line x1="206.5" y1="187" x2="206.5" y2="183"/><line x1="206.5" y1="39" x2="206.5" y2="43"/><line x1="249.5" y1="187" x2="249.5" y2="183"/><line x1="249.5" y1="39" x2="249.5" y2="43"/><line x1="292.5" y1="187" x2="292.5" y2="183"/><line x1="292.5" y1="39" x2="292.5" y2="43"/><line x1="335.5" y1="187" x2="335.5" y2="183"/><line x1="335.5" y1="39" x2="335.5" y2="43"/><line x1="378.5" y1="187" x2="378.5" y2="183"/><line x1="378.5" y1="39" x2="378.5" y2="43"/><line x1="421.5" y1="187" x2="421.5" y2="183"/><line x1="421.5" y1="39" x2="421.5" y2="43"/><line x1="464.5" y1="187" x2="464.5" y2="183"/><line x1="464.5" y1="39" x2="464.5" y2="43"/><line x1="507.5" y1="187" x2="507.5" y2="183"/><line x1="507.5" y1="39" x2="507.5" y2="43"/><line x1="78" y1="37.5" x2="82" y2="37.5"/><line x1="539" y1="37.5" x2="543" y2="37.5"/><line x1="78" y1="74.5" x2="82" y2="74.5"/><line x1="539" y1="74.5" x2="543" y2="74.5"/><line x1="78" y1="111.5" x2="82" y2="111.5"/><line x1="539" y1="111.5" x2="543" y2="111.5"/><line x1="78" y1="148.5" x2="82" y2="148.5"/><line x1="539" y1="148.5" x2="543" y2="148.5"/><line x1="78" y1="185.5" x2="82" y2="185.5"/><line x1="539" y1="185.5" x2="543" y2="185.5"/></g>
<g stroke="#000" stroke-width="1" shape-rendering="crispEdges"><line x1="77" y1="187.5" x2="544" y2="187.5"/><line x1="77.5" y1="38" x2="77.5" y2="188"/><line x1="77" y1="38.5" x2="544" y2="38.5"/><line x1="543.5" y1="38" x2="543.5" y2="188"/></g>
<text class="t" x="77.20" y="203.7" text-anchor="middle">0</text>
<text class="t" x="120.17" y="203.7" text-anchor="middle">50</text>
<text class="t" x="163.14" y="203.7" text-anchor="middle">100</text>
<text class="t" x="206.11" y="203.7" text-anchor="middle">150</text>
<text class="t" x="249.08" y="203.7" text-anchor="middle">200</text>
<text class="t" x="292.05" y="203.7" text-anchor="middle">250</text>
<text class="t" x="335.02" y="203.7" text-anchor="middle">300</text>
<text class="t" x="377.99" y="203.7" text-anchor="middle">350</text>
<text class="t" x="420.96" y="203.7" text-anchor="middle">400</text>
<text class="t" x="463.93" y="203.7" text-anchor="middle">450</text>
<text class="t" x="506.90" y="203.7" text-anchor="middle">500</text>
<text class="t" x="74.2" y="41.9" text-anchor="end">0</text>
<text class="t" x="74.2" y="78.9" text-anchor="end">50</text>
<text class="t" x="74.2" y="116.0" text-anchor="end">100</text>
<text class="t" x="74.2" y="153.0" text-anchor="end">150</text>
<text class="t" x="74.2" y="190.0" text-anchor="end">200</text>
<text class="ti" x="138.3" y="26.6" textLength="343.7" lengthAdjust="spacingAndGlyphs">Temperature: Gridded data (1km x 4m) (pcolor plot)</text>
<text class="l" transform="translate(45.3,112.6) rotate(-90)" text-anchor="middle">Depth,(m)</text>
<clipPath id="cp214"><rect x="76" y="251" width="468" height="149"/></clipPath>
<clipPath id="w214"><polygon points="77.00,268.20 83.80,268.20 83.80,296.00 86.90,302.00 90.00,311.70 93.00,318.00 96.20,324.00 100.80,336.50 104.00,344.00 107.00,352.00 110.20,367.60 113.30,383.00 114.80,396.00 77.00,396.00"/><polygon points="172.50,396.00 172.50,368.00 174.40,366.00 176.30,363.00 181.00,362.00 182.00,343.00 184.80,334.00 188.60,327.30 192.40,326.00 196.00,330.00 200.00,334.00 202.70,335.80 204.60,331.00 205.50,337.00 206.50,339.50 210.30,347.00 215.00,350.00 216.00,348.00 217.80,358.40 220.70,364.00 221.60,396.00"/><polygon points="246.00,396.00 246.00,392.40 247.20,375.40 248.40,363.00 250.10,353.40 252.00,346.00 255.70,338.80 259.40,331.50 264.30,324.00 266.70,316.80 268.00,307.00 269.00,299.80 270.00,299.80 271.00,303.00 272.00,303.00 272.80,299.80 274.00,299.80 274.00,307.00 275.20,316.80 278.90,324.00 283.80,331.50 287.40,338.80 290.60,346.00 291.60,358.00 293.50,375.40 294.80,392.40 295.00,396.00"/><polygon points="301.60,396.00 301.60,378.50 302.00,364.00 305.00,364.00 305.50,378.50 306.00,396.00"/><polygon points="404.70,396.00 404.70,391.30 406.60,380.00 408.90,363.60 410.20,347.00 413.00,341.50 420.00,333.00 426.90,324.90 429.60,316.50 431.00,302.70 432.40,282.00 433.80,302.70 436.60,316.50 439.30,324.90 444.90,333.00 450.40,344.00 453.20,355.30 454.60,369.00 456.50,391.30 456.50,396.00"/><polygon points="476.40,396.00 476.40,392.00 480.20,371.70 482.80,348.80 485.30,346.20 490.40,336.00 495.50,329.60 500.60,323.30 503.20,319.40 508.30,323.30 516.00,319.40 518.50,310.50 521.00,319.40 523.60,315.60 527.40,295.20 531.20,313.00 535.00,320.70 540.20,323.30 544.00,323.30 544.00,396.00"/><polygon points="77.00,395.00 544.00,395.00 544.00,401.00 77.00,401.00"/></clipPath>
<g clip-path="url(#cp214)"><g transform="translate(0,213)" filter="url(#fb)"><rect x="77" y="38.0" width="2" height="149.0" fill="url(#b0)"/><rect x="79" y="38.0" width="2" height="149.0" fill="url(#b1)"/><rect x="81" y="38.0" width="2" height="149.0" fill="url(#b2)"/><rect x="83" y="38.0" width="2" height="149.0" fill="url(#b3)"/><rect x="85" y="38.0" width="2" height="149.0" fill="url(#b4)"/><rect x="87" y="38.0" width="2" height="149.0" fill="url(#b5)"/><rect x="89" y="38.0" width="2" height="149.0" fill="url(#b6)"/><rect x="91" y="38.0" width="2" height="149.0" fill="url(#b7)"/><rect x="93" y="38.0" width="2" height="149.0" fill="url(#b8)"/><rect x="95" y="38.0" width="2" height="149.0" fill="url(#b9)"/><rect x="97" y="38.0" width="2" height="149.0" fill="url(#b10)"/><rect x="99" y="38.0" width="2" height="149.0" fill="url(#b11)"/><rect x="101" y="38.0" width="2" height="149.0" fill="url(#b12)"/><rect x="103" y="38.0" width="2" height="149.0" fill="url(#b13)"/><rect x="105" y="38.0" width="2" height="149.0" fill="url(#b14)"/><rect x="107" y="38.0" width="2" height="149.0" fill="url(#b15)"/><rect x="109" y="38.0" width="2" height="149.0" fill="url(#b16)"/><rect x="111" y="38.0" width="2" height="149.0" fill="url(#b17)"/><rect x="113" y="38.0" width="2" height="149.0" fill="url(#b18)"/><rect x="115" y="38.0" width="2" height="149.0" fill="url(#b19)"/><rect x="117" y="38.0" width="2" height="149.0" fill="url(#b20)"/><rect x="119" y="38.0" width="2" height="149.0" fill="url(#b21)"/><rect x="121" y="38.0" width="2" height="149.0" fill="url(#b22)"/><rect x="123" y="38.0" width="2" height="149.0" fill="url(#b23)"/><rect x="125" y="38.0" width="2" height="149.0" fill="url(#b24)"/><rect x="127" y="38.0" width="2" height="149.0" fill="url(#b25)"/><rect x="129" y="38.0" width="2" height="149.0" fill="url(#b26)"/><rect x="131" y="38.0" width="2" height="149.0" fill="url(#b27)"/><rect x="133" y="38.0" width="2" height="149.0" fill="url(#b28)"/><rect x="135" y="38.0" width="2" height="149.0" fill="url(#b29)"/><rect x="137" y="38.0" width="2" height="149.0" fill="url(#b30)"/><rect x="139" y="38.0" width="2" height="149.0" fill="url(#b31)"/><rect x="141" y="38.0" width="2" height="149.0" fill="url(#b32)"/><rect x="143" y="38.0" width="2" height="149.0" fill="url(#b33)"/><rect x="145" y="38.0" width="2" height="149.0" fill="url(#b34)"/><rect x="147" y="38.0" width="2" height="149.0" fill="url(#b35)"/><rect x="149" y="38.0" width="2" height="149.0" fill="url(#b36)"/><rect x="151" y="38.0" width="2" height="149.0" fill="url(#b37)"/><rect x="153" y="38.0" width="2" height="149.0" fill="url(#b38)"/><rect x="155" y="38.0" width="2" height="149.0" fill="url(#b39)"/><rect x="157" y="38.0" width="2" height="149.0" fill="url(#b40)"/><rect x="159" y="38.0" width="2" height="149.0" fill="url(#b41)"/><rect x="161" y="38.0" width="2" height="149.0" fill="url(#b42)"/><rect x="163" y="38.0" width="2" height="149.0" fill="url(#b43)"/><rect x="165" y="38.0" width="2" height="149.0" fill="url(#b44)"/><rect x="167" y="38.0" width="2" height="149.0" fill="url(#b45)"/><rect x="169" y="38.0" width="2" height="149.0" fill="url(#b46)"/><rect x="171" y="38.0" width="2" height="149.0" fill="url(#b47)"/><rect x="173" y="38.0" width="2" height="149.0" fill="url(#b48)"/><rect x="175" y="38.0" width="2" height="149.0" fill="url(#b49)"/><rect x="177" y="38.0" width="2" height="149.0" fill="url(#b50)"/><rect x="179" y="38.0" width="2" height="149.0" fill="url(#b51)"/><rect x="181" y="38.0" width="2" height="149.0" fill="url(#b52)"/><rect x="183" y="38.0" width="2" height="149.0" fill="url(#b53)"/><rect x="185" y="38.0" width="2" height="149.0" fill="url(#b54)"/><rect x="187" y="38.0" width="2" height="149.0" fill="url(#b55)"/><rect x="189" y="38.0" width="2" height="149.0" fill="url(#b56)"/><rect x="191" y="38.0" width="2" height="149.0" fill="url(#b57)"/><rect x="193" y="38.0" width="2" height="149.0" fill="url(#b58)"/><rect x="195" y="38.0" width="2" height="149.0" fill="url(#b59)"/><rect x="197" y="38.0" width="2" height="149.0" fill="url(#b60)"/><rect x="199" y="38.0" width="2" height="149.0" fill="url(#b61)"/><rect x="201" y="38.0" width="2" height="149.0" fill="url(#b62)"/><rect x="203" y="38.0" width="2" height="149.0" fill="url(#b63)"/><rect x="205" y="38.0" width="2" height="149.0" fill="url(#b64)"/><rect x="207" y="38.0" width="2" height="149.0" fill="url(#b65)"/><rect x="209" y="38.0" width="2" height="149.0" fill="url(#b66)"/><rect x="211" y="38.0" width="2" height="149.0" fill="url(#b67)"/><rect x="213" y="38.0" width="2" height="149.0" fill="url(#b68)"/><rect x="215" y="38.0" width="2" height="149.0" fill="url(#b69)"/><rect x="217" y="38.0" width="2" height="149.0" fill="url(#b70)"/><rect x="219" y="38.0" width="2" height="149.0" fill="url(#b71)"/><rect x="221" y="38.0" width="2" height="149.0" fill="url(#b72)"/><rect x="223" y="38.0" width="2" height="149.0" fill="url(#b73)"/><rect x="225" y="38.0" width="2" height="149.0" fill="url(#b74)"/><rect x="227" y="38.0" width="2" height="149.0" fill="url(#b75)"/><rect x="229" y="38.0" width="2" height="149.0" fill="url(#b76)"/><rect x="231" y="38.0" width="2" height="149.0" fill="url(#b77)"/><rect x="233" y="38.0" width="2" height="149.0" fill="url(#b78)"/><rect x="235" y="38.0" width="2" height="149.0" fill="url(#b79)"/><rect x="237" y="38.0" width="2" height="149.0" fill="url(#b80)"/><rect x="239" y="38.0" width="2" height="149.0" fill="url(#b81)"/><rect x="241" y="38.0" width="2" height="149.0" fill="url(#b82)"/><rect x="243" y="38.0" width="2" height="149.0" fill="url(#b83)"/><rect x="245" y="38.0" width="2" height="149.0" fill="url(#b84)"/><rect x="247" y="38.0" width="2" height="149.0" fill="url(#b85)"/><rect x="249" y="38.0" width="2" height="149.0" fill="url(#b86)"/><rect x="251" y="38.0" width="2" height="149.0" fill="url(#b87)"/><rect x="253" y="38.0" width="2" height="149.0" fill="url(#b88)"/><rect x="255" y="38.0" width="2" height="149.0" fill="url(#b89)"/><rect x="257" y="38.0" width="2" height="149.0" fill="url(#b90)"/><rect x="259" y="38.0" width="2" height="149.0" fill="url(#b91)"/><rect x="261" y="38.0" width="2" height="149.0" fill="url(#b92)"/><rect x="263" y="38.0" width="2" height="149.0" fill="url(#b93)"/><rect x="265" y="38.0" width="2" height="149.0" fill="url(#b94)"/><rect x="267" y="38.0" width="2" height="149.0" fill="url(#b95)"/><rect x="269" y="38.0" width="2" height="149.0" fill="url(#b96)"/><rect x="271" y="38.0" width="2" height="149.0" fill="url(#b97)"/><rect x="273" y="38.0" width="2" height="149.0" fill="url(#b98)"/><rect x="275" y="38.0" width="2" height="149.0" fill="url(#b99)"/><rect x="277" y="38.0" width="2" height="149.0" fill="url(#b100)"/><rect x="279" y="38.0" width="2" height="149.0" fill="url(#b101)"/><rect x="281" y="38.0" width="2" height="149.0" fill="url(#b102)"/><rect x="283" y="38.0" width="2" height="149.0" fill="url(#b103)"/><rect x="285" y="38.0" width="2" height="149.0" fill="url(#b104)"/><rect x="287" y="38.0" width="2" height="149.0" fill="url(#b105)"/><rect x="289" y="38.0" width="2" height="149.0" fill="url(#b106)"/><rect x="291" y="38.0" width="2" height="149.0" fill="url(#b107)"/><rect x="293" y="38.0" width="2" height="149.0" fill="url(#b108)"/><rect x="295" y="38.0" width="2" height="149.0" fill="url(#b109)"/><rect x="297" y="38.0" width="2" height="149.0" fill="url(#b110)"/><rect x="299" y="38.0" width="2" height="149.0" fill="url(#b111)"/><rect x="301" y="38.0" width="2" height="149.0" fill="url(#b112)"/><rect x="303" y="38.0" width="2" height="149.0" fill="url(#b113)"/><rect x="305" y="38.0" width="2" height="149.0" fill="url(#b114)"/><rect x="307" y="38.0" width="2" height="149.0" fill="url(#b115)"/><rect x="309" y="38.0" width="2" height="149.0" fill="url(#b116)"/><rect x="311" y="38.0" width="2" height="149.0" fill="url(#b117)"/><rect x="313" y="38.0" width="2" height="149.0" fill="url(#b118)"/><rect x="315" y="38.0" width="2" height="149.0" fill="url(#b119)"/><rect x="317" y="38.0" width="2" height="149.0" fill="url(#b120)"/><rect x="319" y="38.0" width="2" height="149.0" fill="url(#b121)"/><rect x="321" y="38.0" width="2" height="149.0" fill="url(#b122)"/><rect x="323" y="38.0" width="2" height="149.0" fill="url(#b123)"/><rect x="325" y="38.0" width="2" height="149.0" fill="url(#b124)"/><rect x="327" y="38.0" width="2" height="149.0" fill="url(#b125)"/><rect x="329" y="38.0" width="2" height="149.0" fill="url(#b126)"/><rect x="331" y="38.0" width="2" height="149.0" fill="url(#b127)"/><rect x="333" y="38.0" width="2" height="149.0" fill="url(#b128)"/><rect x="335" y="38.0" width="2" height="149.0" fill="url(#b129)"/><rect x="337" y="38.0" width="2" height="149.0" fill="url(#b130)"/><rect x="339" y="38.0" width="2" height="149.0" fill="url(#b131)"/><rect x="341" y="38.0" width="2" height="149.0" fill="url(#b132)"/><rect x="343" y="38.0" width="2" height="149.0" fill="url(#b133)"/><rect x="345" y="38.0" width="2" height="149.0" fill="url(#b134)"/><rect x="347" y="38.0" width="2" height="149.0" fill="url(#b135)"/><rect x="349" y="38.0" width="2" height="149.0" fill="url(#b136)"/><rect x="351" y="38.0" width="2" height="149.0" fill="url(#b137)"/><rect x="353" y="38.0" width="2" height="149.0" fill="url(#b138)"/><rect x="355" y="38.0" width="2" height="149.0" fill="url(#b139)"/><rect x="357" y="38.0" width="2" height="149.0" fill="url(#b140)"/><rect x="359" y="38.0" width="2" height="149.0" fill="url(#b141)"/><rect x="361" y="38.0" width="2" height="149.0" fill="url(#b142)"/><rect x="363" y="38.0" width="2" height="149.0" fill="url(#b143)"/><rect x="365" y="38.0" width="2" height="149.0" fill="url(#b144)"/><rect x="367" y="38.0" width="2" height="149.0" fill="url(#b145)"/><rect x="369" y="38.0" width="2" height="149.0" fill="url(#b146)"/><rect x="371" y="38.0" width="2" height="149.0" fill="url(#b147)"/><rect x="373" y="38.0" width="2" height="149.0" fill="url(#b148)"/><rect x="375" y="38.0" width="2" height="149.0" fill="url(#b149)"/><rect x="377" y="38.0" width="2" height="149.0" fill="url(#b150)"/><rect x="379" y="38.0" width="2" height="149.0" fill="url(#b151)"/><rect x="381" y="38.0" width="2" height="149.0" fill="url(#b152)"/><rect x="383" y="38.0" width="2" height="149.0" fill="url(#b153)"/><rect x="385" y="38.0" width="2" height="149.0" fill="url(#b154)"/><rect x="387" y="38.0" width="2" height="149.0" fill="url(#b155)"/><rect x="389" y="38.0" width="2" height="149.0" fill="url(#b156)"/><rect x="391" y="38.0" width="2" height="149.0" fill="url(#b157)"/><rect x="393" y="38.0" width="2" height="149.0" fill="url(#b158)"/><rect x="395" y="38.0" width="2" height="149.0" fill="url(#b159)"/><rect x="397" y="38.0" width="2" height="149.0" fill="url(#b160)"/><rect x="399" y="38.0" width="2" height="149.0" fill="url(#b161)"/><rect x="401" y="38.0" width="2" height="149.0" fill="url(#b162)"/><rect x="403" y="38.0" width="2" height="149.0" fill="url(#b163)"/><rect x="405" y="38.0" width="2" height="149.0" fill="url(#b164)"/><rect x="407" y="38.0" width="2" height="149.0" fill="url(#b165)"/><rect x="409" y="38.0" width="2" height="149.0" fill="url(#b166)"/><rect x="411" y="38.0" width="2" height="149.0" fill="url(#b167)"/><rect x="413" y="38.0" width="2" height="149.0" fill="url(#b168)"/><rect x="415" y="38.0" width="2" height="149.0" fill="url(#b169)"/><rect x="417" y="38.0" width="2" height="149.0" fill="url(#b170)"/><rect x="419" y="38.0" width="2" height="149.0" fill="url(#b171)"/><rect x="421" y="38.0" width="2" height="149.0" fill="url(#b172)"/><rect x="423" y="38.0" width="2" height="149.0" fill="url(#b173)"/><rect x="425" y="38.0" width="2" height="149.0" fill="url(#b174)"/><rect x="427" y="38.0" width="2" height="149.0" fill="url(#b175)"/><rect x="429" y="38.0" width="2" height="149.0" fill="url(#b176)"/><rect x="431" y="38.0" width="2" height="149.0" fill="url(#b177)"/><rect x="433" y="38.0" width="2" height="149.0" fill="url(#b178)"/><rect x="435" y="38.0" width="2" height="149.0" fill="url(#b179)"/><rect x="437" y="38.0" width="2" height="149.0" fill="url(#b180)"/><rect x="439" y="38.0" width="2" height="149.0" fill="url(#b181)"/><rect x="441" y="38.0" width="2" height="149.0" fill="url(#b182)"/><rect x="443" y="38.0" width="2" height="149.0" fill="url(#b183)"/><rect x="445" y="38.0" width="2" height="149.0" fill="url(#b184)"/><rect x="447" y="38.0" width="2" height="149.0" fill="url(#b185)"/><rect x="449" y="38.0" width="2" height="149.0" fill="url(#b186)"/><rect x="451" y="38.0" width="2" height="149.0" fill="url(#b187)"/><rect x="453" y="38.0" width="2" height="149.0" fill="url(#b188)"/><rect x="455" y="38.0" width="2" height="149.0" fill="url(#b189)"/><rect x="457" y="38.0" width="2" height="149.0" fill="url(#b190)"/><rect x="459" y="38.0" width="2" height="149.0" fill="url(#b191)"/><rect x="461" y="38.0" width="2" height="149.0" fill="url(#b192)"/><rect x="463" y="38.0" width="2" height="149.0" fill="url(#b193)"/><rect x="465" y="38.0" width="2" height="149.0" fill="url(#b194)"/><rect x="467" y="38.0" width="2" height="149.0" fill="url(#b195)"/><rect x="469" y="38.0" width="2" height="149.0" fill="url(#b196)"/><rect x="471" y="38.0" width="2" height="149.0" fill="url(#b197)"/><rect x="473" y="38.0" width="2" height="149.0" fill="url(#b198)"/><rect x="475" y="38.0" width="2" height="149.0" fill="url(#b199)"/><rect x="477" y="38.0" width="2" height="149.0" fill="url(#b200)"/><rect x="479" y="38.0" width="2" height="149.0" fill="url(#b201)"/><rect x="481" y="38.0" width="2" height="149.0" fill="url(#b202)"/><rect x="483" y="38.0" width="2" height="149.0" fill="url(#b203)"/><rect x="485" y="38.0" width="2" height="149.0" fill="url(#b204)"/><rect x="487" y="38.0" width="2" height="149.0" fill="url(#b205)"/><rect x="489" y="38.0" width="2" height="149.0" fill="url(#b206)"/><rect x="491" y="38.0" width="2" height="149.0" fill="url(#b207)"/><rect x="493" y="38.0" width="2" height="149.0" fill="url(#b208)"/><rect x="495" y="38.0" width="2" height="149.0" fill="url(#b209)"/><rect x="497" y="38.0" width="2" height="149.0" fill="url(#b210)"/><rect x="499" y="38.0" width="2" height="149.0" fill="url(#b211)"/><rect x="501" y="38.0" width="2" height="149.0" fill="url(#b212)"/><rect x="503" y="38.0" width="2" height="149.0" fill="url(#b213)"/><rect x="505" y="38.0" width="2" height="149.0" fill="url(#b214)"/><rect x="507" y="38.0" width="2" height="149.0" fill="url(#b215)"/><rect x="509" y="38.0" width="2" height="149.0" fill="url(#b216)"/><rect x="511" y="38.0" width="2" height="149.0" fill="url(#b217)"/><rect x="513" y="38.0" width="2" height="149.0" fill="url(#b218)"/><rect x="515" y="38.0" width="2" height="149.0" fill="url(#b219)"/><rect x="517" y="38.0" width="2" height="149.0" fill="url(#b220)"/><rect x="519" y="38.0" width="2" height="149.0" fill="url(#b221)"/><rect x="521" y="38.0" width="2" height="149.0" fill="url(#b222)"/><rect x="523" y="38.0" width="2" height="149.0" fill="url(#b223)"/><rect x="525" y="38.0" width="2" height="149.0" fill="url(#b224)"/><rect x="527" y="38.0" width="2" height="149.0" fill="url(#b225)"/><rect x="529" y="38.0" width="2" height="149.0" fill="url(#b226)"/><rect x="531" y="38.0" width="2" height="149.0" fill="url(#b227)"/><rect x="533" y="38.0" width="2" height="149.0" fill="url(#b228)"/><rect x="535" y="38.0" width="2" height="149.0" fill="url(#b229)"/><rect x="537" y="38.0" width="2" height="149.0" fill="url(#b230)"/><rect x="539" y="38.0" width="2" height="149.0" fill="url(#b231)"/><rect x="541" y="38.0" width="2" height="149.0" fill="url(#b232)"/><rect x="543" y="38.0" width="1" height="149.0" fill="url(#b233)"/></g></g>
<polygon points="77.00,268.20 83.80,268.20 83.80,296.00 86.90,302.00 90.00,311.70 93.00,318.00 96.20,324.00 100.80,336.50 104.00,344.00 107.00,352.00 110.20,367.60 113.30,383.00 114.80,396.00 77.00,396.00" fill="#fff"/>
<polygon points="172.50,396.00 172.50,368.00 174.40,366.00 176.30,363.00 181.00,362.00 182.00,343.00 184.80,334.00 188.60,327.30 192.40,326.00 196.00,330.00 200.00,334.00 202.70,335.80 204.60,331.00 205.50,337.00 206.50,339.50 210.30,347.00 215.00,350.00 216.00,348.00 217.80,358.40 220.70,364.00 221.60,396.00" fill="#fff"/>
<polygon points="246.00,396.00 246.00,392.40 247.20,375.40 248.40,363.00 250.10,353.40 252.00,346.00 255.70,338.80 259.40,331.50 264.30,324.00 266.70,316.80 268.00,307.00 269.00,299.80 270.00,299.80 271.00,303.00 272.00,303.00 272.80,299.80 274.00,299.80 274.00,307.00 275.20,316.80 278.90,324.00 283.80,331.50 287.40,338.80 290.60,346.00 291.60,358.00 293.50,375.40 294.80,392.40 295.00,396.00" fill="#fff"/>
<polygon points="301.60,396.00 301.60,378.50 302.00,364.00 305.00,364.00 305.50,378.50 306.00,396.00" fill="#fff"/>
<polygon points="404.70,396.00 404.70,391.30 406.60,380.00 408.90,363.60 410.20,347.00 413.00,341.50 420.00,333.00 426.90,324.90 429.60,316.50 431.00,302.70 432.40,282.00 433.80,302.70 436.60,316.50 439.30,324.90 444.90,333.00 450.40,344.00 453.20,355.30 454.60,369.00 456.50,391.30 456.50,396.00" fill="#fff"/>
<polygon points="476.40,396.00 476.40,392.00 480.20,371.70 482.80,348.80 485.30,346.20 490.40,336.00 495.50,329.60 500.60,323.30 503.20,319.40 508.30,323.30 516.00,319.40 518.50,310.50 521.00,319.40 523.60,315.60 527.40,295.20 531.20,313.00 535.00,320.70 540.20,323.30 544.00,323.30 544.00,396.00" fill="#fff"/>
<polygon points="77.00,395.00 544.00,395.00 544.00,401.00 77.00,401.00" fill="#fff"/>
<rect x="368" y="368" width="1" height="30" fill="#fff"/>
<rect x="307" y="353" width="1" height="27" fill="#fff"/>
<path fill="#fff" d="M106 252h2v1h-2zM130 252h1v1h-1zM229 252h1v1h-1zM341 252h1v1h-1zM402 252h1v1h-1zM476 252h2v1h-2zM121 253h2v1h-2zM288 253h2v1h-2zM399 253h1v1h-1zM434 253h1v1h-1zM462 253h1v1h-1zM126 254h1v1h-1zM160 254h1v1h-1zM182 254h2v1h-2zM269 254h1v1h-1zM337 254h1v1h-1zM405 254h1v1h-1zM423 254h2v1h-2zM436 254h2v1h-2zM505 254h1v1h-1zM91 255h2v1h-2zM92 255h1v1h-1zM104 255h1v1h-1zM151 255h2v1h-2zM165 255h1v1h-1zM303 255h1v1h-1zM411 255h1v1h-1zM421 255h2v1h-2zM448 255h2v1h-2zM509 255h1v1h-1zM185 256h1v1h-1zM256 256h2v1h-2zM266 256h1v1h-1zM351 256h2v1h-2zM500 256h1v1h-1zM148 257h1v1h-1zM316 257h1v1h-1zM474 257h1v1h-1zM526 257h1v1h-1zM136 258h1v1h-1zM157 258h1v1h-1zM240 258h1v1h-1zM410 258h1v1h-1zM141 259h1v1h-1zM148 259h2v1h-2zM266 259h1v1h-1zM354 259h1v1h-1zM419 259h1v1h-1zM158 260h1v1h-1zM281 260h1v1h-1zM381 260h1v1h-1zM391 260h1v1h-1zM463 260h1v1h-1zM122 261h1v1h-1zM288 261h1v1h-1zM362 261h1v1h-1zM426 261h1v1h-1zM478 261h1v1h-1zM481 261h2v1h-2zM123 262h2v1h-2zM125 262h1v1h-1zM178 262h2v1h-2zM290 262h1v1h-1zM366 262h2v1h-2zM383 262h1v1h-1zM385 262h2v1h-2zM82 263h1v1h-1zM101 263h1v1h-1zM120 263h2v1h-2zM132 263h1v1h-1zM179 263h1v1h-1zM258 263h1v1h-1zM271 263h1v1h-1zM320 263h2v1h-2zM448 263h1v1h-1zM475 263h1v1h-1zM499 263h1v1h-1zM144 264h2v1h-2zM158 264h1v1h-1zM394 264h1v1h-1zM99 265h2v1h-2zM183 265h1v1h-1zM388 265h1v1h-1zM446 265h1v1h-1zM501 265h2v1h-2zM105 266h1v1h-1zM106 266h1v1h-1zM108 266h2v1h-2zM161 266h1v1h-1zM314 266h1v1h-1zM332 266h1v1h-1zM358 266h1v1h-1zM89 267h1v1h-1zM133 267h1v1h-1zM167 267h1v1h-1zM303 267h1v1h-1zM310 267h1v1h-1zM332 267h1v1h-1zM355 267h1v1h-1zM457 267h1v1h-1zM534 267h1v1h-1zM93 268h1v1h-1zM120 268h1v1h-1zM127 268h1v1h-1zM249 268h1v1h-1zM262 268h1v1h-1zM284 268h1v1h-1zM319 268h1v1h-1zM329 268h1v1h-1zM346 268h1v1h-1zM137 269h1v1h-1zM250 269h1v1h-1zM323 269h1v1h-1zM365 269h1v1h-1zM110 270h1v1h-1zM131 270h1v1h-1zM178 270h1v1h-1zM189 270h1v1h-1zM263 270h2v1h-2zM292 270h1v1h-1zM364 270h2v1h-2zM445 270h1v1h-1zM495 270h1v1h-1zM528 270h1v1h-1zM119 271h1v1h-1zM237 271h1v1h-1zM371 271h1v1h-1zM452 271h2v1h-2zM454 271h1v1h-1zM500 271h1v1h-1zM126 272h1v1h-1zM131 272h1v1h-1zM150 272h1v1h-1zM153 272h1v1h-1zM196 272h2v1h-2zM201 272h2v1h-2zM207 272h2v1h-2zM354 272h1v1h-1zM399 272h2v1h-2zM429 272h1v1h-1zM487 272h1v1h-1zM523 272h1v1h-1zM118 273h1v1h-1zM158 273h1v1h-1zM217 273h2v1h-2zM318 273h1v1h-1zM320 273h2v1h-2zM330 273h1v1h-1zM349 273h1v1h-1zM422 273h2v1h-2zM509 273h2v1h-2zM126 274h2v1h-2zM168 274h1v1h-1zM331 274h2v1h-2zM502 274h2v1h-2zM227 275h1v1h-1zM267 275h1v1h-1zM288 275h2v1h-2zM318 275h2v1h-2zM320 275h1v1h-1zM340 275h1v1h-1zM359 275h1v1h-1zM536 275h2v1h-2zM126 276h2v1h-2zM127 276h1v1h-1zM140 276h2v1h-2zM197 276h1v1h-1zM199 276h2v1h-2zM309 276h1v1h-1zM347 276h1v1h-1zM460 276h1v1h-1zM533 276h1v1h-1zM180 277h1v1h-1zM199 277h1v1h-1zM247 277h2v1h-2zM295 277h2v1h-2zM301 277h1v1h-1zM339 277h1v1h-1zM420 277h2v1h-2zM471 277h1v1h-1zM479 277h1v1h-1zM138 278h1v1h-1zM162 278h1v1h-1zM185 278h1v1h-1zM254 278h1v1h-1zM321 278h2v1h-2zM338 278h1v1h-1zM379 278h1v1h-1zM382 278h1v1h-1zM461 278h1v1h-1zM471 278h2v1h-2zM523 278h1v1h-1zM135 279h1v1h-1zM163 279h1v1h-1zM335 279h1v1h-1zM391 279h1v1h-1zM485 279h1v1h-1zM86 280h2v1h-2zM134 280h1v1h-1zM308 280h1v1h-1zM323 280h1v1h-1zM363 280h1v1h-1zM485 280h1v1h-1zM488 280h2v1h-2zM501 280h1v1h-1zM522 280h2v1h-2zM100 281h2v1h-2zM166 281h1v1h-1zM197 281h1v1h-1zM313 281h1v1h-1zM341 281h1v1h-1zM387 281h1v1h-1zM411 281h2v1h-2zM538 281h1v1h-1zM107 282h1v1h-1zM148 282h1v1h-1zM159 282h1v1h-1zM251 282h1v1h-1zM349 282h2v1h-2zM463 282h1v1h-1zM486 282h2v1h-2zM90 283h1v1h-1zM91 283h1v1h-1zM127 283h1v1h-1zM135 283h1v1h-1zM266 283h2v1h-2zM418 283h1v1h-1zM486 283h1v1h-1zM135 284h1v1h-1zM148 284h2v1h-2zM156 284h1v1h-1zM190 284h1v1h-1zM201 284h1v1h-1zM212 284h1v1h-1zM242 284h1v1h-1zM247 284h1v1h-1zM293 284h1v1h-1zM347 284h2v1h-2zM358 284h1v1h-1zM413 284h2v1h-2zM463 284h1v1h-1zM523 284h2v1h-2zM331 285h1v1h-1zM342 285h1v1h-1zM495 285h2v1h-2zM100 286h1v1h-1zM119 286h1v1h-1zM136 286h2v1h-2zM174 286h2v1h-2zM245 286h1v1h-1zM264 286h1v1h-1zM285 286h1v1h-1zM365 286h1v1h-1zM370 286h1v1h-1zM372 286h1v1h-1zM450 286h1v1h-1zM112 287h1v1h-1zM132 287h1v1h-1zM171 287h2v1h-2zM291 287h1v1h-1zM304 287h1v1h-1zM349 287h2v1h-2zM364 287h1v1h-1zM377 287h2v1h-2zM392 287h1v1h-1zM121 288h1v1h-1zM194 288h2v1h-2zM209 288h1v1h-1zM341 288h2v1h-2zM358 288h1v1h-1zM127 289h1v1h-1zM142 289h2v1h-2zM148 289h2v1h-2zM306 289h1v1h-1zM338 289h2v1h-2zM423 289h1v1h-1zM114 290h2v1h-2zM138 290h1v1h-1zM149 290h1v1h-1zM174 290h2v1h-2zM370 290h1v1h-1zM460 290h1v1h-1zM114 291h1v1h-1zM160 291h1v1h-1zM261 291h1v1h-1zM301 291h1v1h-1zM326 291h1v1h-1zM418 291h1v1h-1zM163 292h2v1h-2zM175 292h1v1h-1zM275 292h2v1h-2zM320 292h1v1h-1zM337 292h2v1h-2zM339 292h2v1h-2zM386 292h1v1h-1zM404 292h2v1h-2zM450 292h1v1h-1zM494 292h1v1h-1zM158 293h1v1h-1zM301 293h2v1h-2zM536 293h1v1h-1zM120 294h1v1h-1zM201 294h1v1h-1zM235 294h2v1h-2zM341 294h2v1h-2zM379 294h1v1h-1zM429 294h1v1h-1zM475 294h2v1h-2zM130 295h1v1h-1zM163 295h1v1h-1zM164 295h1v1h-1zM259 295h1v1h-1zM300 295h1v1h-1zM317 295h1v1h-1zM334 295h2v1h-2zM340 295h1v1h-1zM352 295h1v1h-1zM368 295h1v1h-1zM125 296h1v1h-1zM146 296h1v1h-1zM158 296h2v1h-2zM314 296h2v1h-2zM328 296h2v1h-2zM385 296h1v1h-1zM395 296h1v1h-1zM444 296h1v1h-1zM463 296h2v1h-2zM481 296h1v1h-1zM523 296h1v1h-1zM131 297h1v1h-1zM134 297h1v1h-1zM155 297h1v1h-1zM294 297h1v1h-1zM311 297h1v1h-1zM323 297h1v1h-1zM330 297h2v1h-2zM333 297h1v1h-1zM376 297h2v1h-2zM151 298h2v1h-2zM197 298h1v1h-1zM294 298h1v1h-1zM374 298h1v1h-1zM377 298h2v1h-2zM423 298h1v1h-1zM426 298h1v1h-1zM448 298h1v1h-1zM449 298h1v1h-1zM466 298h1v1h-1zM493 298h1v1h-1zM511 298h2v1h-2zM530 298h2v1h-2zM99 299h1v1h-1zM147 299h2v1h-2zM218 299h1v1h-1zM239 299h1v1h-1zM245 299h2v1h-2zM287 299h2v1h-2zM299 299h2v1h-2zM318 299h1v1h-1zM390 299h1v1h-1zM406 299h1v1h-1zM143 300h1v1h-1zM181 300h2v1h-2zM231 300h1v1h-1zM283 300h1v1h-1zM314 300h1v1h-1zM319 300h1v1h-1zM343 300h1v1h-1zM347 300h1v1h-1zM349 300h2v1h-2zM406 300h2v1h-2zM428 300h1v1h-1zM449 300h1v1h-1zM502 300h1v1h-1zM100 301h1v1h-1zM164 301h1v1h-1zM167 301h1v1h-1zM221 301h1v1h-1zM238 301h1v1h-1zM244 301h2v1h-2zM282 301h1v1h-1zM321 301h1v1h-1zM369 301h1v1h-1zM401 301h2v1h-2zM511 301h1v1h-1zM158 302h2v1h-2zM216 302h1v1h-1zM223 302h1v1h-1zM283 302h1v1h-1zM351 302h2v1h-2zM454 302h1v1h-1zM458 302h1v1h-1zM529 302h1v1h-1zM100 303h1v1h-1zM132 303h1v1h-1zM179 303h1v1h-1zM212 303h2v1h-2zM240 303h1v1h-1zM262 303h1v1h-1zM268 303h1v1h-1zM288 303h1v1h-1zM316 303h2v1h-2zM386 303h2v1h-2zM451 303h2v1h-2zM500 303h1v1h-1zM127 304h1v1h-1zM166 304h2v1h-2zM196 304h1v1h-1zM263 304h2v1h-2zM325 304h1v1h-1zM373 304h1v1h-1zM399 304h1v1h-1zM438 304h1v1h-1zM524 304h1v1h-1zM123 305h1v1h-1zM154 305h1v1h-1zM287 305h2v1h-2zM312 305h2v1h-2zM315 305h2v1h-2zM322 305h1v1h-1zM336 305h1v1h-1zM369 305h1v1h-1zM501 305h2v1h-2zM145 306h1v1h-1zM184 306h2v1h-2zM208 306h2v1h-2zM287 306h2v1h-2zM335 306h1v1h-1zM352 306h1v1h-1zM367 306h2v1h-2zM373 306h2v1h-2zM409 306h1v1h-1zM143 307h1v1h-1zM205 307h1v1h-1zM236 307h1v1h-1zM311 307h1v1h-1zM318 307h1v1h-1zM435 307h2v1h-2zM485 307h2v1h-2zM153 308h2v1h-2zM196 308h1v1h-1zM310 308h1v1h-1zM332 308h2v1h-2zM362 308h1v1h-1zM450 308h1v1h-1zM87 309h2v1h-2zM119 309h1v1h-1zM146 309h1v1h-1zM238 309h1v1h-1zM278 309h1v1h-1zM327 309h1v1h-1zM345 309h1v1h-1zM346 309h2v1h-2zM350 309h1v1h-1zM392 309h1v1h-1zM435 309h1v1h-1zM495 309h1v1h-1zM138 310h2v1h-2zM146 310h1v1h-1zM161 310h1v1h-1zM278 310h1v1h-1zM303 310h1v1h-1zM322 310h2v1h-2zM382 310h2v1h-2zM392 310h1v1h-1zM458 310h1v1h-1zM488 310h1v1h-1zM90 311h1v1h-1zM146 311h2v1h-2zM150 311h1v1h-1zM172 311h1v1h-1zM210 311h1v1h-1zM289 311h1v1h-1zM317 311h1v1h-1zM324 311h2v1h-2zM354 311h1v1h-1zM381 311h1v1h-1zM388 311h2v1h-2zM465 311h1v1h-1zM470 311h1v1h-1zM159 312h1v1h-1zM174 312h1v1h-1zM196 312h2v1h-2zM197 312h2v1h-2zM218 312h2v1h-2zM271 312h1v1h-1zM276 312h2v1h-2zM319 312h2v1h-2zM325 312h1v1h-1zM341 312h1v1h-1zM348 312h1v1h-1zM363 312h1v1h-1zM474 312h2v1h-2zM113 313h2v1h-2zM119 313h1v1h-1zM123 313h1v1h-1zM130 313h1v1h-1zM152 313h1v1h-1zM170 313h1v1h-1zM296 313h2v1h-2zM307 313h2v1h-2zM362 313h2v1h-2zM377 313h2v1h-2zM453 313h1v1h-1zM477 313h1v1h-1zM496 313h1v1h-1zM505 313h1v1h-1zM516 313h1v1h-1zM141 314h1v1h-1zM155 314h1v1h-1zM176 314h2v1h-2zM244 314h1v1h-1zM317 314h2v1h-2zM335 314h1v1h-1zM338 314h1v1h-1zM384 314h2v1h-2zM526 314h1v1h-1zM143 315h2v1h-2zM204 315h2v1h-2zM326 315h2v1h-2zM342 315h1v1h-1zM343 315h1v1h-1zM409 315h1v1h-1zM451 315h1v1h-1zM469 315h1v1h-1zM536 315h1v1h-1zM127 316h1v1h-1zM147 316h1v1h-1zM152 316h1v1h-1zM189 316h1v1h-1zM242 316h1v1h-1zM254 316h1v1h-1zM257 316h2v1h-2zM292 316h1v1h-1zM313 316h1v1h-1zM344 316h1v1h-1zM369 316h1v1h-1zM384 316h1v1h-1zM421 316h1v1h-1zM466 316h2v1h-2zM476 316h2v1h-2zM490 316h1v1h-1zM125 317h1v1h-1zM306 317h1v1h-1zM319 317h2v1h-2zM336 317h1v1h-1zM347 317h2v1h-2zM353 317h1v1h-1zM453 317h1v1h-1zM513 317h1v1h-1zM91 318h1v1h-1zM95 318h1v1h-1zM121 318h2v1h-2zM139 318h1v1h-1zM282 318h1v1h-1zM317 318h2v1h-2zM403 318h1v1h-1zM100 319h1v1h-1zM103 319h1v1h-1zM109 319h1v1h-1zM122 319h1v1h-1zM126 319h2v1h-2zM140 319h1v1h-1zM175 319h2v1h-2zM184 319h1v1h-1zM209 319h1v1h-1zM263 319h1v1h-1zM277 319h1v1h-1zM295 319h1v1h-1zM301 319h2v1h-2zM343 319h1v1h-1zM348 319h1v1h-1zM356 319h1v1h-1zM370 319h1v1h-1zM380 319h2v1h-2zM383 319h1v1h-1zM386 319h1v1h-1zM416 319h1v1h-1zM439 319h1v1h-1zM444 319h2v1h-2zM80 320h1v1h-1zM81 320h1v1h-1zM141 320h1v1h-1zM142 320h2v1h-2zM151 320h1v1h-1zM245 320h1v1h-1zM252 320h2v1h-2zM305 320h1v1h-1zM320 320h1v1h-1zM329 320h2v1h-2zM359 320h1v1h-1zM432 320h1v1h-1zM436 320h1v1h-1zM497 320h1v1h-1zM80 321h1v1h-1zM198 321h1v1h-1zM327 321h1v1h-1zM328 321h1v1h-1zM354 321h1v1h-1zM378 321h2v1h-2zM429 321h1v1h-1zM437 321h1v1h-1zM448 321h2v1h-2zM467 321h2v1h-2zM476 321h1v1h-1zM129 322h1v1h-1zM135 322h2v1h-2zM142 322h1v1h-1zM143 322h1v1h-1zM162 322h2v1h-2zM164 322h1v1h-1zM275 322h1v1h-1zM298 322h1v1h-1zM331 322h2v1h-2zM124 323h1v1h-1zM146 323h1v1h-1zM147 323h2v1h-2zM255 323h1v1h-1zM265 323h1v1h-1zM280 323h1v1h-1zM320 323h1v1h-1zM337 323h1v1h-1zM365 323h1v1h-1zM379 323h2v1h-2zM450 323h2v1h-2zM478 323h1v1h-1zM525 323h1v1h-1zM119 324h2v1h-2zM131 324h1v1h-1zM137 324h1v1h-1zM141 324h1v1h-1zM149 324h2v1h-2zM153 324h1v1h-1zM157 324h1v1h-1zM184 324h2v1h-2zM257 324h1v1h-1zM261 324h1v1h-1zM283 324h1v1h-1zM289 324h2v1h-2zM337 324h1v1h-1zM380 324h2v1h-2zM386 324h1v1h-1zM398 324h1v1h-1zM406 324h1v1h-1zM438 324h2v1h-2zM81 325h2v1h-2zM122 325h1v1h-1zM155 325h2v1h-2zM269 325h1v1h-1zM310 325h1v1h-1zM336 325h1v1h-1zM356 325h2v1h-2zM439 325h1v1h-1zM455 325h1v1h-1zM114 326h1v1h-1zM124 326h1v1h-1zM126 326h1v1h-1zM130 326h1v1h-1zM164 326h2v1h-2zM167 326h1v1h-1zM172 326h1v1h-1zM226 326h1v1h-1zM287 326h1v1h-1zM309 326h1v1h-1zM484 326h2v1h-2zM486 326h1v1h-1zM114 327h1v1h-1zM164 327h1v1h-1zM238 327h1v1h-1zM327 327h1v1h-1zM338 327h2v1h-2zM340 327h2v1h-2zM351 327h1v1h-1zM357 327h1v1h-1zM398 327h1v1h-1zM402 327h1v1h-1zM453 327h2v1h-2zM483 327h2v1h-2zM81 328h1v1h-1zM150 328h1v1h-1zM156 328h2v1h-2zM184 328h1v1h-1zM189 328h1v1h-1zM194 328h1v1h-1zM303 328h1v1h-1zM309 328h2v1h-2zM312 328h1v1h-1zM328 328h1v1h-1zM349 328h2v1h-2zM353 328h1v1h-1zM382 328h1v1h-1zM440 328h1v1h-1zM474 328h1v1h-1zM511 328h2v1h-2zM99 329h1v1h-1zM165 329h1v1h-1zM262 329h2v1h-2zM305 329h1v1h-1zM307 329h2v1h-2zM445 329h1v1h-1zM461 329h2v1h-2zM485 329h1v1h-1zM528 329h1v1h-1zM107 330h1v1h-1zM110 330h1v1h-1zM126 330h1v1h-1zM144 330h1v1h-1zM147 330h1v1h-1zM174 330h1v1h-1zM296 330h2v1h-2zM315 330h1v1h-1zM318 330h1v1h-1zM323 330h1v1h-1zM329 330h2v1h-2zM390 330h1v1h-1zM399 330h2v1h-2zM101 331h1v1h-1zM138 331h1v1h-1zM159 331h1v1h-1zM194 331h1v1h-1zM308 331h2v1h-2zM323 331h1v1h-1zM335 331h1v1h-1zM364 331h2v1h-2zM407 331h1v1h-1zM444 331h2v1h-2zM488 331h1v1h-1zM99 332h2v1h-2zM154 332h1v1h-1zM160 332h2v1h-2zM167 332h1v1h-1zM208 332h2v1h-2zM310 332h1v1h-1zM338 332h1v1h-1zM365 332h1v1h-1zM381 332h1v1h-1zM446 332h1v1h-1zM482 332h1v1h-1zM111 333h2v1h-2zM136 333h1v1h-1zM152 333h1v1h-1zM161 333h1v1h-1zM228 333h2v1h-2zM308 333h1v1h-1zM312 333h1v1h-1zM376 333h1v1h-1zM399 333h1v1h-1zM407 333h2v1h-2zM129 334h2v1h-2zM136 334h2v1h-2zM145 334h1v1h-1zM223 334h1v1h-1zM293 334h2v1h-2zM303 334h1v1h-1zM326 334h1v1h-1zM339 334h2v1h-2zM362 334h1v1h-1zM412 334h1v1h-1zM454 334h1v1h-1zM120 335h1v1h-1zM139 335h2v1h-2zM155 335h1v1h-1zM156 335h1v1h-1zM172 335h1v1h-1zM188 335h1v1h-1zM206 335h2v1h-2zM237 335h1v1h-1zM347 335h2v1h-2zM367 335h1v1h-1zM375 335h2v1h-2zM487 335h1v1h-1zM110 336h1v1h-1zM133 336h1v1h-1zM152 336h1v1h-1zM154 336h1v1h-1zM174 336h1v1h-1zM254 336h1v1h-1zM370 336h1v1h-1zM375 336h1v1h-1zM539 336h1v1h-1zM127 337h1v1h-1zM132 337h1v1h-1zM140 337h1v1h-1zM220 337h1v1h-1zM336 337h1v1h-1zM345 337h1v1h-1zM364 337h2v1h-2zM397 337h1v1h-1zM447 337h1v1h-1zM116 338h1v1h-1zM133 338h2v1h-2zM138 338h1v1h-1zM322 338h1v1h-1zM371 338h1v1h-1zM399 338h1v1h-1zM446 338h2v1h-2zM504 338h1v1h-1zM104 339h1v1h-1zM106 339h1v1h-1zM138 339h1v1h-1zM262 339h1v1h-1zM267 339h1v1h-1zM315 339h2v1h-2zM354 339h1v1h-1zM385 339h1v1h-1zM402 339h1v1h-1zM464 339h1v1h-1zM101 340h1v1h-1zM105 340h1v1h-1zM127 340h1v1h-1zM132 340h1v1h-1zM311 340h1v1h-1zM320 340h1v1h-1zM349 340h1v1h-1zM389 340h1v1h-1zM390 340h1v1h-1zM114 341h2v1h-2zM193 341h1v1h-1zM290 341h2v1h-2zM322 341h1v1h-1zM333 341h2v1h-2zM373 341h2v1h-2zM443 341h1v1h-1zM445 341h1v1h-1zM473 341h2v1h-2zM517 341h1v1h-1zM537 341h1v1h-1zM289 342h1v1h-1zM307 342h1v1h-1zM332 342h2v1h-2zM366 342h2v1h-2zM370 342h1v1h-1zM422 342h1v1h-1zM94 343h1v1h-1zM132 343h1v1h-1zM143 343h1v1h-1zM147 343h1v1h-1zM162 343h1v1h-1zM304 343h1v1h-1zM349 343h1v1h-1zM124 344h1v1h-1zM177 344h1v1h-1zM179 344h1v1h-1zM309 344h1v1h-1zM330 344h1v1h-1zM350 344h1v1h-1zM369 344h1v1h-1zM370 344h1v1h-1zM398 344h1v1h-1zM412 344h2v1h-2zM451 344h1v1h-1zM474 344h2v1h-2zM137 345h2v1h-2zM149 345h1v1h-1zM293 345h1v1h-1zM362 345h1v1h-1zM445 345h1v1h-1zM135 346h1v1h-1zM143 346h1v1h-1zM161 346h1v1h-1zM174 346h1v1h-1zM227 346h1v1h-1zM287 346h1v1h-1zM297 346h1v1h-1zM315 346h1v1h-1zM324 346h1v1h-1zM365 346h1v1h-1zM373 346h1v1h-1zM391 346h1v1h-1zM508 346h1v1h-1zM123 347h1v1h-1zM131 347h1v1h-1zM139 347h1v1h-1zM161 347h1v1h-1zM166 347h2v1h-2zM212 347h1v1h-1zM321 347h2v1h-2zM335 347h1v1h-1zM342 347h1v1h-1zM346 347h1v1h-1zM379 347h2v1h-2zM518 347h1v1h-1zM531 347h1v1h-1zM109 348h1v1h-1zM125 348h1v1h-1zM163 348h2v1h-2zM331 348h2v1h-2zM337 348h1v1h-1zM345 348h1v1h-1zM497 348h2v1h-2zM515 348h1v1h-1zM81 349h1v1h-1zM146 349h2v1h-2zM204 349h1v1h-1zM316 349h1v1h-1zM334 349h1v1h-1zM372 349h1v1h-1zM373 349h1v1h-1zM380 349h1v1h-1zM484 349h1v1h-1zM150 350h1v1h-1zM270 350h1v1h-1zM353 350h1v1h-1zM358 350h1v1h-1zM404 350h1v1h-1zM456 350h1v1h-1zM500 350h1v1h-1zM88 351h1v1h-1zM93 351h1v1h-1zM116 351h1v1h-1zM293 351h1v1h-1zM351 351h2v1h-2zM368 351h1v1h-1zM440 351h1v1h-1zM103 352h2v1h-2zM115 352h1v1h-1zM136 352h2v1h-2zM142 352h2v1h-2zM162 352h2v1h-2zM166 352h1v1h-1zM181 352h1v1h-1zM247 352h1v1h-1zM312 352h1v1h-1zM369 352h1v1h-1zM417 352h1v1h-1zM504 352h1v1h-1zM518 352h1v1h-1zM131 353h1v1h-1zM292 353h1v1h-1zM350 353h2v1h-2zM351 353h1v1h-1zM501 353h2v1h-2zM529 353h2v1h-2zM532 353h1v1h-1zM117 354h1v1h-1zM140 354h1v1h-1zM142 354h1v1h-1zM248 354h1v1h-1zM292 354h1v1h-1zM366 354h1v1h-1zM542 354h1v1h-1zM99 355h1v1h-1zM127 355h2v1h-2zM152 355h2v1h-2zM153 355h1v1h-1zM170 355h1v1h-1zM174 355h1v1h-1zM244 355h1v1h-1zM277 355h2v1h-2zM310 355h2v1h-2zM336 355h1v1h-1zM347 355h1v1h-1zM490 355h1v1h-1zM81 356h1v1h-1zM96 356h2v1h-2zM106 356h2v1h-2zM117 356h2v1h-2zM122 356h1v1h-1zM134 356h1v1h-1zM169 356h2v1h-2zM244 356h1v1h-1zM245 356h1v1h-1zM290 356h1v1h-1zM312 356h1v1h-1zM316 356h1v1h-1zM341 356h1v1h-1zM349 356h2v1h-2zM374 356h2v1h-2zM385 356h1v1h-1zM128 357h1v1h-1zM132 357h2v1h-2zM141 357h2v1h-2zM158 357h1v1h-1zM182 357h1v1h-1zM314 357h1v1h-1zM337 357h1v1h-1zM364 357h1v1h-1zM379 357h1v1h-1zM469 357h1v1h-1zM154 358h1v1h-1zM356 358h1v1h-1zM437 358h1v1h-1zM441 358h1v1h-1zM444 358h1v1h-1zM476 358h1v1h-1zM140 359h1v1h-1zM144 359h1v1h-1zM145 359h2v1h-2zM163 359h1v1h-1zM298 359h1v1h-1zM424 359h2v1h-2zM475 359h1v1h-1zM481 359h1v1h-1zM112 360h2v1h-2zM120 360h1v1h-1zM122 360h1v1h-1zM158 360h1v1h-1zM184 360h1v1h-1zM262 360h1v1h-1zM299 360h1v1h-1zM300 360h1v1h-1zM306 360h2v1h-2zM309 360h1v1h-1zM325 360h2v1h-2zM331 360h1v1h-1zM389 360h2v1h-2zM409 360h1v1h-1zM462 360h2v1h-2zM496 360h1v1h-1zM131 361h1v1h-1zM327 361h1v1h-1zM329 361h1v1h-1zM389 361h1v1h-1zM391 361h1v1h-1zM424 361h1v1h-1zM433 361h2v1h-2zM175 362h2v1h-2zM232 362h1v1h-1zM295 362h1v1h-1zM324 362h2v1h-2zM447 362h2v1h-2zM500 362h2v1h-2zM516 362h2v1h-2zM145 363h1v1h-1zM148 363h2v1h-2zM155 363h2v1h-2zM296 363h1v1h-1zM343 363h1v1h-1zM348 363h1v1h-1zM379 363h1v1h-1zM460 363h1v1h-1zM79 364h1v1h-1zM111 364h2v1h-2zM123 364h2v1h-2zM130 364h1v1h-1zM151 364h1v1h-1zM340 364h2v1h-2zM460 364h1v1h-1zM168 365h2v1h-2zM188 365h2v1h-2zM256 365h2v1h-2zM394 365h1v1h-1zM435 365h2v1h-2zM457 365h1v1h-1zM150 366h1v1h-1zM169 366h1v1h-1zM184 366h2v1h-2zM306 366h1v1h-1zM326 366h2v1h-2zM329 366h1v1h-1zM347 366h1v1h-1zM348 366h1v1h-1zM395 366h1v1h-1zM426 366h1v1h-1zM447 366h1v1h-1zM462 366h1v1h-1zM139 367h1v1h-1zM149 367h1v1h-1zM311 367h1v1h-1zM319 367h2v1h-2zM389 367h2v1h-2zM131 368h2v1h-2zM135 368h1v1h-1zM146 368h1v1h-1zM199 368h1v1h-1zM311 368h2v1h-2zM332 368h1v1h-1zM487 368h1v1h-1zM538 368h1v1h-1zM117 369h1v1h-1zM134 369h1v1h-1zM138 369h1v1h-1zM183 369h1v1h-1zM193 369h1v1h-1zM210 369h1v1h-1zM212 369h1v1h-1zM305 369h1v1h-1zM326 369h1v1h-1zM364 369h2v1h-2zM377 369h1v1h-1zM386 369h1v1h-1zM404 369h2v1h-2zM428 369h2v1h-2zM460 369h1v1h-1zM471 369h1v1h-1zM168 370h1v1h-1zM230 370h1v1h-1zM279 370h1v1h-1zM356 370h2v1h-2zM357 370h1v1h-1zM400 370h1v1h-1zM497 370h1v1h-1zM125 371h1v1h-1zM128 371h2v1h-2zM353 371h2v1h-2zM503 371h1v1h-1zM102 372h2v1h-2zM115 372h1v1h-1zM264 372h1v1h-1zM266 372h1v1h-1zM334 372h1v1h-1zM349 372h1v1h-1zM357 372h1v1h-1zM407 372h1v1h-1zM432 372h1v1h-1zM459 372h1v1h-1zM465 372h2v1h-2zM116 373h1v1h-1zM137 373h2v1h-2zM149 373h1v1h-1zM220 373h2v1h-2zM327 373h1v1h-1zM332 373h1v1h-1zM369 373h1v1h-1zM374 373h1v1h-1zM379 373h1v1h-1zM522 373h1v1h-1zM157 374h1v1h-1zM170 374h1v1h-1zM354 374h1v1h-1zM371 374h1v1h-1zM385 374h1v1h-1zM169 375h1v1h-1zM311 375h1v1h-1zM443 375h1v1h-1zM486 375h1v1h-1zM159 376h2v1h-2zM161 376h1v1h-1zM192 376h1v1h-1zM280 376h1v1h-1zM369 376h1v1h-1zM407 376h1v1h-1zM429 376h1v1h-1zM454 376h1v1h-1zM180 377h1v1h-1zM334 377h1v1h-1zM379 377h1v1h-1zM413 377h1v1h-1zM539 377h1v1h-1zM105 378h2v1h-2zM117 378h1v1h-1zM133 378h2v1h-2zM156 378h1v1h-1zM193 378h1v1h-1zM200 378h1v1h-1zM299 378h1v1h-1zM397 378h1v1h-1zM469 378h1v1h-1zM139 379h1v1h-1zM148 379h1v1h-1zM196 379h1v1h-1zM235 379h1v1h-1zM290 379h1v1h-1zM301 379h1v1h-1zM380 379h1v1h-1zM487 379h1v1h-1zM121 380h1v1h-1zM136 380h1v1h-1zM280 380h2v1h-2zM325 380h1v1h-1zM326 380h2v1h-2zM360 380h1v1h-1zM426 380h1v1h-1zM137 381h1v1h-1zM295 381h1v1h-1zM370 381h2v1h-2zM449 381h1v1h-1zM133 382h2v1h-2zM154 382h1v1h-1zM299 382h2v1h-2zM311 382h1v1h-1zM321 382h1v1h-1zM358 382h1v1h-1zM368 382h1v1h-1zM382 382h1v1h-1zM324 383h2v1h-2zM327 383h1v1h-1zM140 384h2v1h-2zM262 384h1v1h-1zM301 384h1v1h-1zM367 384h2v1h-2zM457 384h1v1h-1zM508 384h1v1h-1zM524 384h1v1h-1zM137 385h1v1h-1zM154 385h2v1h-2zM157 385h1v1h-1zM255 385h2v1h-2zM262 385h2v1h-2zM361 385h1v1h-1zM378 385h2v1h-2zM401 385h2v1h-2zM145 386h1v1h-1zM236 386h1v1h-1zM301 386h1v1h-1zM332 386h1v1h-1zM375 386h1v1h-1zM405 386h2v1h-2zM473 386h1v1h-1zM100 387h2v1h-2zM167 387h2v1h-2zM229 387h1v1h-1zM263 387h2v1h-2zM126 388h2v1h-2zM139 388h1v1h-1zM188 388h1v1h-1zM285 388h2v1h-2zM329 388h1v1h-1zM344 388h1v1h-1zM364 388h1v1h-1zM366 388h2v1h-2zM382 388h1v1h-1zM111 389h2v1h-2zM161 389h1v1h-1zM131 390h1v1h-1zM165 390h1v1h-1zM209 390h1v1h-1zM268 390h2v1h-2zM296 390h1v1h-1zM315 390h2v1h-2zM375 390h1v1h-1zM519 390h1v1h-1zM81 391h1v1h-1zM128 391h1v1h-1zM308 391h1v1h-1zM83 392h1v1h-1zM129 392h2v1h-2zM235 392h1v1h-1zM305 392h1v1h-1zM330 392h1v1h-1zM389 392h1v1h-1zM480 392h1v1h-1zM541 392h1v1h-1zM130 393h1v1h-1zM133 393h1v1h-1zM149 393h1v1h-1zM184 393h1v1h-1zM435 393h1v1h-1zM453 393h1v1h-1zM455 393h1v1h-1zM170 394h2v1h-2zM226 394h1v1h-1zM346 394h2v1h-2zM357 394h2v1h-2z"/>
<g clip-path="url(#w214)" stroke="#000" stroke-width="1" stroke-dasharray="1 4" shape-rendering="crispEdges"><line x1="120.5" y1="256" x2="120.5" y2="400"/><line x1="163.5" y1="256" x2="163.5" y2="400"/><line x1="206.5" y1="256" x2="206.5" y2="400"/><line x1="249.5" y1="256" x2="249.5" y2="400"/><line x1="292.5" y1="256" x2="292.5" y2="400"/><line x1="335.5" y1="256" x2="335.5" y2="400"/><line x1="378.5" y1="256" x2="378.5" y2="400"/><line x1="421.5" y1="256" x2="421.5" y2="400"/><line x1="464.5" y1="256" x2="464.5" y2="400"/><line x1="507.5" y1="256" x2="507.5" y2="400"/><line x1="77" y1="288.5" x2="543" y2="288.5"/><line x1="77" y1="325.5" x2="543" y2="325.5"/><line x1="77" y1="362.5" x2="543" y2="362.5"/><line x1="77" y1="399.5" x2="543" y2="399.5"/></g>
<g clip-path="url(#w214)" stroke="#000" stroke-width="1" shape-rendering="crispEdges"><line x1="77.5" y1="401" x2="77.5" y2="397"/><line x1="120.5" y1="401" x2="120.5" y2="397"/><line x1="163.5" y1="401" x2="163.5" y2="397"/><line x1="206.5" y1="401" x2="206.5" y2="397"/><line x1="249.5" y1="401" x2="249.5" y2="397"/><line x1="292.5" y1="401" x2="292.5" y2="397"/><line x1="335.5" y1="401" x2="335.5" y2="397"/><line x1="378.5" y1="401" x2="378.5" y2="397"/><line x1="421.5" y1="401" x2="421.5" y2="397"/><line x1="464.5" y1="401" x2="464.5" y2="397"/><line x1="507.5" y1="401" x2="507.5" y2="397"/><line x1="78" y1="251.5" x2="82" y2="251.5"/><line x1="78" y1="288.5" x2="82" y2="288.5"/><line x1="78" y1="325.5" x2="82" y2="325.5"/><line x1="78" y1="362.5" x2="82" y2="362.5"/><line x1="78" y1="399.5" x2="82" y2="399.5"/></g>
<g stroke="#000" stroke-width="1" shape-rendering="crispEdges"><line x1="77" y1="401.5" x2="544" y2="401.5"/></g>
<g clip-path="url(#w214)" stroke="#000" stroke-width="1" shape-rendering="crispEdges"><line x1="77.5" y1="252" x2="77.5" y2="402"/></g>
<text class="t" x="77.20" y="417.7" text-anchor="middle">0</text>
<text class="t" x="120.17" y="417.7" text-anchor="middle">50</text>
<text class="t" x="163.14" y="417.7" text-anchor="middle">100</text>
<text class="t" x="206.11" y="417.7" text-anchor="middle">150</text>
<text class="t" x="249.08" y="417.7" text-anchor="middle">200</text>
<text class="t" x="292.05" y="417.7" text-anchor="middle">250</text>
<text class="t" x="335.02" y="417.7" text-anchor="middle">300</text>
<text class="t" x="377.99" y="417.7" text-anchor="middle">350</text>
<text class="t" x="420.96" y="417.7" text-anchor="middle">400</text>
<text class="t" x="463.93" y="417.7" text-anchor="middle">450</text>
<text class="t" x="506.90" y="417.7" text-anchor="middle">500</text>
<text class="t" x="74.2" y="255.9" text-anchor="end">0</text>
<text class="t" x="74.2" y="292.9" text-anchor="end">50</text>
<text class="t" x="74.2" y="330.0" text-anchor="end">100</text>
<text class="t" x="74.2" y="367.0" text-anchor="end">150</text>
<text class="t" x="74.2" y="404.0" text-anchor="end">200</text>
<text class="ti" x="102.5" y="240.6" textLength="415" lengthAdjust="spacingAndGlyphs">Temperature: Full data set (scatter plot, every 20th point used)</text>
<text class="l" transform="translate(45.3,326.6) rotate(-90)" text-anchor="middle">Depth,(m)</text>
<text class="l" x="262.2" y="434.4" textLength="92.6" lengthAdjust="spacingAndGlyphs">Distance, (km)</text>
</svg></body></html>
